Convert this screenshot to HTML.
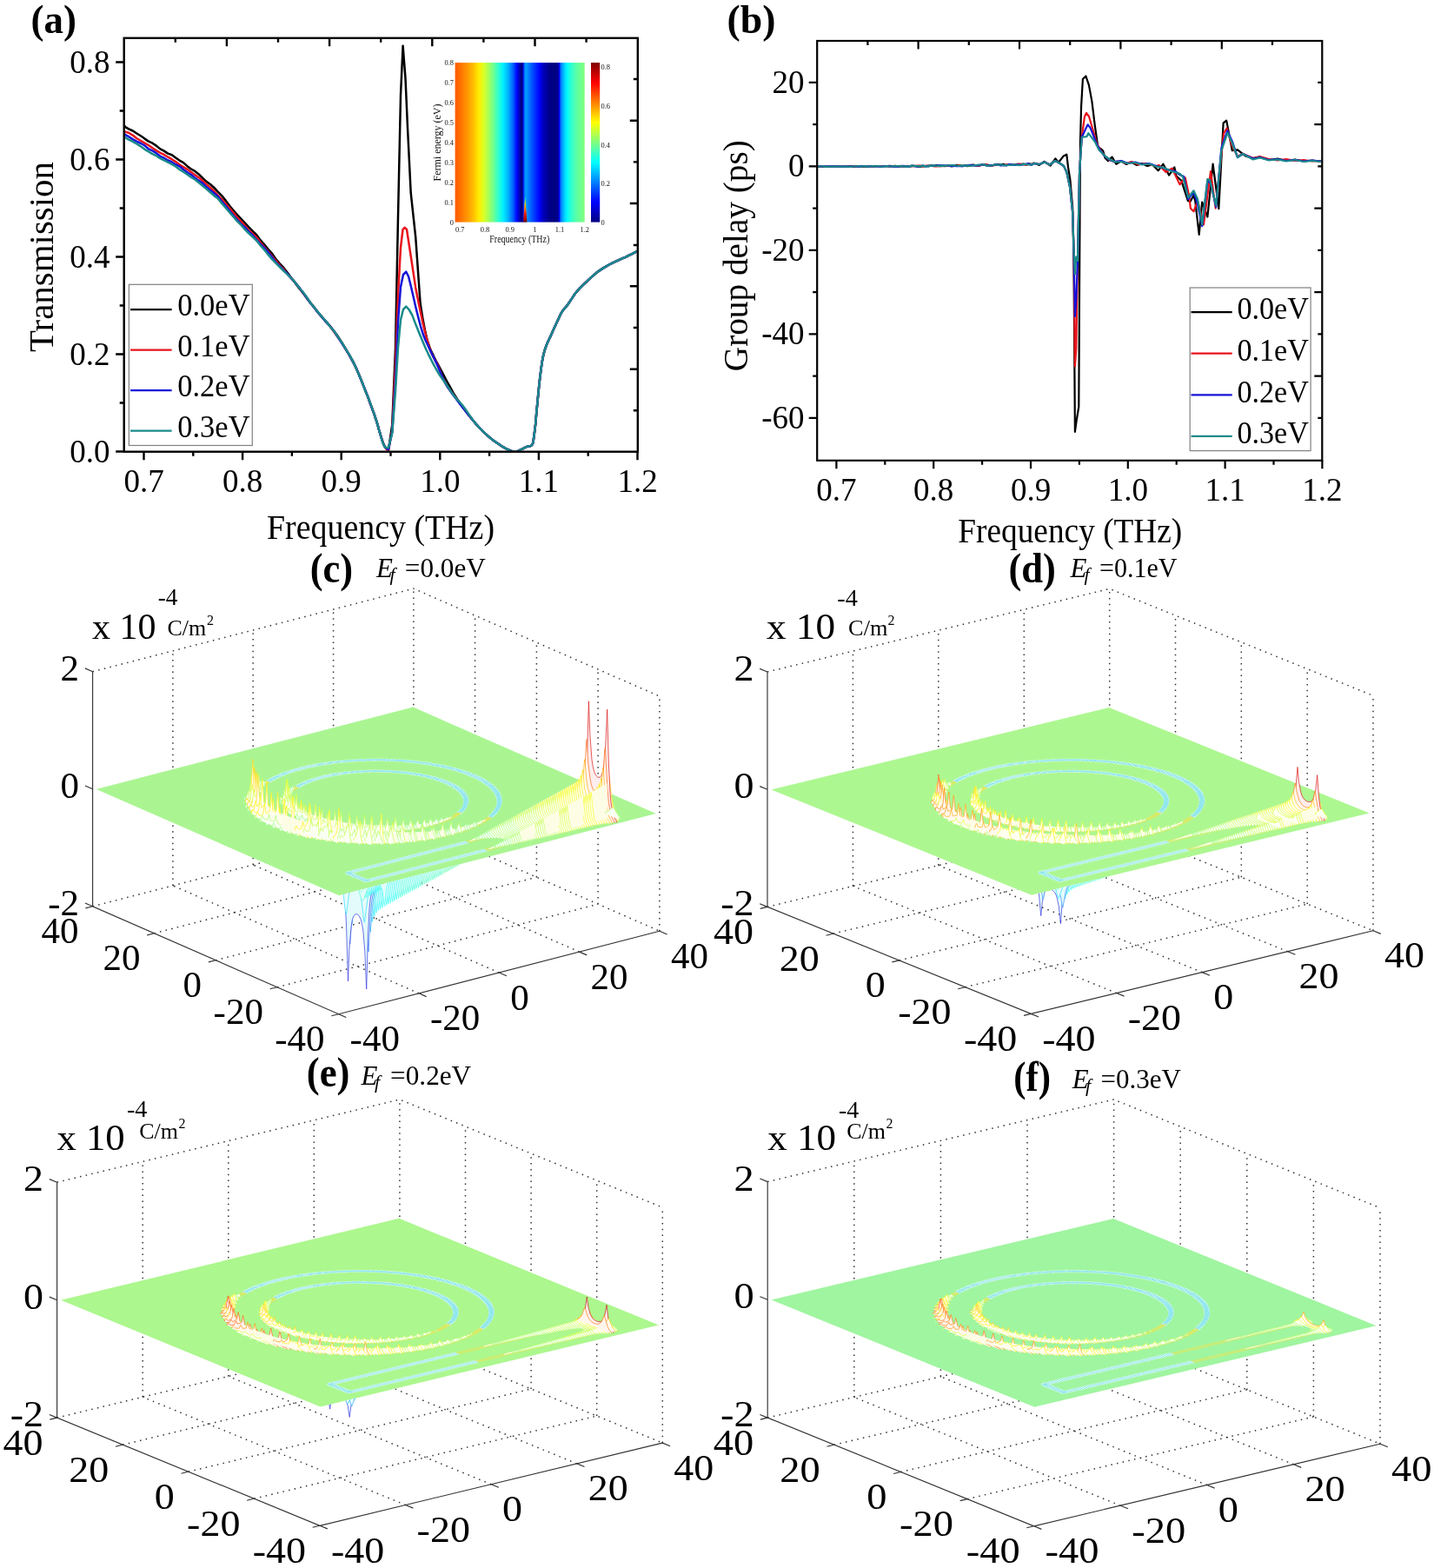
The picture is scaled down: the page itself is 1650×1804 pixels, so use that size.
<!DOCTYPE html>
<html><head><meta charset="utf-8"><title>Figure</title><style>.j0{stroke:#191998;fill:#ededf7}
.n0{stroke:#3333a3;fill:#e4fbfb}
.j1{stroke:#1919af;fill:#ededf9}
.n1{stroke:#3333b8;fill:#e4fbfb}
.j2{stroke:#1919c6;fill:#ededfb}
.n2{stroke:#3333cc;fill:#e4fbfb}
.j3{stroke:#1919dd;fill:#ededfc}
.n3{stroke:#3333e0;fill:#e4fbfb}
.j4{stroke:#1919f4;fill:#ededfe}
.n4{stroke:#3333f5;fill:#e4fbfb}
.j5{stroke:#1925ff;fill:#edeeff}
.n5{stroke:#333dff;fill:#e4fbfb}
.j6{stroke:#193cff;fill:#edf0ff}
.n6{stroke:#3352ff;fill:#e4fbfb}
.j7{stroke:#1953ff;fill:#edf2ff}
.n7{stroke:#3366ff;fill:#e4fbfb}
.j8{stroke:#196aff;fill:#edf3ff}
.n8{stroke:#337aff;fill:#e4fbfb}
.j9{stroke:#1981ff;fill:#edf5ff}
.n9{stroke:#338fff;fill:#e4fbfb}
.j10{stroke:#1998ff;fill:#edf7ff}
.n10{stroke:#33a3ff;fill:#e4fbfb}
.j11{stroke:#19afff;fill:#edf9ff}
.n11{stroke:#33b8ff;fill:#e4fbfb}
.j12{stroke:#19c6ff;fill:#edfbff}
.n12{stroke:#33ccff;fill:#e4fbfb}
.j13{stroke:#19ddff;fill:#edfcff}
.n13{stroke:#33e0ff;fill:#e4fbfb}
.j14{stroke:#19f4ff;fill:#edfeff}
.n14{stroke:#33f5ff;fill:#e4fbfb}
.j15{stroke:#25fff4;fill:#eefffe}
.n15{stroke:#3dfff5;fill:#e4fbfb}
.j16{stroke:#3cffdd;fill:#f0fffc}
.n16{stroke:#52ffe0;fill:#e4fbfb}
.j17{stroke:#53ffc6;fill:#f2fffb}
.n17{stroke:#66ffcc;fill:#e4fbfb}
.j18{stroke:#6affaf;fill:#f3fff9}
.n18{stroke:#7affb8;fill:#e4fbfb}
.j19{stroke:#81ff98;fill:#f5fff7}
.n19{stroke:#8fffa3;fill:#e4fbfb}
.j20{stroke:#98ff81;fill:#f7fff5}
.n20{stroke:#a3ff8f;fill:#e4fbfb}
.j21{stroke:#afff6a;fill:#f9fff3}
.n21{stroke:#b8ff7a;fill:#e4fbfb}
.j22{stroke:#c6ff53;fill:#fbfff2}
.n22{stroke:#ccff66;fill:#e4fbfb}
.j23{stroke:#ddff3c;fill:#fcfff0}
.n23{stroke:#e0ff52;fill:#e4fbfb}
.j24{stroke:#f4ff25;fill:#feffee}
.n24{stroke:#f5ff3d;fill:#e4fbfb}
.j25{stroke:#fff419;fill:#fffeed}
.n25{stroke:#fff533;fill:#e4fbfb}
.j26{stroke:#ffdd19;fill:#fffced}
.n26{stroke:#ffe033;fill:#e4fbfb}
.j27{stroke:#ffc619;fill:#fffbed}
.n27{stroke:#ffcc33;fill:#e4fbfb}
.j28{stroke:#ffaf19;fill:#fff9ed}
.n28{stroke:#ffb833;fill:#e4fbfb}
.j29{stroke:#ff9819;fill:#fff7ed}
.n29{stroke:#ffa333;fill:#e4fbfb}
.j30{stroke:#ff8119;fill:#fff5ed}
.n30{stroke:#ff8f33;fill:#e4fbfb}
.j31{stroke:#ff6a19;fill:#fff3ed}
.n31{stroke:#ff7a33;fill:#e4fbfb}
.j32{stroke:#ff5319;fill:#fff2ed}
.n32{stroke:#ff6633;fill:#e4fbfb}
.j33{stroke:#ff3c19;fill:#fff0ed}
.n33{stroke:#ff5233;fill:#e4fbfb}
.j34{stroke:#ff2519;fill:#ffeeed}
.n34{stroke:#ff3d33;fill:#e4fbfb}
.j35{stroke:#f41919;fill:#feeded}
.n35{stroke:#f53333;fill:#e4fbfb}
.j36{stroke:#dd1919;fill:#fceded}
.n36{stroke:#e03333;fill:#e4fbfb}
.j37{stroke:#c61919;fill:#fbeded}
.n37{stroke:#cc3333;fill:#e4fbfb}
.j38{stroke:#af1919;fill:#f9eded}
.n38{stroke:#b83333;fill:#e4fbfb}
.j39{stroke:#981919;fill:#f7eded}
.n39{stroke:#a33333;fill:#e4fbfb}
.ww{fill:#fdfde6;stroke:none}
    body{margin:0;background:#fff}
    svg{display:block}
    text{font-family:"Liberation Serif","Times New Roman",serif;fill:#000}
    .tl{font-size:37px}
    .al{font-size:40px}
    .pl{font-size:47px;font-weight:bold}
    .pl3{font-size:47.5px;font-weight:bold}
    .lg{font-size:36.5px}
    .it{font-size:8.4px;fill:#111}
    .ia{font-size:11.5px;fill:#111}
    .t3{font-size:43px}
    .ti{font-size:31px}
    .tis{font-size:22px}
    .x10{font-size:42px}
    .m4{font-size:28px}
    .cm{font-size:26px}
    .sq{font-size:16px}
    </style></head>
<body><svg width="1650" height="1804" viewBox="0 0 1650 1804">
<defs><linearGradient id="insg" x1="0" x2="1" y1="0" y2="0"><stop offset="0.0009" stop-color="#ff5900"/><stop offset="0.0329" stop-color="#ff6b00"/><stop offset="0.0703" stop-color="#ff8600"/><stop offset="0.1079" stop-color="#ffa100"/><stop offset="0.1454" stop-color="#ffc200"/><stop offset="0.1830" stop-color="#ffeb00"/><stop offset="0.2204" stop-color="#dbff24"/><stop offset="0.2580" stop-color="#a8ff57"/><stop offset="0.2956" stop-color="#6fff90"/><stop offset="0.3332" stop-color="#31ffce"/><stop offset="0.3706" stop-color="#00f0ff"/><stop offset="0.4082" stop-color="#00b5ff"/><stop offset="0.4458" stop-color="#0066ff"/><stop offset="0.4757" stop-color="#0009ff"/><stop offset="0.4923" stop-color="#0000cb"/><stop offset="0.4982" stop-color="#0000af"/><stop offset="0.5084" stop-color="#000088"/><stop offset="0.5153" stop-color="#000083"/><stop offset="0.5223" stop-color="#0000ab"/><stop offset="0.5302" stop-color="#0031ff"/><stop offset="0.5384" stop-color="#008aff"/><stop offset="0.5499" stop-color="#009cff"/><stop offset="0.5612" stop-color="#008aff"/><stop offset="0.5797" stop-color="#0069ff"/><stop offset="0.6027" stop-color="#0047ff"/><stop offset="0.6257" stop-color="#0026ff"/><stop offset="0.6487" stop-color="#0005ff"/><stop offset="0.6763" stop-color="#0000c5"/><stop offset="0.7085" stop-color="#00009a"/><stop offset="0.7361" stop-color="#000085"/><stop offset="0.7611" stop-color="#000080"/><stop offset="0.7743" stop-color="#000085"/><stop offset="0.7848" stop-color="#00008c"/><stop offset="0.7940" stop-color="#00008f"/><stop offset="0.7992" stop-color="#0000af"/><stop offset="0.8045" stop-color="#0000f3"/><stop offset="0.8097" stop-color="#003aff"/><stop offset="0.8163" stop-color="#0074ff"/><stop offset="0.8216" stop-color="#008cff"/><stop offset="0.8321" stop-color="#00abff"/><stop offset="0.8453" stop-color="#00d1ff"/><stop offset="0.8531" stop-color="#00e6ff"/><stop offset="0.8636" stop-color="#00f7ff"/><stop offset="0.8820" stop-color="#1bffe4"/><stop offset="0.9030" stop-color="#36ffc9"/><stop offset="0.9240" stop-color="#4effb1"/><stop offset="0.9502" stop-color="#63ff9c"/><stop offset="0.9766" stop-color="#72ff8d"/><stop offset="1.0000" stop-color="#82ff7d"/></linearGradient><linearGradient id="cbg" x1="0" x2="0" y1="1" y2="0"><stop offset="0.000" stop-color="#000080"/><stop offset="0.062" stop-color="#0000bf"/><stop offset="0.125" stop-color="#0000ff"/><stop offset="0.188" stop-color="#0040ff"/><stop offset="0.250" stop-color="#0080ff"/><stop offset="0.312" stop-color="#00bfff"/><stop offset="0.375" stop-color="#00ffff"/><stop offset="0.438" stop-color="#40ffbf"/><stop offset="0.500" stop-color="#80ff80"/><stop offset="0.562" stop-color="#bfff40"/><stop offset="0.625" stop-color="#ffff00"/><stop offset="0.688" stop-color="#ffbf00"/><stop offset="0.750" stop-color="#ff8000"/><stop offset="0.812" stop-color="#ff4000"/><stop offset="0.875" stop-color="#ff0000"/><stop offset="0.938" stop-color="#bf0000"/><stop offset="1.000" stop-color="#800000"/></linearGradient><linearGradient id="pkg" x1="0" x2="0" y1="1" y2="0"><stop offset="0" stop-color="#800000"/><stop offset="0.35" stop-color="#ff2000"/><stop offset="0.7" stop-color="#ffd000"/><stop offset="1" stop-color="#40ffc0"/></linearGradient><clipPath id="clipA"><rect x="143.5" y="44.8" width="589.5" height="474"/></clipPath><clipPath id="clipB"><rect x="941" y="48" width="579.5" height="481"/></clipPath><clipPath id="outc"><path clip-rule="evenodd" d="M0 0H1650V1804H0Z M390.1 1030.3 L754.8 936 L475.4 813.6 L110.7 907.9Z"/></clipPath><clipPath id="outd"><path clip-rule="evenodd" d="M0 0H1650V1804H0Z M1186.9 1029.8 L1575.6 935.4 L1276.1 814 L887.4 908.4Z"/></clipPath><clipPath id="oute"><path clip-rule="evenodd" d="M0 0H1650V1804H0Z M368.6 1618.5 L757.9 1524.5 L459.3 1401.8 L70 1495.8Z"/></clipPath><clipPath id="outf"><path clip-rule="evenodd" d="M0 0H1650V1804H0Z M1190.2 1618.7 L1583.6 1525.3 L1281 1402.1 L887.6 1495.5Z"/></clipPath></defs>
<rect width="1650" height="1804" fill="#fff"/>
<g fill="none" stroke-width="2.5" stroke-linejoin="round" clip-path="url(#clipA)">
<path d="M143.3 144.7 L144.6 146.3 L148.1 148.3 L152.7 150.5 L157.7 153.8 L162.2 156.5 L166.5 159.6 L170.9 162.6 L175.4 164.7 L179.8 167.6 L184.3 171.4 L188.7 173.6 L193.2 176.6 L197.7 178.2 L202.1 181.4 L206.5 184.6 L211 187.1 L215.5 191.2 L219.9 194.5 L224.3 196.9 L228.7 200.4 L233.2 204.8 L237.7 209.1 L242.2 212.3 L246.6 216.2 L250.9 220.8 L255.4 225.4 L259.8 230.9 L264.2 236.7 L268.6 242.2 L273 247.2 L277.4 251.9 L281.9 256.5 L286.3 261.4 L290.8 265.8 L295.2 270.2 L299.7 276.4 L304.2 281.3 L308.6 286.8 L313 291.6 L317.4 298 L321.9 303.3 L326.3 307.9 L330.8 313.7 L335.2 319.8 L339.6 325.4 L344 331.4 L348.4 336.6 L352.8 342.9 L357.2 348.5 L361.7 353.8 L366.1 359.4 L370.6 365 L375.1 370.1 L379.6 375 L383.9 380.7 L388.6 386.6 L393.2 393.8 L397.7 401.5 L402 408.4 L406.1 415.6 L410.1 424.3 L413.9 433.2 L417.4 441.9 L420.7 450.1 L423.8 458.1 L426.1 464.2 L428.3 470.4 L430.3 475.7 L432 481 L433.6 485.7 L434.4 488.4 L435.1 490.9 L435.7 493.2 L436.3 495.5 L437.1 498 L438.1 501.3 L439.3 505 L440.5 508.7 L441.8 511.9 L443.1 514.5 L444 515.7 L445.1 516.8 L446.1 517.7 L446.9 518.3 L451.3 488.4 L455 400 L458 250 L461 110 L463.6 52.7 L466.5 90 L469.1 149 L472.7 221.8 L478.2 272.7 L483.6 349 L484 351.3 L484.9 357.3 L486.2 365.1 L487.7 373.3 L489 380 L490 384.3 L490.9 388.3 L491.9 392.1 L493.1 396 L494.5 400 L496.6 404.9 L499 409.9 L501.6 415 L504.4 420.2 L507.3 425.5 L510.6 431.9 L514.1 438.5 L517.8 445.2 L521.5 451.8 L525.5 458.2 L529.7 464.4 L534.1 470.6 L538.6 476.6 L543.1 482.3 L547.3 487.3 L550.2 490.6 L553 493.6 L555.7 496.3 L558.4 498.9 L561.3 501.5 L564.3 504 L567.4 506.4 L570.6 508.7 L573.6 510.8 L576.4 512.7 L578.2 513.9 L580 514.9 L581.7 515.9 L583.3 516.7 L585 517.5 L586.5 518.2 L588 518.8 L589.4 519.3 L590.9 519.7 L592.4 519.8 L594 519.6 L595.6 519.1 L597.1 518.4 L598.7 517.6 L600.2 516.9 L601.5 516.3 L602.8 515.6 L604 515 L605.2 514.3 L606.4 513.8 L607.5 513.5 L608.7 513.4 L609.8 513.2 L610.9 512.9 L611.8 512.3 L612.9 510.5 L613.6 508 L614 505 L614.4 501.7 L614.9 498.3 L615.6 492.9 L616.3 486.8 L616.8 480.3 L617.4 473.7 L618 467.3 L618.6 461 L619.2 454.7 L619.8 448.5 L620.4 442.3 L621.1 436.2 L621.8 430.6 L622.5 424.9 L623.3 419.4 L624.1 414.3 L625 409.8 L625.6 407.3 L626.1 405.2 L626.7 403.2 L627.3 401.2 L628.1 399 L629.1 396.3 L630.3 393.6 L631.6 390.8 L633 387.9 L634.3 385 L635.8 381.6 L637.4 378 L639.1 374.4 L640.6 371 L642.1 367.9 L643.1 365.8 L643.9 363.9 L644.8 362.1 L645.7 360.3 L646.7 358.6 L647.8 357 L649 355.6 L650.2 354.1 L651.5 352.6 L652.9 350.9 L654.9 348.1 L657 344.9 L659.2 341.6 L661.4 338.3 L663.8 335.3 L666.2 332.6 L668.6 330.1 L671.1 327.6 L673.7 325.3 L676.2 322.9 L678.6 320.6 L681 318.4 L683.5 316.2 L686 314.1 L688.6 312.1 L691.5 310.1 L694.6 308.1 L697.7 306.3 L700.9 304.5 L704.1 302.8 L707.2 301.3 L710.4 299.9 L713.5 298.5 L716.6 297.2 L719.7 295.8 L723 294.2 L726.7 292.4 L730.1 290.6 L732.6 289.3 L733.6 288.8" stroke="#000000"/>
<path d="M143.3 151.1 L144.6 151.9 L148.1 152.8 L152.7 155.6 L157.7 159.5 L162.2 162 L166.5 164.6 L170.9 167 L175.4 170.2 L179.8 173.1 L184.3 175.8 L188.7 177.9 L193.2 180.7 L197.7 183.2 L202.1 186.1 L206.5 189.2 L211 192.2 L215.5 194.8 L219.9 198 L224.3 201.2 L228.7 204.3 L233.2 208 L237.7 212.2 L242.2 215.9 L246.6 220 L250.9 224.8 L255.4 229.3 L259.8 234.7 L264.2 239.7 L268.6 244.8 L273 250.3 L277.4 254.8 L281.9 259.8 L286.3 264.8 L290.8 269 L295.2 273.1 L299.7 279 L304.1 284.1 L308.5 289.3 L313 294.9 L317.4 299.9 L321.8 305.1 L326.3 309.6 L330.8 315.3 L335.2 320.4 L339.6 324.7 L344.1 331.1 L348.5 336.8 L352.9 342.4 L357.3 348.3 L361.7 354 L366.1 359.8 L370.6 364.5 L375.1 370 L379.6 374.8 L383.9 381.1 L388.6 387.7 L393.2 394 L397.7 401.3 L402 409 L406.1 416.3 L410.1 424.2 L413.9 432.6 L417.4 441.5 L420.7 450.5 L423.8 457.8 L426.1 464.7 L428.3 469.8 L430.3 475.7 L432 481 L433.6 485.7 L434.4 488.4 L435.1 490.9 L435.7 493.2 L436.3 495.5 L437.1 498 L438.1 501.3 L439.3 505 L440.5 508.7 L441.8 511.9 L443.1 514.5 L444 515.7 L445.1 516.8 L446.1 517.7 L446.9 518.3 L451.3 495 L455 420 L458 340 L461 285 L463.5 264 L465.5 261.8 L468 264 L472 290 L475.1 310.4 L478.2 330.9 L478.5 332.6 L479.4 337 L480.6 343 L481.8 349.3 L483 355 L484.1 360.3 L485.3 365.7 L486.4 371.2 L487.7 376.6 L489 381.8 L490.3 386.7 L491.6 391.5 L493 396.2 L494.4 400.8 L496 405 L497.4 408.2 L498.9 411.2 L500.5 414 L502.1 416.9 L503.6 420 L505.2 423.8 L506.8 427.9 L508.3 432 L510 436.1 L512 440 L514.3 443.9 L516.9 447.6 L519.6 451.2 L522.5 455 L525.5 459 L529.6 464.5 L534 470.5 L538.6 476.5 L543.1 482.2 L547.3 487.3 L550.2 490.6 L553 493.5 L555.7 496.3 L558.4 498.9 L561.3 501.5 L564.3 504 L567.4 506.4 L570.6 508.7 L573.6 510.8 L576.4 512.7 L578.2 513.9 L580 514.9 L581.7 515.9 L583.3 516.7 L585 517.5 L586.5 518.2 L588 518.8 L589.4 519.3 L590.9 519.7 L592.4 519.8 L594 519.6 L595.6 519.1 L597.1 518.4 L598.7 517.6 L600.2 516.9 L601.5 516.3 L602.8 515.6 L604 515 L605.2 514.3 L606.4 513.8 L607.5 513.5 L608.7 513.4 L609.8 513.2 L610.9 512.9 L611.8 512.3 L612.9 510.5 L613.6 508 L614 505 L614.4 501.7 L614.9 498.3 L615.6 492.9 L616.3 486.8 L616.8 480.3 L617.4 473.7 L618 467.3 L618.6 461 L619.2 454.7 L619.8 448.5 L620.4 442.3 L621.1 436.2 L621.8 430.6 L622.5 424.9 L623.3 419.4 L624.1 414.3 L625 409.8 L625.6 407.3 L626.1 405.2 L626.7 403.2 L627.3 401.2 L628.1 399 L629.1 396.3 L630.3 393.6 L631.6 390.8 L633 387.9 L634.3 385 L635.8 381.6 L637.4 378 L639.1 374.4 L640.6 371 L642.1 367.9 L643.1 365.8 L643.9 363.9 L644.8 362.1 L645.7 360.3 L646.7 358.6 L647.8 357 L649 355.6 L650.2 354.1 L651.5 352.6 L652.9 350.9 L654.9 348.1 L657 344.9 L659.2 341.6 L661.4 338.3 L663.8 335.3 L666.2 332.6 L668.6 330.1 L671.1 327.6 L673.7 325.3 L676.2 322.9 L678.6 320.6 L681 318.4 L683.5 316.2 L686 314.1 L688.6 312.1 L691.5 310.1 L694.6 308.1 L697.7 306.3 L700.9 304.5 L704.1 302.8 L707.2 301.3 L710.4 299.9 L713.5 298.5 L716.6 297.2 L719.7 295.8 L723 294.2 L726.7 292.4 L730.1 290.6 L732.6 289.3 L733.6 288.8" stroke="#e8141c"/>
<path d="M143.3 154.3 L144.6 155.4 L148.1 157.2 L152.7 160.1 L157.7 163 L162.2 165 L166.5 167.5 L170.9 171.3 L175.4 173.4 L179.8 176.1 L184.3 179.8 L188.7 181.7 L193.2 184.5 L197.7 186.5 L202.1 189.2 L206.5 191.3 L211 194.9 L215.5 198.2 L219.9 201 L224.3 204.6 L228.7 207.9 L233.2 210.8 L237.7 215.3 L242.2 218.9 L246.6 222.5 L250.9 226.3 L255.4 232.2 L259.8 237 L264.2 242.6 L268.6 248.1 L273 253 L277.4 257.9 L281.9 261.7 L286.3 266.6 L290.8 270.7 L295.2 275.9 L299.7 280.9 L304.1 285.1 L308.5 290.4 L312.9 295.8 L317.4 301.8 L321.8 306 L326.3 310.9 L330.8 315.1 L335.2 320.1 L339.6 325 L344.1 330.5 L348.5 336.6 L352.9 342.5 L357.3 348.8 L361.7 354.2 L366.1 359.9 L370.6 364.9 L375.1 370.2 L379.6 375.2 L383.9 380.2 L388.6 387.6 L393.2 394.6 L397.7 401.7 L402 408.6 L406.1 416.3 L410.1 423.9 L413.9 433.3 L417.4 441.8 L420.7 450 L423.8 457.7 L426.1 464.6 L428.3 470.7 L430.3 475.7 L432 481 L433.6 485.7 L434.4 488.4 L435.1 490.9 L435.7 493.2 L436.3 495.5 L437.1 498 L438.1 501.4 L439.2 505.2 L440.4 508.9 L441.7 512.1 L443.1 514.5 L444 515.3 L445.1 516 L446.1 516.6 L446.9 516.9 L451.3 497 L455 440 L458 370 L461 330 L464 316 L467.3 312.7 L470 318 L473 330 L473.5 332.2 L474.8 337.8 L476.5 345.3 L478.3 353.2 L480 360 L481.3 365.2 L482.7 370.4 L484 375.5 L485.5 380.4 L487 385 L488.4 388.6 L489.8 392 L491.4 395.3 L492.9 398.6 L494.5 402 L496.2 405.7 L498.1 409.5 L499.9 413.3 L501.8 417.1 L503.6 421 L505.4 425.2 L507.2 429.4 L509 433.7 L510.9 437.9 L513 442 L515.3 445.8 L517.8 449.4 L520.3 453 L523.1 456.6 L526 460.5 L529.9 465.7 L534.3 471.3 L538.7 477 L543.2 482.5 L547.3 487.3 L550.2 490.5 L553 493.5 L555.7 496.3 L558.4 498.9 L561.3 501.5 L564.3 504 L567.4 506.4 L570.6 508.7 L573.6 510.8 L576.4 512.7 L578.2 513.9 L580 514.9 L581.7 515.9 L583.3 516.7 L585 517.5 L586.5 518.2 L588 518.8 L589.4 519.3 L590.9 519.7 L592.4 519.8 L594 519.6 L595.6 519.1 L597.1 518.4 L598.7 517.6 L600.2 516.9 L601.5 516.3 L602.8 515.6 L604 515 L605.2 514.3 L606.4 513.8 L607.5 513.5 L608.7 513.4 L609.8 513.2 L610.9 512.9 L611.8 512.3 L612.9 510.5 L613.6 508 L614 505 L614.4 501.7 L614.9 498.3 L615.6 492.9 L616.3 486.8 L616.8 480.3 L617.4 473.7 L618 467.3 L618.6 461 L619.2 454.7 L619.8 448.5 L620.4 442.3 L621.1 436.2 L621.8 430.6 L622.5 424.9 L623.3 419.4 L624.1 414.3 L625 409.8 L625.6 407.3 L626.1 405.2 L626.7 403.2 L627.3 401.2 L628.1 399 L629.1 396.3 L630.3 393.6 L631.6 390.8 L633 387.9 L634.3 385 L635.8 381.6 L637.4 378 L639.1 374.4 L640.6 371 L642.1 367.9 L643.1 365.8 L643.9 363.9 L644.8 362.1 L645.7 360.3 L646.7 358.6 L647.8 357 L649 355.6 L650.2 354.1 L651.5 352.6 L652.9 350.9 L654.9 348.1 L657 344.9 L659.2 341.6 L661.4 338.3 L663.8 335.3 L666.2 332.6 L668.6 330.1 L671.1 327.6 L673.7 325.3 L676.2 322.9 L678.6 320.6 L681 318.4 L683.5 316.2 L686 314.1 L688.6 312.1 L691.5 310.1 L694.6 308.1 L697.7 306.3 L700.9 304.5 L704.1 302.8 L707.2 301.3 L710.4 299.9 L713.5 298.5 L716.6 297.2 L719.7 295.8 L723 294.2 L726.7 292.4 L730.1 290.6 L732.6 289.3 L733.6 288.8" stroke="#1414d8"/>
<path d="M143.3 157.8 L144.6 158.4 L148.1 160.6 L152.7 162.9 L157.7 165.7 L162.2 168.6 L166.5 171.8 L170.9 174.4 L175.4 177.1 L179.8 179.2 L184.3 182.2 L188.7 184.4 L193.2 186.6 L197.7 188.9 L202.1 191.5 L206.5 195 L211 197.8 L215.5 200.8 L219.9 204 L224.3 206.5 L228.7 210 L233.2 213.9 L237.7 217.6 L242.2 221.5 L246.6 225.4 L250.9 228.6 L255.4 234.1 L259.8 239.3 L264.2 244.4 L268.6 249.3 L273 254.7 L277.4 258.8 L281.9 264.2 L286.3 268.5 L290.8 272.5 L295.2 276.8 L299.7 282.5 L304.1 287.3 L308.5 292.9 L312.9 298.1 L317.4 302.7 L321.8 307.1 L326.3 311.7 L330.8 315.8 L335.2 320 L339.6 324.9 L344.1 331 L348.5 335.8 L352.9 341.8 L357.3 348.4 L361.7 353.7 L366.1 359.4 L370.6 364.5 L375.1 369.5 L379.6 375.6 L383.9 380.2 L388.6 387.1 L393.2 393.7 L397.7 401.3 L402 408.2 L406.1 415.8 L410.1 424.5 L413.9 432.7 L417.4 441.8 L420.7 450.7 L423.8 457.7 L426.1 463.7 L428.3 469.8 L430.3 475.7 L432 481 L433.6 485.7 L434.4 488.4 L435.1 490.9 L435.7 493.2 L436.3 495.5 L437.1 498 L438.1 501.5 L439.2 505.4 L440.4 509.3 L441.7 512.5 L443.1 514.5 L444 514.9 L445.1 515.1 L446.1 515.1 L446.9 515 L451.3 498 L455 450 L458 400 L461 368 L464 356 L467.3 352.7 L470.5 356 L474 362 L474.6 363.4 L476 367.1 L477.9 372.1 L480 377.3 L481.8 381.8 L483.2 385.3 L484.7 388.8 L486.1 392.3 L487.5 395.6 L489 399 L490.4 402.2 L491.9 405.3 L493.3 408.4 L494.8 411.4 L496.4 414.5 L498 417.6 L499.7 420.8 L501.4 423.9 L503.2 427 L505 430 L506.8 432.8 L508.7 435.6 L510.7 438.3 L512.6 440.9 L514.5 443.6 L516.2 446.1 L517.9 448.7 L519.5 451.2 L521.2 453.6 L523 456 L524.8 458.2 L526.7 460.3 L528.7 462.4 L530.7 464.6 L532.7 467 L535.5 470.7 L538.3 474.9 L541.3 479.2 L544.3 483.4 L547.3 487.3 L550 490.4 L552.8 493.4 L555.5 496.2 L558.4 498.9 L561.3 501.5 L564.3 504 L567.4 506.4 L570.6 508.7 L573.6 510.8 L576.4 512.7 L578.2 513.9 L580 514.9 L581.7 515.9 L583.3 516.7 L585 517.5 L586.5 518.2 L588 518.8 L589.4 519.3 L590.9 519.7 L592.4 519.8 L594 519.6 L595.6 519.1 L597.1 518.4 L598.7 517.6 L600.2 516.9 L601.5 516.3 L602.8 515.6 L604 515 L605.2 514.3 L606.4 513.8 L607.5 513.5 L608.7 513.4 L609.8 513.2 L610.9 512.9 L611.8 512.3 L612.9 510.5 L613.6 508 L614 505 L614.4 501.7 L614.9 498.3 L615.6 492.9 L616.3 486.8 L616.8 480.3 L617.4 473.7 L618 467.3 L618.6 461 L619.2 454.7 L619.8 448.5 L620.4 442.3 L621.1 436.2 L621.8 430.6 L622.5 424.9 L623.3 419.4 L624.1 414.3 L625 409.8 L625.6 407.3 L626.1 405.2 L626.7 403.2 L627.3 401.2 L628.1 399 L629.1 396.3 L630.3 393.6 L631.6 390.8 L633 387.9 L634.3 385 L635.8 381.6 L637.4 378 L639.1 374.4 L640.6 371 L642.1 367.9 L643.1 365.8 L643.9 363.9 L644.8 362.1 L645.7 360.3 L646.7 358.6 L647.8 357 L649 355.6 L650.2 354.1 L651.5 352.6 L652.9 350.9 L654.9 348.1 L657 344.9 L659.2 341.6 L661.4 338.3 L663.8 335.3 L666.2 332.6 L668.6 330.1 L671.1 327.6 L673.7 325.3 L676.2 322.9 L678.6 320.6 L681 318.4 L683.5 316.2 L686 314.1 L688.6 312.1 L691.5 310.1 L694.6 308.1 L697.7 306.3 L700.9 304.5 L704.1 302.8 L707.2 301.3 L710.4 299.9 L713.5 298.5 L716.6 297.2 L719.7 295.8 L723 294.2 L726.7 292.4 L730.1 290.6 L732.6 289.3 L733.6 288.8" stroke="#1a8a8a"/>
</g>
<rect x="142.7" y="43.8" width="591.1" height="475.9" fill="none" stroke="#000" stroke-width="2.4"/>
<path d="M142.7 519.5H133.2M142.7 463.5H137.7M142.7 407.5H133.2M142.7 351.5H137.7M142.7 295.5H133.2M142.7 239.5H137.7M142.7 183.5H133.2M142.7 127.5H137.7M142.7 71.5H133.2M165.5 519.7V529.2M222.3 519.7V524.7M279.1 519.7V529.2M335.9 519.7V524.7M392.7 519.7V529.2M449.5 519.7V524.7M506.3 519.7V529.2M563.1 519.7V524.7M619.9 519.7V529.2M676.7 519.7V524.7M733.5 519.7V529.2M201.8 43.8V48.8M260.9 43.8V53.3M320.0 43.8V48.8M379.1 43.8V53.3M438.2 43.8V48.8M497.3 43.8V53.3M556.4 43.8V48.8M615.5 43.8V53.3M674.6 43.8V48.8M733.8 91.0H728.8M733.8 138.7H724.8M733.8 186.4H728.8M733.8 234.0H724.8M733.8 282.0H728.8M733.8 329.3H724.8M733.8 377.0H728.8M733.8 424.7H724.8M733.8 472.3H728.8" stroke="#000" stroke-width="2.4" fill="none"/>
<text x="126.5" y="532.0" class="tl" text-anchor="end">0.0</text>
<text x="126.5" y="420.0" class="tl" text-anchor="end">0.2</text>
<text x="126.5" y="308.0" class="tl" text-anchor="end">0.4</text>
<text x="126.5" y="196.0" class="tl" text-anchor="end">0.6</text>
<text x="126.5" y="84.0" class="tl" text-anchor="end">0.8</text>
<text x="165.5" y="566" class="tl" text-anchor="middle">0.7</text>
<text x="279.1" y="566" class="tl" text-anchor="middle">0.8</text>
<text x="392.7" y="566" class="tl" text-anchor="middle">0.9</text>
<text x="506.3" y="566" class="tl" text-anchor="middle">1.0</text>
<text x="619.9" y="566" class="tl" text-anchor="middle">1.1</text>
<text x="733.5" y="566" class="tl" text-anchor="middle">1.2</text>
<text x="438" y="619.5" class="al" text-anchor="middle" textLength="262" lengthAdjust="spacingAndGlyphs">Frequency (THz)</text>
<text transform="translate(61,295.5) rotate(-90)" class="al" text-anchor="middle" textLength="219" lengthAdjust="spacingAndGlyphs">Transmission</text>
<text x="35.5" y="37.5" class="pl" textLength="52.4" lengthAdjust="spacingAndGlyphs">(a)</text>
<rect x="148.4" y="327.3" width="141.9" height="185.2" fill="#fff" stroke="#808080" stroke-width="1.2"/>
<path d="M150 356.2H197.6" stroke="#000000" stroke-width="2.3"/>
<text x="204.3" y="363.0" class="lg" textLength="83.2" lengthAdjust="spacingAndGlyphs">0.0eV</text>
<path d="M150 402.7H197.6" stroke="#e8141c" stroke-width="2.3"/>
<text x="204.3" y="409.5" class="lg" textLength="83.2" lengthAdjust="spacingAndGlyphs">0.1eV</text>
<path d="M150 449.2H197.6" stroke="#1414d8" stroke-width="2.3"/>
<text x="204.3" y="456.0" class="lg" textLength="83.2" lengthAdjust="spacingAndGlyphs">0.2eV</text>
<path d="M150 495.7H197.6" stroke="#1a8a8a" stroke-width="2.3"/>
<text x="204.3" y="502.5" class="lg" textLength="83.2" lengthAdjust="spacingAndGlyphs">0.3eV</text>
<rect x="523.6" y="72.1" width="149.1" height="183.5" fill="url(#insg)"/>
<polygon points="602.0,255.6 604.3,225.8 606.5,255.6" fill="url(#pkg)"/>
<rect x="680" y="72.1" width="10.2" height="183.5" fill="url(#cbg)"/>
<text x="522" y="258.8" class="it" text-anchor="end">0</text>
<text x="522" y="235.9" class="it" text-anchor="end">0.1</text>
<text x="522" y="212.9" class="it" text-anchor="end">0.2</text>
<text x="522" y="190.0" class="it" text-anchor="end">0.3</text>
<text x="522" y="167.0" class="it" text-anchor="end">0.4</text>
<text x="522" y="144.1" class="it" text-anchor="end">0.5</text>
<text x="522" y="121.2" class="it" text-anchor="end">0.6</text>
<text x="522" y="98.2" class="it" text-anchor="end">0.7</text>
<text x="522" y="75.3" class="it" text-anchor="end">0.8</text>
<text x="529.3" y="266.5" class="it" text-anchor="middle">0.7</text>
<text x="558.0" y="266.5" class="it" text-anchor="middle">0.8</text>
<text x="586.7" y="266.5" class="it" text-anchor="middle">0.9</text>
<text x="615.4" y="266.5" class="it" text-anchor="middle">1</text>
<text x="644.0" y="266.5" class="it" text-anchor="middle">1.1</text>
<text x="672.7" y="266.5" class="it" text-anchor="middle">1.2</text>
<text x="691.5" y="259.1" class="it">0</text>
<text x="691.5" y="214.3" class="it">0.2</text>
<text x="691.5" y="169.6" class="it">0.4</text>
<text x="691.5" y="124.8" class="it">0.6</text>
<text x="691.5" y="80.1" class="it">0.8</text>
<text x="597.8" y="278.5" class="ia" text-anchor="middle" textLength="69" lengthAdjust="spacingAndGlyphs">Frequency (THz)</text>
<text transform="translate(507,164) rotate(-90)" class="ia" text-anchor="middle" textLength="89" lengthAdjust="spacingAndGlyphs">Fermi energy (eV)</text>
<g fill="none" stroke-width="2.2" stroke-linejoin="round" clip-path="url(#clipB)">
<path d="M940.5 191.6 L943.7 191.6 L946.9 191.8 L950.1 191.6 L953.3 191.6 L956.5 191.6 L959.7 191.4 L962.9 191.6 L966.1 191.7 L969.3 191.8 L972.5 191.3 L975.7 191.4 L978.9 191.2 L982.1 191.8 L985.3 191.7 L988.5 191.1 L991.7 191.9 L994.9 191.9 L998.1 191.6 L1001.3 191.5 L1004.5 191.1 L1007.7 191 L1010.9 191.4 L1014.1 191 L1017.3 191.1 L1020.5 191.1 L1023.7 190.8 L1026.9 191.3 L1030.1 191.2 L1033.3 191.6 L1036.5 191.2 L1039.7 191.3 L1042.9 191.2 L1046.1 191.3 L1049.3 191.1 L1052.5 190.8 L1055.7 191.7 L1058.9 191.6 L1062.1 191.4 L1065.3 191.2 L1068.5 190.7 L1071.7 190.5 L1074.9 190.6 L1078.1 190.2 L1081.3 191.1 L1084.5 190.6 L1087.7 191.2 L1090.9 190.5 L1094.1 191.3 L1097.3 191.1 L1100.5 189.8 L1103.7 190 L1106.9 191.1 L1110.1 190.4 L1113.3 191.1 L1116.5 190.1 L1119.7 189.6 L1122.9 190.4 L1126.1 190.6 L1129.3 189.7 L1132.5 189.4 L1135.7 189.7 L1138.9 190.8 L1142.1 190.4 L1145.3 189.2 L1148.5 189.3 L1151.7 189 L1154.9 188.9 L1158.1 190.2 L1161.3 189 L1164.5 189.6 L1167.7 189.3 L1170.9 188.8 L1174.1 189.8 L1177.3 188.5 L1180.5 189.5 L1183.7 188.3 L1186.9 188.9 L1190 187.6 L1195.8 189.9 L1201.6 185.8 L1208.6 190.5 L1214.4 182.3 L1217.9 187 L1223.8 179.4 L1227.3 177.7 L1229 192.2 L1231.3 206.2 L1234.2 238.8 L1235.5 300 L1236.9 496.8 L1238.5 485 L1241.3 467.8 L1242.2 300 L1243 163.1 L1244.1 122.4 L1245.9 91 L1249.4 87.5 L1252.9 97.9 L1256.4 116.6 L1259.8 144.5 L1263.3 169 L1266.8 171.3 L1269.2 173.6 L1271.5 181.8 L1275 185.2 L1279.6 180.6 L1284.3 188.7 L1290 185.2 L1296 189 L1302 186.5 L1308 190 L1314 188 L1320 191 L1326 189.5 L1330 193.6 L1332.7 196.3 L1338.4 188.7 L1345.1 201.6 L1351.3 192.3 L1353.5 202.5 L1359.3 207.8 L1366.8 230.9 L1369.5 232 L1373.5 224.7 L1375.2 230.9 L1379.7 269.9 L1383.2 232.6 L1389.4 249.5 L1395.6 188.7 L1402.3 240.2 L1407.6 141.7 L1411.2 138.6 L1417.8 173.2 L1424 172.3 L1432.9 179.4 L1441.8 182.1 L1449.7 180.3 L1460 184 L1470 182.5 L1480 185 L1490 183.5 L1500 185.5 L1510 184.5 L1520.5 186" stroke="#000000"/>
<path d="M940.5 191.5 L943.7 191.7 L946.9 191.7 L950.1 191.6 L953.3 191.5 L956.5 191.7 L959.7 191.7 L962.9 191.6 L966.1 191.6 L969.3 191.4 L972.5 191.3 L975.7 191.5 L978.9 191.6 L982.1 191.2 L985.3 191.7 L988.5 191.3 L991.7 191.3 L994.9 191.1 L998.1 191.8 L1001.3 191.6 L1004.5 191.7 L1007.7 191.5 L1010.9 191 L1014.1 191.2 L1017.3 191.4 L1020.5 191 L1023.7 191.7 L1026.9 191.2 L1030.1 190.9 L1033.3 191.5 L1036.5 190.9 L1039.7 191.6 L1042.9 191.1 L1046.1 191.2 L1049.3 190.9 L1052.5 191.1 L1055.7 190.7 L1058.9 190.5 L1062.1 191.4 L1065.3 190.7 L1068.5 191.2 L1071.7 190.5 L1074.9 191.4 L1078.1 191.3 L1081.3 191.1 L1084.5 191.1 L1087.7 190.8 L1090.9 190.9 L1094.1 190.1 L1097.3 190.5 L1100.5 191 L1103.7 190.1 L1106.9 191 L1110.1 190.9 L1113.3 190.2 L1116.5 190.1 L1119.7 190.2 L1122.9 190 L1126.1 190.9 L1129.3 189.9 L1132.5 189.4 L1135.7 189.4 L1138.9 190.3 L1142.1 190.7 L1145.3 189.8 L1148.5 189.8 L1151.7 189.8 L1154.9 190.1 L1158.1 189.2 L1161.3 189.7 L1164.5 189.6 L1167.7 189.7 L1170.9 188.8 L1174.1 188.7 L1177.3 189 L1180.5 189.9 L1183.7 188.9 L1186.9 189.2 L1190 188 L1196 189 L1202 186.5 L1208 189.5 L1214 185 L1219 187.5 L1224 191 L1227.3 198 L1231 215 L1234.2 244.6 L1235.6 290 L1236.9 421.4 L1238.3 401.4 L1240 300 L1242 200 L1244.7 158 L1248 134 L1250 130 L1253 134 L1257.5 149.2 L1262.2 165.5 L1266 172 L1270 178 L1276 184 L1282 186 L1290 185.5 L1296 188 L1302 186 L1310 189.5 L1318 188 L1326 190 L1330 191 L1333.5 190 L1341.5 198 L1348.6 193.6 L1357.5 212.2 L1363.7 204.3 L1368.1 224.7 L1369.9 239.7 L1373.5 243.3 L1377.9 231 L1385 258.4 L1393 197.2 L1398.7 239.7 L1408 153.7 L1411.6 147.5 L1417 166 L1424 180.3 L1430 176.8 L1441.8 182.1 L1449.7 180.3 L1460 183 L1470 184.5 L1480 183 L1490 185 L1500 184 L1510 185.5 L1520.5 185" stroke="#e8141c"/>
<path d="M940.5 191.4 L943.7 191.4 L946.9 191.5 L950.1 191.7 L953.3 191.4 L956.5 191.4 L959.7 191.4 L962.9 191.7 L966.1 191.4 L969.3 191.7 L972.5 191.7 L975.7 191.3 L978.9 191.6 L982.1 191.5 L985.3 191.5 L988.5 191.8 L991.7 191.2 L994.9 191.1 L998.1 191.8 L1001.3 191.4 L1004.5 191.2 L1007.7 191.3 L1010.9 191.3 L1014.1 191.8 L1017.3 191.1 L1020.5 191.1 L1023.7 191.4 L1026.9 191.3 L1030.1 191.7 L1033.3 191.6 L1036.5 191.1 L1039.7 190.9 L1042.9 191.5 L1046.1 191.6 L1049.3 190.6 L1052.5 191.3 L1055.7 191.4 L1058.9 191.2 L1062.1 190.7 L1065.3 191.3 L1068.5 191.2 L1071.7 190.5 L1074.9 191 L1078.1 190.5 L1081.3 190.2 L1084.5 190.5 L1087.7 190.5 L1090.9 190.5 L1094.1 190.8 L1097.3 191 L1100.5 191.1 L1103.7 191.1 L1106.9 191.1 L1110.1 190.8 L1113.3 190.1 L1116.5 189.9 L1119.7 190.4 L1122.9 190.3 L1126.1 190.4 L1129.3 189.5 L1132.5 189.6 L1135.7 190.6 L1138.9 190.1 L1142.1 190.2 L1145.3 189.2 L1148.5 189.6 L1151.7 190.4 L1154.9 189.9 L1158.1 190.4 L1161.3 189.1 L1164.5 189.4 L1167.7 190 L1170.9 189.3 L1174.1 189.8 L1177.3 189.4 L1180.5 188.5 L1183.7 188.4 L1186.9 189.9 L1190 188 L1196 189 L1202 186.5 L1208 189.5 L1214 185 L1219 187.5 L1224 191 L1227.3 198 L1231 215 L1234.2 244.6 L1235.6 290 L1236.9 363.9 L1238.3 343.9 L1240 300 L1242 200 L1244.7 158 L1249.7 147.3 L1251.7 143.3 L1254.7 147.3 L1258.7 157.3 L1262 166 L1266 173 L1270 178.5 L1276 183.5 L1282 186 L1290 185 L1298 188 L1306 186.5 L1314 189 L1322 188 L1330 191 L1338 193 L1346 196 L1352 197 L1357.5 201 L1362 203 L1367.2 229 L1371 224 L1374 222 L1378 235 L1383.2 260.1 L1389.4 208 L1393 211 L1399.2 238 L1405.4 170 L1412.2 150.5 L1418 163 L1424 181.2 L1430 177 L1441.8 182.6 L1449.7 181 L1460 184 L1470 183 L1480 185 L1490 183.8 L1500 185.5 L1510 184.5 L1520.5 185.5" stroke="#1414d8"/>
<path d="M940.5 191.6 L943.7 191.5 L946.9 191.4 L950.1 191.8 L953.3 191.6 L956.5 191.7 L959.7 191.6 L962.9 191.5 L966.1 191.7 L969.3 191.6 L972.5 191.7 L975.7 191.6 L978.9 191.8 L982.1 191.5 L985.3 191.3 L988.5 191.3 L991.7 191.6 L994.9 191.2 L998.1 191.6 L1001.3 191.5 L1004.5 191.1 L1007.7 191.6 L1010.9 191 L1014.1 191.7 L1017.3 191.6 L1020.5 191.1 L1023.7 191.5 L1026.9 191.5 L1030.1 190.9 L1033.3 191.4 L1036.5 190.9 L1039.7 191.6 L1042.9 191.3 L1046.1 191.6 L1049.3 190.6 L1052.5 190.9 L1055.7 191.2 L1058.9 191.1 L1062.1 190.6 L1065.3 191.4 L1068.5 191.3 L1071.7 190.7 L1074.9 190.4 L1078.1 191 L1081.3 190.7 L1084.5 190.9 L1087.7 190.7 L1090.9 190.5 L1094.1 190 L1097.3 190.1 L1100.5 190.5 L1103.7 190.8 L1106.9 190.3 L1110.1 190.7 L1113.3 190.4 L1116.5 190.8 L1119.7 190.5 L1122.9 190 L1126.1 189.6 L1129.3 189.5 L1132.5 189.4 L1135.7 190.6 L1138.9 190.5 L1142.1 190.3 L1145.3 189.2 L1148.5 190 L1151.7 189.1 L1154.9 190.3 L1158.1 189.9 L1161.3 190 L1164.5 189.7 L1167.7 189.3 L1170.9 190 L1174.1 190.1 L1177.3 188.8 L1180.5 189.1 L1183.7 189.5 L1186.9 189.4 L1190 188 L1196 189 L1202 186.5 L1208 189.5 L1214 185 L1219 187.5 L1224 191 L1227.3 198 L1231 215 L1234.2 244.6 L1235.6 290 L1236.9 315.4 L1238.3 295.4 L1240 300 L1242 200 L1244.7 158 L1250.3 157.2 L1252.3 153.2 L1255.3 157.2 L1259.8 163.1 L1264.5 172.4 L1268 176 L1272 180 L1278 184 L1284 186.5 L1290 186 L1298 188 L1306 187 L1314 189.5 L1322 188.5 L1330 191.5 L1339 193 L1348 197 L1357.5 199.8 L1361 203.5 L1367.2 227.3 L1373.5 219.3 L1378 229 L1383.2 258.4 L1389.4 206 L1392 207 L1399.2 236.2 L1405.4 173.2 L1412.5 152.8 L1418 165 L1424 181.2 L1430 177 L1441.8 183.5 L1449.7 181.5 L1460 184.5 L1470 183.5 L1480 185.5 L1490 184 L1500 186 L1510 185 L1520.5 186" stroke="#1a8a8a"/>
</g>
<rect x="940.2" y="47" width="581.1" height="482.8" fill="none" stroke="#000" stroke-width="2.2"/>
<path d="M940.2 94.9H930.7M1521.3 94.9H1516.3M940.2 143.2H935.2M1521.3 143.2H1512.3M940.2 191.4H930.7M1521.3 191.4H1516.3M940.2 239.7H935.2M1521.3 239.7H1512.3M940.2 287.9H930.7M1521.3 287.9H1516.3M940.2 336.1H935.2M1521.3 336.1H1512.3M940.2 384.4H930.7M1521.3 384.4H1516.3M940.2 432.6H935.2M1521.3 432.6H1512.3M940.2 480.9H930.7M1521.3 480.9H1516.3M962.4 529.8V539.3M1018.3 529.8V534.8M1074.2 529.8V539.3M1130.1 529.8V534.8M1186.0 529.8V539.3M1241.9 529.8V534.8M1297.8 529.8V539.3M1353.7 529.8V534.8M1409.6 529.8V539.3M1465.5 529.8V534.8M1521.4 529.8V539.3M998.4 47.0V52.0M1056.6 47.0V56.5M1114.8 47.0V52.0M1173.0 47.0V56.5M1231.2 47.0V52.0M1289.4 47.0V56.5M1347.6 47.0V52.0M1405.8 47.0V56.5M1464.0 47.0V52.0" stroke="#000" stroke-width="2.2" fill="none"/>
<text x="925.5" y="106.7" class="tl" text-anchor="end">20</text>
<text x="925.5" y="203.2" class="tl" text-anchor="end">0</text>
<text x="925.5" y="299.7" class="tl" text-anchor="end">-20</text>
<text x="925.5" y="396.2" class="tl" text-anchor="end">-40</text>
<text x="925.5" y="492.7" class="tl" text-anchor="end">-60</text>
<text x="962.4" y="575.5" class="tl" text-anchor="middle">0.7</text>
<text x="1074.2" y="575.5" class="tl" text-anchor="middle">0.8</text>
<text x="1186.0" y="575.5" class="tl" text-anchor="middle">0.9</text>
<text x="1297.8" y="575.5" class="tl" text-anchor="middle">1.0</text>
<text x="1409.6" y="575.5" class="tl" text-anchor="middle">1.1</text>
<text x="1521.4" y="575.5" class="tl" text-anchor="middle">1.2</text>
<text x="1231.3" y="623.6" class="al" text-anchor="middle" textLength="258" lengthAdjust="spacingAndGlyphs">Frequency (THz)</text>
<text transform="translate(860,294.2) rotate(-90)" class="al" text-anchor="middle" textLength="266" lengthAdjust="spacingAndGlyphs">Group delay (ps)</text>
<text x="836.5" y="38" class="pl" textLength="56" lengthAdjust="spacingAndGlyphs">(b)</text>
<rect x="1369.2" y="331" width="138.9" height="187.6" fill="#fff" stroke="#808080" stroke-width="1.2"/>
<path d="M1370.5 359.1H1417.7" stroke="#000000" stroke-width="2.3"/>
<text x="1423.4" y="367.4" class="lg" textLength="82.5" lengthAdjust="spacingAndGlyphs">0.0eV</text>
<path d="M1370.5 406.7H1417.7" stroke="#e8141c" stroke-width="2.3"/>
<text x="1423.4" y="415.0" class="lg" textLength="82.5" lengthAdjust="spacingAndGlyphs">0.1eV</text>
<path d="M1370.5 454.3H1417.7" stroke="#1414d8" stroke-width="2.3"/>
<text x="1423.4" y="462.6" class="lg" textLength="82.5" lengthAdjust="spacingAndGlyphs">0.2eV</text>
<path d="M1370.5 501.9H1417.7" stroke="#1a8a8a" stroke-width="2.3"/>
<text x="1423.4" y="510.2" class="lg" textLength="82.5" lengthAdjust="spacingAndGlyphs">0.3eV</text>
<path d="M198.9 1018.9L198.9 748.8M291.2 995L291.2 725M383.6 971.2L383.6 701.1M475.9 947.3L475.9 677.2M546.6 978.3L546.6 708.2M617.4 1009.2L617.4 739.2M688.1 1040.2L688.1 770.1M758.9 1071.2L758.9 801.1M106.6 772.7L475.9 677.2L758.9 801.1M106.6 1042.8L475.9 947.3L758.9 1071.2M481.9 1142.8L198.9 1018.9M318.9 1135.7L688.1 1040.2M574.2 1119L291.2 995M248.1 1104.8L617.4 1009.2M666.6 1095.1L383.6 971.2M177.4 1073.8L546.6 978.3" stroke="#333" stroke-width="1.5" stroke-dasharray="1.5 5.3" fill="none"/>
<polygon points="390.1,1030.3 754.8,936 475.4,813.6 110.7,907.9" fill="#aaf592"/>
<path stroke="#f4fff2" stroke-width="1.8" d="M527.1 934.5l6 -1.6M528.7 932.9l6 -1.6M530 931.3l6 -1.6M531.1 929.8l6 -1.6M531.9 928.3l6 -1.6M532.5 927l6 -1.6M532.9 925.6l6 -1.6M533.1 924.3l6 -1.6M533.3 923.1l6 -1.6M533.2 921.8l6 -1.6M533.1 920.6l6 -1.6M532.8 919.5l6 -1.6M532.5 918.3l6 -1.6M532 917.2l6 -1.6M531.5 916.1l6 -1.6M530.8 915.1l6 -1.6M344.8 906l-4.6 -2M530.1 914l6 -1.6M346.4 905.1l-4.6 -2M529.2 913l6 -1.6M348.1 904.2l-4.6 -2M528.3 912l6 -1.6M349.8 903.3l-4.6 -2M527.4 911l6 -1.6M351.5 902.5l-4.6 -2M526.3 910.1l6 -1.6M353.4 901.7l-4.6 -2M525.2 909.1l6 -1.6M355.2 900.9l-4.6 -2M524 908.2l6 -1.6M357.2 900.1l-4.6 -2M522.7 907.3l6 -1.6M359.1 899.4l-4.6 -2M521.4 906.4l6 -1.6M361.2 898.6l-4.6 -2M519.9 905.6l6 -1.6M363.2 898l-4.6 -2M518.5 904.7l6 -1.6M365.4 897.3l-4.6 -2M516.9 903.9l6 -1.6M367.6 896.6l-4.6 -2M515.3 903.1l6 -1.6M369.8 896l-4.6 -2M513.7 902.3l6 -1.6M372.1 895.4l-4.6 -2M511.9 901.5l6 -1.6M374.4 894.8l-4.6 -2M510.1 900.7l6 -1.6M376.8 894.2l-4.6 -2M508.3 900l6 -1.6M379.2 893.7l-4.6 -2M506.3 899.2l6 -1.6M381.7 893.2l-4.6 -2M504.3 898.5l6 -1.6M384.2 892.7l-4.6 -2M502.3 897.8l6 -1.6M386.8 892.2l-4.6 -2M500.1 897.1l6 -1.6M389.5 891.7l-4.6 -2M497.9 896.5l6 -1.6M392.2 891.3l-4.6 -2M495.7 895.8l6 -1.6M394.9 890.9l-4.6 -2M493.3 895.2l6 -1.6M397.7 890.5l-4.6 -2M490.9 894.6l6 -1.6M400.6 890.2l-4.6 -2M488.4 894l6 -1.6M403.5 889.8l-4.6 -2M485.9 893.4l6 -1.6M406.4 889.5l-4.6 -2M483.3 892.9l6 -1.6M409.5 889.3l-4.6 -2M480.5 892.3l6 -1.6M412.6 889l-4.6 -2M477.7 891.8l6 -1.6M415.7 888.8l-4.6 -2M474.9 891.4l6 -1.6M419 888.6l-4.6 -2M471.9 890.9l6 -1.6M422.3 888.4l-4.6 -2M468.8 890.5l6 -1.6M530.9 936l-4.6 -2M425.7 888.3l-4.6 -2M465.6 890l6 -1.6M532.2 934.9l-4.6 -2M429.1 888.2l-4.6 -2M462.4 889.7l6 -1.6M533.3 933.8l-4.6 -2M432.7 888.2l-4.6 -2M459 889.3l6 -1.6M534.4 932.7l-4.6 -2M436.3 888.2l-4.6 -2M455.4 889l6 -1.6M535.3 931.5l-4.6 -2M440.1 888.2l-4.6 -2M451.8 888.7l6 -1.6M536.2 930.3l-4.6 -2M443.9 888.3l-4.6 -2M448 888.4l6 -1.6M537 929l-4.6 -2M447.9 888.4l-4.6 -2M444 888.2l6 -1.6M537.6 927.7l-4.6 -2M452 888.6l-4.6 -2M439.9 888.1l6 -1.6M538.1 926.3l-4.6 -2M456.3 888.9l-4.6 -2M435.5 888l6 -1.6M538.4 924.8l-4.6 -2M460.8 889.2l-4.6 -2M431 887.9l6 -1.6M538.6 923.3l-4.6 -2M465.5 889.7l-4.6 -2M426.1 887.9l6 -1.6M538.5 921.6l-4.6 -2M470.4 890.2l-4.6 -2M420.9 888.1l6 -1.6M538.2 919.9l-4.6 -2M475.6 890.9l-4.6 -2M415.3 888.3l6 -1.6M537.6 918l-4.6 -2M481.3 891.8l-4.6 -2M409.2 888.6l6 -1.6M536.5 915.9l-4.6 -2M487.6 892.9l-4.6 -2M402.2 889.2l6 -1.6M534.8 913.6l-4.6 -2M340.6 905.1l6 -1.6M494.9 894.5l-4.6 -2M394 890.1l6 -1.6M532.2 910.8l-4.6 -2M345.3 902.7l6 -1.6M504.3 897l-4.6 -2M382.9 891.7l6 -1.6M527.3 907.1l-4.6 -2M352.8 899.5l6 -1.6M561.4 940.4l6 -1.6M563.4 938.7l6 -1.6M565 937l6 -1.6M566.4 935.4l6 -1.6M567.6 933.9l6 -1.6M568.6 932.4l6 -1.6M569.5 930.9l6 -1.6M570.1 929.5l6 -1.6M570.7 928.2l6 -1.6M571.1 926.8l6 -1.6M571.4 925.5l6 -1.6M571.6 924.2l6 -1.6M571.7 923l6 -1.6M571.6 921.8l6 -1.6M571.5 920.6l6 -1.6M571.3 919.4l6 -1.6M571.1 918.2l6 -1.6M570.7 917.1l6 -1.6M570.3 915.9l6 -1.6M569.8 914.8l6 -1.6M569.2 913.8l6 -1.6M568.6 912.7l6 -1.6M567.9 911.6l6 -1.6M311.7 899.5l-4.6 -2M567.1 910.6l6 -1.6M313.3 898.6l-4.6 -2M566.3 909.6l6 -1.6M314.9 897.7l-4.6 -2M565.4 908.6l6 -1.6M316.6 896.8l-4.6 -2M564.5 907.6l6 -1.6M318.3 895.9l-4.6 -2M563.5 906.6l6 -1.6M320 895.1l-4.6 -2M562.4 905.7l6 -1.6M321.8 894.3l-4.6 -2M561.3 904.7l6 -1.6M323.7 893.5l-4.6 -2M560.2 903.8l6 -1.6M325.6 892.7l-4.6 -2M558.9 902.9l6 -1.6M327.5 891.9l-4.6 -2M557.7 902l6 -1.6M329.4 891.2l-4.6 -2M556.4 901.1l6 -1.6M331.4 890.5l-4.6 -2M555 900.2l6 -1.6M333.5 889.7l-4.6 -2M553.6 899.3l6 -1.6M335.5 889l-4.6 -2M552.1 898.5l6 -1.6M337.6 888.4l-4.6 -2M550.6 897.6l6 -1.6M339.8 887.7l-4.6 -2M549.1 896.8l6 -1.6M342 887l-4.6 -2M547.5 896l6 -1.6M344.2 886.4l-4.6 -2M545.8 895.2l6 -1.6M346.4 885.8l-4.6 -2M544.1 894.4l6 -1.6M348.7 885.2l-4.6 -2M542.4 893.6l6 -1.6M351.1 884.6l-4.6 -2M540.6 892.8l6 -1.6M353.4 884l-4.6 -2M538.8 892.1l6 -1.6M355.8 883.4l-4.6 -2M536.9 891.3l6 -1.6M358.3 882.9l-4.6 -2M534.9 890.6l6 -1.6M360.7 882.4l-4.6 -2M532.9 889.9l6 -1.6M363.2 881.9l-4.6 -2M530.9 889.2l6 -1.6M365.8 881.4l-4.6 -2M528.8 888.5l6 -1.6M368.4 880.9l-4.6 -2M526.7 887.8l6 -1.6M371 880.4l-4.6 -2M524.5 887.1l6 -1.6M373.6 880l-4.6 -2M522.3 886.5l6 -1.6M376.3 879.6l-4.6 -2M520 885.8l6 -1.6M379.1 879.2l-4.6 -2M517.7 885.2l6 -1.6M381.9 878.8l-4.6 -2M515.3 884.6l6 -1.6M384.7 878.4l-4.6 -2M512.9 884l6 -1.6M387.5 878l-4.6 -2M510.4 883.4l6 -1.6M390.4 877.7l-4.6 -2M507.9 882.8l6 -1.6M393.4 877.4l-4.6 -2M505.3 882.3l6 -1.6M396.4 877.1l-4.6 -2M502.6 881.7l6 -1.6M399.4 876.8l-4.6 -2M499.9 881.2l6 -1.6M402.5 876.5l-4.6 -2M497.1 880.7l6 -1.6M405.6 876.3l-4.6 -2M494.3 880.2l6 -1.6M408.8 876.1l-4.6 -2M491.4 879.7l6 -1.6M412 875.9l-4.6 -2M488.4 879.2l6 -1.6M415.3 875.7l-4.6 -2M485.4 878.8l6 -1.6M418.6 875.6l-4.6 -2M482.3 878.4l6 -1.6M566.9 940.5l-4.6 -2M422 875.5l-4.6 -2M479.1 877.9l6 -1.6M568.1 939.4l-4.6 -2M425.5 875.4l-4.6 -2M475.8 877.6l6 -1.6M569.3 938.3l-4.6 -2M429 875.3l-4.6 -2M472.5 877.2l6 -1.6M570.4 937.2l-4.6 -2M432.6 875.3l-4.6 -2M469 876.8l6 -1.6M571.4 936l-4.6 -2M436.2 875.2l-4.6 -2M465.5 876.5l6 -1.6M572.4 934.9l-4.6 -2M439.9 875.3l-4.6 -2M461.9 876.2l6 -1.6M573.3 933.6l-4.6 -2M443.7 875.3l-4.6 -2M458.2 876l6 -1.6M574.1 932.4l-4.6 -2M447.6 875.4l-4.6 -2M454.4 875.7l6 -1.6M574.8 931.1l-4.6 -2M451.6 875.6l-4.6 -2M450.4 875.5l6 -1.6M575.4 929.8l-4.6 -2M455.7 875.7l-4.6 -2M446.3 875.3l6 -1.6M576 928.4l-4.6 -2M459.9 876l-4.6 -2M442.1 875.2l6 -1.6M576.4 927l-4.6 -2M464.2 876.2l-4.6 -2M437.7 875.1l6 -1.6M576.7 925.5l-4.6 -2M468.6 876.6l-4.6 -2M433.2 875l6 -1.6M576.9 924l-4.6 -2M473.2 877l-4.6 -2M428.5 875l6 -1.6M576.9 922.4l-4.6 -2M477.9 877.4l-4.6 -2M423.5 875.1l6 -1.6M576.8 920.7l-4.6 -2M482.9 878l-4.6 -2M418.3 875.2l6 -1.6M576.5 919l-4.6 -2M488 878.6l-4.6 -2M412.8 875.4l6 -1.6M575.9 917.1l-4.6 -2M493.5 879.4l-4.6 -2M407 875.7l6 -1.6M575.1 915.2l-4.6 -2M499.3 880.4l-4.6 -2M400.6 876.1l6 -1.6M573.9 913l-4.6 -2M505.5 881.5l-4.6 -2M393.7 876.6l6 -1.6M572.3 910.7l-4.6 -2M306.6 899.1l6 -1.6M512.4 882.9l-4.6 -2M386 877.4l6 -1.6M570 908.1l-4.6 -2M310.8 896.8l6 -1.6M520.3 884.7l-4.6 -2M376.9 878.5l6 -1.6M566.8 905.1l-4.6 -2M316.3 894.2l6 -1.6M530.3 887.5l-4.6 -2M365.2 880.3l6 -1.6M561.4 901.1l-4.6 -2M324.5 890.8l6 -1.6M418.6 1014.3l6 -1.6M416.8 1013.5l6 -1.6M415.1 1012.7l6 -1.6M413.3 1012l6 -1.6M411.5 1011.2l6 -1.6M409.8 1010.4l6 -1.6M408 1009.6l6 -1.6M406.2 1008.9l6 -1.6M404.5 1008.1l6 -1.6M402.7 1007.3l6 -1.6M400.9 1006.5l6 -1.6M399.2 1005.8l6 -1.6M402.7 1005.2l-4.6 -2M423.9 1014.5l-4.6 -2M397.4 1005l6 -1.6M405 1004.6l-4.6 -2M426.2 1013.9l-4.6 -2M407.3 1004l-4.6 -2M428.5 1013.3l-4.6 -2M409.6 1003.4l-4.6 -2M430.8 1012.7l-4.6 -2M411.9 1002.8l-4.6 -2M433.1 1012.1l-4.6 -2M414.2 1002.2l-4.6 -2M435.5 1011.5l-4.6 -2M416.5 1001.7l-4.6 -2M437.8 1010.9l-4.6 -2M418.8 1001.1l-4.6 -2M440.1 1010.3l-4.6 -2M421.2 1000.5l-4.6 -2M442.4 1009.7l-4.6 -2M423.5 999.9l-4.6 -2M444.7 1009.2l-4.6 -2M425.8 999.3l-4.6 -2M447 1008.6l-4.6 -2M428.1 998.7l-4.6 -2M449.3 1008l-4.6 -2M430.4 998.1l-4.6 -2M451.6 1007.4l-4.6 -2M432.7 997.5l-4.6 -2M453.9 1006.8l-4.6 -2M435 996.9l-4.6 -2M456.2 1006.2l-4.6 -2M437.3 996.3l-4.6 -2M458.5 1005.6l-4.6 -2M439.6 995.7l-4.6 -2M460.8 1005l-4.6 -2M441.9 995.1l-4.6 -2M463.1 1004.4l-4.6 -2M444.2 994.5l-4.6 -2M465.5 1003.8l-4.6 -2M446.5 993.9l-4.6 -2M467.8 1003.2l-4.6 -2M448.8 993.3l-4.6 -2M470.1 1002.6l-4.6 -2M451.2 992.7l-4.6 -2M472.4 1002l-4.6 -2M453.5 992.1l-4.6 -2M474.7 1001.4l-4.6 -2M455.8 991.5l-4.6 -2M477 1000.8l-4.6 -2M458.1 990.9l-4.6 -2M479.3 1000.2l-4.6 -2M460.4 990.3l-4.6 -2M481.6 999.6l-4.6 -2M462.7 989.7l-4.6 -2M483.9 999l-4.6 -2M465 989.1l-4.6 -2M486.2 998.4l-4.6 -2M467.3 988.5l-4.6 -2M488.5 997.8l-4.6 -2M469.6 987.9l-4.6 -2M490.8 997.2l-4.6 -2M471.9 987.3l-4.6 -2M493.2 996.6l-4.6 -2M474.2 986.7l-4.6 -2M495.5 996l-4.6 -2M476.5 986.1l-4.6 -2M497.8 995.4l-4.6 -2M478.9 985.5l-4.6 -2M500.1 994.8l-4.6 -2M481.2 984.9l-4.6 -2M502.4 994.2l-4.6 -2M483.5 984.3l-4.6 -2M504.7 993.6l-4.6 -2M485.8 983.7l-4.6 -2M507 993l-4.6 -2M488.1 983.1l-4.6 -2M509.3 992.4l-4.6 -2M490.4 982.6l-4.6 -2M511.6 991.8l-4.6 -2M492.7 982l-4.6 -2M513.9 991.2l-4.6 -2M495 981.4l-4.6 -2M516.2 990.6l-4.6 -2M497.3 980.8l-4.6 -2M518.5 990.1l-4.6 -2M499.6 980.2l-4.6 -2M520.9 989.5l-4.6 -2M501.9 979.6l-4.6 -2M523.2 988.9l-4.6 -2M504.2 979l-4.6 -2M525.5 988.3l-4.6 -2M506.6 978.4l-4.6 -2M527.8 987.7l-4.6 -2M508.9 977.8l-4.6 -2M530.1 987.1l-4.6 -2M511.2 977.2l-4.6 -2M532.4 986.5l-4.6 -2M513.5 976.6l-4.6 -2M534.7 985.9l-4.6 -2M515.8 976l-4.6 -2M537 985.3l-4.6 -2M518.1 975.4l-4.6 -2M539.3 984.7l-4.6 -2M520.4 974.8l-4.6 -2M541.6 984.1l-4.6 -2M522.7 974.2l-4.6 -2M543.9 983.5l-4.6 -2M525 973.6l-4.6 -2M546.2 982.9l-4.6 -2M527.3 973l-4.6 -2M548.6 982.3l-4.6 -2M529.6 972.4l-4.6 -2M550.9 981.7l-4.6 -2M531.9 971.8l-4.6 -2M553.2 981.1l-4.6 -2M534.2 971.2l-4.6 -2M555.5 980.5l-4.6 -2M536.6 970.6l-4.6 -2M557.8 979.9l-4.6 -2M538.9 970l-4.6 -2M560.1 979.3l-4.6 -2"/>
<path stroke="#7ee3ec" stroke-width=".85" d="M527.1 934.5l6 -1.6M528.7 932.9l6 -1.6M530 931.3l6 -1.6M531.1 929.8l6 -1.6M531.9 928.3l6 -1.6M532.5 927l6 -1.6M532.9 925.6l6 -1.6M533.1 924.3l6 -1.6M533.3 923.1l6 -1.6M533.2 921.8l6 -1.6M533.1 920.6l6 -1.6M532.8 919.5l6 -1.6M532.5 918.3l6 -1.6M532 917.2l6 -1.6M531.5 916.1l6 -1.6M530.8 915.1l6 -1.6M344.8 906l-4.6 -2M530.1 914l6 -1.6M346.4 905.1l-4.6 -2M529.2 913l6 -1.6M348.1 904.2l-4.6 -2M528.3 912l6 -1.6M349.8 903.3l-4.6 -2M527.4 911l6 -1.6M351.5 902.5l-4.6 -2M526.3 910.1l6 -1.6M353.4 901.7l-4.6 -2M525.2 909.1l6 -1.6M355.2 900.9l-4.6 -2M524 908.2l6 -1.6M357.2 900.1l-4.6 -2M522.7 907.3l6 -1.6M359.1 899.4l-4.6 -2M521.4 906.4l6 -1.6M361.2 898.6l-4.6 -2M519.9 905.6l6 -1.6M363.2 898l-4.6 -2M518.5 904.7l6 -1.6M365.4 897.3l-4.6 -2M516.9 903.9l6 -1.6M367.6 896.6l-4.6 -2M515.3 903.1l6 -1.6M369.8 896l-4.6 -2M513.7 902.3l6 -1.6M372.1 895.4l-4.6 -2M511.9 901.5l6 -1.6M374.4 894.8l-4.6 -2M510.1 900.7l6 -1.6M376.8 894.2l-4.6 -2M508.3 900l6 -1.6M379.2 893.7l-4.6 -2M506.3 899.2l6 -1.6M381.7 893.2l-4.6 -2M504.3 898.5l6 -1.6M384.2 892.7l-4.6 -2M502.3 897.8l6 -1.6M386.8 892.2l-4.6 -2M500.1 897.1l6 -1.6M389.5 891.7l-4.6 -2M497.9 896.5l6 -1.6M392.2 891.3l-4.6 -2M495.7 895.8l6 -1.6M394.9 890.9l-4.6 -2M493.3 895.2l6 -1.6M397.7 890.5l-4.6 -2M490.9 894.6l6 -1.6M400.6 890.2l-4.6 -2M488.4 894l6 -1.6M403.5 889.8l-4.6 -2M485.9 893.4l6 -1.6M406.4 889.5l-4.6 -2M483.3 892.9l6 -1.6M409.5 889.3l-4.6 -2M480.5 892.3l6 -1.6M412.6 889l-4.6 -2M477.7 891.8l6 -1.6M415.7 888.8l-4.6 -2M474.9 891.4l6 -1.6M419 888.6l-4.6 -2M471.9 890.9l6 -1.6M422.3 888.4l-4.6 -2M468.8 890.5l6 -1.6M530.9 936l-4.6 -2M425.7 888.3l-4.6 -2M465.6 890l6 -1.6M532.2 934.9l-4.6 -2M429.1 888.2l-4.6 -2M462.4 889.7l6 -1.6M533.3 933.8l-4.6 -2M432.7 888.2l-4.6 -2M459 889.3l6 -1.6M534.4 932.7l-4.6 -2M436.3 888.2l-4.6 -2M455.4 889l6 -1.6M535.3 931.5l-4.6 -2M440.1 888.2l-4.6 -2M451.8 888.7l6 -1.6M536.2 930.3l-4.6 -2M443.9 888.3l-4.6 -2M448 888.4l6 -1.6M537 929l-4.6 -2M447.9 888.4l-4.6 -2M444 888.2l6 -1.6M537.6 927.7l-4.6 -2M452 888.6l-4.6 -2M439.9 888.1l6 -1.6M538.1 926.3l-4.6 -2M456.3 888.9l-4.6 -2M435.5 888l6 -1.6M538.4 924.8l-4.6 -2M460.8 889.2l-4.6 -2M431 887.9l6 -1.6M538.6 923.3l-4.6 -2M465.5 889.7l-4.6 -2M426.1 887.9l6 -1.6M538.5 921.6l-4.6 -2M470.4 890.2l-4.6 -2M420.9 888.1l6 -1.6M538.2 919.9l-4.6 -2M475.6 890.9l-4.6 -2M415.3 888.3l6 -1.6M537.6 918l-4.6 -2M481.3 891.8l-4.6 -2M409.2 888.6l6 -1.6M536.5 915.9l-4.6 -2M487.6 892.9l-4.6 -2M402.2 889.2l6 -1.6M534.8 913.6l-4.6 -2M340.6 905.1l6 -1.6M494.9 894.5l-4.6 -2M394 890.1l6 -1.6M532.2 910.8l-4.6 -2M345.3 902.7l6 -1.6M504.3 897l-4.6 -2M382.9 891.7l6 -1.6M527.3 907.1l-4.6 -2M352.8 899.5l6 -1.6M561.4 940.4l6 -1.6M563.4 938.7l6 -1.6M565 937l6 -1.6M566.4 935.4l6 -1.6M567.6 933.9l6 -1.6M568.6 932.4l6 -1.6M569.5 930.9l6 -1.6M570.1 929.5l6 -1.6M570.7 928.2l6 -1.6M571.1 926.8l6 -1.6M571.4 925.5l6 -1.6M571.6 924.2l6 -1.6M571.7 923l6 -1.6M571.6 921.8l6 -1.6M571.5 920.6l6 -1.6M571.3 919.4l6 -1.6M571.1 918.2l6 -1.6M570.7 917.1l6 -1.6M570.3 915.9l6 -1.6M569.8 914.8l6 -1.6M569.2 913.8l6 -1.6M568.6 912.7l6 -1.6M567.9 911.6l6 -1.6M311.7 899.5l-4.6 -2M567.1 910.6l6 -1.6M313.3 898.6l-4.6 -2M566.3 909.6l6 -1.6M314.9 897.7l-4.6 -2M565.4 908.6l6 -1.6M316.6 896.8l-4.6 -2M564.5 907.6l6 -1.6M318.3 895.9l-4.6 -2M563.5 906.6l6 -1.6M320 895.1l-4.6 -2M562.4 905.7l6 -1.6M321.8 894.3l-4.6 -2M561.3 904.7l6 -1.6M323.7 893.5l-4.6 -2M560.2 903.8l6 -1.6M325.6 892.7l-4.6 -2M558.9 902.9l6 -1.6M327.5 891.9l-4.6 -2M557.7 902l6 -1.6M329.4 891.2l-4.6 -2M556.4 901.1l6 -1.6M331.4 890.5l-4.6 -2M555 900.2l6 -1.6M333.5 889.7l-4.6 -2M553.6 899.3l6 -1.6M335.5 889l-4.6 -2M552.1 898.5l6 -1.6M337.6 888.4l-4.6 -2M550.6 897.6l6 -1.6M339.8 887.7l-4.6 -2M549.1 896.8l6 -1.6M342 887l-4.6 -2M547.5 896l6 -1.6M344.2 886.4l-4.6 -2M545.8 895.2l6 -1.6M346.4 885.8l-4.6 -2M544.1 894.4l6 -1.6M348.7 885.2l-4.6 -2M542.4 893.6l6 -1.6M351.1 884.6l-4.6 -2M540.6 892.8l6 -1.6M353.4 884l-4.6 -2M538.8 892.1l6 -1.6M355.8 883.4l-4.6 -2M536.9 891.3l6 -1.6M358.3 882.9l-4.6 -2M534.9 890.6l6 -1.6M360.7 882.4l-4.6 -2M532.9 889.9l6 -1.6M363.2 881.9l-4.6 -2M530.9 889.2l6 -1.6M365.8 881.4l-4.6 -2M528.8 888.5l6 -1.6M368.4 880.9l-4.6 -2M526.7 887.8l6 -1.6M371 880.4l-4.6 -2M524.5 887.1l6 -1.6M373.6 880l-4.6 -2M522.3 886.5l6 -1.6M376.3 879.6l-4.6 -2M520 885.8l6 -1.6M379.1 879.2l-4.6 -2M517.7 885.2l6 -1.6M381.9 878.8l-4.6 -2M515.3 884.6l6 -1.6M384.7 878.4l-4.6 -2M512.9 884l6 -1.6M387.5 878l-4.6 -2M510.4 883.4l6 -1.6M390.4 877.7l-4.6 -2M507.9 882.8l6 -1.6M393.4 877.4l-4.6 -2M505.3 882.3l6 -1.6M396.4 877.1l-4.6 -2M502.6 881.7l6 -1.6M399.4 876.8l-4.6 -2M499.9 881.2l6 -1.6M402.5 876.5l-4.6 -2M497.1 880.7l6 -1.6M405.6 876.3l-4.6 -2M494.3 880.2l6 -1.6M408.8 876.1l-4.6 -2M491.4 879.7l6 -1.6M412 875.9l-4.6 -2M488.4 879.2l6 -1.6M415.3 875.7l-4.6 -2M485.4 878.8l6 -1.6M418.6 875.6l-4.6 -2M482.3 878.4l6 -1.6M566.9 940.5l-4.6 -2M422 875.5l-4.6 -2M479.1 877.9l6 -1.6M568.1 939.4l-4.6 -2M425.5 875.4l-4.6 -2M475.8 877.6l6 -1.6M569.3 938.3l-4.6 -2M429 875.3l-4.6 -2M472.5 877.2l6 -1.6M570.4 937.2l-4.6 -2M432.6 875.3l-4.6 -2M469 876.8l6 -1.6M571.4 936l-4.6 -2M436.2 875.2l-4.6 -2M465.5 876.5l6 -1.6M572.4 934.9l-4.6 -2M439.9 875.3l-4.6 -2M461.9 876.2l6 -1.6M573.3 933.6l-4.6 -2M443.7 875.3l-4.6 -2M458.2 876l6 -1.6M574.1 932.4l-4.6 -2M447.6 875.4l-4.6 -2M454.4 875.7l6 -1.6M574.8 931.1l-4.6 -2M451.6 875.6l-4.6 -2M450.4 875.5l6 -1.6M575.4 929.8l-4.6 -2M455.7 875.7l-4.6 -2M446.3 875.3l6 -1.6M576 928.4l-4.6 -2M459.9 876l-4.6 -2M442.1 875.2l6 -1.6M576.4 927l-4.6 -2M464.2 876.2l-4.6 -2M437.7 875.1l6 -1.6M576.7 925.5l-4.6 -2M468.6 876.6l-4.6 -2M433.2 875l6 -1.6M576.9 924l-4.6 -2M473.2 877l-4.6 -2M428.5 875l6 -1.6M576.9 922.4l-4.6 -2M477.9 877.4l-4.6 -2M423.5 875.1l6 -1.6M576.8 920.7l-4.6 -2M482.9 878l-4.6 -2M418.3 875.2l6 -1.6M576.5 919l-4.6 -2M488 878.6l-4.6 -2M412.8 875.4l6 -1.6M575.9 917.1l-4.6 -2M493.5 879.4l-4.6 -2M407 875.7l6 -1.6M575.1 915.2l-4.6 -2M499.3 880.4l-4.6 -2M400.6 876.1l6 -1.6M573.9 913l-4.6 -2M505.5 881.5l-4.6 -2M393.7 876.6l6 -1.6M572.3 910.7l-4.6 -2M306.6 899.1l6 -1.6M512.4 882.9l-4.6 -2M386 877.4l6 -1.6M570 908.1l-4.6 -2M310.8 896.8l6 -1.6M520.3 884.7l-4.6 -2M376.9 878.5l6 -1.6M566.8 905.1l-4.6 -2M316.3 894.2l6 -1.6M530.3 887.5l-4.6 -2M365.2 880.3l6 -1.6M561.4 901.1l-4.6 -2M324.5 890.8l6 -1.6M418.6 1014.3l6 -1.6M416.8 1013.5l6 -1.6M415.1 1012.7l6 -1.6M413.3 1012l6 -1.6M411.5 1011.2l6 -1.6M409.8 1010.4l6 -1.6M408 1009.6l6 -1.6M406.2 1008.9l6 -1.6M404.5 1008.1l6 -1.6M402.7 1007.3l6 -1.6M400.9 1006.5l6 -1.6M399.2 1005.8l6 -1.6M402.7 1005.2l-4.6 -2M423.9 1014.5l-4.6 -2M397.4 1005l6 -1.6M405 1004.6l-4.6 -2M426.2 1013.9l-4.6 -2M407.3 1004l-4.6 -2M428.5 1013.3l-4.6 -2M409.6 1003.4l-4.6 -2M430.8 1012.7l-4.6 -2M411.9 1002.8l-4.6 -2M433.1 1012.1l-4.6 -2M414.2 1002.2l-4.6 -2M435.5 1011.5l-4.6 -2M416.5 1001.7l-4.6 -2M437.8 1010.9l-4.6 -2M418.8 1001.1l-4.6 -2M440.1 1010.3l-4.6 -2M421.2 1000.5l-4.6 -2M442.4 1009.7l-4.6 -2M423.5 999.9l-4.6 -2M444.7 1009.2l-4.6 -2M425.8 999.3l-4.6 -2M447 1008.6l-4.6 -2M428.1 998.7l-4.6 -2M449.3 1008l-4.6 -2M430.4 998.1l-4.6 -2M451.6 1007.4l-4.6 -2M432.7 997.5l-4.6 -2M453.9 1006.8l-4.6 -2M435 996.9l-4.6 -2M456.2 1006.2l-4.6 -2M437.3 996.3l-4.6 -2M458.5 1005.6l-4.6 -2M439.6 995.7l-4.6 -2M460.8 1005l-4.6 -2M441.9 995.1l-4.6 -2M463.1 1004.4l-4.6 -2M444.2 994.5l-4.6 -2M465.5 1003.8l-4.6 -2M446.5 993.9l-4.6 -2M467.8 1003.2l-4.6 -2M448.8 993.3l-4.6 -2M470.1 1002.6l-4.6 -2M451.2 992.7l-4.6 -2M472.4 1002l-4.6 -2M453.5 992.1l-4.6 -2M474.7 1001.4l-4.6 -2M455.8 991.5l-4.6 -2M477 1000.8l-4.6 -2M458.1 990.9l-4.6 -2M479.3 1000.2l-4.6 -2M460.4 990.3l-4.6 -2M481.6 999.6l-4.6 -2M462.7 989.7l-4.6 -2M483.9 999l-4.6 -2M465 989.1l-4.6 -2M486.2 998.4l-4.6 -2M467.3 988.5l-4.6 -2M488.5 997.8l-4.6 -2M469.6 987.9l-4.6 -2M490.8 997.2l-4.6 -2M471.9 987.3l-4.6 -2M493.2 996.6l-4.6 -2M474.2 986.7l-4.6 -2M495.5 996l-4.6 -2M476.5 986.1l-4.6 -2M497.8 995.4l-4.6 -2M478.9 985.5l-4.6 -2M500.1 994.8l-4.6 -2M481.2 984.9l-4.6 -2M502.4 994.2l-4.6 -2M483.5 984.3l-4.6 -2M504.7 993.6l-4.6 -2M485.8 983.7l-4.6 -2M507 993l-4.6 -2M488.1 983.1l-4.6 -2M509.3 992.4l-4.6 -2M490.4 982.6l-4.6 -2M511.6 991.8l-4.6 -2M492.7 982l-4.6 -2M513.9 991.2l-4.6 -2M495 981.4l-4.6 -2M516.2 990.6l-4.6 -2M497.3 980.8l-4.6 -2M518.5 990.1l-4.6 -2M499.6 980.2l-4.6 -2M520.9 989.5l-4.6 -2M501.9 979.6l-4.6 -2M523.2 988.9l-4.6 -2M504.2 979l-4.6 -2M525.5 988.3l-4.6 -2M506.6 978.4l-4.6 -2M527.8 987.7l-4.6 -2M508.9 977.8l-4.6 -2M530.1 987.1l-4.6 -2M511.2 977.2l-4.6 -2M532.4 986.5l-4.6 -2M513.5 976.6l-4.6 -2M534.7 985.9l-4.6 -2M515.8 976l-4.6 -2M537 985.3l-4.6 -2M518.1 975.4l-4.6 -2M539.3 984.7l-4.6 -2M520.4 974.8l-4.6 -2M541.6 984.1l-4.6 -2M522.7 974.2l-4.6 -2M543.9 983.5l-4.6 -2M525 973.6l-4.6 -2M546.2 982.9l-4.6 -2M527.3 973l-4.6 -2M548.6 982.3l-4.6 -2M529.6 972.4l-4.6 -2M550.9 981.7l-4.6 -2M531.9 971.8l-4.6 -2M553.2 981.1l-4.6 -2M534.2 971.2l-4.6 -2M555.5 980.5l-4.6 -2M536.6 970.6l-4.6 -2M557.8 979.9l-4.6 -2M538.9 970l-4.6 -2M560.1 979.3l-4.6 -2"/>
<path stroke="#e6e65a" stroke-width=".9" d="M342.8 938.8l-4.6 -2M506.7 945.9l6 -1.6M365.8 948.9l-4.6 -2M476.6 953.7l6 -1.6M337.9 935.1l-4.6 -2M514.2 942.8l6 -1.6M375.2 951.4l-4.6 -2M465.5 955.4l6 -1.6M335.3 932.3l-4.6 -2M518.9 940.3l6 -1.6M382.5 953l-4.6 -2M457.3 956.3l6 -1.6M333.6 930l-4.6 -2M522.4 938.2l6 -1.6M388.8 954.1l-4.6 -2M450.3 956.8l6 -1.6M332.5 927.9l-4.6 -2M525 936.3l6 -1.6M394.5 955l-4.6 -2M444.2 957.2l6 -1.6M331.9 926l-4.6 -2M399.7 955.7l-4.6 -2M438.6 957.4l6 -1.6M331.6 924.3l-4.6 -2M404.6 956.3l-4.6 -2M433.4 957.5l6 -1.6M331.5 922.6l-4.6 -2M409.3 956.7l-4.6 -2M428.5 957.5l6 -1.6M331.7 921.1l-4.6 -2M413.8 957l-4.6 -2M424 957.5l6 -1.6M332 919.6l-4.6 -2M418.1 957.3l-4.6 -2M419.6 957.4l6 -1.6M332.5 918.3l-4.6 -2M422.2 957.5l-4.6 -2M415.5 957.2l6 -1.6M333.1 916.9l-4.6 -2M426.2 957.6l-4.6 -2M411.5 957l6 -1.6M333.9 915.6l-4.6 -2M430 957.7l-4.6 -2M407.7 956.8l6 -1.6M334.8 914.4l-4.6 -2M433.8 957.8l-4.6 -2M404.1 956.5l6 -1.6M335.7 913.2l-4.6 -2M437.4 957.8l-4.6 -2M400.5 956.1l6 -1.6M336.8 912.1l-4.6 -2M441 957.7l-4.6 -2M397.1 955.8l6 -1.6M337.9 911l-4.6 -2M444.4 957.6l-4.6 -2M393.9 955.4l6 -1.6M339.2 909.9l-4.6 -2M447.8 957.5l-4.6 -2M390.7 955l6 -1.6M340.5 908.9l-4.6 -2M451.1 957.3l-4.6 -2M387.6 954.6l6 -1.6M341.9 907.9l-4.6 -2M454.4 957.1l-4.6 -2M384.6 954.1l6 -1.6M343.3 906.9l-4.6 -2M457.5 956.9l-4.6 -2M381.8 953.6l6 -1.6M460.6 956.7l-4.6 -2M379 953.1l6 -1.6M463.7 956.4l-4.6 -2M376.2 952.6l6 -1.6M466.6 956.1l-4.6 -2M373.6 952l6 -1.6M469.5 955.7l-4.6 -2M371.1 951.5l6 -1.6M472.4 955.4l-4.6 -2M368.6 950.9l6 -1.6M475.2 955l-4.6 -2M366.2 950.3l6 -1.6M477.9 954.6l-4.6 -2M363.8 949.6l6 -1.6M480.6 954.2l-4.6 -2M361.6 949l6 -1.6M483.3 953.7l-4.6 -2M359.4 948.3l6 -1.6M485.9 953.2l-4.6 -2M357.2 947.6l6 -1.6M488.4 952.7l-4.6 -2M355.2 946.9l6 -1.6M490.9 952.2l-4.6 -2M353.2 946.2l6 -1.6M493.3 951.7l-4.6 -2M351.2 945.5l6 -1.6M495.7 951.1l-4.6 -2M349.4 944.7l6 -1.6M498 950.5l-4.6 -2M347.6 944l6 -1.6M500.3 949.9l-4.6 -2M345.8 943.2l6 -1.6M502.5 949.3l-4.6 -2M344.2 942.4l6 -1.6M504.7 948.6l-4.6 -2M342.6 941.6l6 -1.6M506.9 948l-4.6 -2M341 940.7l6 -1.6M508.9 947.3l-4.6 -2M339.6 939.9l6 -1.6M511 946.5l-4.6 -2M338.1 939l6 -1.6M512.9 945.8l-4.6 -2M336.8 938.1l6 -1.6M514.9 945l-4.6 -2M335.5 937.2l6 -1.6M516.7 944.3l-4.6 -2M334.3 936.3l6 -1.6M518.6 943.4l-4.6 -2M333.2 935.4l6 -1.6M520.3 942.6l-4.6 -2M332.1 934.4l6 -1.6M522 941.7l-4.6 -2M331.2 933.4l6 -1.6M523.7 940.9l-4.6 -2M330.3 932.4l6 -1.6M525.3 939.9l-4.6 -2M329.4 931.4l6 -1.6M526.8 939l-4.6 -2M328.7 930.4l6 -1.6M528.2 938l-4.6 -2M328 929.3l6 -1.6M529.6 937l-4.6 -2M327.5 928.2l6 -1.6M327 927.1l6 -1.6M326.7 926l6 -1.6M326.4 924.8l6 -1.6M326.3 923.6l6 -1.6M326.2 922.4l6 -1.6M326.4 921.1l6 -1.6M326.6 919.8l6 -1.6M327 918.5l6 -1.6M327.6 917.1l6 -1.6M328.4 915.7l6 -1.6M329.5 914.2l6 -1.6M330.8 912.6l6 -1.6M332.4 910.9l6 -1.6M334.5 909.2l6 -1.6M337.1 907.3l6 -1.6M308.7 944.8l-4.6 -2M535 954.6l6 -1.6M339.8 958.4l-4.6 -2M494.3 965.1l6 -1.6M303.3 940.8l-4.6 -2M543.2 951.3l6 -1.6M349.8 961.2l-4.6 -2M482.6 967l6 -1.6M300.1 937.8l-4.6 -2M548.7 948.6l6 -1.6M357.7 963l-4.6 -2M473.5 968.1l6 -1.6M297.8 935.2l-4.6 -2M552.9 946.3l6 -1.6M364.6 964.4l-4.6 -2M465.8 968.8l6 -1.6M296.2 932.9l-4.6 -2M556.3 944.2l6 -1.6M370.8 965.6l-4.6 -2M458.9 969.4l6 -1.6M295 930.8l-4.6 -2M559.1 942.3l6 -1.6M376.6 966.5l-4.6 -2M452.5 969.8l6 -1.6M294.2 928.8l-4.6 -2M382.1 967.3l-4.6 -2M446.7 970.1l6 -1.6M293.6 926.9l-4.6 -2M387.2 967.9l-4.6 -2M441.2 970.3l6 -1.6M293.3 925.2l-4.6 -2M392.2 968.5l-4.6 -2M436 970.4l6 -1.6M293.1 923.5l-4.6 -2M396.9 968.9l-4.6 -2M431 970.4l6 -1.6M293.2 921.9l-4.6 -2M401.5 969.3l-4.6 -2M426.3 970.4l6 -1.6M293.4 920.4l-4.6 -2M405.9 969.7l-4.6 -2M421.8 970.4l6 -1.6M293.7 918.9l-4.6 -2M410.2 970l-4.6 -2M417.4 970.3l6 -1.6M294.1 917.5l-4.6 -2M414.4 970.2l-4.6 -2M413.2 970.1l6 -1.6M294.7 916.1l-4.6 -2M418.5 970.4l-4.6 -2M409.1 969.9l6 -1.6M295.3 914.8l-4.6 -2M422.5 970.5l-4.6 -2M405.1 969.7l6 -1.6M296 913.5l-4.6 -2M426.4 970.6l-4.6 -2M401.3 969.5l6 -1.6M296.8 912.3l-4.6 -2M430.2 970.6l-4.6 -2M397.6 969.2l6 -1.6M297.7 911.1l-4.6 -2M433.9 970.7l-4.6 -2M394 968.9l6 -1.6M298.7 909.9l-4.6 -2M437.5 970.7l-4.6 -2M390.5 968.6l6 -1.6M299.7 908.7l-4.6 -2M441.1 970.6l-4.6 -2M387 968.3l6 -1.6M300.8 907.6l-4.6 -2M444.6 970.6l-4.6 -2M383.7 967.9l6 -1.6M302 906.5l-4.6 -2M448.1 970.5l-4.6 -2M380.4 967.5l6 -1.6M303.2 905.4l-4.6 -2M451.5 970.3l-4.6 -2M377.2 967.1l6 -1.6M304.5 904.4l-4.6 -2M454.8 970.2l-4.6 -2M374.1 966.7l6 -1.6M305.8 903.4l-4.6 -2M458.1 970l-4.6 -2M371.1 966.2l6 -1.6M307.2 902.4l-4.6 -2M461.3 969.8l-4.6 -2M368.1 965.8l6 -1.6M308.7 901.4l-4.6 -2M464.5 969.6l-4.6 -2M365.2 965.3l6 -1.6M310.2 900.4l-4.6 -2M467.6 969.4l-4.6 -2M362.4 964.8l6 -1.6M470.7 969.1l-4.6 -2M359.6 964.3l6 -1.6M473.7 968.8l-4.6 -2M356.9 963.7l6 -1.6M476.7 968.5l-4.6 -2M354.2 963.2l6 -1.6M479.7 968.2l-4.6 -2M351.6 962.6l6 -1.6M482.6 967.9l-4.6 -2M349.1 962.1l6 -1.6M485.4 967.5l-4.6 -2M346.6 961.5l6 -1.6M488.2 967.1l-4.6 -2M344.2 960.9l6 -1.6M491 966.7l-4.6 -2M341.8 960.3l6 -1.6M493.8 966.3l-4.6 -2M339.5 959.6l6 -1.6M496.5 965.9l-4.6 -2M337.2 959l6 -1.6M499.1 965.5l-4.6 -2M335 958.3l6 -1.6M501.7 965l-4.6 -2M332.8 957.7l6 -1.6M504.3 964.5l-4.6 -2M330.7 957l6 -1.6M506.9 964l-4.6 -2M328.6 956.3l6 -1.6M509.4 963.5l-4.6 -2M326.5 955.6l6 -1.6M511.8 963l-4.6 -2M324.6 954.9l6 -1.6M514.3 962.5l-4.6 -2M322.6 954.1l6 -1.6M516.7 961.9l-4.6 -2M320.7 953.4l6 -1.6M519 961.3l-4.6 -2M318.9 952.6l6 -1.6M521.4 960.7l-4.6 -2M317.1 951.9l6 -1.6M523.7 960.1l-4.6 -2M315.4 951.1l6 -1.6M525.9 959.5l-4.6 -2M313.7 950.3l6 -1.6M528.1 958.9l-4.6 -2M312 949.5l6 -1.6M530.3 958.2l-4.6 -2M310.4 948.7l6 -1.6M532.5 957.6l-4.6 -2M308.9 947.8l6 -1.6M534.6 956.9l-4.6 -2M307.4 947l6 -1.6M536.6 956.2l-4.6 -2M305.9 946.1l6 -1.6M538.7 955.5l-4.6 -2M304.5 945.3l6 -1.6M540.7 954.7l-4.6 -2M303.1 944.4l6 -1.6M542.6 954l-4.6 -2M301.8 943.5l6 -1.6M544.5 953.2l-4.6 -2M300.6 942.6l6 -1.6M546.4 952.4l-4.6 -2M299.3 941.7l6 -1.6M548.3 951.6l-4.6 -2M298.2 940.7l6 -1.6M550 950.8l-4.6 -2M297.1 939.8l6 -1.6M551.8 950l-4.6 -2M296 938.8l6 -1.6M553.5 949.1l-4.6 -2M295 937.9l6 -1.6M555.2 948.2l-4.6 -2M294.1 936.9l6 -1.6M556.8 947.3l-4.6 -2M293.2 935.9l6 -1.6M558.4 946.4l-4.6 -2M292.4 934.8l6 -1.6M559.9 945.5l-4.6 -2M291.6 933.8l6 -1.6M561.4 944.5l-4.6 -2M290.9 932.8l6 -1.6M562.9 943.6l-4.6 -2M290.3 931.7l6 -1.6M564.3 942.6l-4.6 -2M289.7 930.6l6 -1.6M565.6 941.5l-4.6 -2M289.2 929.5l6 -1.6M288.8 928.4l6 -1.6M288.4 927.2l6 -1.6M288.2 926.1l6 -1.6M288 924.9l6 -1.6M287.9 923.7l6 -1.6M287.8 922.5l6 -1.6M287.9 921.2l6 -1.6M288.1 919.9l6 -1.6M288.4 918.6l6 -1.6M288.8 917.3l6 -1.6M289.4 915.9l6 -1.6M290 914.5l6 -1.6M290.9 913.1l6 -1.6M291.9 911.6l6 -1.6M293.1 910l6 -1.6M294.5 908.4l6 -1.6M296.1 906.8l6 -1.6M298.1 905l6 -1.6M300.4 903.2l6 -1.6M303.2 901.3l6 -1.6M695.6 942.7l6 -1.6M693.8 941.9l6 -1.6M692 941.1l6 -1.6M690.3 940.3l6 -1.6M688.5 939.6l6 -1.6M686.7 938.8l6 -1.6M685 938l6 -1.6M683.2 937.2l6 -1.6M681.4 936.5l6 -1.6M679.7 935.7l6 -1.6M677.9 934.9l6 -1.6M676.1 934.2l6 -1.6M674.4 933.4l6 -1.6M541.2 969.4l-4.6 -2M562.4 978.7l-4.6 -2M543.5 968.8l-4.6 -2M564.7 978.1l-4.6 -2M545.8 968.2l-4.6 -2M567 977.5l-4.6 -2M548.1 967.6l-4.6 -2M569.3 976.9l-4.6 -2M550.4 967l-4.6 -2M571.6 976.3l-4.6 -2M552.7 966.4l-4.6 -2M573.9 975.7l-4.6 -2M555 965.8l-4.6 -2M576.2 975.1l-4.6 -2M557.3 965.2l-4.6 -2M578.6 974.5l-4.6 -2M559.6 964.6l-4.6 -2M580.9 973.9l-4.6 -2M561.9 964l-4.6 -2M583.2 973.3l-4.6 -2M564.3 963.5l-4.6 -2M585.5 972.7l-4.6 -2M566.6 962.9l-4.6 -2M587.8 972.1l-4.6 -2M568.9 962.3l-4.6 -2M590.1 971.5l-4.6 -2M571.2 961.7l-4.6 -2M592.4 971l-4.6 -2M573.5 961.1l-4.6 -2M594.7 970.4l-4.6 -2M575.8 960.5l-4.6 -2M597 969.8l-4.6 -2M578.1 959.9l-4.6 -2M599.3 969.2l-4.6 -2M580.4 959.3l-4.6 -2M601.6 968.6l-4.6 -2M582.7 958.7l-4.6 -2M603.9 968l-4.6 -2M585 958.1l-4.6 -2M606.3 967.4l-4.6 -2M587.3 957.5l-4.6 -2M608.6 966.8l-4.6 -2M589.6 956.9l-4.6 -2M610.9 966.2l-4.6 -2M592 956.3l-4.6 -2M613.2 965.6l-4.6 -2M594.3 955.7l-4.6 -2M615.5 965l-4.6 -2M596.6 955.1l-4.6 -2M617.8 964.4l-4.6 -2M598.9 954.5l-4.6 -2M620.1 963.8l-4.6 -2M601.2 953.9l-4.6 -2M622.4 963.2l-4.6 -2M603.5 953.3l-4.6 -2M624.7 962.6l-4.6 -2M605.8 952.7l-4.6 -2M627 962l-4.6 -2M608.1 952.1l-4.6 -2M629.3 961.4l-4.6 -2M610.4 951.5l-4.6 -2M631.6 960.8l-4.6 -2M612.7 950.9l-4.6 -2M634 960.2l-4.6 -2M615 950.3l-4.6 -2M636.3 959.6l-4.6 -2M617.3 949.7l-4.6 -2M638.6 959l-4.6 -2M619.7 949.1l-4.6 -2M640.9 958.4l-4.6 -2M622 948.5l-4.6 -2M643.2 957.8l-4.6 -2M624.3 947.9l-4.6 -2M645.5 957.2l-4.6 -2M626.6 947.3l-4.6 -2M647.8 956.6l-4.6 -2M628.9 946.7l-4.6 -2M650.1 956l-4.6 -2M631.2 946.1l-4.6 -2M652.4 955.4l-4.6 -2M633.5 945.5l-4.6 -2M654.7 954.8l-4.6 -2M635.8 944.9l-4.6 -2M657 954.2l-4.6 -2M638.1 944.4l-4.6 -2M659.3 953.6l-4.6 -2M640.4 943.8l-4.6 -2M661.6 953l-4.6 -2M642.7 943.2l-4.6 -2M664 952.4l-4.6 -2M645 942.6l-4.6 -2M666.3 951.9l-4.6 -2M647.3 942l-4.6 -2M668.6 951.3l-4.6 -2M649.7 941.4l-4.6 -2M670.9 950.7l-4.6 -2M652 940.8l-4.6 -2M673.2 950.1l-4.6 -2M654.3 940.2l-4.6 -2M675.5 949.5l-4.6 -2M656.6 939.6l-4.6 -2M677.8 948.9l-4.6 -2M658.9 939l-4.6 -2M680.1 948.3l-4.6 -2M661.2 938.4l-4.6 -2M682.4 947.7l-4.6 -2M663.5 937.8l-4.6 -2M684.7 947.1l-4.6 -2M665.8 937.2l-4.6 -2M687 946.5l-4.6 -2M668.1 936.6l-4.6 -2M689.3 945.9l-4.6 -2M670.4 936l-4.6 -2M691.7 945.3l-4.6 -2M672.7 935.4l-4.6 -2M694 944.7l-4.6 -2M675 934.8l-4.6 -2M696.3 944.1l-4.6 -2M677.4 934.2l-4.6 -2M698.6 943.5l-4.6 -2M679.7 933.6l-4.6 -2M700.9 942.9l-4.6 -2"/>
<g clip-path="url(#outc)" stroke-width=".7">
<path class="n18" d="M532.9 986.7l0 2.4-2.7 5.1-2.8-5.8-3.2-2.6-4.6-2.5-4.7-1.6-3.2-.2-.8 .4-1.5 2.7-.7 .2-2.5-7.2 0-2.6"/><path class="n18" d="M530.8 987.4l0 2.4-1 1.3-1.9 4.4-2.8-6.1-3.2-2.8-4.7-2.6-4.6-1.5-3.2-.1-.9 .5-1.4 2.9-.7 .3-2.7-8.1 0-2.5"/><path class="n18" d="M528.5 988l0 2.5-1 1.5-2 4.8-2.7-6.5-3.2-2.9-4.7-2.6-4.6-1.5-3.2 0-.9 .5-1.5 3.2-.6 .3-3-8.9 0-2.4"/><path class="n18" d="M526.4 988.7l0 2.4-1.2 1.8-2 5.2-2.7-6.9-3.2-2.9-4.7-2.7-4.6-1.5-3.2 .1-.9 .6-1.5 3.4-.6 .3-3-9.4 0-2.5"/><path class="n18" d="M524.1 989.3l0 2.6-1.3 1.9-1.9 5.5-2.7-7.2-3.2-3-4.7-2.7-4.6-1.5-3.2 .2-.9 .7-1.5 3.7-.6 .4-1.9-7.4-1.3-2.9 0-2.5"/><path class="n18" d="M522 990l0 2.5-1.3 1.7-2.1 6.4-2.7-7.6-3.2-3.1-4.7-2.7-4.7-1.4-3.1 .2-.9 .7-1.5 4-.6 .4-1.9-7.7-1.5-3.4 0-2.4"/><path class="n18" d="M519.9 990.7l0 2.3-1.5 2-2.1 6.9-2.7-8-3.2-3.2-4.7-2.7-4.7-1.4-3.1 .3-.9 .8-1.5 4.3-.6 .4-1.9-8.1-1.5-3.6 0-2.5"/><path class="n18" d="M517.6 991.3l0 2.5-1.5 2.1-2.1 7.2-2.8-8.2-3.1-3.3-4.7-2.8-4.7-1.4-3.2 .5-.8 .8-1.5 4.5-.6 .5-1.9-8.5-1.7-4.1 0-2.4"/><path class="n18" d="M515.5 991.9l0 2.5-1.7 2.4-2.1 7.6-2.8-8.6-3.1-3.4-4.7-2.9-4.7-1.3-3.2 .6-.8 .9-1.5 4.7-.6 .5-1.9-8.9-1.7-4.2 0-2.5"/><path class="n18" d="M513.2 992.5l0 2.6-1.7 2.5-2.1 8.1-2.8-9-3.2-3.5-4.6-2.9-4.7-1.3-3.2 .6-.8 1-1.5 5-.6 .6-2.2-10.1-1.7-3.9 0-2.4"/><path class="n17" d="M511.1 993.2l0 2.5-1 1-.9 1.8-2.1 8.5-2.8-9.4-3.2-3.6-4.6-2.9-4.7-1.3-3.2 .8-.8 1-1.5 5.3-.7 .6-2.1-10.5-1.7-4.1 0-2.5"/><path class="n17" d="M508.8 993.8l0 2.6-1.1 1-.8 2-2.1 8.8-2.8-9.6-3.2-3.8-4.6-2.9-4.7-1.2-3.2 .8-.8 1.1-1.5 5.5-.7 .6-2.1-10.9-1.9-4.5 0-2.4"/><path class="n17" d="M506.7 994.5l0 2.4-1 1-.9 1.7-2.3 9.9-2.8-10-3.2-3.9-4.6-2.9-4.7-1.2-3.2 .9-.8 1.2-1.5 5.7-.7 .7-2.1-11.3-1.9-4.7 0-2.5"/><path class="n17" d="M504.4 995.1l0 2.5-1.1 1-.8 1.8-2.3 10.4-2.8-10.4-3.2-3.9-4.7-3-4.6-1.2-3.2 1-.9 1.2-1.4 6.1-.7 .7-2.1-11.7-2.1-5.2 0-2.4"/><path class="n17" d="M502.3 995.8l0 2.4-1.3 1.2-.8 1.8-2.3 10.8-2.8-10.7-3.2-4-4.7-3.1-4.6-1.1-3.2 1.1-.9 1.3-1.4 6.3-.7 .7-2.1-12.1-2.1-5.3 0-2.5"/><path class="n17" d="M500 996.4l0 2.5-1.3 1.2-.8 2-2.4 11.2-2.7-11.1-3.2-4.1-4.7-3.1-4.6-1-3.2 1.1-.9 1.4-1.5 6.5-.6 .8-2.1-12.6-1.1-3.4-1.3-2.3 0-2.4"/><path class="n17" d="M497.9 997.1l0 2.4-1.5 1.4-1 2.8-2.2 10.9-2.7-11.5-3.2-4.1-4.7-3.2-4.6-1-3.2 1.2-.9 1.4-1.5 6.8-.6 .9-2.1-13-1.1-3.6-1.3-2.3 0-2.5"/><path class="n17" d="M495.6 997.7l0 2.5-1.5 1.4-1.1 2.9-2.1 11.4-2.7-11.8-3.2-4.3-4.7-3.2-4.7-1-3.1 1.4-.9 1.4-1.5 7.1-.6 .9-2.1-13.4-1.1-3.7-1.5-2.7 0-2.4"/><path class="n17" d="M493.3 998.3l0 2.5-1.5 1.6-1.1 3-2.1 11.7-2.7-12.1-3.2-4.4-4.7-3.2-4.7-1-3.1 1.5-.9 1.5-1.5 7.3-.6 .9-2.1-13.8-1.1-3.8-1.5-2.7 0-2.5"/><path class="n17" d="M491.2 999l0 2.4-1.7 1.7-1.1 3.2-2.1 12.1-2.7-12.5-3.2-4.5-4.7-3.2-4.7-1-3.2 1.6-.8 1.6-1.5 7.5-.6 1-2.1-14.2-1.1-3.9-1.5-2.9 0-2.5"/><path class="n17" d="M488.9 999.6l0 2.5-1.7 1.8-1.1 3.2-2.1 12.6-2.8-12.9-3.1-4.6-4.7-3.2-4.7-.9-3.2 1.6-.8 1.6-1.5 7.9-.6 1-2.2-14.7-1-4-1.7-3.2 0-2.4"/><path class="n16" d="M486.8 1000.3l0 2.4-1.7 1.5-1.1 2.9-2.3 13.8-2.8-13.2-3.1-4.6-4.7-3.4-4.7-.8-3.2 1.7-.8 1.7-1.5 8.1-.6 1-2.2-15.1-1-4.1-1.7-3.2 0-2.5"/><path class="n16" d="M484.5 1000.9l0 2.4-1.7 1.7-1.1 2.9-2.3 14.3-2.8-13.5-3.2-4.8-4.6-3.4-4.7-.8-3.2 1.8-.8 1.8-1.5 8.3-.7 1.1-2.1-15.5-1.2-4.7-1.7-3.1 0-2.4"/><path class="n16" d="M482.2 1001.5l0 2.5-1.7 1.7-1.1 3.1-2.3 14.7-2.8-13.9-3.2-4.9-4.6-3.4-4.7-.8-3.2 1.9-.8 1.8-1.5 8.7-.7 1.1-2.1-15.9-1.3-4.9-1.7-3.1 0-2.5"/><path class="n15" d="M446.7 1011.7l0 2.4-1.2 .6-1.1 1.2-1.5 4.2-2.8 24-2.7-19.6-3.2-6.4-1.9-2.1-2.8-2-2.7-.5-1.9 .3-3.2 3.5-1.1 4-1.7 13.5-2.7-25.7-1.5-5.9-2.6-4.3 0-2.4"/><path class="n16" d="M480.1 1002.1l0 2.5-1.7 1.5-1.3 3.5-2.3 15.2-2.8-14.3-3.2-5-4.6-3.4-4.7-.8-3.2 2.1-.8 1.8-1.5 8.9-.7 1.1-2.1-16.3-1.3-5-1.7-3.2 0-2.5"/><path class="n15" d="M444.6 1012.3l0 2.5-1.5 .7-1 1.3-1.5 4.3-2.8 24.6-2.7-20-3.2-6.6-1.9-2.2-2.8-2-2.7-.5-1.9 .4-3.2 3.7-1.1 4.1-1.7 13.8-3-27.4-1.4-5.5-2.6-4 0-2.5"/><path class="n16" d="M477.8 1002.7l0 2.5-1.7 1.6-1.3 3.6-2.3 15.6-2.8-14.6-3.2-5-4.7-3.5-4.6-.7-3.2 2.1-.9 1.9-1.4 9.1-.7 1.2-2.3-17.8-1.3-4.6-1.7-3 0-2.4"/><path class="n14" d="M442.7 1013.1l0 2.5-1.4 .6-1.3 1.4-1.7 4.8-2.8 25.2-2.7-20.4-3.4-7.3-1.9-2.2-2.6-1.9-2.5-.4-1.9 .4-1.3 1-2.1 3.1-1.1 4.3-1.7 14.1-3-28-1.7-6.2-2.7-4.2 0-2.5"/><path class="n16" d="M475.7 1003.4l0 2.4-1.9 1.7-1.3 3.8-2.3 16-2.8-15-3.2-5.1-4.7-3.6-4.6-.6-3.2 2.2-.9 2-1.4 9.4-.7 1.2-2.3-18.3-1.3-4.7-1.7-3 0-2.5"/><path class="n14" d="M441.1 1014l0 2.5-1.7 .6-1.3 1.2-1.9 4.9-3 26.9-1.9-16.6-1-5.1-3.4-7.5-2.6-2.8-1.9-.9-1.9-.7-2.3 .7-1.3 1.2-2.1 3.4-1.1 4.5-1.7 14.5-3.2-29.9-1.9-6.4-3-4.4 0-2.4"/><path class="n16" d="M473.4 1004l0 2.5-1.9 1.8-1.3 3.8-2.4 16.5-2.7-15.4-3.2-5.2-4.7-3.6-4.6-.6-3.2 2.3-.9 2.1-1.5 9.6-.6 1.2-2.3-18.7-1.3-4.8-1.7-3.1 0-2.5"/><path class="n14" d="M439.6 1015l0 2.4-1.9 .7-1.5 1.5-2.1 5.3-1.3 8.3-1.9 20.7-1.9-17.1-1.1-5.5-2.1-6.1-1.7-3.3-3.8-2.7-2.8-.8-1.2 .1-1.7 1.9-2.2 4.3-1 4.9-1.7 15-3.2-31.1-2.1-7.6-3.4-5.4 0-2.4"/><path class="n16" d="M471.1 1004.6l0 2.5-2 1.9-1.2 3.9-2.4 16.9-2.7-15.6-3.2-5.4-4.7-3.6-4.6-.6-3.2 2.4-.9 2.1-1.5 9.9-.6 1.3-2.3-19.2-1.3-4.9-1.9-3.4 0-2.4"/><path class="n13" d="M437.9 1015.8l0 2.5-1.9 .8-1.7 2-2.3 6.8-1.3 8.5-2.1 23.9-2.3-21.3-2.4-9.6-.8-2.5-1.3-1.8-3.8-3.1-2.1-.5-1.9 .3-1.3 .6-.9 2-2.3 7.7-2.1 18.9-2.4-26.6-1.2-9.3-2.4-8.5-3.4-5.7 0-2.5"/><path class="n16" d="M469 1005.3l0 2.4-2 1.6-1.2 3.5-2.6 18.3-2.7-16-3.2-5.5-4.7-3.6-2.7-.6-2 0-3.1 2.5-.9 2.2-1.5 10.1-.6 1.4-2.3-19.7-1.3-4.9-1.9-3.5 0-2.5"/><path class="n11" d="M436.1 1016.6l0 2.5-2.4 1.6-1.7 3-1.9 7.4-1.5 11.4-2.3 29.7-2.1-22.8-1.5-10.2-3.2-8.7-1.7-2.4-2.1-1.6-2.1-.4-1.9 1.1-1.7 2.4-1.5 3.7-1.5 9.2-1.9 20.4-.7-4.3-1.9-28.3-1.5-12.4-1.9-8.8-1.7-4.4-2.3-3.6 0-2.4"/><path class="n16" d="M466.7 1005.9l0 2.5-2 1.6-1.2 3.6-2.6 18.8-2.7-16.4-3.2-5.5-4.7-3.7-2.8-.6-1.9 .1-3.1 2.5-.9 2.3-1.5 10.4-.6 1.3-2.4-20-1.2-5.1-2.1-3.8 0-2.4"/><path class="n8" d="M434.2 1017.4l0 2.4-2.4 1.7-1.7 3.4-2.1 10.3-1.5 15.5-2.5 44.3-.6-4.9-1.3-23.5-2.4-17.9-1.2-5.8-1.5-4.3-1.7-2.8-1.9-1.6-2.1-.1-1.7 1.4-1.5 3.1-1.3 4.8-2.3 16.2-1.7 26.1-.7-5.4-2.1-42.3-1.5-16.3-2.1-11.8-1.7-4.8-2.3-3.6 0-2.4"/><path class="n16" d="M464.3 1006.5l0 2.5-1.9 1.7-1.2 3.7-2.6 19.3-2.7-16.8-3.2-5.6-4.7-3.7-2.8-.6-1.9 .1-3.2 2.6-.8 2.3-1.5 10.7-.6 1.4-2.4-20.5-1.2-5.2-2.2-3.8 0-2.5"/><path class="n3" d="M432.1 1018.1l0 2.4-2.6 1.9-1.9 4.6-1.5 7.7-1 10-1.7 32.2-1.7 61.1-1.9-43.6-1.9-22.9-1.3-8.2-1.5-5.7-1.9-3.9-2.1-1.9-2.4 0-1.9 2.4-1.5 4.5-1.2 7.3-2.2 25.5-1.4 37.3-2-64.8-1.7-32.5-2.3-18.4-1.9-6.6-2.5-4.3 0-2.5"/><path class="n15" d="M462.2 1007.2l0 2.4-2.1 1.9-1.2 3.7-2.6 19.7-2.8-17.1-3.1-5.7-4.7-3.7-2.8-.7-1.9 .2-3.2 2.8-.8 2.3-1.5 10.9-.6 1.5-2.4-21-1.2-5.3-2.2-3.9 0-2.5"/><path class="n13" d="M428.1 1018l0 2.5-1.3 1-1.3 2.1-1.9 6.3-4.2 31.2-.9-3.1-2.3-20.2-1.9-11.1-2.4-6.8-1.4-2.2-1.7-1.3-1.7-.3-1.5 .8-1.3 1.8-1.3 3.4-1.5 6.9-2.5 19.5-.8 3.3-.9-3.7-3.6-31.7-1.9-7.8-2.6-5.2 0-2.5"/><path class="n15" d="M459.9 1007.8l0 2.5-2.1 1.9-1.3 3.8-2.5 20.2-2.8-17.4-3.1-5.9-4.7-3.8-2.8-.5-1.9 .1-3.2 2.9-.8 2.4-1.5 11.2-.6 1.5-2.6-22.6-1.3-4.8-2.1-3.7 0-2.4"/><path class="n15" d="M457.8 1008.5l0 2.4-2.1 1.6-1.5 4.4-2.5 20.6-2.8-17.8-3.2-5.9-4.6-3.9-2.8-.5-1.9 .2-3.2 2.9-.8 2.5-1.5 11.4-.6 1.5-2.6-23-1.3-4.9-2.1-3.8 0-2.4"/><path class="n15" d="M455.5 1009.1l0 2.4-2.1 1.7-1.5 4.5-2.5 21.1-2.8-18.2-3.2-6-4.6-3.9-2.8-.5-1.9 .2-3.2 3-.8 2.6-1.5 11.6-.7 1.6-2.5-23.5-1.3-5-2.1-3.8 0-2.5"/><path class="n15" d="M453.2 1009.7l0 2.5-2.1 1.8-1.5 4.5-2.5 21.5-2.8-18.5-3.2-6.1-4.6-3.9-2.8-.5-1.9 .2-3.2 3.1-.8 2.6-1.5 12-.7 1.6-2.5-24-1.5-5.6-2.1-3.6 0-2.4"/><path class="n15" d="M451.1 1010.4l0 2.4-1.2 .6-1.1 1.3-1.5 4.6-2.5 22-2.8-18.8-3.2-6.2-4.6-4-2.8-.5-1.9 .3-3.2 3.2-.9 2.6-1.4 12.2-.7 1.7-2.5-24.5-1.5-5.7-2.1-3.6 0-2.5"/><path class="n15" d="M448.8 1011l0 2.5-1.2 .6-1.1 1.3-1.5 4.8-2.5 22.5-2.8-19.2-3.2-6.4-4.7-4-2.7-.5-1.9 .3-3.2 3.3-.9 2.8-1.4 12.4-.7 1.7-2.5-24.9-1.5-5.8-2.3-4 0-2.4"/><path class="n17" d="M425.3 1018.4l0 2.4-1.7 1.2-1.4 2.3-3.9 10.9-1.2 1.5-1.3-2.1-4.7-15.6-2.1-3.7-2.5-2.1-2.6-.2-2.1 1.6-1.7 3.1-3.2 8.8-.8 .9-.7-.3-4.7-16.2-3.1-6.5 0-2.6"/><path class="n18" d="M422 1018.5l0 2.5-2.1 1.2-3.7 3.6-1.4 .3-1.5-1.4-4.3-7.4-2.7-3.2 0-2.5"/>
</g>
<g stroke-width=".7" stroke-linejoin="round">
<path class="j20" d="M304.2 902.6l0-2.5-.7-.5-.4 0 0 2.6"/><path class="ww" d="M305.8 899.4l-1.1 .1-1 .1-1.1 .1-.9 .1-.9 .1-.9 .2 0 5.2 .9-.7 .9-.8 .9-.8 1.1-.7 1-.8 1.1-.7z"/><path class="j20" d="M304.8 904.5l0-2.7-2.1-5.3-1.7 3.7 0 2.7"/><path class="j20" d="M302.5 905.1l0-2.6-2.1-4.6-.8 .5-1.5 2.2 0 2.6"/><path class="j20" d="M301.7 906.4l0-2.6-1.9-3.7-1.9 2.2 0 2.4"/><path class="j20" d="M302.8 908.5l-.2-3.1-4.1-5.1-2.1 2.9 0 2.5"/><path class="ww" d="M299.9 900.1l-.9 .1-.8 .2-.8 .1-.7 0-.7 0-.6 .1 0 9.5 .6-.8 .7-.8 .7-.8 .8-.8 .8-.8 .9-.8z"/><path class="j22" d="M300.3 909l0-2.6-1.1-3.6-1.7-13-2.5 14.1 0 2.7"/><path class="j20" d="M337.8 909.3l0-2.6-1.3-3.1-1 1.8 0 2.9"/><path class="j21" d="M299.5 910.2l0-2.5-3-7.2-1.7 2-1.5 .7-1.3 1.2 0 2.6"/><path class="ww" d="M338.6 906.1l-.8 .2-.7 .2-.6 .2-.7 .2-.6 .2-.6 .3 0 3.6 .6-.6 .6-.6 .7-.5 .6-.6 .7-.6 .8-.5z"/><path class="j20" d="M336.5 910.4l0-2.6-.8-.8-.9 .2 0 2.4"/><path class="j21" d="M301.2 912.6l0-2.4-.4-.9-.9-1.4-1.5-.5-.6-.7-2.4-6.2-2.9 5.8 0 2.5"/><path class="j20" d="M337 912.2l0-2.7-1.5-4.6-2.1 3.1 0 2.6"/><path class="j22" d="M298.4 913l0-2.6-1.2-4.8-1.9-15.9-2 13-.8 2.9-1.3 1.8 0 2.4"/><path class="j20" d="M335.3 913l0-2.4-1.5-2.6-1.7-1.7-.6 .4-.8 1.7 0 2.6"/><path class="j22" d="M298 914.4l0-2.4-1.9-3.6-2.7-10.6-.9-1.7-2.9 12.1 0 2.5"/><path class="ww" d="M295.4 900.6l-.6 0-.6 0-.5 0-.5 .1-.4 0-.4 .1 0 14.2 .4-.8 .4-.8 .5-.9 .5-.8 .6-.8 .6-.8z"/><path class="ww" d="M334.6 907.4l-.6 .2-.5 .1-.5 .2-.5 .1-.4 .2-.4 .2 0 6.1 .4-.6 .4-.6 .5-.6 .5-.6 .5-.5 .6-.6z"/><path class="j20" d="M336.2 915l0-2.8-.6-1.8-.5-.5-1.2 0-1.3-1.8-.6 .2-1.3 1.7 0 2.6"/><path class="j21" d="M299.3 916.6l0-2.6-.8-2.4-.6-1.2-1.5 .2-.7-.8-2.7-9.1-2.6 7.3-1 1.1-1.7-.8-.9 .2 0 2.6"/><path class="j22" d="M334.3 915.8l0-2.4-1.5-3.6-1.5-10.4-1.2 8.9-.9 2.9 0 2.4"/><path class="j23" d="M297.5 917.4l0-2.5-1.3-2.2-.6-3.2-1.5-16.1-.7-2.9-2.5 14.8-1.3 3.8-1.5 1.7 0 2.5"/><path class="j20" d="M335.6 918l0-2.6-.6-1.9-.4-.5-1.3 .4-2.4-4.7-2.3 3-1.5-.8-.6 .5 0 2.6"/><path class="j23" d="M297.5 919l0-2.4-2.1-3.2-1.5-4.6-3.2-19.3-1.9 17.8-.7 3.2-.8 1.5 0 2.5"/><path class="ww" d="M331.7 908.4l-.4 .1-.3 .2-.3 .1-.3 .2-.3 .2-.2 .1 0 8.8 .2-.6 .3-.6 .3-.6 .3-.6 .3-.6 .4-.6z"/><path class="ww" d="M292.4 900.8l-.3 0-.3 0-.3 .1-.2 0-.2 .1-.1 0 0 19 .1-.9 .2-.8 .2-.8 .3-.8 .3-.9 .3-.8z"/><path class="j22" d="M333.7 918.8l0-2.5-1-1.9-.7-3-1.2-13.4-1.5 11.4-.7 2.2-1.2 1.8 0 2.6"/><path class="j22" d="M297.9 920.8l0-2.6-1.7-6.7-.4-.8-1 1.1-.7-.4-2.7-10.5-2.8 9.5-.6 .6-1.3-1-.6 .3-1.3 2.3 0 2.4"/><path class="j21" d="M335 921l0-2.7-.8-3.2-.4-.3-.9 1.2-.4-.3-2.8-6.3-1.5 1.7-.8-1.5-.4 0-1.3 4.5 0 2.8"/><path class="ww" d="M329.9 909.3l-.2 .2-.1 .2-.2 .2-.1 .1 0 .2-.1 .2 0 11.3 .1-.6 0-.6 .1-.6 .2-.6 .1-.6 .2-.6z"/><path class="j25" d="M297.5 922.2l0-2.4-2.3-3.5-1.1-4.2-2.1-30-2.3 23.5-1.7 6.4-1.1 1.8-1.2 .8 0 2.4"/><path class="j20" d="M300.7 920.4l0-2.6-.9-1.3-1.3 .5 0 2.5"/><path class="j20" d="M282.3 920.4l0-2.4-.8-.8-.9 .1 0 2.4"/><path class="j23" d="M299.3 924.6l0-2.4-1.3-3.8-.4-.3-1.5 1.1-1.9-4.1-4.9-23.4-2.1 20.3-.9 3-1.3 1 0 2.4"/><path class="j23" d="M334 922.1l0-2.4-1.7-2.8-.6-2.4-1.5-17-1.5 12.7-1.5 4-1.5 1.8 0 2.5"/><path class="j21" d="M334.4 923.9l0-2.9-1-5.1-.4 .1-.7 1.5-.4-.1-2.3-6.8-.5-.3-1 1.1-1.1-3.3-2.1 9.2 0 2.4"/><path class="ww" d="M291 901l-.1 .1 0 0-.1 .9 .1 1 .1 .9 .1 .9 0 20.2-.1-.9-.1-.8-.1-.8 .1-.9 0-.8 .1-.8z"/><path class="j22" d="M298 925.7l0-2.4-1.5-1.9-.6-2-1.7-13.5-.4-.3-1.1 2.6-1.9-6.2-.6 1.2-2.6 10.6-.8 1-1.3-1.7-.6 .2-1.5 3.5 0 2.4"/><path class="ww" d="M329.2 910.4l0 .6 .1 .7 0 .7 .1 .6 .1 .7 .2 .6 0 11.1-.2-.6-.1-.6-.1-.7 0-.6-.1-.6 0-.6z"/><path class="j20" d="M337.2 923.5l-.2-2.8-.5 0 0 2.5"/><path class="j23" d="M334.5 925.5l0-2.4-1.9-2.8-1.3-3.9-1.5-19.8-1.7 16.7-1.5 3.4-1.5 1.7-.8 .2-1.1-1.5-.6 0-.4 .7 0 2.3"/><path class="j20" d="M324.1 924.2l0-2.4-1-1.8-.9 .8 0 2.6"/><path class="j20" d="M301.8 924.1l0-2.6-.4-.4-.7 .1 0 2.4"/><path class="j26" d="M300.6 928.4l0-2.6-.9-2.4-.6-.4-1.3 1.2-1.5-1.7-1.9-4.3-1.2-5.3-2.4-39.3-1.9 36.2-1.7 6.3-1.3 1.8-1.7 .9 0 2.4"/><path class="j20" d="M280.9 924.6l0-2.4-.4-.4-.4 0 0 2.4"/><path class="j22" d="M299.1 929.4l0-2.5-1.5-2.5-1.4-9.1-.5-.2-1 2.7-.4-.5-2.2-9.4-.8-2.1-2.1 5.2-1.5-3.7-1.7 10.6-.7 1.8-1.2 .7 0 2.4"/><path class="j20" d="M336.8 926.6l0-2.5-.6-1.7-1.1 1 0 2.4"/><path class="j21" d="M335.1 927.4l0-2.4-1-1.7-1.5-9.3-1.1 3.7-1.9-3.8-1.9 1.8-1.3-3.9-1 6.7-.9 1.8 0 2.5"/><path class="j23" d="M336.6 929.7l0-2.8-1-5-1.1 2.4-.4-.2-3-7.1-1.5-16.6-1.4 17.6-1.5 2.9-2.2 1.1 0 2.4"/><path class="j20" d="M323.5 927.2l0-2.6-.6-.8-.4 .4 0 2.5"/><path class="ww" d="M329.7 914.3l.2 .7 .2 .7 .3 .6 .2 .7 .4 .6 .3 .7 0 10.7-.3-.6-.4-.6-.2-.6-.3-.6-.2-.6-.2-.6z"/><path class="ww" d="M291.1 904.8l.2 1 .2 .9 .2 .9 .3 .9 .4 1 .4 .9 0 19.5-.4-.8-.4-.8-.3-.8-.2-.9-.2-.8-.2-.8z"/><path class="j20" d="M303.1 927.9l0-2.4-.4-.4-.2 2.5"/><path class="ww" d="M649.7 907.4l6.9-3.9 6.9-3.8 6.9-3.8 7-3.8 0 40.5-7 1.8-6.9 1.8-6.9 1.8-6.9 1.8z"/><path class="j26" d="M302.3 932.4l0-2.4-1-3.2-.4-.3-1.3 1.5-1.1-.8-2.1-3.5-1.5-4.7-2.1-35.5-1.7 23.6-1.3 6.5-1.5 4.7-1.7 2.7-1 .1-1.3-2.1-.6 .1-1.1 2 0 2.6"/><path class="j23" d="M301.9 933.8l0-2.4-1.9-1.9-.6-1.7-1.5-9.6-.4 .3-.9 3.2-.6-.3-2.8-10.4-.6-.9-.8 .7-.5-.2-1.2-7.9-.5 .9-1.7 17.4-.8 1.8-2.3 1 0 2.5"/><path class="j20" d="M284.2 929.2l0-2.4-1.1-1.4-.8 .5 0 2.5"/><path class="j20" d="M339 929.1l-.3-2.9-.4 .1 0 2.5"/><path class="j23" d="M339.2 932.4l0-2.5-.8-3.7-.2-.3-.9 2.1-.4 .1-3-5.1-1.5-17.6-1.2 12.1-3.4 4.7-1.5-3.4-1.3 4.7 0 2.7"/><path class="j20" d="M691.3 930.7l0-2.4-2.3-1.3-2.4-.8 0 2.4"/><path class="j20" d="M692.8 932.9l0-2.3-4.2-4.4-1.9-1.3-1.9-.4-3.9 .8 0 2.4"/><path class="ww" d="M331.3 918.3l.4 .6 .4 .7 .4 .6 .5 .6 .5 .7 .5 .6 0 10.4-.5-.6-.5-.6-.5-.6-.4-.6-.4-.5-.4-.6z"/><path class="j21" d="M692.8 934.6l0-2.5-2.5-2.8-4.2-7.5-1.7-1.8-1.7 .2-3.6 3.7-2.2 1.2 0 2.5"/><path class="j20" d="M304.7 931.8l0-2.5-.5-.5-.4 .1 0 2.5"/><path class="j23" d="M711.6 944.4l0-2.5-3.2-6.4-3.9-14.4-1-2.5-.7-.2-.8 1.1-3 8.4-1.9 3.6-2.1 1.6-2.3-.2-2.6-2-2.1-3.5-1.9-5.4-2.8-10.3-1.3-2.6-.6 .2-.6 1-4.1 11.6-1.4 2.2-1.7 1.2 0 2.4"/><path class="j20" d="M341.3 931.7l-.2-2.6 0 2.6"/><path class="ww" d="M292.8 910.4l.4 .9 .5 .9 .5 .9 .5 .9 .6 .9 .7 .9 0 19-.7-.8-.6-.8-.5-.8-.5-.8-.5-.9-.4-.8z"/><path class="j26" d="M709.9 945.2l0-2.3-2.6-5.1-2.1-8.7-4.2-35.4-.9 2.4-2.3 18.5-1.9 9.5-2.4 4.9-1.4 .9-1.7-.1-1.7-1.3-1.5-2.1-2.6-7.5-1.5-8.3-2.5-22.1-.9-4.1-.8 3.1-2.1 19.6-1.5 9.3-1.9 6.2-1.3 2-1.3 1 0 2.5"/><path class="j26" d="M304.5 936.5l0-2.4-1.7-5.7-1.3 2.2-.8-.1-2.3-4.2-1.5-4.6-2.1-34.2-1.3 20.4-.9 6.1-2.1 6.7-1.7 3.1-.8 .2-1.3-2.9-.4 0-1.7 4.3 0 2.4"/><path class="j22" d="M342 935.3l0-2.6-1.1-4.5-1.2 2.6-3-4-1.5-14.4-1.3 9.1-1.4-.8-1.7 1.2-1.3-6.4-1.3 8.9-.6 1.1-1.3 .4 0 2.5"/><path class="j23" d="M308.8 940l0-2.6-1.3-3.9-1.7 2.1-2.3-2.1-1.7-2.5-2.1-17.1-1.5 7.6-2.6-6.3-.6 0-1.1 1.7-.4 0-1.5-9-1.9 17.1-1 1.8-2.8 .9 0 2.5"/><path class="j36" d="M709.1 946.5l0-2.4-2.6-4.2-1.9-6.3-1.5-9.2-1-11-1.7-34-1.7-63.2-2 42.6-1.9 21.6-1.2 7.1-1.5 4.5-1.9 2.3-2.2 0-2.3-2.1-1.9-4-1.5-5.9-1.3-8.5-2.1-27.9-1.5-39.1-1.9 63.8-1.7 31.3-1 9.8-1.3 6.8-1.9 4.9-2.6 2.2 0 2.5"/><path class="j20" d="M286.6 933.5l0-2.6-.9-1.3-.8 .5 0 2.7"/><path class="j20" d="M326.8 933.4l-.2-2.6-.2 2.4"/><path class="j31" d="M706.5 947l0-2.5-2.3-3.7-1.7-5-2.1-12.2-1.5-17-2.5-46.8-.7 4.3-1.3 22.6-2.3 16.1-1.3 4.8-1.5 3-1.7 1.4-1.9-.1-2.1-1.7-1.7-2.9-1.5-4.5-1.2-6-2.4-18.5-1.7-27.8-.6 4.8-2.1 40.8-1.5 15.1-2.1 10.1-1.7 3.3-2.4 1.7 0 2.4"/><path class="ww" d="M334 922.1l.6 .6 .5 .7 .7 .6 .6 .6 .7 .6 .7 .6 0 10.1-.7-.6-.7-.5-.6-.6-.7-.6-.5-.5-.6-.6z"/><path class="j28" d="M704 947.5l0-2.4-2.3-3.4-1.7-4.3-2.1-9.8-1.5-12.8-2.4-31.8-.6 3.2-1.5 17.8-1.5 8.9-1.5 3.6-1.7 2.5-1.6 .9-2.2-.2-2.1-1.6-1.9-2.7-3.2-9-1.5-10.6-1.9-22.1-.6 3.7-1.9 26.7-1.5 11.2-1.9 7.2-1.7 2.9-2.4 1.6 0 2.5"/><path class="j20" d="M343.9 934.5l-.2-2.9-.2 2.7"/><path class="j26" d="M701.1 947.8l0-2.4-1.9-2.6-1.7-3.5-2.4-8.8-1.2-9.7-2.2-25.8-2.3 19.2-2.3 7.7-.9 1.8-1.3 .6-1.9 .3-1.9-.5-2.1-1.3-1.9-2-1.3-1.8-.8-2.7-2.4-9.8-2.1-20.8-.6 3.3-1.7 21.3-1.3 8.2-2.3 6.5-1.7 2-1.9 .9 0 2.3"/><path class="ww" d="M622 922.6l6.9-3.8 6.9-3.8 6.9-3.8 7-3.8 0 32.4-7 1.8-6.9 1.7-6.9 1.8-6.9 1.8z"/><path class="j22" d="M350.1 940.4l0-2.5-1.1-4-.8 2.3-.6 .4-2.8-2.2-1.1-6.1-1.2 4.1-2.8-3.2-1.7-14.7-1.1 9.8-.2 .3-1.5-.9-1.4 .1-1.3-9-1.5 11.8-1.3 1-1.9 .5-1.7-2.6-.6 1.5 0 2.6"/><path class="j25" d="M698.1 948.1l0-2.4-3.4-5.2-2.1-7.2-1.3-9.4-1.9-22.4-1.9 15.4-1 4.6-2.2 4.2-1.7 1.9-1.2 .1-2.6-.7-2.5-1.5-1.5-1.4-1.7-3.4-2.1-6.2-1.1-5.8-1.7-16.5-3.2 28.3-2.1 5.8-1.5 1.6-1.9 .8 0 2.5"/><path class="j20" d="M306.4 935.8l0-2.7-.6-1.1-.9 .6 0 2.5"/><path class="j25" d="M695 948.3l0-2.4-3-4.5-1.9-6.6-3-29.4-1.9 14.8-1.1 4.2-2.1 3.4-1.2 1.1-2.6 .6-1.7-.6-1.9-1-2.6-2.8-3.3-7.7-1.1-5.4-1.7-15.9-3.2 27.1-1.9 4.6-1.3 1.2-1.7 .6 0 2.5"/><path class="j20" d="M330 936.4l-.2-2.6 0 2.6"/><path class="j25" d="M692.2 948.8l0-2.4-2.9-4.6-1.7-6.4-2.8-27.5-1.9 14.5-.8 3.5-2.2 3.2-1.2 1.1-2 .5-2.5-.4-2.6-1.8-2.1-2.4-3.2-6.7-1-5.3-1.7-15.5-3 25.4-1.7 4.6-1.3 1.3-1.4 .6 0 2.5"/><path class="j26" d="M313.7 943.8l0-2.5-1.5-4.5-1.7 2.5-4-3.7-1.7-11.3-.2-.2-.2 .5-.9 4.8-.6 .7-3.6-9.6-.9-5.2-1.5-24.3-1.9 30.7-1.9 4.6-2.1 2.4-.9-.3-1.4-3.2-1.7 4.3 0 2.6"/><path class="ww" d="M296 915.8l.7 .9 .7 .9 .7 .9 .9 .9 .8 .9 .9 .8 0 18.4-.9-.7-.8-.8-.9-.8-.7-.8-.7-.8-.7-.8z"/><path class="j24" d="M689.5 949.2l0-2.4-2.5-3.9-1.7-6.2-2.8-26.9-1.9 14.1-.9 3.4-3.1 3.9-2 .5-2.7-.4-2.8-2-1.9-2.1-3.2-6.4-1-5.1-1.7-15.2-3 24.8-1.5 4.1-1 1.2-1.5 .7 0 2.4"/><path class="j20" d="M346.7 937.3l0-2.9-.4-.8-.5 .5 0 2.8"/><path class="ww" d="M670.9 916.6l6.9-3.8 6.9-3.8 7-3.8 6.9-3.8 0 40.5-6.9 1.8-7 1.8-6.9 1.8-6.9 1.8z"/><path class="ww" d="M337.8 925.8l.7 .7 .8 .6 .8 .6 .8 .5 .8 .6 .9 .6 0 9.8-.9-.6-.8-.5-.8-.6-.8-.5-.8-.5-.7-.6z"/><path class="j20" d="M288.7 937.7l0-2.6-.4-.5-.6 .1 0 2.5"/><path class="j24" d="M686.8 949.6l0-2.5-2.4-3.8-1.4-5.5-2.8-26.4-1.9 13.8-.9 3.3-3.1 3.7-2 .4-2.7-.4-4.7-4-3.2-6.2-1-5-1.7-14.9-2.8 23.2-1.5 4.7-1 1.3-1.5 .7 0 2.4"/><path class="j23" d="M375.2 953l0-2.9-.7-2-1.5 1.4-3.1-3.6-1.3-9.9-1.3 6.1-3-2.9-1.4-14.1-1.1 12.1-.6 1.1-2.2 0-.4-.4-1.3-10.3-1.2 10.1-2.4-.4-.6-.8-1.1-9.1-1.2 8.2-.7 0-2.1-1.4-1.5-12.2-1.3 9.7-2.5-2.2-.6-2.3-1.1-13.8-1.3 13.8-2.9 .8-1.3-8.7-1.5 10.3-1.5 .8-1.7 .2-1.3-3.2-1 2.6 0 2.6"/><path class="j24" d="M684.3 950.1l0-2.5-2.4-4-1.5-6.1-2.5-24.7-1.9 13.5-.9 3.3-3.2 3.5-1.9 .4-2.7-.5-4.7-3.8-3.2-6.2-1-4.8-1.7-14.7-2.8 22.8-1.5 4.5-1 1.3-1.3 .6 0 2.4"/><path class="j24" d="M681.9 950.7l0-2.4-2.3-4-1.5-5.9-2.5-24.3-1.9 13.3-.9 3.2-3.2 3.4-1.9 .3-2.7-.5-4.7-3.8-3.2-6-1.1-4.8-1.6-14.4-2.8 22.3-1.5 4.4-2.1 1.8 0 2.5"/><path class="j20" d="M336.6 939.3l0-2.5-.9-1.8-.6 1.2 0 2.5"/><path class="j20" d="M310.9 939.3l0-2.4-.6-.9-.5 .2 0 2.7"/><path class="j20" d="M712.5 940l0-2.4-2.3-1.3-2.5-.9 0 2.4"/><path class="j24" d="M679.4 951.2l0-2.5-2.1-3.7-1.5-5.8-2.5-23.8-1.9 13-.9 3.1-3.2 3.3-1.9 .3-2.7-.5-4.7-3.7-3.2-5.9-1.1-4.7-1.7-14.2-2.7 21.9-1.5 4.3-2.1 1.7 0 2.4"/><path class="j20" d="M351.6 939.4l0-2.5-.3 2.5"/><path class="j20" d="M713.6 942l0-2.3-3.8-4.2-1.9-1.3-1.9-.4-4.3 .6 0 2.4"/><path class="j24" d="M677.1 951.8l0-2.5-2.1-3.5-1.5-5.8-2.5-23.3-1.9 12.7-.9 3-3.2 3.3-1.9 .2-2.8-.5-4.6-3.7-3.2-5.8-1.1-4.6-1.7-13.9-2.7 21.4-1.5 4.2-2.1 1.6 0 2.4"/><path class="j25" d="M358.3 964.9l0-2.4-1.7-1.7-.6-1.5-1.5-8.9-.4 0-1.1 3.9-.4 0-4.1-9.4-.6-4.1-1.3-20-1.7 23.5-.8 2.3-2.8 2.6-.6 0-.4-1-1.3-7.3-1.5 8.7-.4 .7-1.3 .1-2.1-.3-.7-.5-1.4-5.3-1.3 4.2-.9 .5-3.6-1.6-1.5-5-1.7 3.6-3.8-1.9-1.9-6.6-1.5 4.3-3.8-2.9-.8-2.9-1.3-9.5-1.1 6.2-.6 1.3-1.9-3.2-1.9-4.6-2.2-30.3-1.7 24.9-4.2 7.2-1.7-6.7-1.7 9.5-.8 1.1-2.6 .3 0 2.4"/><path class="j21" d="M712.8 943.3l0-2.5-5.7-10-1.5-1.5-1.7 .2-4.5 3.9-2.5 .5 0 2.4"/><path class="ww" d="M342.6 929.4l.9 .6 .9 .6 1 .5 1 .6 1 .6 1 .5 0 9.4-1-.5-1-.5-1-.5-1-.5-.9-.5-.9-.5z"/><path class="j24" d="M674.8 952.4l0-2.4-2.1-3.5-1.5-5.7-2.5-22.8-2 12.4-.8 3-3.2 3.1-1.9 .2-2.8-.5-4.6-3.7-3.2-5.7-1.1-4.5-1.7-13.6-2.7 20.9-1.3 3.7-2.1 1.9 0 2.5"/><path class="j20" d="M519.9 940.8l0-2.5-.4-.4-.4 0 0 2.6"/><path class="j24" d="M672.3 952.9l0-2.5-2.1-3.8-1.3-4.9-2.6-22.4-1.9 12.1-.8 2.9-3.2 3-1.9 .2-2.8-.5-4.6-3.7-3.2-5.6-1.1-4.4-1.7-13.3-2.7 20.4-1.3 3.7-2.1 1.8 0 2.4"/><path class="j20" d="M294.5 941.8l0-2.7-.9-1.1-.6 .5 0 2.6"/><path class="ww" d="M300.7 921.1l.9 .9 1 .9 1 .8 1 .9 1.1 .8 1.1 .9 0 17.8-1.1-.8-1.1-.7-1-.8-1-.7-1-.8-.9-.8z"/><path class="ww" d="M515.9 941l1.1-.4 1-.4 1-.4 0 1.3-1 .5-1 .5-1.1 .5z"/><path class="j24" d="M670 953.5l0-2.4-2.1-3.8-1.3-4.8-2.6-22-1.9 11.9-.8 2.8-3.2 2.9-1.9 .2-2.8-.5-4.6-3.6-3.2-5.6-1.1-4.3-1.7-13.1-2.7 20-1.3 3.6-2.1 1.7 0 2.4"/><path class="j20" d="M339.4 942.2l-.2-2.8-.2 2.6"/><path class="ww" d="M594.3 937.9l6.9-3.8 6.9-3.9 6.9-3.8 7-3.8 0 24.3-7 1.8-6.9 1.8-6.9 1.8-6.9 1.8z"/><path class="j20" d="M355.2 942.6l0-2.5-.9-2.9-1 2.2 0 2.4"/><path class="j23" d="M667.7 954.1l0-2.4-2.2-3.6-1.2-4.8-2.6-21.5-1.9 11.6-.8 2.7-3.2 2.9-1.9 .1-2.8-.5-4.7-3.6-3.1-5.5-1.1-4.2-1.7-12.8-2.8 19.5-1.2 3.5-1.9 1.6 0 2.5"/><path class="j20" d="M315.4 942.9l0-2.6-.7-.9-.6 .6 0 2.3"/><path class="j23" d="M665.2 954.6l0-2.5-2-3.3-1.2-4.7-2.6-21-1.9 11.3-.8 2.6-3.2 2.8-1.9 .1-2.8-.5-4.7-3.6-3.1-5.3-1.1-4.2-1.7-12.5-2.8 19-1.2 3.4-1.9 1.6 0 2.4"/><path class="j20" d="M515.1 943.6l0-2.7-.8-1.5-1.1 .7 0 2.6"/><path class="ww" d="M348.4 932.8l1.1 .6 1.1 .5 1.1 .5 1.1 .5 1.2 .5 1.2 .5 0 9.2-1.2-.5-1.2-.5-1.1-.4-1.1-.5-1.1-.5-1.1-.5z"/><path class="j22" d="M364.8 950.1l0-2.5-2.8-2.6-1.2-6.7-1.3 4.7-3-2.9-1.3-10.6-1.2 8.5-3-1.8-1.3-11.7-1.5 10.5-2.5-.6-.4-.7-1.3-9.7-1.3 9.8-2.9 .1-1.3-6.3-1.3 6.3-3.2 0-1.5-3.2-.8 2.3 0 2.6"/><path class="j23" d="M662.8 955.2l0-2.4-1.9-3.3-1.2-4.6-2.6-20.5-1.9 11-.8 2.6-3.2 2.6-1.9 .1-2.8-.5-4.7-3.6-3.2-5.2-1-4.1-1.7-12.2-2.6 17.6-1.2 3.8-1.9 1.8 0 2.6"/><path class="ww" d="M509 943.2l1.2-.4 1.2-.3 1.2-.4 1.1-.3 1.1-.4 1.1-.4 0 1.6-1.1 .5-1.1 .5-1.1 .4-1.2 .5-1.2 .5-1.2 .4z"/><path class="j20" d="M361.7 943.9l0-2.5-.2 2.4"/><path class="j25" d="M353.9 964.6l0-2.7-1.1-2.6-1.9 1.3-4.2-4.7-2.2-14.5-1 6.2-.7 1.4-4-7.3-1.9-25.1-1.3 20.7-.4 3-.6 1-3 1.2-.7-.9-1.4-14.7-1.3 13.2-.7 2.8-3.1-.3-.9-1-1.5-13.1-1.7 11.8-.6 .2-3-2.3-.8-2.8-1.5-16.2-1.3 13.2-.4 1.1-.9-.8-2.5-3.7-.6-2-1.7-27.4-1.3 21.7-.6 4.1-4.1 3.9-1.7-10.4-1.9 14.3-1.5 1.1-2.7 .5-2.2-3.4-1.2 2.5 0 2.6"/><path class="j20" d="M351 945.6l0-2.3-2.5-1.6-1.1-4-1 2.8-.7 .3-2.7-1.2-1.5-3.7-.9 2.5 0 2.7"/><path class="j23" d="M660.3 955.7l0-2.5-1.9-3.6-1.3-5-2.3-19-1.9 10.8-.9 2.5-3.1 2.5-1.9 .1-2.8-.6-4.7-3.5-3.2-5.1-1-4-1.7-12-2.6 17.2-1.2 3.8-2 1.7 0 2.5"/><path class="ww" d="M643.2 931.9l6.9-3.8 6.9-3.8 7-3.8 6.9-3.9 0 32.5-6.9 1.7-7 1.8-6.9 1.8-6.9 1.8z"/><path class="j20" d="M345.3 944.8l-.2-2.9-.4 .1 0 2.5"/><path class="j23" d="M658 956.3l0-2.5-1.9-3.4-1.3-5-2.3-18.5-1.9 10.4-.9 2.5-3.1 2.5-2 0-2.7-.6-4.7-3.4-3.2-5.1-1-3.9-1.7-11.7-2.6 16.7-1.2 3.7-2 1.7 0 2.4"/><path class="j23" d="M655.7 956.9l0-2.4-1.9-3.4-1.3-4.9-2.3-18-1.9 10.1-.9 2.4-3.2 2.4-4.6-.6-4.7-3.4-3.2-5-1-3.8-1.7-11.4-2.6 16.3-1.3 3.5-1.7 1.5 0 2.5"/><path class="j20" d="M300 945.8l0-2.4-.8-1.3-.6 .4 0 2.7"/><path class="ww" d="M552.4 945.3l1.3-.5 1.3-.5 1.2-.5 1.2-.6 1.2-.5 0 1.2-1.2 .7-1.2 .8-1.2 .7-1.3 .7-1.3 .7z"/><path class="j20" d="M509.9 946.1l0-2.5-1.3-3.1-.4 0-1.3 1.8 0 2.5"/><path class="j20" d="M322 945.8l0-2.4 0 2.4"/><path class="j23" d="M653.2 957.4l0-2.5-1.7-3.1-1.3-4.7-2.3-17.7-1.9 9.9-.9 2.3-3.2 2.3-4.6-.6-4.7-3.4-3.2-4.9-1-3.7-1.7-11.2-.7 2.1-1.9 13.8-1.3 3.4-1.7 1.5 0 2.4"/><path class="ww" d="M306.8 926.3l1.2 .8 1.2 .8 1.2 .8 1.3 .9 1.3 .8 1.4 .7 0 17.3-1.4-.7-1.3-.7-1.3-.7-1.2-.8-1.2-.7-1.2-.7z"/><path class="j20" d="M367.3 946.3l0-2.7-.5-.7-.4 .6 0 2.5"/><path class="ww" d="M355.2 935.9l1.2 .5 1.2 .4 1.3 .5 1.2 .5 1.3 .4 1.4 .5 0 9-1.4-.5-1.3-.4-1.2-.4-1.3-.4-1.2-.5-1.2-.4z"/><path class="j20" d="M320.3 946.6l0-2.7-.9-1.8-1 1.3 0 2.4"/><path class="j20" d="M506.8 946.3l-.2-2.5 0 2.4"/><path class="j23" d="M650.9 958l0-2.5-1.7-3-1.3-4.6-2.3-17.2-1.9 9.6-.9 2.3-3.2 2.1-4.6-.6-4.7-3.4-3.2-4.8-1.1-3.6-1.7-10.9-.6 2-1.9 13.4-1.3 3.3-1.7 1.5 0 2.3"/><path class="j20" d="M354 946.9l0-2.7-.8-3-1.5 2.3 0 2.4"/><path class="ww" d="M501.3 945.1l1.3-.3 1.4-.3 1.3-.3 1.2-.3 1.3-.4 1.2-.3 0 2.2-1.2 .5-1.3 .4-1.2 .4-1.3 .4-1.4 .5-1.3 .4z"/><path class="j20" d="M504.9 947.1l-.2-2.7-.5-.1 0 2.5"/><path class="j23" d="M648.6 958.6l0-2.4-1.7-2.9-1.3-4.6-2.3-16.7-1.9 9.3-.9 2.2-3.2 2-4.6-.6-4.7-3.4-3.2-4.7-1.1-3.5-1.7-10.6-.6 1.9-1.9 13-1.1 2.9-1.7 1.6 0 2.5"/><path class="j20" d="M351.1 947.3l-.3-2.6 0 2.5"/><path class="j20" d="M554.6 948l0-2.6-1.5-2.5-1 1.2 0 2.8"/><path class="j20" d="M504.3 948.4l0-2.4-1.9-5-2 3.2 0 2.6"/><path class="j20" d="M374 947.7l0-2.4 0 2.4"/><path class="j23" d="M646 959.1l0-2.5-1.6-3.2-1.1-3.8-2.3-16.4-2 9.1-.8 2.1-3.2 2-4.7-.8-4.6-3.2-3.2-4.7-1.1-3.4-1.7-10.3-.6 1.8-1.9 12.7-1.1 2.7-1.7 1.6 0 2.4"/><path class="j20" d="M551.7 948.3l0-2.5-.7-.8-.8 .1 0 2.5"/><path class="j23" d="M643.7 959.7l0-2.4-1.7-3.1-1-3.8-2.4-15.9-1.9 8.8-.8 2-3.2 1.9-4.7-.8-4.6-3.2-3.2-4.5-1.1-3.4-1.7-10.1-.6 1.8-1.7 11.4-1.1 3.2-1.7 1.8 0 2.5"/><path class="j20" d="M500.9 948.6l0-2.5-.6-.7-.7 .1 0 2.5"/><path class="ww" d="M362.8 938.7l1.3 .4 1.4 .4 1.4 .5 1.4 .4 1.4 .4 1.4 .4 0 8.8-1.4-.4-1.4-.4-1.4-.3-1.4-.4-1.4-.4-1.3-.4z"/><path class="j22" d="M641.2 960.2l0-2.5-1.7-3.3-1-4.2-2.2-14.4-1.9 8.5-.8 1.9-3.2 1.8-4.7-.8-4.6-3.2-3.2-4.4-1.1-3.3-1.7-9.8-.6 1.8-1.7 11-1.1 3-1.7 1.8 0 2.4"/><path class="j20" d="M308.5 949.5l0-2.4-1.2-2.9-1.3 1.6 0 2.6"/><path class="j20" d="M498.8 949.3l0-2.4-.8-1.1-.7 .3 0 2.5"/><path class="ww" d="M492.8 946.8l1.5-.3 1.4-.2 1.4-.3 1.4-.3 1.4-.3 1.4-.3 0 2.9-1.4 .4-1.4 .4-1.4 .3-1.4 .4-1.4 .4-1.5 .3z"/><path class="j20" d="M359.5 949.4l0-2.5-.6-1.5-.7 .7 0 2.7"/><path class="j20" d="M550 949.2l0-2.4-.4-.4-.4-.1 0 2.5"/><path class="j22" d="M380 953.5l0-2.4-2.1-2.5-.6-1.7-1.1-9.7-.2-.4-.2 .9-.9 5.4-3.2-1.9-1.2-10.1-1.5 11.5-2.8 .7-1.2-5-1.3 4.8-2.6-.4-.6-.6-1.1-3.3-.8 2.7 0 2.6"/><path class="ww" d="M566.6 953.1l6.9-3.8 6.9-3.8 6.9-3.8 7-3.8 0 16.2-7 1.8-6.9 1.8-6.9 1.8-6.9 1.7z"/><path class="j20" d="M327.3 949.7l0-2.6-.7-1.3-.8 .8 0 2.5"/><path class="ww" d="M543.8 948.3l1.5-.5 1.5-.4 1.4-.5 1.4-.5 1.4-.5 1.4-.6 0 2.2-1.4 .7-1.4 .7-1.4 .7-1.4 .6-1.5 .7-1.5 .7z"/><path class="j20" d="M304.9 949.6l-.2-2.7-.2 2.5"/><path class="j22" d="M638.9 960.8l0-2.5-1.7-3.2-1-4.1-2.2-13.9-1.9 8.2-.8 1.8-3.2 1.7-4.7-.8-4.7-3.2-3.1-4.3-1.1-3.3-1.7-9.4-.6 1.7-1.7 10.6-1.1 3-1.7 1.6 0 2.4"/><path class="j21" d="M498 950.5l0-2.5-2.4-6.6-2.1 4.6 0 2.6"/><path class="j20" d="M548.3 950.1l0-2.6-.6-.6-.4 .1 0 2.6"/><path class="j22" d="M636.6 961.4l0-2.4-1.7-3.1-1.1-4-2.1-13.6-1.9 7.9-.8 1.9-3.2 1.6-4.7-.9-4.7-3.2-3.1-4.2-1.1-3.2-1.7-9.2-.6 1.7-1.7 10.3-1.1 2.8-1.5 1.5 0 2.5"/><path class="j20" d="M494.2 950.5l0-2.7-.9-1.1-.8 .5 0 2.5"/><path class="ww" d="M314.4 931.1l1.4 .8 1.4 .8 1.4 .8 1.5 .7 1.5 .8 1.6 .7 0 16.7-1.6-.7-1.5-.6-1.5-.7-1.4-.7-1.4-.6-1.4-.7z"/><path class="j22" d="M634.1 961.9l0-2.5-1.5-2.8-1.1-3.8-2.1-13.2-1.9 7.6-.8 1.8-3.2 1.5-4.7-.9-4.7-3.1-3.2-4.2-1-3.1-1.7-8.9-.6 1.6-1.7 9.9-1.1 2.8-1.5 1.4 0 2.4"/><path class="j20" d="M491.9 951.1l0-2.7-.9-1.3-1 .7 0 2.4"/><path class="ww" d="M371.1 941.2l1.5 .3 1.5 .4 1.5 .4 1.5 .4 1.5 .3 1.6 .3 0 8.7-1.6-.3-1.5-.4-1.5-.3-1.5-.3-1.5-.4-1.5-.3z"/><path class="j20" d="M548.2 951.6l0-2.6-2-4.2-1.7 2.8 0 2.4"/><path class="j20" d="M367.6 951.3l0-2.4-.9-2.7-1.3 1.8 0 2.3"/><path class="j22" d="M385.9 954.5l0-2.5-1-2-1.1-7.6-.2-.4-.2 .5-.9 3.6-1.9-2.5-1.4-.6-1.3-8.6-1.3 10.5-.8 .8-2.2 .5-1.5-3.4-.8 2.8 0 2.5"/><path class="ww" d="M483.7 948.1l1.5-.2 1.6-.2 1.5-.2 1.5-.2 1.5-.2 1.5-.3 0 3.4-1.5 .4-1.5 .3-1.5 .4-1.5 .3-1.6 .3-1.5 .3z"/><path class="j25" d="M344.3 962l0-2.5-1.4-4.6-2 2.2-4.2-4.5-1.9-12.7-1.7 8.1-3.8-4.9-.9-5.2-1.2-17.6-1.7 18.2-.7 0-3.2-2.4-.6-3.5-1.3-21.1-1.9 22.4-.4 .3-3-.7-.6-.9-1.7-20.5-1.3 18-.6 3.6-3.4 1.9-.7-.2-1.7-10.4-1.9 12.2-1.9 .7-2.3 .1-1.9-4.3-1.3 3.5-.6 .6 0 2.4"/><path class="j21" d="M490.8 952.2l0-2.5-2.3-7.5-2.3 5.3 0 2.7"/><path class="j22" d="M631.8 962.5l0-2.4-1.5-2.7-1.1-3.8-2.1-12.7-.4 .4-1.5 6.9-.9 1.7-3.1 1.4-4.7-1-4.7-3-3.2-4.1-1-3-1.7-8.6-.7 1.5-1.9 10.3-.8 1.9-1.3 1.3 0 2.5"/><path class="j20" d="M545.2 951.9l0-2.6-1.3-2.5-1.7 1.3 0 2.5"/><path class="ww" d="M615.5 947.2l6.9-3.8 6.9-3.9 7-3.8 6.9-3.8 0 24.3-6.9 1.8-7 1.8-6.9 1.8-6.9 1.8z"/><path class="j20" d="M487.3 952.2l0-2.4-1.3-2.1-1.1 1 0 2.5"/><path class="j21" d="M334.6 959.4l0-2.4-1.7-4.7-1.3 2.1-.6 .3-4.2-3.1-1.7-7.6-1.7 5.3-4.1-2.2-.6-1.5-1.3-7.6-1.9 7.3-3.6-1-.6-.6-1.7-6.9-1.7 6.4-4.3-.7-1.9-4.4-1.3 3.1-.6 .5 0 2.4"/><path class="j22" d="M629.3 963l0-2.5-2.2-5.1-2.3-13.3-.4 .5-1.5 6.6-.9 1.6-3.1 1.3-4.7-1-4.7-3-3.2-4-1-2.9-1.7-8.4-.7 1.5-1.9 9.9-.8 1.9-1.3 1.1 0 2.5"/><path class="j20" d="M484.7 952.7l0-2.5-1.2-2.1-1.1 1 0 2.6"/><path class="j20" d="M543.1 952.6l0-2.7-.8-1.2-1.1 .7 0 2.3"/><path class="j20" d="M396 952.5l0-2.5-.4-.7-.4 .2 0 2.6"/><path class="j20" d="M316.6 953.1l0-2.4-1.5-3.7-1.7 2.3 0 2.4"/><path class="j22" d="M626.9 963.6l0-2.4-2.1-5-2.3-12.8-.4 .4-1.5 6.4-.9 1.5-3.2 1.2-4.6-1-4.7-3-3.2-3.9-1-2.8-1.7-8.1-.7 1.4-1.9 9.5-.8 1.8-1.1 1 0 2.6"/><path class="j20" d="M334.5 952.9l0-2.8-.8-1.6-.9 1.2 0 2.4"/><path class="j22" d="M392.5 955.8l0-2.7-.9-3.6-.4-.4-.8 1.6-.5-.1-3.1-6.1-1.5-11.1-1.5 12.9-1.5 1.3-1.5 .3-1.3-2.9-.8 2.2 0 2.5"/><path class="ww" d="M380.2 943.3l1.5 .4 1.6 .3 1.6 .3 1.6 .3 1.6 .3 1.7 .3 0 8.5-1.7-.3-1.6-.3-1.6-.2-1.6-.3-1.6-.3-1.5-.3z"/><path class="j21" d="M483.1 953.6l0-2.4-2.4-8.2-2.5 6 0 2.5"/><path class="ww" d="M474 949l1.6-.1 1.7-.2 1.6-.1 1.6-.2 1.6-.1 1.6-.2 0 4.1-1.6 .3-1.6 .3-1.6 .3-1.6 .2-1.7 .3-1.6 .2z"/><path class="j20" d="M313.2 953.2l0-2.4-.4-.5-.4-.1 0 2.6"/><path class="j22" d="M624.4 964.1l0-2.6-1.9-4.4-2.3-12.4-.4 .4-1.5 6.1-.9 1.4-3.2 1.2-4.6-1.1-4.7-3-3.2-3.8-1-2.7-1.7-7.8-.7 1.3-1.9 9.2-.8 1.7-1.1 .9 0 2.5"/><path class="j20" d="M541.4 953.5l0-2.5-1-1.7-1.1 .6 0 2.6"/><path class="j20" d="M479.7 953.8l0-2.7-1.3-2.5-1.5 1.5 0 2.4"/><path class="ww" d="M533.9 950.9l1.7-.4 1.7-.4 1.7-.4 1.6-.5 1.6-.4 1.6-.5 0 3.3-1.6 .6-1.6 .7-1.6 .6-1.7 .6-1.7 .6-1.7 .6z"/><path class="j21" d="M402 956.7l0-2.4-1.5-7-1.3 1.9-1.9-2.9-1.9 1.3-1-3.7-1.7 6.3 0 2.4"/><path class="j22" d="M622.1 964.7l0-2.5-1.9-4.3-2.3-11.9-.5 .3-1.4 5.9-.9 1.4-3.2 1-4.6-1.1-4.7-2.9-3.2-3.7-1.1-2.7-1.7-7.5-.6 1.2-1.9 8.8-1.9 2.5 0 2.4"/><path class="j20" d="M477 954.2l0-2.7-1.3-2.6-1.5 1.5 0 2.6"/><path class="j20" d="M540.8 954.8l0-2.4-2.3-4.9-1.7 3.1 0 2.4"/><path class="j21" d="M474.9 954.9l0-2.5-2.1-9.1-2.8 7 0 2.4"/><path class="ww" d="M323.2 935.7l1.6 .6 1.6 .7 1.7 .7 1.7 .7 1.7 .6 1.7 .7 0 16.4-1.7-.6-1.7-.6-1.7-.6-1.7-.7-1.6-.6-1.6-.6z"/><path class="ww" d="M389.8 945.2l1.6 .3 1.7 .2 1.6 .3 1.7 .3 1.7 .2 1.7 .2 0 8.3-1.7-.2-1.7-.2-1.7-.2-1.6-.3-1.7-.2-1.6-.2z"/><path class="j22" d="M619.6 965.2l0-2.6-1.9-4.6-2.1-10.8-.5 .4-1.4 5.6-.9 1.3-3.2 .9-4.6-1.1-4.7-2.9-3.2-3.6-1.1-2.6-1.7-7.3-.6 1.2-1.7 7.8-.8 1.9-1.1 1 0 2.5"/><path class="j22" d="M396.7 956l0-2.4-1.7-2.7-.8-2.4-1.5-14.2-1.3 11-1.7 2.4-1.5 1.1-1.5-2.9-.8 2.8 0 2.6"/><path class="ww" d="M463.8 949.6l1.7-.1 1.7-.1 1.7-.1 1.7-.1 1.7-.1 1.7-.1 0 4.8-1.7 .3-1.7 .2-1.7 .2-1.7 .2-1.7 .2-1.7 .2z"/><path class="j20" d="M382.8 954.7l0-2.8-.7-1.1-.6 .7 0 2.7"/><path class="j20" d="M538.1 955.2l0-2.5-1.9-5.4-2.3 3.6 0 2.5"/><path class="j20" d="M472.1 955.3l0-2.5-1.9-3.6-.6 .3-1.1 1.6 0 2.6"/><path class="j20" d="M469 955.5l0-2.4-1.7-3.7-1.7 2.1 0 2.5"/><path class="j22" d="M617.3 965.8l0-2.5-1.9-4.5-2.1-10.3-.5 .3-1.5 5.4-.8 1.2-3.2 .8-4.7-1.2-4.6-2.8-3.2-3.5-1.1-2.5-1.7-7-.6 1.1-1.7 7.5-.9 1.7-1 1 0 2.4"/><path class="j20" d="M343.4 955.2l0-2.6-.4-.5-.5 .1 0 2.6"/><path class="j22" d="M406.2 956.9l0-2.4-1.5-2.5-1.5-4.1-1.4-12.6-1.3 12.7-.7 1.7-1.7 1.3 0 2.4"/><path class="j21" d="M466.3 955.9l0-2.7-2.2-10.8-2.5 9.1 0 2.4"/><path class="j20" d="M535.6 955.7l0-2.6-1.3-2.3-1.3 1.3 0 2.5"/><path class="ww" d="M399.8 946.7l1.8 .2 1.7 .2 1.7 .2 1.8 .2 1.7 .2 1.8 .2 0 8-1.8-.1-1.7-.1-1.8-.2-1.7-.2-1.7-.1-1.8-.2z"/><path class="j21" d="M614.8 966.3l0-2.6-1.7-4-2.2-9.9-.4 .3-1.5 5-.8 1.2-3.2 .7-4.7-1.2-4.6-2.8-3.2-3.4-1.1-2.4-1.7-6.7-.6 1-1.7 7.1-1.7 2.5 0 2.4"/><path class="j20" d="M464.4 956.7l0-2.4-1.3-1.4-1.7-3.3-1.9 2.5 0 2.5"/><path class="ww" d="M453.3 949.8l1.8 0 1.8-.1 1.7 0 1.8 0 1.7-.1 1.7 0 0 5.5-1.7 .2-1.7 .2-1.8 .1-1.7 .2-1.8 .1-1.8 .1z"/><path class="j20" d="M460.1 956.4l0-2.6-1.9-4.1-1.9 2.5 0 2.6"/><path class="j22" d="M414.9 957.5l0-2.4-2.8-6.8-1.5-10.3-1.3 11.4-.4 1.6-1 1 0 2.5"/><path class="j20" d="M324 956.3l0-2.6-1-2.4-1.3 1.5 0 2.5"/><path class="j22" d="M457.4 956.9l0-2.7-2.3-13.7-2.1 11.6 0 2.8"/><path class="j20" d="M533.7 956.5l0-2.4-1.5-2.8-1.3 1.4 0 2.6"/><path class="j21" d="M612.5 966.9l0-2.5-1.7-3.9-2.2-9.5-.4 .3-1.5 4.8-.8 1.1-3.2 .7-4.7-1.3-4.6-2.8-3.2-3.3-1.1-2.3-1.7-6.5-.6 1.1-1.7 6.7-1.7 2.3 0 2.3"/><path class="ww" d="M410.3 947.9l1.7 .1 1.8 .2 1.8 .1 1.8 .1 1.8 .1 1.8 .1 0 7.9-1.8 0-1.8-.1-1.8-.1-1.8-.1-1.8-.1-1.7-.2z"/><path class="ww" d="M442.6 949.6l1.8 .1 1.8 0 1.8 0 1.8 .1 1.8 0 1.7 0 0 6.2-1.7 .2-1.8 .1-1.8 .1-1.8 0-1.8 .1-1.8 .1z"/><path class="j20" d="M455.7 957.7l0-2.4-1.7-1.4-1.9-4.1-.6 .3-1.5 2.5 0 2.6"/><path class="j21" d="M419.7 958l0-2.9-1-4.6-.5-.7-1 .8-1.5-2.4-2.8 3.6-1.2-1.7-.5 .2-.4 .9 0 2.9"/><path class="j20" d="M450.9 957.2l0-2.6-2.1-4.9-1.3 1-1.3 0-.6 .5-.7 .9 0 2.5"/><path class="j21" d="M441.2 957.8l0-2.4-1.5-3.7-1.9-7.8-.6 1.2-1.5 7.5 0 2.8"/><path class="j22" d="M422.9 957.8l0-2.6-1.3-2.7-.8-3.4-1.3-11.5-1.5 12.4-.4 1.6-.9 1 0 2.5"/><path class="j20" d="M320.9 956.5l-.2-2.5 0 2.5"/><path class="ww" d="M421 948.6l1.8 .1 1.8 .1 1.8 .1 1.8 .1 1.8 0 1.8 0 0 7.8-1.8-.1-1.8 0-1.8 0-1.8 0-1.8-.1-1.8-.1z"/><path class="ww" d="M538.9 968.4l6.9-3.8 6.9-3.8 6.9-3.8 7-3.9 0 8.1-7 1.8-6.9 1.8-6.9 1.8-6.9 1.8z"/><path class="ww" d="M431.8 949l1.8 .2 1.8 .1 1.8 .1 1.8 .1 1.8 0 1.8 .1 0 7-1.8 0-1.8 .1-1.8 0-1.8 0-1.8 .1-1.8 0z"/><path class="j20" d="M444.6 957.7l0-2.6-2.6-5.6-2.3 3.5 0 2.5"/><path class="j21" d="M609.9 967.4l0-2.6-1.4-3.4-2.2-9.1-.4 .3-1.5 4.5-.8 1.1-3.2 .5-4.7-1.3-4.6-2.8-3.2-3.2-1.1-2.2-1.7-6.2-.6 1-1.7 6.4-1.5 2 0 2.4"/><path class="j22" d="M448.2 957.6l0-2.6-2.4-13.7-1.5 9.2-1 2.4 0 2.6"/><path class="j21" d="M428.6 958.7l0-2.6-.7-1.5-.4-.6-1.5-.3-2.1-4.9-.6 .3-1.7 2.9-1.7-1.4-.7 1.2 0 2.8"/><path class="j20" d="M532 957.4l0-2.6-1.7-4-.4 .1-1.3 2.3 0 2.7"/><path class="j21" d="M411.1 957.5l0-2.4-1.7-8-1.1 1.9-1.7-1.5-2.3 3.1-1.5-2.2-.9 2.6 0 2.5"/><path class="j21" d="M434.3 958l0-2.4-2.8-6.6-1.5 1.6-1.5-.9-1 2.7 0 2.6"/><path class="j22" d="M430.7 958l0-2.4-1.1-3.1-1.7-14.6-1.3 11.1-.6 2.4-1.3 1.6 0 2.4"/><path class="ww" d="M522.9 953.2l1.9-.3 1.9-.4 1.9-.4 1.8-.4 1.7-.3 1.8-.5 0 4.4-1.8 .6-1.7 .6-1.8 .6-1.9 .5-1.9 .6-1.9 .5z"/><path class="j21" d="M607.6 968l0-2.4-1.5-3.3-2.1-8.7-.4 .2-1.5 4.3-.8 1-3.2 .4-4.7-1.3-4.7-2.7-3.1-3.2-1.1-2.1-1.7-5.9-.6 .9-1.7 6-1.3 1.7 0 2.6"/><path class="j20" d="M399.9 957.4l0-2.4-.4-.6-.5 .1 0 2.5"/><path class="j21" d="M530.6 958.3l0-2.5-2.6-9.6-1.9 5.7-1.1 1.5 0 2.5"/><path class="j20" d="M352.5 957.5l0-2.4-.4-.4-.2 2.6"/><path class="j21" d="M438.5 958.2l0-2.9-1.9-7.4-1.7 1.2-2.6 4 0 2.4"/><path class="ww" d="M333.2 939.7l1.8 .6 1.8 .6 1.9 .6 1.8 .6 1.9 .6 1.9 .6 0 16.1-1.9-.6-1.9-.5-1.8-.5-1.9-.6-1.8-.6-1.8-.5z"/><path class="j21" d="M605.1 968.5l0-2.5-1.3-2.9-2.1-8.2-.4 .2-1.5 4-.8 .9-3.2 .3-4.7-1.3-4.7-2.7-3.1-3.1-1.1-2-1.7-5.6-.6 .8-1.7 5.7-1.3 1.6 0 2.4"/><path class="j20" d="M409 958.2l0-2.6-.5-.4-.4 .2 0 2.4"/><path class="j20" d="M527.4 958.6l0-2.5-1.5-3.4-1.7 2 0 2.5"/><path class="j21" d="M602.8 969.1l0-2.4-1.3-2.7-2.1-7.9-.4 .2-1.5 3.8-.9 .8-3.1 .3-4.7-1.5-4.7-2.6-3.2-3-1-1.9-1.7-5.4-.7 .8-1.4 4.9-1.3 1.8 0 2.5"/><path class="j20" d="M525.3 959.3l0-2.4-1.7-3.8-1.7 2.3 0 2.4"/><path class="ww" d="M587.8 962.4l6.9-3.8 6.9-3.8 7-3.8 6.9-3.8 0 16.2-6.9 1.8-7 1.8-6.9 1.8-6.9 1.7z"/><path class="j21" d="M600.3 969.6l0-2.5-1.3-2.9-1.9-6.8-.4 .2-1.5 3.5-.9 .7-3.1 .2-4.7-1.5-4.7-2.6-3.2-2.9-1-1.8-1.7-5.1-.7 .7-1.4 4.5-1.3 1.7 0 2.4"/><path class="j20" d="M523 959.9l0-2.7-1.7-4-1.7 2.7 0 2.5"/><path class="j20" d="M331.4 959.6l0-2.6-.6-.7-.6 .3 0 2.4"/><path class="j21" d="M597.8 970.1l0-2.6-3-8.8-.4 .1-1.5 3.3-.9 .6-3.2 .1-4.6-1.5-4.7-2.6-3.2-2.7-1-1.8-1.7-4.8-.7 .6-1.5 4.2-1 1.4 0 2.5"/><path class="j21" d="M522.4 961.2l0-2.5-1.5-4-1.9-9.6-1.7 7.8-1.5 2.8 0 2.6"/><path class="j20" d="M361.8 960l0-2.5-.4-.6-.7 .2 0 2.4"/><path class="ww" d="M511 955.1l2.1-.3 2-.3 2-.3 2-.3 1.9-.3 1.9-.4 0 5.5-1.9 .5-1.9 .5-2 .5-2 .5-2 .5-2.1 .5z"/><path class="j21" d="M595.5 970.7l0-2.4-3-8.4-.4 .2-1.5 2.9-.9 .7-3.2-.1-4.6-1.5-4.7-2.5-3.2-2.7-2.7-6.3-3 5.6 0 2.6"/><path class="j20" d="M518.6 961.1l0-2.4-1.9-4.7-1.7 2.9 0 2.7"/><path class="ww" d="M344.3 943.3l2 .6 2 .5 2 .6 2 .5 2.1 .5 2 .5 0 15.7-2-.4-2.1-.5-2-.4-2-.5-2-.5-2-.5z"/><path class="j21" d="M592.9 971.2l0-2.5-2.7-7.5-1.9 2.8-.9 .6-3.2-.2-4.6-1.5-4.7-2.5-3.2-2.6-2.7-5.9-3 5.1 0 2.4"/><path class="j20" d="M516.3 961.7l0-2.3-1.9-4.8-1.9 3.1 0 2.4"/><path class="j21" d="M575.1 965l0-2.4-3.2-1.8-2.7-2.3-2.6-5.3-.4 .1-2.3 4.3 0 2.5"/><path class="j20" d="M513.8 962.2l0-2.6-1.7-4.6-.5 .1-1.4 2.9 0 2.7"/><path class="j21" d="M570.9 964.8l0-2.4-4.2-3.3-2.4-4.7-.6 .4-1.9 3.4 0 2.6"/><path class="j22" d="M512.5 963.3l0-2.6-1.3-3.9-1.7-9.7-2.1 8.6-1.5 2.2 0 2.5"/><path class="j20" d="M341.6 962.4l0-2.4-.6-.9-.7 .2 0 2.6"/><path class="j25" d="M365.9 966.6l0-2.4-1.3-4-.6-.4-1.1 1.5-.8-.5-2.1-3.8-1.7-4.7-.9-6.8-1.3-21.4-1.2 17.7-.9 5-2.5 4-1.3 1.2-1.7-6.7-1.9 8.5-1.7 .3-2.3-.5-1.7-3.7-1.3 2.7 0 2.5"/><path class="j20" d="M567.3 964.8l0-2.4-3.2-2.6-2.1-4.1-.6 .3-1.7 2.8 0 2.7"/><path class="j21" d="M509.6 963.6l0-2.6-2.6-6.9-2.1 5 0 2.5"/><path class="ww" d="M498.2 956.4l2.2-.2 2.1-.2 2.2-.2 2.1-.2 2.1-.2 2.1-.3 0 6.6-2.1 .4-2.1 .5-2.1 .4-2.2 .4-2.1 .4-2.2 .4z"/><path class="j20" d="M506.6 963.9l0-2.4-2.1-5.7-1.9 3.7 0 2.7"/><path class="j20" d="M564 964.9l0-2.4-2.2-1.7-2.1-3.8-.6 .3-1.5 2.2 0 2.6"/><path class="ww" d="M356.4 946.5l2.1 .5 2.1 .5 2.2 .5 2.2 .4 2.1 .5 2.3 .4 0 15.4-2.3-.4-2.1-.4-2.2-.4-2.2-.4-2.1-.4-2.1-.5z"/><path class="j21" d="M504.1 964.4l0-2.4-2.1-5.9-2.1 4 0 2.5"/><path class="j20" d="M560.8 965.2l0-2.4-1.5-1.3-1.9-3.3-.6 .3-1.3 1.7 0 2.6"/><path class="j20" d="M382.7 964.3l0-2.3-1.2-1.9-.9 .7 0 2.6"/><path class="j21" d="M502 965.1l0-2.4-2.7-12-2.2 7.1-1.7 2 0 2.5"/><path class="j24" d="M377.3 968.4l0-2.6-1-3.3-.7-.6-1.3 1.2-.8-1-1.7-3.9-2.1-7.1-2.1-22.8-1.3 19.7-.9 6.1-1.7 2.6-2.1 1.2-.6-.3-1.5-3.1-1.3 3 0 2.5"/><path class="j20" d="M557.4 965.3l0-2.4-2.3-3.4-1.7 1.4 0 2.6"/><path class="j21" d="M500.8 966.2l0-2.4-1.7-3.5-2.2-8.5-2.5 9 0 2.6"/><path class="j22" d="M370.3 967l0-2.5-1.9-2.3-.8-2.1-1.9-15.1-1.3 5.8-.4 .1-1.1-2.3-.8-.8-2.4 3-1.7-7.8-1.9 12.4-1.5 .9-2.5 0-1.9-3.3-1.1 2.1 0 2.6"/><path class="j20" d="M554.5 965.6l0-2.4-1.7-2.4-1.5 .9 0 2.5"/><path class="j20" d="M351.1 965l0-2.4 0 2.4"/><path class="j21" d="M496.3 965.9l0-2.7-2.1-6.5-2.3 4.7 0 2.5"/><path class="ww" d="M484.7 957.1l2.3-.1 2.3-.1 2.2-.1 2.3-.1 2.2-.2 2.2-.1 0 7.8-2.2 .4-2.2 .4-2.3 .3-2.2 .4-2.3 .3-2.3 .3z"/><path class="j21" d="M493.8 966.4l0-2.5-2.3-7-2.4 4.8 0 2.6"/><path class="ww" d="M369.4 949.3l2.2 .4 2.2 .4 2.3 .4 2.3 .4 2.3 .4 2.3 .3 0 15.1-2.3-.3-2.3-.3-2.3-.4-2.3-.3-2.2-.3-2.2-.4z"/><path class="j20" d="M551.8 966l0-2.4-1.3-1.6-1.3 .5 0 2.4"/><path class="j21" d="M491.1 966.8l0-2.7-2.6-10.5-2.3 5.9-1.9 1.9 0 2.4"/><path class="j20" d="M404.7 965.9l0-2.4-.5-.4-.4-.1 0 2.5"/><path class="ww" d="M560.1 977.7l6.9-3.8 6.9-3.8 7-3.8 6.9-3.9 0 8.1-6.9 1.8-7 1.8-6.9 1.8-6.9 1.8z"/><path class="j24" d="M388.7 970.2l0-2.4-.8-1.8-.7-.4-1.4 .4-1.7-2.4-2.6-7.6-1.3-7.4-1.2-16.9-1.7 22.1-.7 3.5-1.5 2.3-2.1 1-1-.3-1.1-1.9-.6-.2-.7 1 0 2.6"/><path class="j20" d="M548.8 966.3l0-2.4-.6-.6-.7 0 0 2.5"/><path class="j22" d="M490 967.9l0-2.4-1.6-4.8-2.2-12.1-.4 .6-1.5 10.2-1 2.9 0 2.7"/><path class="j21" d="M485.6 967.6l0-2.6-2.5-7.8-2.6 5.7 0 2.5"/><path class="j22" d="M381.1 968.5l0-2.4-1.5-2-.8-3.1-1.7-14.3-1.3 4.8-.4 .2-.9-1.3-.6-.1-3 6.1-.6-.6-.9-3.3-.4-.3-1.5 6.6-1.2 .8 0 2.4"/><path class="j22" d="M391 969.6l0-2.4-.8-2.4-1.5-8.5-.4-.5-.9 1.6-.4 0-2.1-5.5-.7 .5-2.3 5.8-.6-.6-.9-2.5-.4 .1-1.3 5.3-.6 1 0 2.4"/><path class="j20" d="M363.4 967.1l0-2.4-.4-.5-.7 0 0 2.5"/><path class="j21" d="M482.9 968l0-2.4-2.6-8.2-2.7 5.8 0 2.5"/><path class="ww" d="M470.6 957.4l2.4 0 2.3 0 2.4-.1 2.3 0 2.4-.1 2.3-.1 0 9.2-2.3 .3-2.4 .3-2.3 .3-2.4 .2-2.3 .3-2.4 .2z"/><path class="j21" d="M479.9 968.3l0-2.6-2.7-11-.4 .1-2.2 5.5-1.9 2.4 0 2.5"/><path class="ww" d="M383 951.6l2.3 .4 2.3 .3 2.4 .3 2.4 .3 2.3 .3 2.4 .2 0 14.8-2.4-.2-2.3-.3-2.4-.2-2.4-.3-2.3-.2-2.3-.3z"/><path class="j25" d="M395.5 969.9l0-2.4-2.4-4.2-1.2-5.2-2-27.9-1.9 25.5-1.7 4.8-1.2 1.3-1.5 .5 0 2.4"/><path class="j22" d="M478.3 969.2l0-2.7-1.5-5.4-2.1-14.8-1.9 14-1.3 3.5 0 2.4"/><path class="j21" d="M474.7 969.2l0-2.3-1.3-2.4-1.9-7-.4 .3-1.5 4.7-1.1 1.6 0 2.4"/><path class="j21" d="M401.8 971.1l0-2.4-1.3-3.3-.6-.5-1.3 .4-.8-1.5-3.2-10.7-1.7 3-1.3-2.9-.4 .2-1.5 8-1.1 1.5 0 2.4"/><path class="j21" d="M471.3 969.4l0-2.4-3-9.6-1.9 5.5-1 1.4 0 2.5"/><path class="j22" d="M468.2 969.6l0-2.6-1.3-3.7-1.5-8.8-.6-1.4-3.9 10.6 0 2.7"/><path class="j23" d="M408.5 970.8l0-2.4-1.9-3.6-1.7-6.6-2.3-19.2-1.9 21.1-.9 2.8-1.4 1 0 2.5"/><path class="ww" d="M456.1 957.2l2.4 .1 2.5 0 2.4 .1 2.4 0 2.4 0 2.4 0 0 10.5-2.4 .2-2.4 .2-2.4 .2-2.4 .2-2.5 .1-2.4 .2z"/><path class="ww" d="M397.1 953.4l2.4 .3 2.4 .2 2.5 .3 2.4 .2 2.4 .2 2.5 .2 0 14.4-2.5-.2-2.4-.1-2.4-.2-2.5-.1-2.4-.2-2.4-.2z"/><path class="j20" d="M375 969l0-2.4-.4-.4-.4 .1 0 2.3"/><path class="j22" d="M466.1 970.3l0-2.8-1.3-5.1-2.1-15.4-.7 2-1.2 11.3-.7 2.7-1 1.7 0 2.5"/><path class="j23" d="M420.6 971.3l0-2.5-1.5-2.9-1.3-4.7-2.8-16.7-1.9 16.1-.6 3-1.1 1.3 0 2.4"/><path class="j21" d="M463.3 970.7l0-2.4-1.2-1.2-.9-1.6-2.1-8.1-.6 .8-1.5 5.1-1.1 1.5 0 2.7"/><path class="j21" d="M414.5 971.8l0-2.5-1.3-3.2-.6-.6-1.3 0-.7-1.1-2.7-10-2.6 7-.6 .2-1.1-1.6-.6 .4-1.3 3.3 0 2.5"/><path class="j23" d="M455.7 970.6l0-2.5-1.7-5.5-2.1-16.7-2.1 14.7-1.3 4.3 0 2.5"/><path class="j21" d="M458.9 970.4l0-2.6-3.2-10.6-2.1 6.2-1.1 .9-2.5-.3 0 2.5"/><path class="j22" d="M404.3 970.6l0-2.5-1.5-4.3-1.9-16.3-4.6 13.6-1.1 1.5-1.1 .6-1.7-2.1-.4 .1-.6 .9 0 2.8"/><path class="ww" d="M441.3 956.5l2.5 .1 2.5 .2 2.4 .1 2.5 .1 2.4 .1 2.5 .1 0 11.8-2.5 .1-2.4 .1-2.5 .1-2.4 .1-2.5 .1-2.5 .1z"/><path class="ww" d="M411.7 954.8l2.4 .1 2.5 .2 2.5 .1 2.4 .1 2.5 .2 2.5 .1 0 14-2.5 0-2.5-.1-2.4 0-2.5-.1-2.5-.1-2.4-.1z"/><path class="j23" d="M431.9 971.4l0-2.4-1.6-3.8-1.1-5-1.9-19-.7 2.8-1.4 16.7-.7 3.2-.8 1.3 0 2.6"/><path class="ww" d="M426.5 955.6l2.4 0 2.5 .1 2.5 .2 2.5 .2 2.4 .2 2.5 .2 0 13.1-2.5 0-2.4 0-2.5 .1-2.5 0-2.5-.1-2.4 0z"/><path class="j21" d="M426.9 972.4l0-2.4-.6-1.2-.9-.9-1.5-.4-1-1.9-2.8-10.3-2.5 7.5-.9 .5-1-1.1-.7 0-1 1.9 0 2.7"/><path class="j21" d="M450.9 971.7l0-2.4-1.7-1.1-1-2.1-2.4-9.3-2.1 6.4-1.5 2.1 0 2.6"/><path class="j21" d="M445.9 971.1l0-2.5-1.3-3-2.4-9.2-1.4 3-1.3 .8-.9 1.3-1.5 3.4 0 2.4"/><path class="j22" d="M453.7 971.3l0-2.4-3.9-16.9-.6 1.3-1.7 8.8-.9 2.1-1 1.1 0 2.5"/><path class="j21" d="M435.5 971.4l0-2.5-1.7-3.9-2.3-9.3-2.3 7.1-.7 .3-1.5-.6-1.2 1.9 0 2.7"/><path class="j23" d="M416.8 971.2l0-2.4-1.5-5-2.1-19.1-2.6 14.1-1.5 4.1-1.9 1.7 0 2.4"/><path class="j24" d="M442.5 971.2l0-2.5-1.1-2.8-.6-3.9-1.9-25.6-1.9 23.1-.9 4.4-1.3 1.6 0 2.4"/><path class="j21" d="M440.4 971.9l0-2.7-5.1-13.2-.6 1-1.7 6.1-1.7 2.3 0 2.5"/><path class="j22" d="M428.6 971.6l0-2.6-1.1-4.1-1.7-12.7-.6-1.7-3.4 11.9-.9 1.7-1.2 1.1 0 2.5"/><path class="j21" d="M590.4 971.7l0-2.6-2.5-6.6-1.9 2.5-.9 .5-2.8-.2-3.1-.9 0 2.4"/><path class="j20" d="M587.9 972.2l0-2.6-2.3-5.9-2.6 2.7-4-.5 0 2.4"/><path class="j20" d="M585.6 972.8l0-2.4-2.3-5.4-2.4 2.3-3-.2 0 2.3"/><path class="j20" d="M583.1 973.3l0-2.4-2.2-4.6-2.1 1.8-2.3-.1 0 2.4"/><path class="j20" d="M580.5 973.8l0-2.4-1.9-3.8-2.1 1.5-1.3 0 0 2.4"/><path class="j20" d="M578 974.3l0-2.4-1.7-3.1-2.3 1.3 0 2.4"/><path class="j20" d="M575.3 974.7l0-2.6-1.3-2-1.9 .8 0 2.4"/><path class="j20" d="M572.8 975.2l0-2.4-1.1-1.4-1.3 .3 0 2.5"/><path class="j20" d="M569.8 975.5l0-2.5-.4-.4-.6 0 0 2.5"/>
</g>
<path d="M106.6 772.7L106.6 1042.8L389.6 1166.7L758.9 1071.2M106.6 1042.8l-8.7 -3.8M106.6 907.8l-8.7 -3.8M106.6 772.7l-8.7 -3.8M106.6 1042.8l-8.2 2.1M177.4 1073.8l-8.2 2.1M248.1 1104.8l-8.2 2.1M318.9 1135.7l-8.2 2.1M389.6 1166.7l-8.2 2.1M389.6 1166.7l8.7 3.8M481.9 1142.8l8.7 3.8M574.2 1119l8.7 3.8M666.6 1095.1l8.7 3.8M758.9 1071.2l8.7 3.8" stroke="#333" stroke-width="1.15" fill="none"/>
<text x="91.1" y="782.7" class="t3" text-anchor="end">2</text>
<text x="91.1" y="917.8" class="t3" text-anchor="end">0</text>
<text x="91.1" y="1052.8" class="t3" text-anchor="end">-2</text>
<text x="90.6" y="1085.3" class="t3" text-anchor="end">40</text>
<text x="161.4" y="1116.3" class="t3" text-anchor="end">20</text>
<text x="232.1" y="1147.2" class="t3" text-anchor="end">0</text>
<text x="302.9" y="1178.2" class="t3" text-anchor="end">-20</text>
<text x="373.6" y="1209.2" class="t3" text-anchor="end">-40</text>
<text x="402.6" y="1209.2" class="t3">-40</text>
<text x="494.9" y="1185.3" class="t3">-20</text>
<text x="587.2" y="1161.5" class="t3">0</text>
<text x="679.6" y="1137.6" class="t3">20</text>
<text x="771.9" y="1113.7" class="t3">40</text>
<text x="356.7" y="669.8" class="pl3" textLength="49.5" lengthAdjust="spacingAndGlyphs">(c)</text>
<text x="433.1" y="663.7" class="ti"><tspan font-style="italic">E</tspan></text>
<text x="448.4" y="668.2" class="tis" font-style="italic">f</text>
<text x="465.8" y="663.7" class="ti" textLength="93.1" lengthAdjust="spacingAndGlyphs">=0.0eV</text>
<text x="106" y="734.7" class="x10" textLength="73.6" lengthAdjust="spacingAndGlyphs">x 10</text>
<text x="181.7" y="696" class="m4" textLength="22.6" lengthAdjust="spacingAndGlyphs">-4</text>
<text x="192.5" y="730.6" class="cm" textLength="44.8" lengthAdjust="spacingAndGlyphs">C/m</text>
<text x="237.9" y="718.7" class="sq">2</text>
<path d="M981.4 1019.5L981.4 749.1M1079.8 995.6L1079.8 725.2M1178.3 971.7L1178.3 701.3M1276.7 947.8L1276.7 677.4M1352.5 978.6L1352.5 708.2M1428.3 1009.3L1428.3 738.9M1504.2 1040.1L1504.2 769.7M1580 1070.8L1580 800.4M883 773L1276.7 677.4L1580 800.4M883 1043.4L1276.7 947.8L1580 1070.8M1284.7 1142.5L981.4 1019.5M1110.5 1135.7L1504.2 1040.1M1383.2 1118.6L1079.8 995.6M1034.7 1104.9L1428.3 1009.3M1481.6 1094.7L1178.3 971.7M958.8 1074.2L1352.5 978.6" stroke="#333" stroke-width="1.5" stroke-dasharray="1.5 5.3" fill="none"/>
<polygon points="1186.9,1029.8 1575.6,935.4 1276.1,814 887.4,908.4" fill="#adf791"/>
<path stroke="#f4fff2" stroke-width="1.8" d="M1332.3 934.3l6.4 -1.6M1334.1 932.6l6.4 -1.6M1335.5 931.1l6.4 -1.6M1336.6 929.6l6.4 -1.6M1337.4 928.1l6.4 -1.6M1338.1 926.8l6.4 -1.6M1338.5 925.4l6.4 -1.6M1338.8 924.1l6.4 -1.6M1338.9 922.9l6.4 -1.6M1338.8 921.6l6.4 -1.6M1338.7 920.5l6.4 -1.6M1338.4 919.3l6.4 -1.6M1338 918.2l6.4 -1.6M1337.5 917.1l6.4 -1.6M1336.9 916l6.4 -1.6M1336.2 914.9l6.4 -1.6M1137.5 906.1l-4.9 -2M1335.4 913.9l6.4 -1.6M1139.2 905.2l-4.9 -2M1334.5 912.9l6.4 -1.6M1140.9 904.3l-4.9 -2M1333.5 911.9l6.4 -1.6M1142.7 903.4l-4.9 -2M1332.5 910.9l6.4 -1.6M1144.6 902.6l-4.9 -2M1331.3 909.9l6.4 -1.6M1146.5 901.8l-4.9 -2M1330.1 909l6.4 -1.6M1148.5 901l-4.9 -2M1328.8 908.1l6.4 -1.6M1150.6 900.2l-4.9 -2M1327.5 907.2l6.4 -1.6M1152.7 899.5l-4.9 -2M1326 906.3l6.4 -1.6M1154.8 898.8l-4.9 -2M1324.5 905.5l6.4 -1.6M1157.1 898.1l-4.9 -2M1322.9 904.6l6.4 -1.6M1159.3 897.4l-4.9 -2M1321.3 903.8l6.4 -1.6M1161.7 896.8l-4.9 -2M1319.6 903l6.4 -1.6M1164 896.1l-4.9 -2M1317.8 902.2l6.4 -1.6M1166.5 895.5l-4.9 -2M1315.9 901.4l6.4 -1.6M1169 894.9l-4.9 -2M1314 900.6l6.4 -1.6M1171.5 894.4l-4.9 -2M1312 899.9l6.4 -1.6M1174.1 893.8l-4.9 -2M1309.9 899.2l6.4 -1.6M1176.7 893.3l-4.9 -2M1307.8 898.5l6.4 -1.6M1179.5 892.8l-4.9 -2M1305.6 897.8l6.4 -1.6M1182.2 892.3l-4.9 -2M1303.3 897.1l6.4 -1.6M1185 891.9l-4.9 -2M1300.9 896.4l6.4 -1.6M1187.9 891.5l-4.9 -2M1298.5 895.8l6.4 -1.6M1190.8 891l-4.9 -2M1296 895.2l6.4 -1.6M1193.8 890.7l-4.9 -2M1293.4 894.6l6.4 -1.6M1196.8 890.3l-4.9 -2M1290.8 894l6.4 -1.6M1200 890l-4.9 -2M1288 893.4l6.4 -1.6M1203.1 889.7l-4.9 -2M1285.2 892.9l6.4 -1.6M1206.4 889.4l-4.9 -2M1282.3 892.4l6.4 -1.6M1209.7 889.1l-4.9 -2M1279.3 891.9l6.4 -1.6M1213 888.9l-4.9 -2M1276.2 891.4l6.4 -1.6M1216.5 888.7l-4.9 -2M1273 890.9l6.4 -1.6M1220 888.5l-4.9 -2M1269.8 890.5l6.4 -1.6M1336.5 935.8l-4.9 -2M1223.6 888.4l-4.9 -2M1266.4 890.1l6.4 -1.6M1337.8 934.7l-4.9 -2M1227.3 888.3l-4.9 -2M1262.9 889.7l6.4 -1.6M1339 933.6l-4.9 -2M1231.1 888.3l-4.9 -2M1259.2 889.4l6.4 -1.6M1340.1 932.5l-4.9 -2M1235 888.2l-4.9 -2M1255.5 889l6.4 -1.6M1341.2 931.3l-4.9 -2M1239 888.3l-4.9 -2M1251.6 888.8l6.4 -1.6M1342.1 930l-4.9 -2M1243.2 888.3l-4.9 -2M1247.5 888.5l6.4 -1.6M1342.9 928.8l-4.9 -2M1247.4 888.5l-4.9 -2M1243.3 888.3l6.4 -1.6M1343.5 927.4l-4.9 -2M1251.8 888.7l-4.9 -2M1238.9 888.2l6.4 -1.6M1344 926.1l-4.9 -2M1256.4 888.9l-4.9 -2M1234.2 888.1l6.4 -1.6M1344.4 924.6l-4.9 -2M1261.2 889.3l-4.9 -2M1229.3 888l6.4 -1.6M1344.5 923.1l-4.9 -2M1266.2 889.7l-4.9 -2M1224.1 888l6.4 -1.6M1344.5 921.4l-4.9 -2M1271.5 890.2l-4.9 -2M1218.6 888.2l6.4 -1.6M1344.1 919.7l-4.9 -2M1277.1 890.9l-4.9 -2M1212.6 888.4l6.4 -1.6M1343.4 917.8l-4.9 -2M1283.1 891.8l-4.9 -2M1206 888.8l6.4 -1.6M1342.3 915.8l-4.9 -2M1289.8 892.9l-4.9 -2M1198.6 889.3l6.4 -1.6M1340.5 913.4l-4.9 -2M1132.9 905.3l6.4 -1.6M1297.6 894.5l-4.9 -2M1189.8 890.2l6.4 -1.6M1337.6 910.7l-4.9 -2M1137.9 902.8l6.4 -1.6M1307.7 897l-4.9 -2M1178 891.9l6.4 -1.6M1332.4 907l-4.9 -2M1145.9 899.7l6.4 -1.6M1369.1 940.1l6.4 -1.6M1371.1 938.4l6.4 -1.6M1372.9 936.7l6.4 -1.6M1374.4 935.1l6.4 -1.6M1375.7 933.6l6.4 -1.6M1376.7 932.1l6.4 -1.6M1377.6 930.7l6.4 -1.6M1378.3 929.3l6.4 -1.6M1378.9 927.9l6.4 -1.6M1379.3 926.6l6.4 -1.6M1379.6 925.3l6.4 -1.6M1379.8 924l6.4 -1.6M1379.9 922.7l6.4 -1.6M1379.9 921.5l6.4 -1.6M1379.7 920.3l6.4 -1.6M1379.5 919.1l6.4 -1.6M1379.2 918l6.4 -1.6M1378.8 916.9l6.4 -1.6M1378.3 915.7l6.4 -1.6M1377.8 914.6l6.4 -1.6M1377.2 913.6l6.4 -1.6M1376.5 912.5l6.4 -1.6M1375.7 911.5l6.4 -1.6M1102 899.7l-4.9 -2M1374.9 910.4l6.4 -1.6M1103.7 898.8l-4.9 -2M1374 909.4l6.4 -1.6M1105.4 897.9l-4.9 -2M1373.1 908.4l6.4 -1.6M1107.2 897l-4.9 -2M1372.1 907.4l6.4 -1.6M1109 896.2l-4.9 -2M1371 906.5l6.4 -1.6M1110.9 895.3l-4.9 -2M1369.9 905.5l6.4 -1.6M1112.8 894.5l-4.9 -2M1368.7 904.6l6.4 -1.6M1114.8 893.7l-4.9 -2M1367.4 903.6l6.4 -1.6M1116.8 892.9l-4.9 -2M1366.1 902.7l6.4 -1.6M1118.8 892.2l-4.9 -2M1364.8 901.8l6.4 -1.6M1120.9 891.4l-4.9 -2M1363.4 900.9l6.4 -1.6M1123 890.7l-4.9 -2M1361.9 900.1l6.4 -1.6M1125.2 890l-4.9 -2M1360.4 899.2l6.4 -1.6M1127.4 889.3l-4.9 -2M1358.8 898.4l6.4 -1.6M1129.6 888.6l-4.9 -2M1357.2 897.5l6.4 -1.6M1131.9 887.9l-4.9 -2M1355.6 896.7l6.4 -1.6M1134.3 887.2l-4.9 -2M1353.8 895.9l6.4 -1.6M1136.6 886.6l-4.9 -2M1352.1 895.1l6.4 -1.6M1139 886l-4.9 -2M1350.3 894.3l6.4 -1.6M1141.5 885.4l-4.9 -2M1348.4 893.5l6.4 -1.6M1143.9 884.8l-4.9 -2M1346.5 892.8l6.4 -1.6M1146.5 884.2l-4.9 -2M1344.5 892l6.4 -1.6M1149 883.7l-4.9 -2M1342.5 891.3l6.4 -1.6M1151.6 883.1l-4.9 -2M1340.4 890.5l6.4 -1.6M1154.2 882.6l-4.9 -2M1338.3 889.8l6.4 -1.6M1156.9 882.1l-4.9 -2M1336.1 889.1l6.4 -1.6M1159.6 881.6l-4.9 -2M1333.9 888.4l6.4 -1.6M1162.4 881.1l-4.9 -2M1331.6 887.8l6.4 -1.6M1165.2 880.7l-4.9 -2M1329.3 887.1l6.4 -1.6M1168 880.2l-4.9 -2M1326.9 886.5l6.4 -1.6M1170.9 879.8l-4.9 -2M1324.4 885.8l6.4 -1.6M1173.8 879.4l-4.9 -2M1321.9 885.2l6.4 -1.6M1176.8 879l-4.9 -2M1319.4 884.6l6.4 -1.6M1179.8 878.6l-4.9 -2M1316.8 884l6.4 -1.6M1182.8 878.2l-4.9 -2M1314.1 883.4l6.4 -1.6M1185.9 877.9l-4.9 -2M1311.4 882.8l6.4 -1.6M1189.1 877.6l-4.9 -2M1308.6 882.3l6.4 -1.6M1192.3 877.3l-4.9 -2M1305.8 881.7l6.4 -1.6M1195.5 877l-4.9 -2M1302.9 881.2l6.4 -1.6M1198.8 876.7l-4.9 -2M1299.9 880.7l6.4 -1.6M1202.1 876.5l-4.9 -2M1296.9 880.2l6.4 -1.6M1205.5 876.3l-4.9 -2M1293.8 879.7l6.4 -1.6M1209 876.1l-4.9 -2M1290.6 879.3l6.4 -1.6M1212.5 875.9l-4.9 -2M1287.4 878.8l6.4 -1.6M1216 875.7l-4.9 -2M1284 878.4l6.4 -1.6M1374.9 940.2l-4.9 -2M1219.7 875.6l-4.9 -2M1280.6 878l6.4 -1.6M1376.2 939.1l-4.9 -2M1223.3 875.5l-4.9 -2M1277.1 877.6l6.4 -1.6M1377.5 938l-4.9 -2M1227.1 875.4l-4.9 -2M1273.6 877.3l6.4 -1.6M1378.6 936.9l-4.9 -2M1230.9 875.4l-4.9 -2M1269.9 876.9l6.4 -1.6M1379.7 935.7l-4.9 -2M1234.8 875.4l-4.9 -2M1266.1 876.6l6.4 -1.6M1380.7 934.6l-4.9 -2M1238.8 875.4l-4.9 -2M1262.3 876.3l6.4 -1.6M1381.7 933.4l-4.9 -2M1242.9 875.5l-4.9 -2M1258.3 876.1l6.4 -1.6M1382.5 932.1l-4.9 -2M1247 875.5l-4.9 -2M1254.2 875.8l6.4 -1.6M1383.3 930.8l-4.9 -2M1251.3 875.7l-4.9 -2M1250 875.6l6.4 -1.6M1384 929.5l-4.9 -2M1255.6 875.8l-4.9 -2M1245.6 875.5l6.4 -1.6M1384.5 928.1l-4.9 -2M1260.1 876.1l-4.9 -2M1241.1 875.3l6.4 -1.6M1385 926.7l-4.9 -2M1264.7 876.3l-4.9 -2M1236.5 875.2l6.4 -1.6M1385.3 925.3l-4.9 -2M1269.4 876.7l-4.9 -2M1231.6 875.2l6.4 -1.6M1385.5 923.7l-4.9 -2M1274.3 877l-4.9 -2M1226.5 875.2l6.4 -1.6M1385.5 922.1l-4.9 -2M1279.4 877.5l-4.9 -2M1221.3 875.2l6.4 -1.6M1385.4 920.5l-4.9 -2M1284.7 878.1l-4.9 -2M1215.7 875.3l6.4 -1.6M1385 918.7l-4.9 -2M1290.2 878.7l-4.9 -2M1209.8 875.5l6.4 -1.6M1384.4 916.9l-4.9 -2M1296 879.5l-4.9 -2M1203.6 875.8l6.4 -1.6M1383.5 914.9l-4.9 -2M1302.2 880.4l-4.9 -2M1196.8 876.2l6.4 -1.6M1382.2 912.8l-4.9 -2M1308.9 881.5l-4.9 -2M1189.5 876.8l6.4 -1.6M1380.5 910.5l-4.9 -2M1096.5 899.4l6.4 -1.6M1316.3 882.9l-4.9 -2M1181.2 877.6l6.4 -1.6M1378 907.9l-4.9 -2M1101 897l6.4 -1.6M1324.7 884.7l-4.9 -2M1171.5 878.7l6.4 -1.6M1374.5 904.9l-4.9 -2M1106.9 894.4l6.4 -1.6M1335.4 887.5l-4.9 -2M1159 880.5l6.4 -1.6M1368.8 901l-4.9 -2M1115.7 891l6.4 -1.6M1217.1 1013.9l6.4 -1.6M1215.3 1013.1l6.4 -1.6M1213.4 1012.3l6.4 -1.6M1211.5 1011.6l6.4 -1.6M1209.6 1010.8l6.4 -1.6M1207.7 1010l6.4 -1.6M1205.8 1009.3l6.4 -1.6M1203.9 1008.5l6.4 -1.6M1202 1007.7l6.4 -1.6M1200.1 1007l6.4 -1.6M1198.2 1006.2l6.4 -1.6M1196.3 1005.4l6.4 -1.6M1200.1 1004.9l-4.9 -2M1222.8 1014.1l-4.9 -2M1194.4 1004.7l6.4 -1.6M1202.5 1004.3l-4.9 -2M1225.3 1013.5l-4.9 -2M1205 1003.7l-4.9 -2M1227.7 1012.9l-4.9 -2M1207.4 1003.1l-4.9 -2M1230.2 1012.3l-4.9 -2M1209.9 1002.5l-4.9 -2M1232.7 1011.7l-4.9 -2M1212.4 1001.9l-4.9 -2M1235.1 1011.1l-4.9 -2M1214.8 1001.3l-4.9 -2M1237.6 1010.5l-4.9 -2M1217.3 1000.7l-4.9 -2M1240 1009.9l-4.9 -2M1219.7 1000.1l-4.9 -2M1242.5 1009.3l-4.9 -2M1222.2 999.5l-4.9 -2M1245 1008.7l-4.9 -2M1224.7 998.9l-4.9 -2M1247.4 1008.1l-4.9 -2M1227.1 998.3l-4.9 -2M1249.9 1007.5l-4.9 -2M1229.6 997.7l-4.9 -2M1252.3 1006.9l-4.9 -2M1232.1 997.1l-4.9 -2M1254.8 1006.3l-4.9 -2M1234.5 996.5l-4.9 -2M1257.3 1005.7l-4.9 -2M1237 995.9l-4.9 -2M1259.7 1005.1l-4.9 -2M1239.4 995.3l-4.9 -2M1262.2 1004.5l-4.9 -2M1241.9 994.7l-4.9 -2M1264.6 1003.9l-4.9 -2M1244.4 994.1l-4.9 -2M1267.1 1003.3l-4.9 -2M1246.8 993.5l-4.9 -2M1269.6 1002.7l-4.9 -2M1249.3 992.9l-4.9 -2M1272 1002.1l-4.9 -2M1251.7 992.3l-4.9 -2M1274.5 1001.6l-4.9 -2M1254.2 991.7l-4.9 -2M1276.9 1001l-4.9 -2M1256.7 991.1l-4.9 -2M1279.4 1000.4l-4.9 -2M1259.1 990.5l-4.9 -2M1281.9 999.8l-4.9 -2M1261.6 989.9l-4.9 -2M1284.3 999.2l-4.9 -2M1264 989.3l-4.9 -2M1286.8 998.6l-4.9 -2M1266.5 988.7l-4.9 -2M1289.2 998l-4.9 -2M1269 988.1l-4.9 -2M1291.7 997.4l-4.9 -2M1271.4 987.5l-4.9 -2M1294.2 996.8l-4.9 -2M1273.9 986.9l-4.9 -2M1296.6 996.2l-4.9 -2M1276.3 986.4l-4.9 -2M1299.1 995.6l-4.9 -2M1278.8 985.8l-4.9 -2M1301.6 995l-4.9 -2M1281.3 985.2l-4.9 -2M1304 994.4l-4.9 -2M1283.7 984.6l-4.9 -2M1306.5 993.8l-4.9 -2M1286.2 984l-4.9 -2M1308.9 993.2l-4.9 -2M1288.6 983.4l-4.9 -2M1311.4 992.6l-4.9 -2M1291.1 982.8l-4.9 -2M1313.9 992l-4.9 -2M1293.6 982.2l-4.9 -2M1316.3 991.4l-4.9 -2M1296 981.6l-4.9 -2M1318.8 990.8l-4.9 -2M1298.5 981l-4.9 -2M1321.2 990.2l-4.9 -2M1300.9 980.4l-4.9 -2M1323.7 989.6l-4.9 -2M1303.4 979.8l-4.9 -2M1326.2 989l-4.9 -2M1305.9 979.2l-4.9 -2M1328.6 988.4l-4.9 -2M1308.3 978.6l-4.9 -2M1331.1 987.8l-4.9 -2M1310.8 978l-4.9 -2M1333.5 987.2l-4.9 -2M1313.3 977.4l-4.9 -2M1336 986.6l-4.9 -2M1315.7 976.8l-4.9 -2M1338.5 986l-4.9 -2M1318.2 976.2l-4.9 -2M1340.9 985.4l-4.9 -2M1320.6 975.6l-4.9 -2M1343.4 984.8l-4.9 -2M1323.1 975l-4.9 -2M1345.8 984.2l-4.9 -2M1325.6 974.4l-4.9 -2M1348.3 983.6l-4.9 -2M1328 973.8l-4.9 -2M1350.8 983l-4.9 -2M1330.5 973.2l-4.9 -2M1353.2 982.4l-4.9 -2M1332.9 972.6l-4.9 -2M1355.7 981.8l-4.9 -2M1335.4 972l-4.9 -2M1358.1 981.2l-4.9 -2M1337.9 971.4l-4.9 -2M1360.6 980.6l-4.9 -2M1340.3 970.8l-4.9 -2M1363.1 980l-4.9 -2M1342.8 970.2l-4.9 -2M1365.5 979.4l-4.9 -2M1345.2 969.6l-4.9 -2M1368 978.8l-4.9 -2"/>
<path stroke="#7ee3ec" stroke-width=".85" d="M1332.3 934.3l6.4 -1.6M1334.1 932.6l6.4 -1.6M1335.5 931.1l6.4 -1.6M1336.6 929.6l6.4 -1.6M1337.4 928.1l6.4 -1.6M1338.1 926.8l6.4 -1.6M1338.5 925.4l6.4 -1.6M1338.8 924.1l6.4 -1.6M1338.9 922.9l6.4 -1.6M1338.8 921.6l6.4 -1.6M1338.7 920.5l6.4 -1.6M1338.4 919.3l6.4 -1.6M1338 918.2l6.4 -1.6M1337.5 917.1l6.4 -1.6M1336.9 916l6.4 -1.6M1336.2 914.9l6.4 -1.6M1137.5 906.1l-4.9 -2M1335.4 913.9l6.4 -1.6M1139.2 905.2l-4.9 -2M1334.5 912.9l6.4 -1.6M1140.9 904.3l-4.9 -2M1333.5 911.9l6.4 -1.6M1142.7 903.4l-4.9 -2M1332.5 910.9l6.4 -1.6M1144.6 902.6l-4.9 -2M1331.3 909.9l6.4 -1.6M1146.5 901.8l-4.9 -2M1330.1 909l6.4 -1.6M1148.5 901l-4.9 -2M1328.8 908.1l6.4 -1.6M1150.6 900.2l-4.9 -2M1327.5 907.2l6.4 -1.6M1152.7 899.5l-4.9 -2M1326 906.3l6.4 -1.6M1154.8 898.8l-4.9 -2M1324.5 905.5l6.4 -1.6M1157.1 898.1l-4.9 -2M1322.9 904.6l6.4 -1.6M1159.3 897.4l-4.9 -2M1321.3 903.8l6.4 -1.6M1161.7 896.8l-4.9 -2M1319.6 903l6.4 -1.6M1164 896.1l-4.9 -2M1317.8 902.2l6.4 -1.6M1166.5 895.5l-4.9 -2M1315.9 901.4l6.4 -1.6M1169 894.9l-4.9 -2M1314 900.6l6.4 -1.6M1171.5 894.4l-4.9 -2M1312 899.9l6.4 -1.6M1174.1 893.8l-4.9 -2M1309.9 899.2l6.4 -1.6M1176.7 893.3l-4.9 -2M1307.8 898.5l6.4 -1.6M1179.5 892.8l-4.9 -2M1305.6 897.8l6.4 -1.6M1182.2 892.3l-4.9 -2M1303.3 897.1l6.4 -1.6M1185 891.9l-4.9 -2M1300.9 896.4l6.4 -1.6M1187.9 891.5l-4.9 -2M1298.5 895.8l6.4 -1.6M1190.8 891l-4.9 -2M1296 895.2l6.4 -1.6M1193.8 890.7l-4.9 -2M1293.4 894.6l6.4 -1.6M1196.8 890.3l-4.9 -2M1290.8 894l6.4 -1.6M1200 890l-4.9 -2M1288 893.4l6.4 -1.6M1203.1 889.7l-4.9 -2M1285.2 892.9l6.4 -1.6M1206.4 889.4l-4.9 -2M1282.3 892.4l6.4 -1.6M1209.7 889.1l-4.9 -2M1279.3 891.9l6.4 -1.6M1213 888.9l-4.9 -2M1276.2 891.4l6.4 -1.6M1216.5 888.7l-4.9 -2M1273 890.9l6.4 -1.6M1220 888.5l-4.9 -2M1269.8 890.5l6.4 -1.6M1336.5 935.8l-4.9 -2M1223.6 888.4l-4.9 -2M1266.4 890.1l6.4 -1.6M1337.8 934.7l-4.9 -2M1227.3 888.3l-4.9 -2M1262.9 889.7l6.4 -1.6M1339 933.6l-4.9 -2M1231.1 888.3l-4.9 -2M1259.2 889.4l6.4 -1.6M1340.1 932.5l-4.9 -2M1235 888.2l-4.9 -2M1255.5 889l6.4 -1.6M1341.2 931.3l-4.9 -2M1239 888.3l-4.9 -2M1251.6 888.8l6.4 -1.6M1342.1 930l-4.9 -2M1243.2 888.3l-4.9 -2M1247.5 888.5l6.4 -1.6M1342.9 928.8l-4.9 -2M1247.4 888.5l-4.9 -2M1243.3 888.3l6.4 -1.6M1343.5 927.4l-4.9 -2M1251.8 888.7l-4.9 -2M1238.9 888.2l6.4 -1.6M1344 926.1l-4.9 -2M1256.4 888.9l-4.9 -2M1234.2 888.1l6.4 -1.6M1344.4 924.6l-4.9 -2M1261.2 889.3l-4.9 -2M1229.3 888l6.4 -1.6M1344.5 923.1l-4.9 -2M1266.2 889.7l-4.9 -2M1224.1 888l6.4 -1.6M1344.5 921.4l-4.9 -2M1271.5 890.2l-4.9 -2M1218.6 888.2l6.4 -1.6M1344.1 919.7l-4.9 -2M1277.1 890.9l-4.9 -2M1212.6 888.4l6.4 -1.6M1343.4 917.8l-4.9 -2M1283.1 891.8l-4.9 -2M1206 888.8l6.4 -1.6M1342.3 915.8l-4.9 -2M1289.8 892.9l-4.9 -2M1198.6 889.3l6.4 -1.6M1340.5 913.4l-4.9 -2M1132.9 905.3l6.4 -1.6M1297.6 894.5l-4.9 -2M1189.8 890.2l6.4 -1.6M1337.6 910.7l-4.9 -2M1137.9 902.8l6.4 -1.6M1307.7 897l-4.9 -2M1178 891.9l6.4 -1.6M1332.4 907l-4.9 -2M1145.9 899.7l6.4 -1.6M1369.1 940.1l6.4 -1.6M1371.1 938.4l6.4 -1.6M1372.9 936.7l6.4 -1.6M1374.4 935.1l6.4 -1.6M1375.7 933.6l6.4 -1.6M1376.7 932.1l6.4 -1.6M1377.6 930.7l6.4 -1.6M1378.3 929.3l6.4 -1.6M1378.9 927.9l6.4 -1.6M1379.3 926.6l6.4 -1.6M1379.6 925.3l6.4 -1.6M1379.8 924l6.4 -1.6M1379.9 922.7l6.4 -1.6M1379.9 921.5l6.4 -1.6M1379.7 920.3l6.4 -1.6M1379.5 919.1l6.4 -1.6M1379.2 918l6.4 -1.6M1378.8 916.9l6.4 -1.6M1378.3 915.7l6.4 -1.6M1377.8 914.6l6.4 -1.6M1377.2 913.6l6.4 -1.6M1376.5 912.5l6.4 -1.6M1375.7 911.5l6.4 -1.6M1102 899.7l-4.9 -2M1374.9 910.4l6.4 -1.6M1103.7 898.8l-4.9 -2M1374 909.4l6.4 -1.6M1105.4 897.9l-4.9 -2M1373.1 908.4l6.4 -1.6M1107.2 897l-4.9 -2M1372.1 907.4l6.4 -1.6M1109 896.2l-4.9 -2M1371 906.5l6.4 -1.6M1110.9 895.3l-4.9 -2M1369.9 905.5l6.4 -1.6M1112.8 894.5l-4.9 -2M1368.7 904.6l6.4 -1.6M1114.8 893.7l-4.9 -2M1367.4 903.6l6.4 -1.6M1116.8 892.9l-4.9 -2M1366.1 902.7l6.4 -1.6M1118.8 892.2l-4.9 -2M1364.8 901.8l6.4 -1.6M1120.9 891.4l-4.9 -2M1363.4 900.9l6.4 -1.6M1123 890.7l-4.9 -2M1361.9 900.1l6.4 -1.6M1125.2 890l-4.9 -2M1360.4 899.2l6.4 -1.6M1127.4 889.3l-4.9 -2M1358.8 898.4l6.4 -1.6M1129.6 888.6l-4.9 -2M1357.2 897.5l6.4 -1.6M1131.9 887.9l-4.9 -2M1355.6 896.7l6.4 -1.6M1134.3 887.2l-4.9 -2M1353.8 895.9l6.4 -1.6M1136.6 886.6l-4.9 -2M1352.1 895.1l6.4 -1.6M1139 886l-4.9 -2M1350.3 894.3l6.4 -1.6M1141.5 885.4l-4.9 -2M1348.4 893.5l6.4 -1.6M1143.9 884.8l-4.9 -2M1346.5 892.8l6.4 -1.6M1146.5 884.2l-4.9 -2M1344.5 892l6.4 -1.6M1149 883.7l-4.9 -2M1342.5 891.3l6.4 -1.6M1151.6 883.1l-4.9 -2M1340.4 890.5l6.4 -1.6M1154.2 882.6l-4.9 -2M1338.3 889.8l6.4 -1.6M1156.9 882.1l-4.9 -2M1336.1 889.1l6.4 -1.6M1159.6 881.6l-4.9 -2M1333.9 888.4l6.4 -1.6M1162.4 881.1l-4.9 -2M1331.6 887.8l6.4 -1.6M1165.2 880.7l-4.9 -2M1329.3 887.1l6.4 -1.6M1168 880.2l-4.9 -2M1326.9 886.5l6.4 -1.6M1170.9 879.8l-4.9 -2M1324.4 885.8l6.4 -1.6M1173.8 879.4l-4.9 -2M1321.9 885.2l6.4 -1.6M1176.8 879l-4.9 -2M1319.4 884.6l6.4 -1.6M1179.8 878.6l-4.9 -2M1316.8 884l6.4 -1.6M1182.8 878.2l-4.9 -2M1314.1 883.4l6.4 -1.6M1185.9 877.9l-4.9 -2M1311.4 882.8l6.4 -1.6M1189.1 877.6l-4.9 -2M1308.6 882.3l6.4 -1.6M1192.3 877.3l-4.9 -2M1305.8 881.7l6.4 -1.6M1195.5 877l-4.9 -2M1302.9 881.2l6.4 -1.6M1198.8 876.7l-4.9 -2M1299.9 880.7l6.4 -1.6M1202.1 876.5l-4.9 -2M1296.9 880.2l6.4 -1.6M1205.5 876.3l-4.9 -2M1293.8 879.7l6.4 -1.6M1209 876.1l-4.9 -2M1290.6 879.3l6.4 -1.6M1212.5 875.9l-4.9 -2M1287.4 878.8l6.4 -1.6M1216 875.7l-4.9 -2M1284 878.4l6.4 -1.6M1374.9 940.2l-4.9 -2M1219.7 875.6l-4.9 -2M1280.6 878l6.4 -1.6M1376.2 939.1l-4.9 -2M1223.3 875.5l-4.9 -2M1277.1 877.6l6.4 -1.6M1377.5 938l-4.9 -2M1227.1 875.4l-4.9 -2M1273.6 877.3l6.4 -1.6M1378.6 936.9l-4.9 -2M1230.9 875.4l-4.9 -2M1269.9 876.9l6.4 -1.6M1379.7 935.7l-4.9 -2M1234.8 875.4l-4.9 -2M1266.1 876.6l6.4 -1.6M1380.7 934.6l-4.9 -2M1238.8 875.4l-4.9 -2M1262.3 876.3l6.4 -1.6M1381.7 933.4l-4.9 -2M1242.9 875.5l-4.9 -2M1258.3 876.1l6.4 -1.6M1382.5 932.1l-4.9 -2M1247 875.5l-4.9 -2M1254.2 875.8l6.4 -1.6M1383.3 930.8l-4.9 -2M1251.3 875.7l-4.9 -2M1250 875.6l6.4 -1.6M1384 929.5l-4.9 -2M1255.6 875.8l-4.9 -2M1245.6 875.5l6.4 -1.6M1384.5 928.1l-4.9 -2M1260.1 876.1l-4.9 -2M1241.1 875.3l6.4 -1.6M1385 926.7l-4.9 -2M1264.7 876.3l-4.9 -2M1236.5 875.2l6.4 -1.6M1385.3 925.3l-4.9 -2M1269.4 876.7l-4.9 -2M1231.6 875.2l6.4 -1.6M1385.5 923.7l-4.9 -2M1274.3 877l-4.9 -2M1226.5 875.2l6.4 -1.6M1385.5 922.1l-4.9 -2M1279.4 877.5l-4.9 -2M1221.3 875.2l6.4 -1.6M1385.4 920.5l-4.9 -2M1284.7 878.1l-4.9 -2M1215.7 875.3l6.4 -1.6M1385 918.7l-4.9 -2M1290.2 878.7l-4.9 -2M1209.8 875.5l6.4 -1.6M1384.4 916.9l-4.9 -2M1296 879.5l-4.9 -2M1203.6 875.8l6.4 -1.6M1383.5 914.9l-4.9 -2M1302.2 880.4l-4.9 -2M1196.8 876.2l6.4 -1.6M1382.2 912.8l-4.9 -2M1308.9 881.5l-4.9 -2M1189.5 876.8l6.4 -1.6M1380.5 910.5l-4.9 -2M1096.5 899.4l6.4 -1.6M1316.3 882.9l-4.9 -2M1181.2 877.6l6.4 -1.6M1378 907.9l-4.9 -2M1101 897l6.4 -1.6M1324.7 884.7l-4.9 -2M1171.5 878.7l6.4 -1.6M1374.5 904.9l-4.9 -2M1106.9 894.4l6.4 -1.6M1335.4 887.5l-4.9 -2M1159 880.5l6.4 -1.6M1368.8 901l-4.9 -2M1115.7 891l6.4 -1.6M1217.1 1013.9l6.4 -1.6M1215.3 1013.1l6.4 -1.6M1213.4 1012.3l6.4 -1.6M1211.5 1011.6l6.4 -1.6M1209.6 1010.8l6.4 -1.6M1207.7 1010l6.4 -1.6M1205.8 1009.3l6.4 -1.6M1203.9 1008.5l6.4 -1.6M1202 1007.7l6.4 -1.6M1200.1 1007l6.4 -1.6M1198.2 1006.2l6.4 -1.6M1196.3 1005.4l6.4 -1.6M1200.1 1004.9l-4.9 -2M1222.8 1014.1l-4.9 -2M1194.4 1004.7l6.4 -1.6M1202.5 1004.3l-4.9 -2M1225.3 1013.5l-4.9 -2M1205 1003.7l-4.9 -2M1227.7 1012.9l-4.9 -2M1207.4 1003.1l-4.9 -2M1230.2 1012.3l-4.9 -2M1209.9 1002.5l-4.9 -2M1232.7 1011.7l-4.9 -2M1212.4 1001.9l-4.9 -2M1235.1 1011.1l-4.9 -2M1214.8 1001.3l-4.9 -2M1237.6 1010.5l-4.9 -2M1217.3 1000.7l-4.9 -2M1240 1009.9l-4.9 -2M1219.7 1000.1l-4.9 -2M1242.5 1009.3l-4.9 -2M1222.2 999.5l-4.9 -2M1245 1008.7l-4.9 -2M1224.7 998.9l-4.9 -2M1247.4 1008.1l-4.9 -2M1227.1 998.3l-4.9 -2M1249.9 1007.5l-4.9 -2M1229.6 997.7l-4.9 -2M1252.3 1006.9l-4.9 -2M1232.1 997.1l-4.9 -2M1254.8 1006.3l-4.9 -2M1234.5 996.5l-4.9 -2M1257.3 1005.7l-4.9 -2M1237 995.9l-4.9 -2M1259.7 1005.1l-4.9 -2M1239.4 995.3l-4.9 -2M1262.2 1004.5l-4.9 -2M1241.9 994.7l-4.9 -2M1264.6 1003.9l-4.9 -2M1244.4 994.1l-4.9 -2M1267.1 1003.3l-4.9 -2M1246.8 993.5l-4.9 -2M1269.6 1002.7l-4.9 -2M1249.3 992.9l-4.9 -2M1272 1002.1l-4.9 -2M1251.7 992.3l-4.9 -2M1274.5 1001.6l-4.9 -2M1254.2 991.7l-4.9 -2M1276.9 1001l-4.9 -2M1256.7 991.1l-4.9 -2M1279.4 1000.4l-4.9 -2M1259.1 990.5l-4.9 -2M1281.9 999.8l-4.9 -2M1261.6 989.9l-4.9 -2M1284.3 999.2l-4.9 -2M1264 989.3l-4.9 -2M1286.8 998.6l-4.9 -2M1266.5 988.7l-4.9 -2M1289.2 998l-4.9 -2M1269 988.1l-4.9 -2M1291.7 997.4l-4.9 -2M1271.4 987.5l-4.9 -2M1294.2 996.8l-4.9 -2M1273.9 986.9l-4.9 -2M1296.6 996.2l-4.9 -2M1276.3 986.4l-4.9 -2M1299.1 995.6l-4.9 -2M1278.8 985.8l-4.9 -2M1301.6 995l-4.9 -2M1281.3 985.2l-4.9 -2M1304 994.4l-4.9 -2M1283.7 984.6l-4.9 -2M1306.5 993.8l-4.9 -2M1286.2 984l-4.9 -2M1308.9 993.2l-4.9 -2M1288.6 983.4l-4.9 -2M1311.4 992.6l-4.9 -2M1291.1 982.8l-4.9 -2M1313.9 992l-4.9 -2M1293.6 982.2l-4.9 -2M1316.3 991.4l-4.9 -2M1296 981.6l-4.9 -2M1318.8 990.8l-4.9 -2M1298.5 981l-4.9 -2M1321.2 990.2l-4.9 -2M1300.9 980.4l-4.9 -2M1323.7 989.6l-4.9 -2M1303.4 979.8l-4.9 -2M1326.2 989l-4.9 -2M1305.9 979.2l-4.9 -2M1328.6 988.4l-4.9 -2M1308.3 978.6l-4.9 -2M1331.1 987.8l-4.9 -2M1310.8 978l-4.9 -2M1333.5 987.2l-4.9 -2M1313.3 977.4l-4.9 -2M1336 986.6l-4.9 -2M1315.7 976.8l-4.9 -2M1338.5 986l-4.9 -2M1318.2 976.2l-4.9 -2M1340.9 985.4l-4.9 -2M1320.6 975.6l-4.9 -2M1343.4 984.8l-4.9 -2M1323.1 975l-4.9 -2M1345.8 984.2l-4.9 -2M1325.6 974.4l-4.9 -2M1348.3 983.6l-4.9 -2M1328 973.8l-4.9 -2M1350.8 983l-4.9 -2M1330.5 973.2l-4.9 -2M1353.2 982.4l-4.9 -2M1332.9 972.6l-4.9 -2M1355.7 981.8l-4.9 -2M1335.4 972l-4.9 -2M1358.1 981.2l-4.9 -2M1337.9 971.4l-4.9 -2M1360.6 980.6l-4.9 -2M1340.3 970.8l-4.9 -2M1363.1 980l-4.9 -2M1342.8 970.2l-4.9 -2M1365.5 979.4l-4.9 -2M1345.2 969.6l-4.9 -2M1368 978.8l-4.9 -2"/>
<path stroke="#e6e65a" stroke-width=".9" d="M1135.5 938.8l-4.9 -2M1310.7 945.7l6.4 -1.6M1160.2 948.8l-4.9 -2M1278.6 953.5l6.4 -1.6M1130.3 935.1l-4.9 -2M1318.7 942.5l6.4 -1.6M1170.3 951.3l-4.9 -2M1266.8 955.1l6.4 -1.6M1127.4 932.4l-4.9 -2M1323.7 940.1l6.4 -1.6M1178.1 952.9l-4.9 -2M1258 956l6.4 -1.6M1125.7 930l-4.9 -2M1327.3 938l6.4 -1.6M1184.8 954l-4.9 -2M1250.6 956.6l6.4 -1.6M1124.5 928l-4.9 -2M1330.1 936l6.4 -1.6M1190.9 954.9l-4.9 -2M1244 957l6.4 -1.6M1123.8 926.1l-4.9 -2M1196.5 955.6l-4.9 -2M1238 957.2l6.4 -1.6M1123.5 924.4l-4.9 -2M1201.7 956.1l-4.9 -2M1232.5 957.3l6.4 -1.6M1123.4 922.7l-4.9 -2M1206.7 956.5l-4.9 -2M1227.3 957.3l6.4 -1.6M1123.5 921.2l-4.9 -2M1211.5 956.9l-4.9 -2M1222.4 957.3l6.4 -1.6M1123.9 919.7l-4.9 -2M1216.1 957.1l-4.9 -2M1217.8 957.2l6.4 -1.6M1124.4 918.4l-4.9 -2M1220.5 957.3l-4.9 -2M1213.3 957l6.4 -1.6M1125.1 917l-4.9 -2M1224.8 957.5l-4.9 -2M1209.1 956.8l6.4 -1.6M1125.9 915.8l-4.9 -2M1228.9 957.5l-4.9 -2M1205 956.6l6.4 -1.6M1126.8 914.5l-4.9 -2M1232.9 957.6l-4.9 -2M1201.1 956.3l6.4 -1.6M1127.8 913.3l-4.9 -2M1236.8 957.5l-4.9 -2M1197.4 956l6.4 -1.6M1128.9 912.2l-4.9 -2M1240.6 957.5l-4.9 -2M1193.7 955.6l6.4 -1.6M1130.1 911.1l-4.9 -2M1244.3 957.4l-4.9 -2M1190.2 955.3l6.4 -1.6M1131.5 910l-4.9 -2M1247.9 957.3l-4.9 -2M1186.8 954.9l6.4 -1.6M1132.8 909l-4.9 -2M1251.4 957.1l-4.9 -2M1183.6 954.4l6.4 -1.6M1134.3 908l-4.9 -2M1254.9 956.9l-4.9 -2M1180.4 954l6.4 -1.6M1135.9 907l-4.9 -2M1258.3 956.7l-4.9 -2M1177.3 953.5l6.4 -1.6M1261.6 956.4l-4.9 -2M1174.3 953l6.4 -1.6M1264.8 956.1l-4.9 -2M1171.4 952.5l6.4 -1.6M1268 955.8l-4.9 -2M1168.6 951.9l6.4 -1.6M1271.1 955.5l-4.9 -2M1165.8 951.4l6.4 -1.6M1274.1 955.1l-4.9 -2M1163.2 950.8l6.4 -1.6M1277.1 954.8l-4.9 -2M1160.6 950.2l6.4 -1.6M1280 954.3l-4.9 -2M1158.1 949.6l6.4 -1.6M1282.9 953.9l-4.9 -2M1155.7 948.9l6.4 -1.6M1285.7 953.5l-4.9 -2M1153.3 948.3l6.4 -1.6M1288.5 953l-4.9 -2M1151 947.6l6.4 -1.6M1291.2 952.5l-4.9 -2M1148.8 946.9l6.4 -1.6M1293.8 952l-4.9 -2M1146.7 946.2l6.4 -1.6M1296.4 951.4l-4.9 -2M1144.6 945.5l6.4 -1.6M1299 950.9l-4.9 -2M1142.6 944.7l6.4 -1.6M1301.4 950.3l-4.9 -2M1140.7 943.9l6.4 -1.6M1303.9 949.7l-4.9 -2M1138.8 943.2l6.4 -1.6M1306.3 949l-4.9 -2M1137.1 942.4l6.4 -1.6M1308.6 948.4l-4.9 -2M1135.3 941.6l6.4 -1.6M1310.9 947.7l-4.9 -2M1133.7 940.7l6.4 -1.6M1313.1 947l-4.9 -2M1132.1 939.9l6.4 -1.6M1315.2 946.3l-4.9 -2M1130.6 939l6.4 -1.6M1317.4 945.6l-4.9 -2M1129.1 938.2l6.4 -1.6M1319.4 944.8l-4.9 -2M1127.8 937.3l6.4 -1.6M1321.4 944l-4.9 -2M1126.5 936.3l6.4 -1.6M1323.3 943.2l-4.9 -2M1125.3 935.4l6.4 -1.6M1325.2 942.4l-4.9 -2M1124.1 934.5l6.4 -1.6M1327 941.5l-4.9 -2M1123.1 933.5l6.4 -1.6M1328.8 940.6l-4.9 -2M1122.1 932.5l6.4 -1.6M1330.5 939.7l-4.9 -2M1121.2 931.5l6.4 -1.6M1332.1 938.8l-4.9 -2M1120.4 930.4l6.4 -1.6M1333.6 937.8l-4.9 -2M1119.7 929.4l6.4 -1.6M1335.1 936.8l-4.9 -2M1119.1 928.3l6.4 -1.6M1118.6 927.2l6.4 -1.6M1118.2 926.1l6.4 -1.6M1117.9 924.9l6.4 -1.6M1117.8 923.7l6.4 -1.6M1117.7 922.5l6.4 -1.6M1117.8 921.2l6.4 -1.6M1118.1 919.9l6.4 -1.6M1118.5 918.6l6.4 -1.6M1119.2 917.2l6.4 -1.6M1120 915.8l6.4 -1.6M1121.1 914.3l6.4 -1.6M1122.5 912.7l6.4 -1.6M1124.3 911.1l6.4 -1.6M1126.5 909.3l6.4 -1.6M1129.3 907.4l6.4 -1.6M1099.2 944.8l-4.9 -2M1340.9 954.3l6.4 -1.6M1132.5 958.3l-4.9 -2M1297.6 964.8l6.4 -1.6M1093.4 940.9l-4.9 -2M1349.7 951l6.4 -1.6M1143.2 961.1l-4.9 -2M1285.1 966.7l6.4 -1.6M1089.9 937.9l-4.9 -2M1355.6 948.3l6.4 -1.6M1151.7 962.9l-4.9 -2M1275.4 967.8l6.4 -1.6M1087.4 935.3l-4.9 -2M1360.1 946l6.4 -1.6M1159 964.3l-4.9 -2M1267.1 968.6l6.4 -1.6M1085.7 933l-4.9 -2M1363.6 943.9l6.4 -1.6M1165.7 965.4l-4.9 -2M1259.8 969.1l6.4 -1.6M1084.4 930.9l-4.9 -2M1366.6 941.9l6.4 -1.6M1171.9 966.3l-4.9 -2M1253 969.5l6.4 -1.6M1083.5 928.9l-4.9 -2M1177.7 967.1l-4.9 -2M1246.8 969.8l6.4 -1.6M1082.9 927.1l-4.9 -2M1183.2 967.7l-4.9 -2M1240.9 970l6.4 -1.6M1082.5 925.3l-4.9 -2M1188.5 968.3l-4.9 -2M1235.3 970.1l6.4 -1.6M1082.4 923.7l-4.9 -2M1193.6 968.8l-4.9 -2M1230.1 970.2l6.4 -1.6M1082.4 922.1l-4.9 -2M1198.5 969.1l-4.9 -2M1225 970.2l6.4 -1.6M1082.6 920.5l-4.9 -2M1203.2 969.5l-4.9 -2M1220.1 970.1l6.4 -1.6M1082.9 919.1l-4.9 -2M1207.8 969.7l-4.9 -2M1215.5 970l6.4 -1.6M1083.4 917.7l-4.9 -2M1212.3 970l-4.9 -2M1211 969.9l6.4 -1.6M1083.9 916.3l-4.9 -2M1216.7 970.1l-4.9 -2M1206.6 969.7l6.4 -1.6M1084.6 915l-4.9 -2M1220.9 970.3l-4.9 -2M1202.4 969.5l6.4 -1.6M1085.4 913.7l-4.9 -2M1225.1 970.3l-4.9 -2M1198.3 969.3l6.4 -1.6M1086.2 912.4l-4.9 -2M1229.1 970.4l-4.9 -2M1194.3 969l6.4 -1.6M1087.2 911.2l-4.9 -2M1233.1 970.4l-4.9 -2M1190.5 968.7l6.4 -1.6M1088.2 910.1l-4.9 -2M1237 970.4l-4.9 -2M1186.7 968.4l6.4 -1.6M1089.3 908.9l-4.9 -2M1240.8 970.4l-4.9 -2M1183 968.1l6.4 -1.6M1090.5 907.8l-4.9 -2M1244.6 970.3l-4.9 -2M1179.5 967.7l6.4 -1.6M1091.7 906.7l-4.9 -2M1248.3 970.2l-4.9 -2M1176 967.3l6.4 -1.6M1093 905.6l-4.9 -2M1251.9 970.1l-4.9 -2M1172.6 966.9l6.4 -1.6M1094.4 904.6l-4.9 -2M1255.5 969.9l-4.9 -2M1169.2 966.5l6.4 -1.6M1095.8 903.6l-4.9 -2M1259 969.7l-4.9 -2M1166 966.1l6.4 -1.6M1097.3 902.6l-4.9 -2M1262.4 969.5l-4.9 -2M1162.8 965.6l6.4 -1.6M1098.8 901.6l-4.9 -2M1265.8 969.3l-4.9 -2M1159.7 965.1l6.4 -1.6M1100.4 900.6l-4.9 -2M1269.1 969.1l-4.9 -2M1156.7 964.6l6.4 -1.6M1272.4 968.8l-4.9 -2M1153.7 964.1l6.4 -1.6M1275.7 968.5l-4.9 -2M1150.8 963.6l6.4 -1.6M1278.8 968.2l-4.9 -2M1148 963.1l6.4 -1.6M1282 967.9l-4.9 -2M1145.2 962.5l6.4 -1.6M1285.1 967.6l-4.9 -2M1142.5 962l6.4 -1.6M1288.1 967.2l-4.9 -2M1139.8 961.4l6.4 -1.6M1291.1 966.8l-4.9 -2M1137.2 960.8l6.4 -1.6M1294.1 966.4l-4.9 -2M1134.7 960.2l6.4 -1.6M1297 966l-4.9 -2M1132.2 959.5l6.4 -1.6M1299.9 965.6l-4.9 -2M1129.7 958.9l6.4 -1.6M1302.7 965.1l-4.9 -2M1127.3 958.3l6.4 -1.6M1305.5 964.7l-4.9 -2M1125 957.6l6.4 -1.6M1308.3 964.2l-4.9 -2M1122.7 956.9l6.4 -1.6M1311 963.7l-4.9 -2M1120.5 956.2l6.4 -1.6M1313.7 963.2l-4.9 -2M1118.3 955.5l6.4 -1.6M1316.3 962.7l-4.9 -2M1116.2 954.8l6.4 -1.6M1318.9 962.1l-4.9 -2M1114.1 954.1l6.4 -1.6M1321.5 961.6l-4.9 -2M1112.1 953.3l6.4 -1.6M1324 961l-4.9 -2M1110.1 952.6l6.4 -1.6M1326.5 960.4l-4.9 -2M1108.2 951.8l6.4 -1.6M1328.9 959.8l-4.9 -2M1106.4 951.1l6.4 -1.6M1331.3 959.2l-4.9 -2M1104.5 950.3l6.4 -1.6M1333.7 958.6l-4.9 -2M1102.8 949.5l6.4 -1.6M1336 957.9l-4.9 -2M1101 948.7l6.4 -1.6M1338.3 957.2l-4.9 -2M1099.4 947.8l6.4 -1.6M1340.5 956.5l-4.9 -2M1097.8 947l6.4 -1.6M1342.7 955.8l-4.9 -2M1096.2 946.2l6.4 -1.6M1344.9 955.1l-4.9 -2M1094.7 945.3l6.4 -1.6M1347 954.4l-4.9 -2M1093.2 944.4l6.4 -1.6M1349.1 953.6l-4.9 -2M1091.8 943.5l6.4 -1.6M1351.2 952.9l-4.9 -2M1090.5 942.6l6.4 -1.6M1353.2 952.1l-4.9 -2M1089.2 941.7l6.4 -1.6M1355.1 951.3l-4.9 -2M1087.9 940.8l6.4 -1.6M1357 950.5l-4.9 -2M1086.7 939.8l6.4 -1.6M1358.9 949.6l-4.9 -2M1085.6 938.9l6.4 -1.6M1360.7 948.8l-4.9 -2M1084.5 937.9l6.4 -1.6M1362.5 947.9l-4.9 -2M1083.5 936.9l6.4 -1.6M1364.2 947l-4.9 -2M1082.6 935.9l6.4 -1.6M1365.9 946.1l-4.9 -2M1081.7 934.9l6.4 -1.6M1367.6 945.2l-4.9 -2M1080.9 933.9l6.4 -1.6M1369.1 944.2l-4.9 -2M1080.1 932.9l6.4 -1.6M1370.7 943.2l-4.9 -2M1079.4 931.8l6.4 -1.6M1372.1 942.2l-4.9 -2M1078.8 930.7l6.4 -1.6M1373.6 941.2l-4.9 -2M1078.3 929.6l6.4 -1.6M1077.8 928.5l6.4 -1.6M1077.4 927.4l6.4 -1.6M1077.1 926.2l6.4 -1.6M1076.9 925l6.4 -1.6M1076.8 923.8l6.4 -1.6M1076.7 922.6l6.4 -1.6M1076.8 921.4l6.4 -1.6M1077 920.1l6.4 -1.6M1077.3 918.8l6.4 -1.6M1077.7 917.5l6.4 -1.6M1078.3 916.1l6.4 -1.6M1079 914.7l6.4 -1.6M1079.9 913.2l6.4 -1.6M1080.9 911.8l6.4 -1.6M1082.2 910.2l6.4 -1.6M1083.7 908.6l6.4 -1.6M1085.5 907l6.4 -1.6M1087.5 905.2l6.4 -1.6M1090 903.4l6.4 -1.6M1093 901.5l6.4 -1.6M1512.4 942.2l6.4 -1.6M1510.5 941.4l6.4 -1.6M1508.6 940.6l6.4 -1.6M1506.7 939.9l6.4 -1.6M1504.8 939.1l6.4 -1.6M1502.9 938.3l6.4 -1.6M1501 937.6l6.4 -1.6M1499.2 936.8l6.4 -1.6M1497.3 936l6.4 -1.6M1495.4 935.3l6.4 -1.6M1493.5 934.5l6.4 -1.6M1491.6 933.7l6.4 -1.6M1489.7 933l6.4 -1.6M1347.7 969l-4.9 -2M1370.4 978.2l-4.9 -2M1350.2 968.4l-4.9 -2M1372.9 977.7l-4.9 -2M1352.6 967.8l-4.9 -2M1375.4 977.1l-4.9 -2M1355.1 967.2l-4.9 -2M1377.8 976.5l-4.9 -2M1357.5 966.6l-4.9 -2M1380.3 975.9l-4.9 -2M1360 966l-4.9 -2M1382.8 975.3l-4.9 -2M1362.5 965.4l-4.9 -2M1385.2 974.7l-4.9 -2M1364.9 964.8l-4.9 -2M1387.7 974.1l-4.9 -2M1367.4 964.2l-4.9 -2M1390.1 973.5l-4.9 -2M1369.8 963.6l-4.9 -2M1392.6 972.9l-4.9 -2M1372.3 963l-4.9 -2M1395.1 972.3l-4.9 -2M1374.8 962.5l-4.9 -2M1397.5 971.7l-4.9 -2M1377.2 961.9l-4.9 -2M1400 971.1l-4.9 -2M1379.7 961.3l-4.9 -2M1402.4 970.5l-4.9 -2M1382.2 960.7l-4.9 -2M1404.9 969.9l-4.9 -2M1384.6 960.1l-4.9 -2M1407.4 969.3l-4.9 -2M1387.1 959.5l-4.9 -2M1409.8 968.7l-4.9 -2M1389.5 958.9l-4.9 -2M1412.3 968.1l-4.9 -2M1392 958.3l-4.9 -2M1414.7 967.5l-4.9 -2M1394.5 957.7l-4.9 -2M1417.2 966.9l-4.9 -2M1396.9 957.1l-4.9 -2M1419.7 966.3l-4.9 -2M1399.4 956.5l-4.9 -2M1422.1 965.7l-4.9 -2M1401.8 955.9l-4.9 -2M1424.6 965.1l-4.9 -2M1404.3 955.3l-4.9 -2M1427 964.5l-4.9 -2M1406.8 954.7l-4.9 -2M1429.5 963.9l-4.9 -2M1409.2 954.1l-4.9 -2M1432 963.3l-4.9 -2M1411.7 953.5l-4.9 -2M1434.4 962.7l-4.9 -2M1414.1 952.9l-4.9 -2M1436.9 962.1l-4.9 -2M1416.6 952.3l-4.9 -2M1439.3 961.5l-4.9 -2M1419.1 951.7l-4.9 -2M1441.8 960.9l-4.9 -2M1421.5 951.1l-4.9 -2M1444.3 960.3l-4.9 -2M1424 950.5l-4.9 -2M1446.7 959.7l-4.9 -2M1426.4 949.9l-4.9 -2M1449.2 959.1l-4.9 -2M1428.9 949.3l-4.9 -2M1451.6 958.5l-4.9 -2M1431.4 948.7l-4.9 -2M1454.1 957.9l-4.9 -2M1433.8 948.1l-4.9 -2M1456.6 957.3l-4.9 -2M1436.3 947.5l-4.9 -2M1459 956.7l-4.9 -2M1438.7 946.9l-4.9 -2M1461.5 956.1l-4.9 -2M1441.2 946.3l-4.9 -2M1464 955.5l-4.9 -2M1443.7 945.7l-4.9 -2M1466.4 954.9l-4.9 -2M1446.1 945.1l-4.9 -2M1468.9 954.3l-4.9 -2M1448.6 944.5l-4.9 -2M1471.3 953.8l-4.9 -2M1451 943.9l-4.9 -2M1473.8 953.2l-4.9 -2M1453.5 943.3l-4.9 -2M1476.3 952.6l-4.9 -2M1456 942.7l-4.9 -2M1478.7 952l-4.9 -2M1458.4 942.1l-4.9 -2M1481.2 951.4l-4.9 -2M1460.9 941.5l-4.9 -2M1483.6 950.8l-4.9 -2M1463.4 940.9l-4.9 -2M1486.1 950.2l-4.9 -2M1465.8 940.3l-4.9 -2M1488.6 949.6l-4.9 -2M1468.3 939.7l-4.9 -2M1491 949l-4.9 -2M1470.7 939.1l-4.9 -2M1493.5 948.4l-4.9 -2M1473.2 938.6l-4.9 -2M1495.9 947.8l-4.9 -2M1475.7 938l-4.9 -2M1498.4 947.2l-4.9 -2M1478.1 937.4l-4.9 -2M1500.9 946.6l-4.9 -2M1480.6 936.8l-4.9 -2M1503.3 946l-4.9 -2M1483 936.2l-4.9 -2M1505.8 945.4l-4.9 -2M1485.5 935.6l-4.9 -2M1508.2 944.8l-4.9 -2M1488 935l-4.9 -2M1510.7 944.2l-4.9 -2M1490.4 934.4l-4.9 -2M1513.2 943.6l-4.9 -2M1492.9 933.8l-4.9 -2M1515.6 943l-4.9 -2M1495.3 933.2l-4.9 -2M1518.1 942.4l-4.9 -2"/>
<g clip-path="url(#outd)" stroke-width=".7">
<path class="n17" d="M1277.5 1001.2l0 2.4-2.9 5-3-5.7-3.4-2.6-4.8-2.5 0-2.3"/><path class="n17" d="M1275.1 1001.8l0 2.5-3 5.1-3-5.8-3.4-2.7-5-2.5-5-1.6-3.4-.1-.9 .4-1.6 2.7-.7 .2-2.9-7.6 0-2.3"/><path class="n16" d="M1272.6 1002.4l0 2.5-3 5.3-2.9-5.9-3.4-2.7-5-2.5-5-1.6-3.5-.1-.9 .4-1.6 2.8-.6 .3-3-7.8 0-2.4"/><path class="n16" d="M1270.1 1003l0 2.6-2.9 5.4-3-6-3.4-2.7-5-2.6-5-1.5-3.4-.1-.9 .4-1.6 2.9-.7 .3-3-8 0-2.4"/><path class="n14" d="M1234.2 1013.9l0 2.5-1.8 1-1.6 2-3 9.2-2.5-8-2.7-4.5-2.5-2.3-3.7-1.9-3.8-1.1-2.5 .3-2.8 2.4-2.2 5.9-3.2-11.9-1.6-3.2-1.8-2.4 0-2.5"/><path class="n16" d="M1267.9 1003.7l0 2.4-1.1 1.3-2.1 4.5-2.9-6.2-3.5-2.7-5-2.6-5-1.5-3.4-.1-.9 .4-1.6 3-.7 .3-2.9-8.1 0-2.5"/><path class="n16" d="M1265.4 1004.3l0 2.4-1.1 1.4-2 4.6-3-6.3-3.4-2.8-5-2.5-5-1.6-3.4 0-.9 .5-1.6 3-.7 .3-3-8.2 0-2.6"/><path class="n16" d="M1263 1004.9l0 2.5-1.2 1.4-2 4.7-3-6.4-3.4-2.8-5-2.6-5-1.5-3.4 0-.9 .5-1.6 3.2-.7 .2-3.2-8.7 0-2.4"/><path class="n3" d="M1228.4 1016.4l0 2.5-1.6 1.2-1.4 2.2-2 7.7-1.4 11.3-1.6 21.5-2-19.2-2.1-10.3-1.3-3.9-1.6-2.8-2.1-2.1-2.3-1.4-2.5-.5-2 .5-1.6 1.6-1.4 2.8-2.2 10.5-1.6 15.6-3.2-35.8-2.1-9.1-2.9-5.7 0-2.4"/><path class="n16" d="M1260.5 1005.5l0 2.5-1.1 1.5-2.1 4.8-2.9-6.5-3.4-2.8-5-2.6-5-1.5-3.5 0-.9 .5-1.6 3.3-.6 .3-3.2-9 0-2.4"/><path class="n16" d="M1258.3 1006.1l0 2.4-1.4 1.7-2 5-3-6.7-3.4-2.9-5-2.6-5-1.5-3.4 .1-.9 .6-1.6 3.3-.7 .3-3.2-9.1 0-2.5"/><path class="n16" d="M1255.8 1006.7l0 2.5-1.3 1.7-2.1 5.1-2.9-6.8-3.5-2.9-5-2.6-5-1.5-3.4 .1-.9 .6-1.6 3.4-.7 .3-3.1-9.3 0-2.5"/><path class="n16" d="M1253.4 1007.3l0 2.5-1.4 1.8-2 5.2-3-6.9-3.4-2.9-5-2.6-5-1.5-3.4 .1-.9 .6-1.6 3.5-.7 .3-2.1-7-1.3-2.8 0-2.3"/><path class="n16" d="M1250.9 1007.9l0 2.6-1.4 1.8-2 5.3-3-7-3.4-2.9-5-2.7-5-1.4-3.4 .1-.9 .6-1.6 3.6-.7 .4-2-7.2-1.4-2.8 0-2.4"/><path class="n16" d="M1248.4 1008.5l0 2.6-1.3 1.9-2.1 5.5-2.9-7.1-3.4-3-5-2.7-5-1.4-3.5 .1-.9 .7-1.6 3.6-.6 .4-2.1-7.3-1.4-2.8 0-2.5"/><path class="n16" d="M1246.2 1009.2l0 2.5-1.4 1.6-2.2 6-3-7.2-3.4-3-5-2.7-5-1.4-3.4 .1-.9 .7-1.6 3.8-.7 .4-2.1-7.4-1.3-3 0-2.5"/><path class="n16" d="M1243.7 1009.8l0 2.6-1.3 1.6-2.3 6.2-2.9-7.3-3.5-3.1-5-2.7-5-1.4-3.4 .2-.9 .7-1.6 3.9-.7 .3-2-7.5-1.6-3.3 0-2.4"/><path class="n15" d="M1241.5 1010.5l0 2.5-1.6 1.8-2.3 6.4-2.9-7.5-3.4-3.2-5-2.7-5-1.4-3.4 .3-1.2 1.1-1.6 4-.4 0-2.1-7.7-1.8-3.7 0-2.3"/><path class="n15" d="M1239.3 1011.2l0 2.5-1.8 2.1-2.3 6.5-3-7.7-3.6-3.4-4.8-2.7-4.8-1.3-3.6 .5-1.1 1.1-1.6 4.1-.5 0-2.3-8.5-1.8-3.4 0-2.4"/><path class="n15" d="M1237.3 1012l0 2.5-2.1 1.9-2.5 7.2-2-6.1-1.2-2-3.6-3.6-4.5-2.5-4.6-1.3-3.9 .7-1.1 1.2-1.6 4.2-.4 0-2.3-8.7-2.3-4.1 0-2.4"/><path class="n15" d="M1235.7 1013l0 2.4-1.6 .8-1.1 1.4-2.7 7.9-3.2-8.5-4.1-4.5-4.1-2-4.1-1.3-4.1 1-1.1 1.1-1.6 4.4-.7 .5-2.5-9.7-2.7-4.7 0-2.5"/><path class="n12" d="M1232.6 1014.9l0 2.4-2.3 1.7-1.8 3.2-3.2 11.8-3.8-13-3.4-4.5-4.1-2.7-4.1-.7-1.8 .5-1.6 1.1-1.6 2.8-1.8 6.5-.7 .6-3-13.8-1.8-4.9-2.5-3.8 0-2.4"/><path class="n9" d="M1230.6 1015.7l0 2.5-2.5 2.4-1.8 4.7-3.4 18.8-.7-2-1.4-9.2-2.5-8.3-2.9-5-3.9-2.8-2-.5-1.9 .1-1.5 .8-1.4 1.6-2.7 6.7-1.4 8.2-.7 .9-3.4-21.7-1.8-6-2.5-4.3 0-2.5"/><path class="n13" d="M1225 1016.6l0 2.4-1.6 1.2-1.3 2.1-3.5 10.3-.6 .9-.9-1.5-2.5-9.3-2.1-5.3-2.5-3.5-3.4-2.3-3.4-.5-2.5 1.3-2.1 3.4-2.7 7.8-.9 .5-3.9-14-2.9-5.9 0-2.6"/><path class="n16" d="M1221.6 1016.8l0 2.5-1.8 1.1-2.9 2.9-1.4 .4-1.4-1.3-3.4-5.7-2.2-2.9 0-2.3"/>
</g>
<g stroke-width=".7" stroke-linejoin="round">
<path class="ww" d="M1094.6 900.4l-1.2 .3-1 .3-1.1 .4-.9 .3-1 .4-.9 .3 0 3.9 .9-.8 1-.7 .9-.8 1.1-.8 1-.7 1.2-.8z"/><path class="j21" d="M1094.3 904.5l0-2.4-1.9-3-1.3 1.6 0 2.5"/><path class="j21" d="M1091.6 905l0-2.4-1.6-2.3-1.8 .9 0 2.5"/><path class="j21" d="M1090.5 906.2l0-2.6-1.2-1.4-1.1 .4 0 2.7"/><path class="j21" d="M1091.7 908.3l0-2.6-3.7-3.1-1.3 1 0 2.6"/><path class="j23" d="M1089.2 908.9l0-2.6-2.3-10.2-2.2 8.2 0 2.7"/><path class="ww" d="M1088.5 902.4l-.8 .4-.9 .4-.7 .2-.7 .3-.7 .3-.7 .3 0 6.8 .7-.8 .7-.8 .7-.8 .7-.8 .9-.8 .8-.8z"/><path class="j21" d="M1129.5 909.3l0-2.5-.9-1.4-.7 .5 0 2.7"/><path class="j21" d="M1088.1 910l0-2.5-2.3-3.9-1.8 1-2 .4 0 2.5"/><path class="ww" d="M1130 907l-.7 .4-.8 .3-.6 .3-.7 .4-.6 .3-.6 .3 0 2.7 .6-.6 .6-.6 .7-.5 .6-.6 .8-.6 .7-.5z"/><path class="j22" d="M1090 912.4l0-2.5-2.8-1.5-2.5-4.4-2.2 2.7 0 2.6"/><path class="j21" d="M1128.7 912.1l0-2.7-1.2-2.1-1.6 1.3 0 2.4"/><path class="j24" d="M1087.3 912.9l0-2.6-2.7-13-2.1 8.3-1.4 2.3 0 2.5"/><path class="j21" d="M1126.4 912.8l0-2.4-2.5-2.2-1.1 .6 0 2.5"/><path class="j23" d="M1086.2 914l0-2.5-4.6-9.8-.6 .8-2.1 6.1 0 2.5"/><path class="ww" d="M1126 909l-.6 .3-.5 .3-.5 .3-.5 .3-.4 .3-.4 .3 0 4.4 .4-.6 .4-.6 .5-.6 .5-.6 .5-.5 .6-.6z"/><path class="ww" d="M1084 904.3l-.5 .3-.6 .3-.5 .3-.4 .3-.5 .3-.3 .3 0 9.9 .3-.8 .5-.9 .4-.8 .5-.8 .6-.8 .5-.8z"/><path class="j21" d="M1127.9 915l-.3-3-1.8-.6-1.4-1.4-1.3 .5 0 2.5"/><path class="j22" d="M1088.5 916.6l0-2.4-.5-.9-.6-.8-1.6-.1-.7-.7-3-6.4-3.2 4.9 0 2.5"/><path class="j23" d="M1125.4 915.6l0-2.5-2.3-8.5-1.6 6.4 0 3"/><path class="j25" d="M1085.8 917.1l0-2.5-.9-2.5-1.6-10.9-.7-2-2.5 8.8-2 3.3 0 2.6"/><path class="j21" d="M1125 917l0-2.5-2.3-3.3-2 1.5 0 2.5"/><path class="j25" d="M1085.4 918.5l0-2.5-1.4-2-1.3-3.4-3-11.9-2 11.4-.9 2.4 0 2.5"/><path class="ww" d="M1123.1 910.8l-.4 .3-.3 .3-.3 .3-.3 .3-.2 .4-.2 .3 0 6.1 .2-.6 .2-.6 .3-.6 .3-.6 .3-.6 .4-.6z"/><path class="j24" d="M1124.6 918.4l0-2.6-2.1-11.2-1.6 7.4-1.3 2 0 2.4"/><path class="j21" d="M1127.3 917.9l0-2.5-.7-.8-.9 .3 0 2.4"/><path class="j23" d="M1086.8 920.7l0-2.9-1.1-3.2-.5-.6-1.1 .5-.7-.3-3-7.4-2.9 5.9-.7 .3-1.6-.9-1.1 .8 0 2.6"/><path class="ww" d="M1081.2 906.1l-.3 .3-.3 .3-.2 .3-.2 .3-.1 .3-.1 .3 0 13.1 .1-.9 .1-.8 .2-.8 .2-.9 .3-.8 .3-.8z"/><path class="j22" d="M1126.7 920.9l0-2.8-.5-1.1-.5-.2-.9 .6-.4-.2-3-4.6-1.6 .9-1.3-1.2-.9 1.9 0 3"/><path class="j28" d="M1085.5 921.7l0-2.5-1.6-2.4-.7-2.9-2-18.8-2.1 13.5-1.6 4.6-1.8 2 0 2.5"/><path class="j26" d="M1088.3 924.4l0-2.6-.7-1.4-2.3 .1-2-3.3-5.1-15.6-.6 2.1-1.4 10-1.1 2.8 0 2.6"/><path class="ww" d="M1121.4 912.7l-.2 .3-.1 .3-.1 .3 0 .3-.1 .3 0 .7 0 7.5 0-.6 .1-.6 0-.6 .1-.6 .1-.6 .2-.6z"/><path class="j25" d="M1124.6 921.6l0-2.5-1.1-2.3-1.6-11.6-1.3 7.6-1.2 2.3-1.3 1.4 0 2.5"/><path class="j20" d="M1114.3 920.6l0-2.4 0 2.4"/><path class="j22" d="M1126.3 923.9l0-2.5-.9-2.9-1.2 .9-.4-.1-2.5-4.9-.5-.3-1.1 .6-1.2-2.3-.4 .3-1.1 4.5 0 2.9"/><path class="j24" d="M1085.8 925l0-2.6-2.3-10.2-.4-.2-1.2 1.5-2-4.3-.7 .6-3 6.9-.9 .2-1.3-1.3-.9 .7-.5 .7 0 2.7"/><path class="ww" d="M1080 907.9l-.1 .4 0 .9 .1 .8 .1 .9 .1 .9 .2 .9 0 13.2-.2-.8-.1-.8-.1-.9-.1-.8 0-.8 .1-.8z"/><path class="j26" d="M1125.2 925.1l0-2.4-1.6-2.4-.7-2.3-1.4-12.4-1.3 9.7-1.4 2.6-1.8 1.5 0 2.3"/><path class="j20" d="M1114.6 923.9l-.2-2.6-.3 2.5"/><path class="ww" d="M1120.9 914.9l.1 .6 0 .7 .1 .6 .2 .6 .2 .7 .2 .6 0 7.3-.2-.6-.2-.6-.2-.6-.1-.6 0-.6-.1-.6z"/><path class="j31" d="M1086.3 926.8l0-2.4-2.5-3.5-1.6-4.7-2.3-25.2-2 23.6-1.4 3.3-2.3 1.7 0 2.3"/><path class="j24" d="M1087.5 928.9l0-2.4-1.8-6.7-.5-.3-1.1 1.7-.5-.4-3.2-8-2.3 3.1-1.3-2.6-.5 .3-1.3 5.7-1 1.8 0 2.4"/><path class="j20" d="M1128.6 926.4l-.2-2.7-.5 .1 0 2.4"/><path class="j22" d="M1126.1 927l0-2.4-1.6-6.4-1.1 2.3-2-2.8-2.1 .9-1.4-2.8-1.3 4.8 0 2.6"/><path class="j25" d="M1128.5 929.6l0-3-.7-2.2-1.2 1.4-.4-.1-3.2-5.2-1.6-11.3-1.4 10.7-.6 1.6-1.9 1.2 0 2.4"/><path class="ww" d="M1121.7 918.7l.2 .7 .3 .6 .3 .6 .3 .7 .4 .6 .4 .6 0 7.1-.4-.6-.4-.6-.3-.6-.3-.6-.3-.6-.2-.6z"/><path class="j21" d="M1089.9 928.3l0-2.4-.9-1.2-.9 .5 0 2.4"/><path class="ww" d="M1463.3 928.5l7.4-2.5 7.4-2.5 7.4-2.4 7.4-2.5 0 13.6-7.4 1.8-7.4 1.8-7.4 1.8-7.4 1.7z"/><path class="ww" d="M1080.4 912.7l.2 .9 .3 .9 .4 .9 .3 .9 .4 .9 .5 .8 0 12.8-.5-.8-.4-.8-.3-.8-.4-.8-.3-.9-.2-.8z"/><path class="j29" d="M1088 930.7l0-2.4-2.5-3.2-1.4-3.4-2-22.8-1.6 13.9-1.4 4.9-1.6 3.1-1.8 1.7-1.2 .2-1.5-1.7-1 .1-.4 .5 0 2.5"/><path class="j25" d="M1089.6 933l0-2.5-2-7.5-.5 .1-.9 2-.7-.2-3-7.3-.6-.7-1.4 .1-1.4-5.3-.6 1.7-1.4 9.3-.7 1.4-1.1 .6 0 2.4"/><path class="j25" d="M1128.7 931.3l0-2.4-2-2.3-.9-1.9-1.4-11.3-1.4 7.9-3.6 2.7-1.6-2.5-.9 2.2 0 2.8"/><path class="j21" d="M1118.3 930.3l0-2.7-.4-.6-.5 .3 0 2.6"/><path class="j21" d="M1505.1 932.4l0-2.5-4.8-4-1.8-.4-2.9 .6 0 2.4"/><path class="ww" d="M1123.6 922.5l.4 .6 .5 .7 .5 .6 .5 .6 .6 .6 .6 .6 0 6.9-.6-.6-.6-.5-.5-.6-.5-.6-.5-.6-.4-.6z"/><path class="j23" d="M1504.7 933.8l0-2.4-2.3-2.9-3.4-5.8-1.1-1-1.4 .1-3.2 3.1-1.8 1.1 0 2.4"/><path class="j21" d="M1091.6 932.2l0-2.7-.7-1.1-1.1 .7 0 2.3"/><path class="j21" d="M1131.2 932.3l0-2.8-.7-1.6-.9 1.3 0 2.4"/><path class="j26" d="M1525.2 943.7l0-2.4-2.9-5.7-4.1-14.5-1 .8-2.5 7.2-2 3.6-2.5 1.5-3.4-.5-3.4-2.2-2.8-3.8-5.2-15.8-.9 1-3.2 9.8-1.3 2.2-1.6 1.3 0 2.5"/><path class="j29" d="M1094 936.3l0-2.5-1.2-2.8-1.3 1.3-.9-.3-2.6-3-1.5-3.3-2.3-22.8-2.1 16.6-2.2 4.3-1.9 2-1.1 .1-1.4-2.1-.6 .2-1 1.6 0 2.6"/><path class="j24" d="M1131.5 934l0-2.4-2.7-3.3-1.4-9.2-1.4 5.8-1.6-.7-1.8 .6-1.3-4.5-1.2 5.1-.7 1.2 0 2.5"/><path class="j25" d="M1094.5 938.1l0-2.4-2.3-2-.9-1.7-1.6-10.2-.2-.3-.3 .4-1.3 4.4-2.8-4.5-.6-.1-1.6 .9-1.6-6.2-1.9 10.4-.6 1.3-1.6 .6 0 2.4"/><path class="j36" d="M1523.7 944.7l0-2.6-3-5.8-2-9.3-1.4-12.4-1.6-22.9-2 17.6-2.1 8.7-1.4 2.7-1.6 1.5-2 .5-2.3-.5-2.5-1.5-2-2.2-1.6-2.8-1.4-4-2.3-12.3-1.5-16.9-1.9 22.3-1.3 10.9-2.1 7.4-1.3 2.2-1.6 1.1 0 2.5"/><path class="ww" d="M1082.5 918l.5 .9 .6 .9 .6 .9 .6 .8 .7 .9 .7 .8 0 12.5-.7-.8-.7-.8-.6-.8-.6-.8-.6-.8-.5-.9z"/><path class="j21" d="M1122 933.3l0-2.7-.7-1.3-.6 .8 0 2.7"/><path class="j30" d="M1521 945.2l0-2.6-2.5-4.4-1.9-6.2-3.4-21.5-.6 1.4-1.4 8.1-2.5 6.3-1.4 1.7-1.6 .9-1.8 .1-2-.5-3.9-2.7-3-4.8-2.7-8.9-1.8-10.8-.7 1.5-2.9 17.5-1.9 4.5-2.5 2.3 0 2.5"/><path class="j27" d="M1518.1 945.6l0-2.5-2.3-3.5-1.8-4.7-3.2-14.3-.7 .9-1.8 6.5-1.4 2.4-3.4 1.8-4.1-.7-4.1-2.6-3.4-4.4-1.6-4-2.3-9.1-.7 1.1-2.7 10.8-1.8 3.1-2.3 1.6 0 2.4"/><path class="ww" d="M1126.7 926.2l.6 .6 .7 .6 .7 .6 .7 .6 .8 .6 .8 .6 0 6.7-.8-.6-.8-.5-.7-.6-.7-.6-.7-.5-.6-.6z"/><path class="j25" d="M1514.7 945.8l0-2.5-1.8-2.4-1.6-3.4-3-11.5-.4 .2-2.1 5.7-2.7 2.3-2.5 .3-3.7-1-3.8-2.1-2.5-2.3-2.8-4.6-2.2-7.8-.7 1-2.5 8.3-1.6 2-1.8 .9 0 2.4"/><path class="j21" d="M1134.2 935.1l0-2.6-.7-2.1-1.1 1.6 0 2.4"/><path class="ww" d="M1433.8 938.4l7.4-2.5 7.4-2.5 7.4-2.5 7.3-2.4 0 10.8-7.3 1.8-7.4 1.8-7.4 1.8-7.4 1.8z"/><path class="j24" d="M1137.7 938.1l0-2.4-1.2-4.3-1.3 2.6-3.2-2.9-1.6-9.7-.9 5.8-.5 .7-1.6-.8-1.6-.1-1.3-6.2-1.4 7.3-.4 .6-1.4 .3 0 2.5"/><path class="j24" d="M1511.3 946l0-2.4-2.7-4.4-2.7-10.2-.5 .2-1.6 4.5-1.1 1.3-4.1 1.1-4.1-1.2-4.1-2.1-4.1-4.3-1.4-2.7-1.8-6-.7 .9-2 6.7-1.2 1.6-1.6 .9 0 2.5"/><path class="j24" d="M1507.9 946.3l0-2.5-2-3.7-2.5-9.2-.5 .3-1.6 4.2-1.1 1.1-3.6 .6-4.6-1.2-4.5-2.4-3.9-3.8-1.1-2.1-1.9-5.9-.6 .9-2.1 6.4-2 1.8 0 2.5"/><path class="j21" d="M1125.5 936.3l0-2.3-.7-1.5-.7 .6 0 2.7"/><path class="j24" d="M1505 946.7l0-2.5-1.8-3.5-2.3-8.4-.4 .2-1.6 4.1-.9 .9-3.7 .5-4.7-1.2-4.8-2.6-3.7-3.4-1.1-2-1.8-5.7-.7 .8-1.8 5.8-1.8 1.9 0 2.4"/><path class="j30" d="M1099.1 941.6l0-2.4-2.1-1.6-.7-1.3-1.3-6.6-.5 .1-.9 3-.7 .4-4.1-7.3-.7-3.1-1.6-16.2-1.3 16.3-.7 3.6-2.1 2.8-2.2 1.3-.9-.4-1.6-2.3-1.2 1.9 0 2.6"/><path class="j24" d="M1502.3 947.2l0-2.5-1.6-3.1-2.2-8.2-.5 .2-1.6 4-.9 .9-3.4 .4-5-1.3-5-2.7-3.4-3.1-1.2-2-1.8-5.6-.7 .8-1.8 5.6-1.6 1.7 0 2.4"/><path class="j20" d="M1139.2 937.1l0-2.3 0 2.3"/><path class="j21" d="M1081.6 937.7l0-2.5-1.1-1.7-1.2 .9 0 2.4"/><path class="ww" d="M1486.1 937.7l7.4-2.5 7.4-2.4 7.3-2.5 7.4-2.5 0 13.6-7.4 1.8-7.3 1.8-7.4 1.8-7.4 1.8z"/><path class="j23" d="M1499.7 947.7l0-2.5-1.4-2.8-2.3-8.1-.4 .2-1.6 3.9-.9 .9-3.5 .3-5-1.3-5-2.7-3.4-3-1.1-2-1.8-5.5-.7 .8-1.8 5.5-1.4 1.6 0 2.4"/><path class="ww" d="M1086.2 923.2l.8 .9 .8 .9 .9 .8 .9 .8 1 .9 1 .8 0 12.1-1-.8-1-.8-.9-.8-.9-.7-.8-.8-.8-.8z"/><path class="ww" d="M1131 929.8l.8 .6 .8 .6 .9 .5 .9 .6 1 .6 .9 .5 0 6.5-.9-.5-1-.6-.9-.5-.9-.5-.8-.6-.8-.5z"/><path class="j25" d="M1165.7 951.1l0-2.5-1.4-1.7-1.1-6.3-1.4 3.9-3.4-2.7-1.3-9.3-1 6.8-.6 1.8-3-.7-1.4-7-1.3 6.6-2.5-.6-.7-.6-1.1-6.3-1.2 4.9-.4 .5-.5-.2-2.5-1.6-1.4-8-1.3 6.3-3-2.1-1.6-10.7-1.3 9-3.2 .1-1.4-6-1.4 6.4-.4 .5-1.8 .2 0 2.4"/><path class="j20" d="M1128.5 939.1l0-2.4-.5-.4-.2 2.6"/><path class="j23" d="M1492 949.4l0-2.6-1.3-2.9-2.1-7-.4 .2-1.6 3.6-.9 .8-3.4 .2-5-1.4-5-2.6-3.5-2.9-1.1-1.9-1.8-5.2-.7 .7-1.6 4.7-1.4 1.7 0 2.5"/><path class="j21" d="M1098.8 939.9l0-2.5-.9-1.8-1.2 1 0 2.4"/><path class="j21" d="M1142.9 940.2l0-2.4-.7-1.9-.7 1 0 2.8"/><path class="j23" d="M1489.6 950l0-2.5-1.4-2.9-2-6.9-.5 .2-1.6 3.6-.9 .7-3.4 .2-5-1.4-5-2.6-3.4-2.9-1.2-1.8-1.8-5.2-.7 .7-1.6 4.6-1.3 1.7 0 2.4"/><path class="j29" d="M1109.8 947.5l0-2.4-1.6-4.2-.5-.1-.9 2.1-.7 .4-4-2.7-2.1-8.3-1.1 4-.7 .7-3.9-5.2-.9-3.8-1.6-17-1.8 16.2-4.6 4.2-1.5-4.5-.5-.1-1.4 5.4-.4 .8-.9 .3 0 2.4"/><path class="j21" d="M1527.6 941.5l0-2.5-4.5-3.9-1.8-.4-3.2 .5 0 2.4"/><path class="j23" d="M1487.1 950.6l0-2.4-1.3-2.9-2.1-6.7-.4 .1-1.6 3.5-.9 .7-3.5 .2-5-1.5-5-2.6-3.4-2.8-1.1-1.8-1.8-5.1-.7 .7-1.6 4.5-1.1 1.5 0 2.6"/><path class="j23" d="M1526.8 942.7l0-2.5-4.8-7.9-1.4-1.4-1.3 .1-3.5 3-2.2 1 0 2.4"/><path class="ww" d="M1136.3 933.2l1 .6 1.1 .5 1 .6 1.1 .5 1.1 .5 1.1 .5 0 6.3-1.1-.5-1.1-.5-1.1-.5-1-.5-1.1-.5-1-.5z"/><path class="j23" d="M1484.7 951.2l0-2.4-1.4-2.8-2.1-6.6-.4 .1-1.6 3.4-.9 .7-3.4 .1-5-1.4-5-2.6-3.4-2.8-1.2-1.8-1.8-4.9-.7 .6-1.6 4.4-1.1 1.4 0 2.6"/><path class="j21" d="M1135.1 941.8l0-2.5-.7-1.5-.7 .8 0 2.7"/><path class="j23" d="M1482 951.7l0-2.6-3.2-8.9-.5 .2-1.6 3.2-.9 .7-3.4 .1-5-1.4-5-2.6-3.4-2.8-1.1-1.7-1.9-4.9-.6 .6-1.6 4.3-1.2 1.4 0 2.5"/><path class="ww" d="M1404.3 948.2l7.4-2.4 7.4-2.5 7.3-2.5 7.4-2.4 0 8.1-7.4 1.8-7.3 1.8-7.4 1.8-7.4 1.8z"/><path class="j21" d="M1148.4 942.4l0-2.6-.5-1-.7 .8 0 2.4"/><path class="j23" d="M1479.5 952.3l0-2.5-3.2-8.8-.4 .2-1.6 3.2-.9 .6-3.4 .1-5-1.5-5-2.5-3.5-2.8-1.1-1.7-1.8-4.8-.7 .7-1.6 4.1-1.1 1.4 0 2.4"/><path class="ww" d="M1091.6 928.3l1 .8 1.1 .9 1.1 .8 1.2 .8 1.2 .8 1.2 .8 0 11.6-1.2-.7-1.2-.7-1.2-.8-1.1-.7-1.1-.8-1-.7z"/><path class="j21" d="M1103.8 943.5l0-2.6-.9-1.9-1.1 1.1 0 2.6"/><path class="j20" d="M1319 943l-.2-2.6-.5 0 0 2.4"/><path class="j24" d="M1156.2 948.8l0-2.6-1.2-4.4-.2-.2-1.3 2.9-3-2-1.6-7.6-1.4 5.5-3.1-1.6-1.4-8.1-1.6 6.9-3.2-1.3-1.3-6.7-1.4 6.4-3.2-.4-1.4-4.4-1.1 3.7-.7 .5 0 2.4"/><path class="ww" d="M1142.7 936.4l1.2 .6 1.2 .5 1.2 .4 1.3 .5 1.2 .5 1.3 .5 0 6.1-1.3-.5-1.2-.4-1.3-.5-1.2-.5-1.2-.4-1.2-.5z"/><path class="j29" d="M1142.1 962.2l0-2.4-2-1.8-.7-1.2-1.8-9-1.2 4-.6 .8-4.4-5.4-2-16.8-1.4 13.4-.7 2.3-3.1 .5-1-.2-1.8-10.3-1.3 8.5-.7 1.7-3.4-.6-.9-.8-1.6-8.8-1.6 7.1-.9 .4-3.2-2-.7-1-1.6-11.7-.5 .7-1.3 8.2-.9-.3-3.4-3.7-2.1-19-1.3 14.1-.7 2.6-4.4 2-1.8-7.1-1.8 8.8-.9 .7-2.7 .2 0 2.4"/><path class="j21" d="M1141.2 944.3l0-2.7-.7-1.8-.9 1.3 0 2.6"/><path class="j23" d="M1471.9 954l0-2.6-3-7.9-.4 .1-1.6 3-.9 .6-3.4-.1-5-1.5-5-2.5-3.4-2.7-1.2-1.6-1.8-4.5-.5 .1-1.5 3.9-1.2 1.5 0 2.5"/><path class="ww" d="M1314.5 943.3l1.2-.4 1.3-.4 1.2-.4 0 1.2-1.2 .5-1.3 .4-1.2 .5z"/><path class="ww" d="M1456.6 947.6l7.3-2.5 7.4-2.5 7.4-2.4 7.4-2.5 0 10.9-7.4 1.8-7.4 1.8-7.4 1.7-7.3 1.8z"/><path class="j21" d="M1154.1 944.7l0-2.8-.5-1.1-.7 .7 0 2.8"/><path class="j23" d="M1469.4 954.6l0-2.6-2.9-7.7-.5 .1-1.6 2.9-.9 .6-3.4-.1-5-1.5-5-2.5-3.4-2.7-1.1-1.6-1.9-4.4-.4 .2-1.6 3.7-1.1 1.4 0 2.5"/><path class="j21" d="M1093.3 945.6l0-2.4-1.4-2.7-.4 .1-.9 1.5 0 2.4"/><path class="j22" d="M1467 955.2l0-2.5-3-7.5-.4 .1-1.6 2.7-.9 .6-3.4-.1-5-1.6-5.1-2.5-3.4-2.6-1.1-1.6-1.8-4.3-.5 .2-1.6 3.6-1.1 1.4 0 2.4"/><path class="j21" d="M1313.4 945.6l0-2.7-.6-1-1.2 .5 0 2.4"/><path class="j22" d="M1464.5 955.8l0-2.4-2.9-7.4-.5 .1-1.6 2.6-.9 .6-3.4-.2-5-1.5-5-2.5-3.4-2.6-1.2-1.5-1.8-4.2-.4 .1-2.5 4.7 0 2.6"/><path class="ww" d="M1306.4 945.5l1.4-.4 1.4-.3 1.3-.4 1.4-.3 1.3-.4 1.3-.4 0 1.4-1.3 .5-1.3 .4-1.4 .4-1.3 .5-1.4 .4-1.4 .4z"/><path class="j20" d="M1111.1 946.5l0-2.5-.4-.5-.5 .2 0 2.4"/><path class="j22" d="M1446.6 950.1l0-2.4-4.3-2.2-3.2-2.5-2.7-5.4-.5 .1-2.5 4.5 0 2.5"/><path class="j21" d="M1147.1 946.7l0-2.8-.4-1-.7 .6 0 2.8"/><path class="ww" d="M1150.1 939.4l1.3 .4 1.4 .5 1.3 .4 1.4 .5 1.5 .4 1.4 .4 0 6-1.4-.4-1.5-.4-1.4-.4-1.3-.5-1.4-.4-1.3-.4z"/><path class="ww" d="M1098.4 933.2l1.3 .8 1.3 .7 1.4 .8 1.4 .8 1.5 .7 1.4 .8 0 11.3-1.4-.7-1.5-.7-1.4-.7-1.4-.7-1.3-.7-1.3-.8z"/><path class="j22" d="M1443 950.2l0-2.3-3.4-1.9-3-2.3-2.7-5.3-.5 .1-2.5 4.4 0 2.4"/><path class="j20" d="M1361 947.3l0-2.6-.7-.6-.7 .2 0 2.4"/><path class="j23" d="M1497.2 948.3l0-2.5-1.4-2.7-2.2-7.9-.5 .2-1.6 3.8-.9 .9-3.4 .2-5-1.3-5-2.7-3.4-3-3.2-7.3-2.1 5.7-1.3 1.8 0 2.6"/><path class="j21" d="M1307.4 947.9l0-2.5-1.3-2.5-1.4 1.4 0 2.5"/><path class="j22" d="M1439.6 950.5l0-2.4-5.7-3.9-2.5-5-.4 .1-2.5 4.3 0 2.3"/><path class="j23" d="M1494.5 948.8l0-2.6-1.4-3-2-7.1-.5 .1-1.6 3.8-.9 .8-3.4 .2-5-1.4-5-2.6-3.4-2.9-3.2-7.3-2 5.6-1.4 1.8 0 2.5"/><path class="j22" d="M1436.5 950.8l0-2.4-5-3.5-2.5-4.8-.7 .4-2.1 3.5 0 2.6"/><path class="j21" d="M1167.9 948.8l0-2.5-.7-1.7-.7 .9 0 2.7"/><path class="ww" d="M1297.4 947.4l1.6-.3 1.5-.3 1.5-.3 1.5-.3 1.4-.4 1.5-.3 0 1.8-1.5 .4-1.4 .4-1.5 .4-1.5 .4-1.5 .4-1.6 .3z"/><path class="ww" d="M1351.9 948.6l1.6-.6 1.6-.5 1.5-.6 1.5-.6 1.4-.5 1.4-.6 0 1.3-1.4 .7-1.4 .7-1.5 .7-1.5 .7-1.6 .6-1.6 .7z"/><path class="j22" d="M1433.3 951.1l0-2.4-4.3-3.1-2.5-4.7-.7 .4-2 3.4 0 2.5"/><path class="j21" d="M1098.3 949.3l0-2.5-.6-1-.7 .2 0 2.7"/><path class="ww" d="M1158.4 942l1.4 .4 1.5 .4 1.5 .4 1.6 .4 1.5 .4 1.6 .4 0 5.8-1.6-.3-1.5-.4-1.6-.3-1.5-.4-1.5-.4-1.4-.4z"/><path class="j20" d="M1152.8 949l0-2.4-.2 2.3"/><path class="j24" d="M1173.6 952.7l0-2.4-1.1-1.7-1.2-6.6-.2-.3-.2 .5-.9 3.5-3.4-1.7-1.4-6.9-1.4 7.2-.6 .4-2.5-.1-1.4-3.5-1.1 2.8 0 2.5"/><path class="ww" d="M1374.8 958.1l7.3-2.4 7.4-2.5 7.4-2.5 7.4-2.5 0 5.5-7.4 1.8-7.4 1.8-7.4 1.8-7.3 1.8z"/><path class="j20" d="M1118.4 949.4l0-2.4 0 2.4"/><path class="j22" d="M1430.4 951.5l0-2.4-3.8-2.8-2.5-4.6-.7 .4-2.1 3.3 0 2.4"/><path class="j21" d="M1300.7 950l0-2.5-1.8-3.7-1.6 2.2 0 2.6"/><path class="j21" d="M1117.3 950.6l0-2.4-1.4-3.2-1.3 1.9 0 2.6"/><path class="j22" d="M1427.5 951.9l0-2.4-3.6-2.7-2.3-4.3-.7 .4-2 3.2 0 2.3"/><path class="j21" d="M1175.6 950.3l0-2.5-.7-1.2-.5 .5 0 2.7"/><path class="j22" d="M1424.6 952.3l0-2.4-3.2-2.4-2.3-4.2-.7 .4-1.8 2.8 0 2.6"/><path class="j20" d="M1294 950.4l0-2.4 0 2.4"/><path class="ww" d="M1287.8 949l1.7-.2 1.6-.3 1.6-.2 1.6-.3 1.6-.3 1.5-.3 0 2.2-1.5 .4-1.6 .3-1.6 .4-1.6 .3-1.6 .3-1.7 .4z"/><path class="ww" d="M1106.7 937.8l1.6 .7 1.5 .7 1.6 .8 1.7 .7 1.6 .6 1.7 .7 0 11-1.7-.7-1.6-.6-1.7-.6-1.6-.7-1.5-.7-1.6-.6z"/><path class="j21" d="M1354.3 951l0-2.4-1.3-2.1-1.2 .9 0 2.6"/><path class="j21" d="M1161.6 951l0-2.5-.4-.8-.5 .2 0 2.7"/><path class="j23" d="M1180.6 953.9l0-2.7-1.1-5.2-.5 0-.9 2.3-2-1.9-1.6-.7-1.4-5.9-1.1 6.3-.5 .8-1.6 .3 0 2.4"/><path class="ww" d="M1167.5 944.4l1.5 .3 1.6 .4 1.7 .3 1.6 .4 1.7 .3 1.6 .3 0 5.8-1.6-.3-1.7-.3-1.6-.4-1.7-.3-1.6-.3-1.5-.4z"/><path class="j28" d="M1133.1 960.2l0-2.4-3.2-2.4-.9-1.3-1.8-8.1-1.2 4.1-.7 .9-4.3-4.2-2-14.9-1.9 11.7-4-2.1-.7-2.4-1.4-14.1-2 14.5-3.7-.7-.7-.7-1.8-13.8-1.3 11.7-.7 2.3-4.4 .5-1.8-7.1-2 7.7-4.6-.1-2-3.1-1.2 1.9 0 2.5"/><path class="j22" d="M1293.1 951.7l0-2.6-1.8-4.2-1.8 2.7 0 2.6"/><path class="j22" d="M1421.9 952.8l0-2.3-3-2.3-2.2-4-.7 .3-1.8 2.7 0 2.5"/><path class="j20" d="M1351.2 951.3l0-2.5-.7-.7-.9 .2 0 2.3"/><path class="ww" d="M1427 957.5l7.4-2.5 7.4-2.5 7.4-2.4 7.4-2.5 0 8.1-7.4 1.8-7.4 1.8-7.4 1.8-7.4 1.8z"/><path class="j21" d="M1183.7 952l0-2.5-.9-1.8-.7 .8 0 2.8"/><path class="j20" d="M1289.1 951.6l0-2.5-.5-.3-.2 2.5"/><path class="j23" d="M1120.4 956.6l0-2.4-2.1-1.6-1.6-4.8-1.8 3.2-4.1-1.9-.9-1.2-1.4-5.2-1.5 4.1-1 .3-4.1-1.5-1.8-4.9-1.6 3.8-2.9-.3 0 2.3"/><path class="j22" d="M1419 953.3l0-2.5-2.5-1.9-2.3-3.9-.7 .3-1.8 2.6 0 2.4"/><path class="j23" d="M1477.1 952.9l0-2.5-3.2-8.5-.5 .1-1.6 3.1-.9 .7-3.4 0-5-1.5-5-2.6-3.4-2.7-3.2-6.4-2.1 4.7-1.1 1.3 0 2.4"/><path class="j20" d="M1286.6 952.2l0-2.4-.7-.6-.4 .1 0 2.5"/><path class="j21" d="M1106.8 952.7l0-2.8-.7-1.1-.9 .6 0 2.6"/><path class="j22" d="M1416.3 953.8l0-2.4-2.3-1.8-2.2-3.8-.7 .3-1.6 2.3 0 2.6"/><path class="j20" d="M1126.3 952.6l0-2.4-.4-.4-.2 2.6"/><path class="j24" d="M1188.3 955.4l0-2.8-.4-1.3-.5-.3-.9 1-.5-.2-3.6-5-1.4-7.1-1.1 7.4-.7 1.2-1.6 .4 0 2.4"/><path class="ww" d="M1277.5 950.2l1.8-.2 1.7-.2 1.7-.2 1.8-.2 1.6-.2 1.7-.2 0 2.7-1.7 .3-1.6 .3-1.8 .2-1.7 .3-1.7 .3-1.8 .3z"/><path class="j21" d="M1170 952.8l0-2.4-.7-1-.4 .4 0 2.5"/><path class="j22" d="M1284.8 953.1l0-2.7-1.8-4.5-2 3.2 0 2.4"/><path class="ww" d="M1341.7 951.6l1.8-.5 1.7-.5 1.8-.5 1.6-.5 1.7-.5 1.6-.5 0 2-1.6 .6-1.7 .7-1.6 .6-1.8 .7-1.7 .6-1.8 .6z"/><path class="j23" d="M1474.6 953.5l0-2.4-3.2-8.4-.4 .1-1.6 3-1 .7-3.4-.1-5-1.5-5-2.5-3.4-2.7-3.2-6.3-1.8 4.2-1.1 1.5 0 2.6"/><path class="ww" d="M1177.2 946.4l1.7 .3 1.7 .3 1.8 .3 1.7 .3 1.7 .3 1.8 .3 0 5.6-1.8-.3-1.7-.2-1.7-.3-1.8-.3-1.7-.2-1.7-.3z"/><path class="j21" d="M1413.6 954.3l0-2.4-2.3-1.8-2-3.5-.7 .3-1.6 2.2 0 2.5"/><path class="j20" d="M1346.7 952.7l0-2.5-.2 2.4"/><path class="j21" d="M1281.2 953.2l0-2.5-.7-.8-.9 .2 0 2.5"/><path class="j22" d="M1198.5 956.4l0-2.5-1.2-3.9-1.3 1.2-2.1-2.3-2 .6-1.2-2.6-1.1 3.1 0 2.8"/><path class="j21" d="M1410.7 954.7l0-2.4-1.8-1.5-2.1-3.3-.7 .2-1.5 2.1 0 2.4"/><path class="j21" d="M1278.3 953.6l0-2.6-.7-.8-.9 .3 0 2.5"/><path class="j21" d="M1346.3 954.1l0-2.4-1.6-2.4-1.1 1.1 0 2.6"/><path class="j22" d="M1276.1 954.3l0-2.8-1.6-4.9-.5 .1-1.8 3.5 0 2.6"/><path class="ww" d="M1266.8 951.1l1.8-.1 1.8-.2 1.8-.1 1.8-.2 1.8-.1 1.7-.2 0 3.2-1.7 .2-1.8 .2-1.8 .3-1.8 .2-1.8 .2-1.8 .2z"/><path class="j21" d="M1407.8 955.1l0-2.4-1.4-1.2-2-3.2-.7 .2-1.4 1.8 0 2.6"/><path class="j24" d="M1191.9 955.3l0-2.5-1.3-2.3-1.6-9.7-1.2 6.6-.7 1-2.7 1.4 0 2.5"/><path class="ww" d="M1187.6 948.2l1.8 .2 1.8 .3 1.8 .2 1.8 .2 1.8 .2 1.9 .2 0 5.5-1.9-.2-1.8-.2-1.8-.2-1.8-.2-1.8-.2-1.8-.2z"/><path class="j20" d="M1177.9 954.4l-.2-2.5 0 2.4"/><path class="j21" d="M1343.6 954.6l0-2.6-1.3-2.6-1.6 1.5 0 2.5"/><path class="j21" d="M1272.9 954.7l0-2.4-1.1-1.6-1.1 .5 0 2.5"/><path class="j20" d="M1209.7 954.5l0-2.5-.5-.6-.7 .3 0 2.4"/><path class="ww" d="M1116.4 942l1.8 .7 1.7 .6 1.8 .7 1.9 .6 1.9 .6 1.9 .6 0 10.8-1.9-.6-1.9-.6-1.9-.6-1.8-.6-1.7-.6-1.8-.6z"/><path class="j21" d="M1269.8 955l0-2.4-1.1-1.6-1.2 .5 0 2.6"/><path class="j21" d="M1405.1 955.6l0-2.4-3.2-4.1-.7 .2-1.3 1.7 0 2.5"/><path class="j20" d="M1219.2 955.2l0-2.4-1-.9-.4 .1 0 2.6"/><path class="j24" d="M1202.3 956.3l0-2.4-2-3.6-1.6-8.6-1.4 8.3-1.1 1.3 0 2.5"/><path class="j22" d="M1267.1 955.5l0-2.7-1.8-6.5-2.1 4.8 0 2.8"/><path class="j20" d="M1340.9 955.1l0-2.5-.7-.6-.6 .2 0 2.4"/><path class="ww" d="M1255.6 951.6l1.9-.1 1.9 0 1.9-.1 1.8-.1 1.9-.1 1.8-.1 0 3.6-1.8 .2-1.9 .2-1.8 .1-1.9 .2-1.9 .2-1.9 .1z"/><path class="j21" d="M1402.2 956l0-2.4-2.8-3.7-.6 .2-1.4 1.6 0 2.4"/><path class="j21" d="M1263.7 955.7l0-2.6-1.3-1.8-1.4 .9 0 2.4"/><path class="ww" d="M1198.5 949.5l1.8 .2 1.9 .2 1.8 .2 1.9 .1 1.9 .2 1.9 .1 0 5.4-1.9-.1-1.9-.1-1.9-.2-1.8-.1-1.9-.2-1.8-.2z"/><path class="j21" d="M1260.4 955.9l0-2.5-1.4-2-1.4 1.1 0 2.3"/><path class="j23" d="M1211.8 957l0-2.4-2.1-3.8-1.6-7.1-1.8 8.4 0 2.7"/><path class="j21" d="M1134.8 956.1l0-2.5-.9-1.7-1 .7 0 2.7"/><path class="j22" d="M1461.8 956.3l0-2.6-2.7-6.9-.5 .1-1.5 2.6-1 .5-3.1-.2-4.1-1.2 0 2.4"/><path class="j21" d="M1115 956l0-2.7-.5-.5-.7 .2 0 2.5"/><path class="j23" d="M1257.7 956.4l0-2.6-2.1-8.4-1.8 6.6 0 2.9"/><path class="j21" d="M1338.7 955.8l0-2.6-.7-.7-.7 .3 0 2.4"/><path class="j21" d="M1399.5 956.5l0-2.4-2.5-3.3-1.8 1.4 0 2.6"/><path class="ww" d="M1244.2 951.7l1.9 0 2 0 1.9 0 1.9 0 1.9-.1 1.8 0 0 4.1-1.8 .1-1.9 .1-1.9 .2-1.9 0-2 .1-1.9 .1z"/><path class="ww" d="M1209.7 950.5l1.9 .2 1.9 .1 1.9 .1 1.9 .1 1.9 .1 1.9 .1 0 5.2-1.9 0-1.9-.1-1.9-.1-1.9-.1-1.9-.1-1.9-.1z"/><path class="j21" d="M1254.1 956.6l0-2.4-1.6-2.5-1.6 1.1 0 2.5"/><path class="j21" d="M1217.6 957.8l0-2.5-.9-2.7-.4-.5-1.2 .4-1.6-1.8-2.5 1.9 0 2.5"/><path class="j21" d="M1250.5 956.7l0-2.6-1.6-2.5-1.4 .6-2 0 0 2.5"/><path class="j22" d="M1239.9 957.2l0-2.6-2.7-6.8-.7 .7-1.1 4 0 2.9"/><path class="j24" d="M1220.3 957.3l0-2.6-1.3-3.2-1.4-7.9-2 9.1 0 2.6"/><path class="ww" d="M1330.2 954.3l2-.4 1.9-.4 2-.5 1.9-.4 1.8-.5 1.9-.5 0 2.8-1.9 .6-1.8 .6-1.9 .6-2 .5-1.9 .6-2 .5z"/><path class="j22" d="M1459.4 956.9l0-2.6-2.8-6.7-.4 .1-1.6 2.5-.9 .5-3-.1-3.4-1 0 2.4"/><path class="ww" d="M1232.7 951.5l1.9 .1 1.9 0 2 .1 1.9 0 1.9 0 1.9 0 0 4.6-1.9 .1-1.9 0-1.9 .1-2 0-1.9 0-1.9 .1z"/><path class="ww" d="M1345.2 968l7.4-2.4 7.4-2.5 7.4-2.5 7.4-2.5 0 2.8-7.4 1.7-7.4 1.8-7.4 1.8-7.4 1.8z"/><path class="ww" d="M1221.1 951.2l1.9 0 2 .1 1.9 0 1.9 .1 1.9 0 2 .1 0 5.1-2 0-1.9 0-1.9-.1-1.9 0-2 0-1.9-.1z"/><path class="j21" d="M1243.5 957.1l0-2.6-1.8-2.9-1.6 1.5 0 2.6"/><path class="j21" d="M1396.8 957l0-2.4-2.3-3-1.8 1.3 0 2.5"/><path class="j23" d="M1247.8 957.2l0-2.7-2.1-8.3-2 6.8 0 2.6"/><path class="j21" d="M1226.7 958.2l0-2.6-2.1-.8-2.3-3.6-2.5 1.8 0 2.5"/><path class="j21" d="M1337.1 956.8l0-2.5-1.1-1.8-1.1 .6 0 2.7"/><path class="j22" d="M1208.2 957.1l0-2.5-1.4-4.5-1.1 1.1-1.8-1.2-2.6 1.7-1.5-1.6-.5 .7 0 2.7"/><path class="j21" d="M1232.5 957.4l0-2.5-2.1-3.5-1.5 .8-1.4-.8-.5 .2-.4 .7 0 2.7"/><path class="j24" d="M1228.7 957.4l0-2.7-2.1-10.7-1.3 7.2-1.2 2 0 2.4"/><path class="j22" d="M1456.9 957.5l0-2.5-2.7-6.5-2.7 2.8-3 0-2.7-.7 0 2.4"/><path class="j21" d="M1394.1 957.5l0-2.4-2-2.7-1.6 1 0 2.7"/><path class="j22" d="M1335.6 957.7l0-2.5-2.1-5.6-2.2 3.8 0 2.6"/><path class="j22" d="M1237.7 957.9l0-2.4-1.8-4.6-1.9 .5-1.8 1.9 0 2.4"/><path class="j22" d="M1454.5 958.1l0-2.4-2.8-6.4-2.7 2.8-5-.6 0 2.3"/><path class="j21" d="M1391.4 958l0-2.4-1.8-2.4-1.6 1 0 2.5"/><path class="j21" d="M1332.2 958l0-2.5-.9-1.3-1.1 .5 0 2.4"/><path class="ww" d="M1127.4 945.8l1.9 .6 2 .6 2 .6 2 .5 2.1 .6 2.1 .5 0 10.6-2.1-.5-2.1-.6-2-.5-2-.5-2-.6-1.9-.5z"/><path class="j22" d="M1451.8 958.6l0-2.6-2.5-5.9-2.8 2.7-4.3-.5 0 2.4"/><path class="j21" d="M1144.5 958.4l0-2.6-.7-1.1-.9 .6 0 2.5"/><path class="j21" d="M1388.7 958.5l0-2.4-1.6-2.1-1.3 .7 0 2.6"/><path class="j21" d="M1126.1 958.9l0-2.8-.9-1.7-1.4 1.2 0 2.4"/><path class="j21" d="M1330 958.7l0-2.4-1.1-1.7-1.2 .8 0 2.3"/><path class="ww" d="M1397.5 967.4l7.4-2.5 7.4-2.5 7.4-2.5 7.3-2.4 0 5.4-7.3 1.8-7.4 1.8-7.4 1.8-7.4 1.8z"/><path class="j22" d="M1449.3 959.2l0-2.6-2.5-5.7-2.5 2.5-4.1-.3 0 2.4"/><path class="j21" d="M1386 959l0-2.5-1.3-1.6-1.4 .5 0 2.5"/><path class="j21" d="M1327.5 959.2l0-2.6-1.1-1.7-1.1 1 0 2.4"/><path class="j22" d="M1446.8 959.8l0-2.5-2.5-5.6-2.5 2.4-3.6-.2 0 2.4"/><path class="ww" d="M1317.6 956.7l2.2-.4 2.1-.4 2.1-.3 2.1-.4 2-.4 2.1-.5 0 3.5-2.1 .6-2 .5-2.1 .5-2.1 .5-2.1 .5-2.2 .5z"/><path class="j21" d="M1383.4 959.6l0-2.6-1.2-1.3-1.1 .3 0 2.6"/><path class="j28" d="M1150.3 963.9l0-2.4-2.1-6.9-.4 0-1.2 2.4-.4-.1-4.6-7.3-1.8-15.6-1.6 14.2-.7 2-2.2 1.3-1.9 .4-1.8-5.8-1.8 5.9-4.3-.8-1.8-3.9-1.6 2.7 0 2.5"/><path class="j23" d="M1326.7 960.5l0-2.6-2.8-8.1-1.8 4.8-.9 1.3 0 2.4"/><path class="j22" d="M1444.4 960.4l0-2.4-2.5-5.4-2.5 2.2-3.2-.1 0 2.3"/><path class="j21" d="M1380.9 960.2l0-2.4-1.1-1.3-1.2 .3 0 2.4"/><path class="j21" d="M1322.8 960.5l0-2.5-1.3-2.2-1.2 1.1 0 2.6"/><path class="j22" d="M1441.7 960.9l0-2.6-2.3-4.9-2.5 2.1-2.9-.1 0 2.3"/><path class="j21" d="M1155.2 961.1l0-2.4-1.4-2.2-1.1 1.2 0 2.4"/><path class="j20" d="M1378.2 960.7l0-2.5-.9-.9-.9 .1 0 2.5"/><path class="j21" d="M1320.4 961.1l0-2.4-1.4-2.3-1.4 1.2 0 2.4"/><path class="ww" d="M1139.5 949.2l2.1 .6 2.1 .5 2.2 .5 2.2 .5 2.2 .5 2.2 .4 0 10.4-2.2-.5-2.2-.4-2.2-.5-2.2-.4-2.1-.5-2.1-.5z"/><path class="j22" d="M1439.2 961.5l0-2.5-2.2-4.8-2.5 2.1-2.5-.2 0 2.4"/><path class="j21" d="M1136.7 961.6l0-2.7-.9-1.9-1.6 1.2 0 2.4"/><path class="j20" d="M1375.5 961.2l0-2.4-.7-.6-.6-.1 0 2.5"/><path class="j21" d="M1317.7 961.6l0-2.6-1.2-2.1-1.3 1.1 0 2.6"/><path class="j22" d="M1436.8 962.1l0-2.4-2.3-4.7-2.3 1.9-2.5-.1 0 2.4"/><path class="j20" d="M1372.6 961.6l-.2-2.6-.5-.1 0 2.4"/><path class="j23" d="M1316.4 962.7l0-2.5-2.5-8.3-2.1 4.9-.9 1.2 0 2.5"/><path class="j20" d="M1166 962.3l0-2.4-.5-.5-.4 0 0 2.6"/><path class="j28" d="M1159.8 966.2l0-2.7-.7-1.4-.7-.4-1.1 .8-.9-.4-2.5-3.2-1.8-3.6-2.1-18.2-2 14.2-2.8 2.5-1.6 .8-1.8-4.7-1.6 4.9-.4 .4-1.2 0 0 2.4"/><path class="j21" d="M1434.1 962.6l0-2.6-2.1-4.1-2.2 1.7-2.3-.1 0 2.4"/><path class="ww" d="M1304.1 958.5l2.3-.3 2.3-.3 2.2-.2 2.3-.3 2.2-.4 2.2-.3 0 4.2-2.2 .5-2.2 .4-2.3 .5-2.2 .4-2.3 .4-2.3 .4z"/><path class="j21" d="M1313.2 963l0-2.4-2-4-1.6 2.4 0 2.5"/><path class="j21" d="M1431.6 963.2l0-2.5-2-4-2.3 1.6-1.8 0 0 2.4"/><path class="j21" d="M1310.1 963.3l0-2.4-1.6-3-1.4 1.6 0 2.6"/><path class="j21" d="M1429.2 963.8l0-2.4-2.1-3.9-2.3 1.6-1.3 0 0 2.4"/><path class="j21" d="M1307.4 963.8l0-2.5-1.6-3-1.6 1.8 0 2.5"/><path class="ww" d="M1152.5 952.2l2.3 .5 2.3 .4 2.3 .5 2.4 .4 2.3 .4 2.4 .4 0 10.1-2.4-.3-2.3-.4-2.4-.4-2.3-.4-2.3-.4-2.3-.4z"/><path class="j20" d="M1177.3 963.7l-.2-2.5-.3 2.3"/><path class="j22" d="M1305.2 964.5l0-2.5-2.3-7.1-1.8 3.7-1.2 1.3 0 2.5"/><path class="j21" d="M1147.1 964.3l0-2.5-.7-1-.9 .3 0 2.5"/><path class="j27" d="M1172.2 968.1l0-2.5-.7-1.4-.6-.5-1.4 .6-.9-.8-1.8-2.8-2.3-5-2.3-15.3-1.8 15.5-.5 1.2-1.1 1.1-3 .8 0 2.4"/><path class="j21" d="M1426.5 964.3l0-2.6-1.8-3.4-2.1 1.4-1.1 .1 0 2.4"/><path class="j22" d="M1303.4 965.4l0-2.5-3-7.1-2.3 5.1 0 2.4"/><path class="j21" d="M1424 964.9l0-2.5-1.8-3.2-3 1.4 0 2.3"/><path class="ww" d="M1289.8 959.8l2.4-.2 2.4-.2 2.4-.2 2.4-.2 2.3-.3 2.4-.2 0 5-2.4 .4-2.3 .4-2.4 .4-2.4 .3-2.4 .4-2.4 .3z"/><path class="j24" d="M1163.4 966.1l0-2.5-1.4-2.5-1.8-9.4-1.4 3.6-2.5-2.3-2.5 1.6-1.8-5.4-1.6 7.1-.7 1-1.6 .2 0 2.4"/><path class="j21" d="M1299.1 965.3l0-2.7-1.6-3.4-1.8 2.1 0 2.6"/><path class="j21" d="M1421.6 965.5l0-2.4-1.9-3.1-2.5 1.3 0 2.4"/><path class="j20" d="M1189.5 965.5l0-2.4-.7-.7-.7 .1 0 2.4"/><path class="j21" d="M1296.4 965.8l0-2.5-1.8-3.9-1.8 2.3 0 2.6"/><path class="j22" d="M1293.5 966.2l0-2.8-2.1-6-2 3-1.4 1.1 0 2.5"/><path class="ww" d="M1368 977.3l7.4-2.5 7.3-2.5 7.4-2.5 7.4-2.4 0 2.7-7.4 1.8-7.4 1.8-7.3 1.8-7.4 1.8z"/><path class="ww" d="M1166.5 954.8l2.4 .4 2.4 .4 2.5 .3 2.4 .4 2.5 .3 2.5 .3 0 9.9-2.5-.3-2.5-.3-2.4-.3-2.5-.3-2.4-.3-2.4-.4z"/><path class="j27" d="M1180.5 968.2l0-2.4-2.2-3.5-2.1-5.4-1.8-13.7-2 15.4-1 1.7-2 1 0 2.4"/><path class="j21" d="M1418.9 966l0-2.6-1.6-2.6-2.3 1.1 0 2.5"/><path class="j23" d="M1292.2 967.2l0-2.6-1.4-3.4-1.8-6.9-.5 .4-1.3 5.8-.9 2 0 2.3"/><path class="j21" d="M1416.4 966.6l0-2.5-1.6-2.5-2 1 0 2.5"/><path class="j22" d="M1287.7 967l0-2.5-2.1-4.4-2 2.9 0 2.4"/><path class="j24" d="M1175.1 967.6l0-2.4-.9-2.2-1.8-9.6-1.4 2.9-2-1.1-3.2 3.6-2-3-1.6 4.1 0 2.5"/><path class="ww" d="M1274.8 960.6l2.6-.1 2.5-.1 2.5-.1 2.5-.2 2.4-.1 2.5-.2 0 5.9-2.5 .3-2.4 .3-2.5 .3-2.5 .3-2.5 .2-2.6 .3z"/><path class="j23" d="M1186.6 969.1l0-2.4-1.8-6.4-.4-.4-1.4 .9-2.3-4-.6 .3-2.5 3.4-1.6-2.2-.5 0-1.4 3.3 0 2.4"/><path class="j22" d="M1284.7 967.4l0-2.4-2-4.7-.5 .1-1.5 2.7 0 2.7"/><path class="j21" d="M1413.7 967.1l0-2.6-1.3-2-2.1 .8 0 2.4"/><path class="j22" d="M1281.6 967.7l0-2.5-2.3-6.6-.4 .1-1.8 2.7-1.6 1.4 0 2.5"/><path class="ww" d="M1181.2 956.9l2.5 .3 2.5 .3 2.5 .3 2.6 .2 2.5 .3 2.6 .2 0 9.7-2.6-.2-2.5-.2-2.6-.3-2.5-.2-2.5-.2-2.5-.3z"/><path class="j28" d="M1190.7 969.2l0-2.5-1.8-3.1-.9-3.4-1.8-17.4-2.1 16.5-1.1 2.2-2.1 1.3 0 2.4"/><path class="j24" d="M1280.1 968.7l0-2.4-1.4-3.9-2.1-9.1-1.8 8.2-.9 2.2 0 2.5"/><path class="j21" d="M1411.3 967.7l0-2.5-1.4-1.9-1.8 .7 0 2.4"/><path class="j22" d="M1275.5 968.5l0-2.5-2.2-5.3-.5 .1-1.8 3.2 0 2.6"/><path class="j23" d="M1198.2 970.6l-.3-3-.9-1-1.3 .1-.9-.8-3.7-7.9-1.8 1.7-1.4-2.1-.4 .1-1.8 5.4 0 2.4"/><path class="j22" d="M1272.2 968.7l0-2.6-2.3-5.3-2.3 3.5 0 2.6"/><path class="ww" d="M1259.4 960.9l2.6 0 2.6 0 2.6-.1 2.5 0 2.6-.1 2.5-.1 0 6.8-2.5 .2-2.6 .2-2.5 .2-2.6 .2-2.6 .2-2.6 .2z"/><path class="j23" d="M1269 969l0-2.5-2.2-7.6-.7-1-3.7 6.1 0 2.4"/><path class="j26" d="M1204.9 970.1l0-2.4-1.6-2.7-1.6-4.9-2-11.3-1.8 12.6-.7 2.2-.7 .6 0 2.5"/><path class="j21" d="M1408.6 968.2l0-2.6-1.2-1.5-1.6 .5 0 2.5"/><path class="ww" d="M1196.4 958.5l2.6 .2 2.6 .2 2.6 .2 2.6 .2 2.6 .1 2.6 .2 0 9.4-2.6-.1-2.6-.1-2.6-.1-2.6-.2-2.6-.1-2.6-.2z"/><path class="j24" d="M1267 969.8l0-2.5-3.2-13.2-.4 .4-1.4 7.2-1.1 2.9 0 2.7"/><path class="j25" d="M1217.7 970.6l0-2.6-2-4.7-2.7-10.7-2.1 10.3-.9 2.2 0 2.3"/><path class="j22" d="M1262.5 969.6l0-2.6-2.5-6-.4 .1-2.3 3.9 0 2.5"/><path class="j21" d="M1406.1 968.8l0-2.4-1.1-1.5-1.4 .4 0 2.5"/><path class="j23" d="M1211.7 971.3l0-2.6-.9-1.3-2.3-.9-3.2-7.3-2.7 4.1-.7 .1-1.1-1.2-.7 .2-.9 1.4 0 2.4"/><path class="j25" d="M1255.5 969.9l0-2.6-1.1-3.4-1.4-8.6-.6-1.9-3 11.2 0 2.9"/><path class="j22" d="M1259.1 969.8l0-2.4-2.7-6.5-1.8 3.3-1.1 .9 0 2.4"/><path class="ww" d="M1243.7 960.8l2.6 0 2.6 .1 2.7 0 2.6 0 2.6 .1 2.6-.1 0 7.7-2.6 .1-2.6 .1-2.6 .2-2.7 .1-2.6 .1-2.6 0z"/><path class="j24" d="M1200.6 970l0-2.4-2.7-13-4.3 7.5-2.1 1.8 0 2.4"/><path class="ww" d="M1212 959.6l2.6 .1 2.7 .1 2.6 .2 2.6 0 2.7 .1 2.6 .1 0 9.2-2.6 0-2.7-.1-2.6 0-2.6-.1-2.7-.1-2.6-.1z"/><path class="j26" d="M1229.9 970.7l0-2.6-1.8-4.7-2.1-12.8-.6 1.7-1.6 10.8-.9 2.3 0 2.5"/><path class="ww" d="M1227.8 960.2l2.7 0 2.6 .2 2.7 .1 2.6 .1 2.6 .1 2.7 .1 0 8.4-2.7 .1-2.6 .1-2.6 0-2.7 0-2.6 0-2.7 0z"/><path class="j23" d="M1224.5 971.7l0-2.5-2-.7-.9-1-3.2-7.6-3 4.7-.6 .1-1.6-1-1 .6 0 2.4"/><path class="j21" d="M1403.4 969.3l0-2.5-.9-1.1-1.1 .2 0 2.6"/><path class="j22" d="M1248.6 970.3l0-2.6-2.7-6.9-3 4.7 0 2.5"/><path class="j22" d="M1245 970.4l0-2.5-3-7.3-1.6 1.7-1.6 .5-.9 .9-.7 1 0 2.6"/><path class="j20" d="M1184 969.6l0-2.5-.5-.3-.4 0 0 2.5"/><path class="j23" d="M1253.5 970.7l0-2.6-3.4-10.4-.7 .8-1.5 5.1-1.4 1.9 0 2.4"/><path class="j23" d="M1234 970.8l0-2.4-3.5-8.2-2.5 4.3-2-.5-1.1 .6 0 2.5"/><path class="j25" d="M1213.9 970.6l0-2.6-2.9-15-2.5 8.4-1.2 2.2-1.3 1.2 0 2.6"/><path class="j27" d="M1241.6 970.7l0-2.4-1.4-5.1-1.8-15.7-2 14.9-1.2 3 0 2.7"/><path class="j23" d="M1239.6 971.5l0-2.5-5-8.6-3.4 5.2 0 2.4"/><path class="j20" d="M1400.7 969.8l0-2.6-.7-.6-.9 0 0 2.5"/><path class="j24" d="M1226.8 971l0-2.8-2.1-9.2-.9-2-.9 1.1-2.5 5.8-1.4 1.5 0 2.5"/><path class="j20" d="M1398 970.3l0-2.5-.4-.4-.7-.1 0 2.5"/><path class="j20" d="M1395.4 970.8l-.3-2.6-.4-.1 0 2.4"/>
</g>
<path d="M883 773L883 1043.4L1186.3 1166.4L1580 1070.8M883 1043.4l-8.8 -3.6M883 908.2l-8.8 -3.6M883 773l-8.8 -3.6M883 1043.4l-8.3 2M958.8 1074.2l-8.3 2M1034.7 1104.9l-8.3 2M1110.5 1135.7l-8.3 2M1186.3 1166.4l-8.3 2M1186.3 1166.4l8.8 3.6M1284.7 1142.5l8.8 3.6M1383.2 1118.6l8.8 3.6M1481.6 1094.7l8.8 3.6M1580 1070.8l8.8 3.6" stroke="#333" stroke-width="1.15" fill="none"/>
<text transform="matrix(1.07 0 0 1 867.5 783)" class="t3" text-anchor="end">2</text>
<text transform="matrix(1.07 0 0 1 867.5 918.2)" class="t3" text-anchor="end">0</text>
<text transform="matrix(1.07 0 0 1 867.5 1053.4)" class="t3" text-anchor="end">-2</text>
<text transform="matrix(1.07 0 0 1 867 1085.9)" class="t3" text-anchor="end">40</text>
<text transform="matrix(1.07 0 0 1 942.8 1116.7)" class="t3" text-anchor="end">20</text>
<text transform="matrix(1.07 0 0 1 1018.7 1147.4)" class="t3" text-anchor="end">0</text>
<text transform="matrix(1.07 0 0 1 1094.5 1178.2)" class="t3" text-anchor="end">-20</text>
<text transform="matrix(1.07 0 0 1 1170.3 1208.9)" class="t3" text-anchor="end">-40</text>
<text transform="matrix(1.07 0 0 1 1199.3 1208.9)" class="t3">-40</text>
<text transform="matrix(1.07 0 0 1 1297.7 1185)" class="t3">-20</text>
<text transform="matrix(1.07 0 0 1 1396.2 1161.1)" class="t3">0</text>
<text transform="matrix(1.07 0 0 1 1494.6 1137.2)" class="t3">20</text>
<text transform="matrix(1.07 0 0 1 1593 1113.3)" class="t3">40</text>
<text x="1160.4" y="669.8" class="pl3" textLength="54.5" lengthAdjust="spacingAndGlyphs">(d)</text>
<text x="1231.6" y="663.7" class="ti"><tspan font-style="italic">E</tspan></text>
<text x="1247.6" y="668.2" class="tis" font-style="italic">f</text>
<text x="1265.1" y="663.7" class="ti" textLength="89.4" lengthAdjust="spacingAndGlyphs">=0.1eV</text>
<text x="881.9" y="735.2" class="x10" textLength="79.2" lengthAdjust="spacingAndGlyphs">x 10</text>
<text x="963.3" y="696.6" class="m4" textLength="23.6" lengthAdjust="spacingAndGlyphs">-4</text>
<text x="976.1" y="730.6" class="cm" textLength="45.3" lengthAdjust="spacingAndGlyphs">C/m</text>
<text x="1021.5" y="718.7" class="sq">2</text>
<path d="M164.2 1607.3L164.2 1336.4M262.8 1583.5L262.8 1312.6M361.3 1559.7L361.3 1288.8M459.9 1535.9L459.9 1265M535.5 1567L535.5 1296.1M611.1 1598L611.1 1327.1M686.7 1629.1L686.7 1358.2M762.3 1660.1L762.3 1389.2M65.6 1360.2L459.9 1265L762.3 1389.2M65.6 1631.1L459.9 1535.9L762.3 1660.1M466.6 1731.5L164.2 1607.3M292.4 1724.2L686.7 1629.1M565.1 1707.7L262.8 1583.5M216.8 1693.2L611.1 1598M663.7 1683.9L361.3 1559.7M141.2 1662.2L535.5 1567" stroke="#333" stroke-width="1.5" stroke-dasharray="1.5 5.3" fill="none"/>
<polygon points="368.6,1618.5 757.9,1524.5 459.3,1401.8 70,1495.8" fill="#acf78e"/>
<path stroke="#f4fff2" stroke-width="1.8" d="M514.7 1522.8l6.4 -1.5M516.4 1521.1l6.4 -1.5M517.8 1519.6l6.4 -1.5M519 1518.1l6.4 -1.5M519.8 1516.6l6.4 -1.5M520.5 1515.2l6.4 -1.5M520.9 1513.9l6.4 -1.5M521.2 1512.6l6.4 -1.5M521.3 1511.3l6.4 -1.5M521.3 1510.1l6.4 -1.5M521.1 1508.9l6.4 -1.5M520.8 1507.8l6.4 -1.5M520.5 1506.6l6.4 -1.5M520 1505.5l6.4 -1.5M519.4 1504.4l6.4 -1.5M518.7 1503.4l6.4 -1.5M320 1494.1l-4.9 -2M517.9 1502.3l6.4 -1.5M321.7 1493.2l-4.9 -2M517 1501.3l6.4 -1.5M323.5 1492.3l-4.9 -2M516 1500.3l6.4 -1.5M325.3 1491.4l-4.9 -2M515 1499.3l6.4 -1.5M327.2 1490.6l-4.9 -2M513.8 1498.4l6.4 -1.5M329.1 1489.8l-4.9 -2M512.6 1497.4l6.4 -1.5M331.1 1489l-4.9 -2M511.4 1496.5l6.4 -1.5M333.2 1488.2l-4.9 -2M510 1495.6l6.4 -1.5M335.3 1487.5l-4.9 -2M508.6 1494.7l6.4 -1.5M337.5 1486.8l-4.9 -2M507.1 1493.8l6.4 -1.5M339.7 1486.1l-4.9 -2M505.5 1493l6.4 -1.5M342 1485.4l-4.9 -2M503.8 1492.1l6.4 -1.5M344.3 1484.8l-4.9 -2M502.1 1491.3l6.4 -1.5M346.7 1484.1l-4.9 -2M500.3 1490.5l6.4 -1.5M349.1 1483.5l-4.9 -2M498.5 1489.7l6.4 -1.5M351.6 1482.9l-4.9 -2M496.6 1489l6.4 -1.5M354.2 1482.4l-4.9 -2M494.6 1488.2l6.4 -1.5M356.8 1481.8l-4.9 -2M492.5 1487.5l6.4 -1.5M359.4 1481.3l-4.9 -2M490.4 1486.8l6.4 -1.5M362.1 1480.8l-4.9 -2M488.2 1486.1l6.4 -1.5M364.9 1480.3l-4.9 -2M485.9 1485.4l6.4 -1.5M367.7 1479.9l-4.9 -2M483.5 1484.7l6.4 -1.5M370.6 1479.5l-4.9 -2M481.1 1484.1l6.4 -1.5M373.5 1479.1l-4.9 -2M478.6 1483.4l6.4 -1.5M376.5 1478.7l-4.9 -2M476 1482.8l6.4 -1.5M379.5 1478.3l-4.9 -2M473.4 1482.2l6.4 -1.5M382.6 1478l-4.9 -2M470.7 1481.7l6.4 -1.5M385.8 1477.7l-4.9 -2M467.8 1481.1l6.4 -1.5M389 1477.4l-4.9 -2M464.9 1480.6l6.4 -1.5M392.4 1477.2l-4.9 -2M462 1480.1l6.4 -1.5M395.7 1477l-4.9 -2M458.9 1479.6l6.4 -1.5M399.2 1476.8l-4.9 -2M455.7 1479.1l6.4 -1.5M402.7 1476.6l-4.9 -2M452.4 1478.7l6.4 -1.5M518.8 1524.3l-4.9 -2M406.3 1476.5l-4.9 -2M449 1478.3l6.4 -1.5M520.1 1523.2l-4.9 -2M410 1476.4l-4.9 -2M445.5 1477.9l6.4 -1.5M521.4 1522.1l-4.9 -2M413.8 1476.3l-4.9 -2M441.9 1477.5l6.4 -1.5M522.5 1521l-4.9 -2M417.7 1476.3l-4.9 -2M438.1 1477.2l6.4 -1.5M523.5 1519.8l-4.9 -2M421.7 1476.4l-4.9 -2M434.2 1476.9l6.4 -1.5M524.4 1518.6l-4.9 -2M425.9 1476.5l-4.9 -2M430.2 1476.6l6.4 -1.5M525.2 1517.3l-4.9 -2M430.1 1476.6l-4.9 -2M426 1476.4l6.4 -1.5M525.9 1516l-4.9 -2M434.5 1476.8l-4.9 -2M421.5 1476.3l6.4 -1.5M526.4 1514.6l-4.9 -2M439.1 1477.1l-4.9 -2M416.9 1476.2l6.4 -1.5M526.8 1513.1l-4.9 -2M443.9 1477.4l-4.9 -2M412 1476.1l6.4 -1.5M527 1511.6l-4.9 -2M448.8 1477.9l-4.9 -2M406.8 1476.1l6.4 -1.5M526.9 1509.9l-4.9 -2M454.1 1478.4l-4.9 -2M401.3 1476.2l6.4 -1.5M526.6 1508.2l-4.9 -2M459.7 1479.1l-4.9 -2M395.3 1476.4l6.4 -1.5M525.9 1506.3l-4.9 -2M465.8 1480l-4.9 -2M388.7 1476.8l6.4 -1.5M524.8 1504.2l-4.9 -2M472.5 1481.2l-4.9 -2M381.3 1477.4l6.4 -1.5M523 1501.9l-4.9 -2M315.5 1493.3l6.4 -1.5M480.3 1482.7l-4.9 -2M372.5 1478.3l6.4 -1.5M520.1 1499.1l-4.9 -2M320.5 1490.8l6.4 -1.5M490.4 1485.3l-4.9 -2M360.6 1479.9l6.4 -1.5M515 1495.4l-4.9 -2M328.6 1487.6l6.4 -1.5M551.4 1528.7l6.4 -1.5M553.5 1527l6.4 -1.5M555.2 1525.3l6.4 -1.5M556.7 1523.7l6.4 -1.5M558 1522.2l6.4 -1.5M559.1 1520.7l6.4 -1.5M560 1519.3l6.4 -1.5M560.7 1517.9l6.4 -1.5M561.3 1516.5l6.4 -1.5M561.7 1515.1l6.4 -1.5M562 1513.8l6.4 -1.5M562.2 1512.6l6.4 -1.5M562.3 1511.3l6.4 -1.5M562.3 1510.1l6.4 -1.5M562.2 1508.9l6.4 -1.5M562 1507.7l6.4 -1.5M561.7 1506.5l6.4 -1.5M561.3 1505.4l6.4 -1.5M560.8 1504.3l6.4 -1.5M560.3 1503.2l6.4 -1.5M559.7 1502.1l6.4 -1.5M559 1501l6.4 -1.5M558.2 1500l6.4 -1.5M284.6 1487.6l-4.9 -2M557.4 1498.9l6.4 -1.5M286.3 1486.7l-4.9 -2M556.5 1497.9l6.4 -1.5M288.1 1485.8l-4.9 -2M555.6 1496.9l6.4 -1.5M289.8 1484.9l-4.9 -2M554.6 1495.9l6.4 -1.5M291.7 1484l-4.9 -2M553.5 1494.9l6.4 -1.5M293.6 1483.2l-4.9 -2M552.4 1494l6.4 -1.5M295.5 1482.4l-4.9 -2M551.2 1493l6.4 -1.5M297.4 1481.6l-4.9 -2M550 1492.1l6.4 -1.5M299.4 1480.8l-4.9 -2M548.7 1491.2l6.4 -1.5M301.5 1480l-4.9 -2M547.4 1490.3l6.4 -1.5M303.6 1479.3l-4.9 -2M546 1489.4l6.4 -1.5M305.7 1478.6l-4.9 -2M544.5 1488.5l6.4 -1.5M307.9 1477.8l-4.9 -2M543 1487.6l6.4 -1.5M310.1 1477.1l-4.9 -2M541.4 1486.8l6.4 -1.5M312.3 1476.5l-4.9 -2M539.8 1485.9l6.4 -1.5M314.6 1475.8l-4.9 -2M538.2 1485.1l6.4 -1.5M317 1475.1l-4.9 -2M536.5 1484.3l6.4 -1.5M319.3 1474.5l-4.9 -2M534.7 1483.5l6.4 -1.5M321.7 1473.9l-4.9 -2M532.9 1482.7l6.4 -1.5M324.2 1473.3l-4.9 -2M531 1481.9l6.4 -1.5M326.7 1472.7l-4.9 -2M529.1 1481.1l6.4 -1.5M329.2 1472.1l-4.9 -2M527.1 1480.4l6.4 -1.5M331.7 1471.6l-4.9 -2M525.1 1479.6l6.4 -1.5M334.3 1471l-4.9 -2M523 1478.9l6.4 -1.5M337 1470.5l-4.9 -2M520.9 1478.2l6.4 -1.5M339.7 1470l-4.9 -2M518.8 1477.5l6.4 -1.5M342.4 1469.5l-4.9 -2M516.5 1476.8l6.4 -1.5M345.1 1469l-4.9 -2M514.3 1476.1l6.4 -1.5M347.9 1468.6l-4.9 -2M511.9 1475.4l6.4 -1.5M350.8 1468.1l-4.9 -2M509.6 1474.7l6.4 -1.5M353.7 1467.7l-4.9 -2M507.1 1474.1l6.4 -1.5M356.6 1467.3l-4.9 -2M504.6 1473.5l6.4 -1.5M359.5 1466.9l-4.9 -2M502.1 1472.8l6.4 -1.5M362.6 1466.5l-4.9 -2M499.5 1472.2l6.4 -1.5M365.6 1466.2l-4.9 -2M496.8 1471.6l6.4 -1.5M368.7 1465.9l-4.9 -2M494.1 1471.1l6.4 -1.5M371.8 1465.5l-4.9 -2M491.3 1470.5l6.4 -1.5M375 1465.2l-4.9 -2M488.5 1470l6.4 -1.5M378.3 1465l-4.9 -2M485.6 1469.4l6.4 -1.5M381.6 1464.7l-4.9 -2M482.6 1468.9l6.4 -1.5M384.9 1464.5l-4.9 -2M479.6 1468.4l6.4 -1.5M388.3 1464.3l-4.9 -2M476.5 1467.9l6.4 -1.5M391.7 1464.1l-4.9 -2M473.3 1467.5l6.4 -1.5M395.2 1463.9l-4.9 -2M470.1 1467l6.4 -1.5M398.8 1463.8l-4.9 -2M466.8 1466.6l6.4 -1.5M557.2 1528.8l-4.9 -2M402.4 1463.6l-4.9 -2M463.4 1466.2l6.4 -1.5M558.5 1527.7l-4.9 -2M406.1 1463.5l-4.9 -2M459.9 1465.8l6.4 -1.5M559.8 1526.6l-4.9 -2M409.9 1463.5l-4.9 -2M456.3 1465.4l6.4 -1.5M560.9 1525.5l-4.9 -2M413.7 1463.4l-4.9 -2M452.7 1465.1l6.4 -1.5M562.1 1524.4l-4.9 -2M417.6 1463.4l-4.9 -2M448.9 1464.7l6.4 -1.5M563.1 1523.2l-4.9 -2M421.6 1463.5l-4.9 -2M445 1464.4l6.4 -1.5M564 1522l-4.9 -2M425.6 1463.5l-4.9 -2M441.1 1464.2l6.4 -1.5M564.9 1520.7l-4.9 -2M429.8 1463.6l-4.9 -2M437 1463.9l6.4 -1.5M565.7 1519.4l-4.9 -2M434 1463.8l-4.9 -2M432.8 1463.7l6.4 -1.5M566.4 1518.1l-4.9 -2M438.4 1463.9l-4.9 -2M428.4 1463.5l6.4 -1.5M566.9 1516.7l-4.9 -2M442.9 1464.2l-4.9 -2M423.9 1463.4l6.4 -1.5M567.4 1515.3l-4.9 -2M447.5 1464.4l-4.9 -2M419.2 1463.3l6.4 -1.5M567.7 1513.8l-4.9 -2M452.2 1464.8l-4.9 -2M414.4 1463.2l6.4 -1.5M567.9 1512.3l-4.9 -2M457.1 1465.2l-4.9 -2M409.3 1463.2l6.4 -1.5M568 1510.7l-4.9 -2M462.1 1465.7l-4.9 -2M404 1463.2l6.4 -1.5M567.8 1509.1l-4.9 -2M467.4 1466.2l-4.9 -2M398.5 1463.4l6.4 -1.5M567.5 1507.3l-4.9 -2M472.9 1466.9l-4.9 -2M392.6 1463.5l6.4 -1.5M566.9 1505.5l-4.9 -2M478.8 1467.7l-4.9 -2M386.3 1463.8l6.4 -1.5M566 1503.5l-4.9 -2M485 1468.6l-4.9 -2M379.6 1464.2l6.4 -1.5M564.7 1501.4l-4.9 -2M491.6 1469.7l-4.9 -2M372.2 1464.8l6.4 -1.5M563 1499l-4.9 -2M279.2 1487.2l6.4 -1.5M499 1471.1l-4.9 -2M364 1465.5l6.4 -1.5M560.6 1496.4l-4.9 -2M283.7 1484.9l6.4 -1.5M507.4 1473l-4.9 -2M354.3 1466.6l6.4 -1.5M557.1 1493.4l-4.9 -2M289.6 1482.3l6.4 -1.5M518.1 1475.8l-4.9 -2M341.7 1468.4l6.4 -1.5M551.3 1489.4l-4.9 -2M298.3 1478.9l6.4 -1.5M399 1602.5l6.4 -1.5M397.1 1601.7l6.4 -1.5M395.2 1601l6.4 -1.5M393.3 1600.2l6.4 -1.5M391.4 1599.4l6.4 -1.5M389.5 1598.6l6.4 -1.5M387.6 1597.9l6.4 -1.5M385.7 1597.1l6.4 -1.5M383.8 1596.3l6.4 -1.5M382 1595.5l6.4 -1.5M380.1 1594.8l6.4 -1.5M378.2 1594l6.4 -1.5M381.9 1593.4l-4.9 -2M404.6 1602.7l-4.9 -2M376.3 1593.2l6.4 -1.5M384.4 1592.8l-4.9 -2M407.1 1602.2l-4.9 -2M386.9 1592.2l-4.9 -2M409.6 1601.6l-4.9 -2M389.3 1591.6l-4.9 -2M412 1601l-4.9 -2M391.8 1591.1l-4.9 -2M414.5 1600.4l-4.9 -2M394.3 1590.5l-4.9 -2M416.9 1599.8l-4.9 -2M396.7 1589.9l-4.9 -2M419.4 1599.2l-4.9 -2M399.2 1589.3l-4.9 -2M421.9 1598.6l-4.9 -2M401.7 1588.7l-4.9 -2M424.3 1598l-4.9 -2M404.1 1588.1l-4.9 -2M426.8 1597.4l-4.9 -2M406.6 1587.5l-4.9 -2M429.3 1596.8l-4.9 -2M409.1 1586.9l-4.9 -2M431.7 1596.2l-4.9 -2M411.5 1586.3l-4.9 -2M434.2 1595.6l-4.9 -2M414 1585.7l-4.9 -2M436.7 1595l-4.9 -2M416.4 1585.1l-4.9 -2M439.1 1594.4l-4.9 -2M418.9 1584.5l-4.9 -2M441.6 1593.8l-4.9 -2M421.4 1583.9l-4.9 -2M444.1 1593.2l-4.9 -2M423.8 1583.3l-4.9 -2M446.5 1592.6l-4.9 -2M426.3 1582.7l-4.9 -2M449 1592l-4.9 -2M428.8 1582.1l-4.9 -2M451.4 1591.4l-4.9 -2M431.2 1581.5l-4.9 -2M453.9 1590.8l-4.9 -2M433.7 1580.9l-4.9 -2M456.4 1590.3l-4.9 -2M436.2 1580.3l-4.9 -2M458.8 1589.7l-4.9 -2M438.6 1579.7l-4.9 -2M461.3 1589.1l-4.9 -2M441.1 1579.2l-4.9 -2M463.8 1588.5l-4.9 -2M443.6 1578.6l-4.9 -2M466.2 1587.9l-4.9 -2M446 1578l-4.9 -2M468.7 1587.3l-4.9 -2M448.5 1577.4l-4.9 -2M471.2 1586.7l-4.9 -2M450.9 1576.8l-4.9 -2M473.6 1586.1l-4.9 -2M453.4 1576.2l-4.9 -2M476.1 1585.5l-4.9 -2M455.9 1575.6l-4.9 -2M478.6 1584.9l-4.9 -2M458.3 1575l-4.9 -2M481 1584.3l-4.9 -2M460.8 1574.4l-4.9 -2M483.5 1583.7l-4.9 -2M463.3 1573.8l-4.9 -2M485.9 1583.1l-4.9 -2M465.7 1573.2l-4.9 -2M488.4 1582.5l-4.9 -2M468.2 1572.6l-4.9 -2M490.9 1581.9l-4.9 -2M470.7 1572l-4.9 -2M493.3 1581.3l-4.9 -2M473.1 1571.4l-4.9 -2M495.8 1580.7l-4.9 -2M475.6 1570.8l-4.9 -2M498.3 1580.1l-4.9 -2M478.1 1570.2l-4.9 -2M500.7 1579.5l-4.9 -2M480.5 1569.6l-4.9 -2M503.2 1578.9l-4.9 -2M483 1569l-4.9 -2M505.7 1578.4l-4.9 -2M485.4 1568.4l-4.9 -2M508.1 1577.8l-4.9 -2M487.9 1567.8l-4.9 -2M510.6 1577.2l-4.9 -2M490.4 1567.3l-4.9 -2M513.1 1576.6l-4.9 -2M492.8 1566.7l-4.9 -2M515.5 1576l-4.9 -2M495.3 1566.1l-4.9 -2M518 1575.4l-4.9 -2M497.8 1565.5l-4.9 -2M520.5 1574.8l-4.9 -2M500.2 1564.9l-4.9 -2M522.9 1574.2l-4.9 -2M502.7 1564.3l-4.9 -2M525.4 1573.6l-4.9 -2M505.2 1563.7l-4.9 -2M527.8 1573l-4.9 -2M507.6 1563.1l-4.9 -2M530.3 1572.4l-4.9 -2M510.1 1562.5l-4.9 -2M532.8 1571.8l-4.9 -2M512.6 1561.9l-4.9 -2M535.2 1571.2l-4.9 -2M515 1561.3l-4.9 -2M537.7 1570.6l-4.9 -2M517.5 1560.7l-4.9 -2M540.2 1570l-4.9 -2M519.9 1560.1l-4.9 -2M542.6 1569.4l-4.9 -2M522.4 1559.5l-4.9 -2M545.1 1568.8l-4.9 -2M524.9 1558.9l-4.9 -2M547.6 1568.2l-4.9 -2M527.3 1558.3l-4.9 -2M550 1567.6l-4.9 -2"/>
<path stroke="#7ee3ec" stroke-width=".85" d="M514.7 1522.8l6.4 -1.5M516.4 1521.1l6.4 -1.5M517.8 1519.6l6.4 -1.5M519 1518.1l6.4 -1.5M519.8 1516.6l6.4 -1.5M520.5 1515.2l6.4 -1.5M520.9 1513.9l6.4 -1.5M521.2 1512.6l6.4 -1.5M521.3 1511.3l6.4 -1.5M521.3 1510.1l6.4 -1.5M521.1 1508.9l6.4 -1.5M520.8 1507.8l6.4 -1.5M520.5 1506.6l6.4 -1.5M520 1505.5l6.4 -1.5M519.4 1504.4l6.4 -1.5M518.7 1503.4l6.4 -1.5M320 1494.1l-4.9 -2M517.9 1502.3l6.4 -1.5M321.7 1493.2l-4.9 -2M517 1501.3l6.4 -1.5M323.5 1492.3l-4.9 -2M516 1500.3l6.4 -1.5M325.3 1491.4l-4.9 -2M515 1499.3l6.4 -1.5M327.2 1490.6l-4.9 -2M513.8 1498.4l6.4 -1.5M329.1 1489.8l-4.9 -2M512.6 1497.4l6.4 -1.5M331.1 1489l-4.9 -2M511.4 1496.5l6.4 -1.5M333.2 1488.2l-4.9 -2M510 1495.6l6.4 -1.5M335.3 1487.5l-4.9 -2M508.6 1494.7l6.4 -1.5M337.5 1486.8l-4.9 -2M507.1 1493.8l6.4 -1.5M339.7 1486.1l-4.9 -2M505.5 1493l6.4 -1.5M342 1485.4l-4.9 -2M503.8 1492.1l6.4 -1.5M344.3 1484.8l-4.9 -2M502.1 1491.3l6.4 -1.5M346.7 1484.1l-4.9 -2M500.3 1490.5l6.4 -1.5M349.1 1483.5l-4.9 -2M498.5 1489.7l6.4 -1.5M351.6 1482.9l-4.9 -2M496.6 1489l6.4 -1.5M354.2 1482.4l-4.9 -2M494.6 1488.2l6.4 -1.5M356.8 1481.8l-4.9 -2M492.5 1487.5l6.4 -1.5M359.4 1481.3l-4.9 -2M490.4 1486.8l6.4 -1.5M362.1 1480.8l-4.9 -2M488.2 1486.1l6.4 -1.5M364.9 1480.3l-4.9 -2M485.9 1485.4l6.4 -1.5M367.7 1479.9l-4.9 -2M483.5 1484.7l6.4 -1.5M370.6 1479.5l-4.9 -2M481.1 1484.1l6.4 -1.5M373.5 1479.1l-4.9 -2M478.6 1483.4l6.4 -1.5M376.5 1478.7l-4.9 -2M476 1482.8l6.4 -1.5M379.5 1478.3l-4.9 -2M473.4 1482.2l6.4 -1.5M382.6 1478l-4.9 -2M470.7 1481.7l6.4 -1.5M385.8 1477.7l-4.9 -2M467.8 1481.1l6.4 -1.5M389 1477.4l-4.9 -2M464.9 1480.6l6.4 -1.5M392.4 1477.2l-4.9 -2M462 1480.1l6.4 -1.5M395.7 1477l-4.9 -2M458.9 1479.6l6.4 -1.5M399.2 1476.8l-4.9 -2M455.7 1479.1l6.4 -1.5M402.7 1476.6l-4.9 -2M452.4 1478.7l6.4 -1.5M518.8 1524.3l-4.9 -2M406.3 1476.5l-4.9 -2M449 1478.3l6.4 -1.5M520.1 1523.2l-4.9 -2M410 1476.4l-4.9 -2M445.5 1477.9l6.4 -1.5M521.4 1522.1l-4.9 -2M413.8 1476.3l-4.9 -2M441.9 1477.5l6.4 -1.5M522.5 1521l-4.9 -2M417.7 1476.3l-4.9 -2M438.1 1477.2l6.4 -1.5M523.5 1519.8l-4.9 -2M421.7 1476.4l-4.9 -2M434.2 1476.9l6.4 -1.5M524.4 1518.6l-4.9 -2M425.9 1476.5l-4.9 -2M430.2 1476.6l6.4 -1.5M525.2 1517.3l-4.9 -2M430.1 1476.6l-4.9 -2M426 1476.4l6.4 -1.5M525.9 1516l-4.9 -2M434.5 1476.8l-4.9 -2M421.5 1476.3l6.4 -1.5M526.4 1514.6l-4.9 -2M439.1 1477.1l-4.9 -2M416.9 1476.2l6.4 -1.5M526.8 1513.1l-4.9 -2M443.9 1477.4l-4.9 -2M412 1476.1l6.4 -1.5M527 1511.6l-4.9 -2M448.8 1477.9l-4.9 -2M406.8 1476.1l6.4 -1.5M526.9 1509.9l-4.9 -2M454.1 1478.4l-4.9 -2M401.3 1476.2l6.4 -1.5M526.6 1508.2l-4.9 -2M459.7 1479.1l-4.9 -2M395.3 1476.4l6.4 -1.5M525.9 1506.3l-4.9 -2M465.8 1480l-4.9 -2M388.7 1476.8l6.4 -1.5M524.8 1504.2l-4.9 -2M472.5 1481.2l-4.9 -2M381.3 1477.4l6.4 -1.5M523 1501.9l-4.9 -2M315.5 1493.3l6.4 -1.5M480.3 1482.7l-4.9 -2M372.5 1478.3l6.4 -1.5M520.1 1499.1l-4.9 -2M320.5 1490.8l6.4 -1.5M490.4 1485.3l-4.9 -2M360.6 1479.9l6.4 -1.5M515 1495.4l-4.9 -2M328.6 1487.6l6.4 -1.5M551.4 1528.7l6.4 -1.5M553.5 1527l6.4 -1.5M555.2 1525.3l6.4 -1.5M556.7 1523.7l6.4 -1.5M558 1522.2l6.4 -1.5M559.1 1520.7l6.4 -1.5M560 1519.3l6.4 -1.5M560.7 1517.9l6.4 -1.5M561.3 1516.5l6.4 -1.5M561.7 1515.1l6.4 -1.5M562 1513.8l6.4 -1.5M562.2 1512.6l6.4 -1.5M562.3 1511.3l6.4 -1.5M562.3 1510.1l6.4 -1.5M562.2 1508.9l6.4 -1.5M562 1507.7l6.4 -1.5M561.7 1506.5l6.4 -1.5M561.3 1505.4l6.4 -1.5M560.8 1504.3l6.4 -1.5M560.3 1503.2l6.4 -1.5M559.7 1502.1l6.4 -1.5M559 1501l6.4 -1.5M558.2 1500l6.4 -1.5M284.6 1487.6l-4.9 -2M557.4 1498.9l6.4 -1.5M286.3 1486.7l-4.9 -2M556.5 1497.9l6.4 -1.5M288.1 1485.8l-4.9 -2M555.6 1496.9l6.4 -1.5M289.8 1484.9l-4.9 -2M554.6 1495.9l6.4 -1.5M291.7 1484l-4.9 -2M553.5 1494.9l6.4 -1.5M293.6 1483.2l-4.9 -2M552.4 1494l6.4 -1.5M295.5 1482.4l-4.9 -2M551.2 1493l6.4 -1.5M297.4 1481.6l-4.9 -2M550 1492.1l6.4 -1.5M299.4 1480.8l-4.9 -2M548.7 1491.2l6.4 -1.5M301.5 1480l-4.9 -2M547.4 1490.3l6.4 -1.5M303.6 1479.3l-4.9 -2M546 1489.4l6.4 -1.5M305.7 1478.6l-4.9 -2M544.5 1488.5l6.4 -1.5M307.9 1477.8l-4.9 -2M543 1487.6l6.4 -1.5M310.1 1477.1l-4.9 -2M541.4 1486.8l6.4 -1.5M312.3 1476.5l-4.9 -2M539.8 1485.9l6.4 -1.5M314.6 1475.8l-4.9 -2M538.2 1485.1l6.4 -1.5M317 1475.1l-4.9 -2M536.5 1484.3l6.4 -1.5M319.3 1474.5l-4.9 -2M534.7 1483.5l6.4 -1.5M321.7 1473.9l-4.9 -2M532.9 1482.7l6.4 -1.5M324.2 1473.3l-4.9 -2M531 1481.9l6.4 -1.5M326.7 1472.7l-4.9 -2M529.1 1481.1l6.4 -1.5M329.2 1472.1l-4.9 -2M527.1 1480.4l6.4 -1.5M331.7 1471.6l-4.9 -2M525.1 1479.6l6.4 -1.5M334.3 1471l-4.9 -2M523 1478.9l6.4 -1.5M337 1470.5l-4.9 -2M520.9 1478.2l6.4 -1.5M339.7 1470l-4.9 -2M518.8 1477.5l6.4 -1.5M342.4 1469.5l-4.9 -2M516.5 1476.8l6.4 -1.5M345.1 1469l-4.9 -2M514.3 1476.1l6.4 -1.5M347.9 1468.6l-4.9 -2M511.9 1475.4l6.4 -1.5M350.8 1468.1l-4.9 -2M509.6 1474.7l6.4 -1.5M353.7 1467.7l-4.9 -2M507.1 1474.1l6.4 -1.5M356.6 1467.3l-4.9 -2M504.6 1473.5l6.4 -1.5M359.5 1466.9l-4.9 -2M502.1 1472.8l6.4 -1.5M362.6 1466.5l-4.9 -2M499.5 1472.2l6.4 -1.5M365.6 1466.2l-4.9 -2M496.8 1471.6l6.4 -1.5M368.7 1465.9l-4.9 -2M494.1 1471.1l6.4 -1.5M371.8 1465.5l-4.9 -2M491.3 1470.5l6.4 -1.5M375 1465.2l-4.9 -2M488.5 1470l6.4 -1.5M378.3 1465l-4.9 -2M485.6 1469.4l6.4 -1.5M381.6 1464.7l-4.9 -2M482.6 1468.9l6.4 -1.5M384.9 1464.5l-4.9 -2M479.6 1468.4l6.4 -1.5M388.3 1464.3l-4.9 -2M476.5 1467.9l6.4 -1.5M391.7 1464.1l-4.9 -2M473.3 1467.5l6.4 -1.5M395.2 1463.9l-4.9 -2M470.1 1467l6.4 -1.5M398.8 1463.8l-4.9 -2M466.8 1466.6l6.4 -1.5M557.2 1528.8l-4.9 -2M402.4 1463.6l-4.9 -2M463.4 1466.2l6.4 -1.5M558.5 1527.7l-4.9 -2M406.1 1463.5l-4.9 -2M459.9 1465.8l6.4 -1.5M559.8 1526.6l-4.9 -2M409.9 1463.5l-4.9 -2M456.3 1465.4l6.4 -1.5M560.9 1525.5l-4.9 -2M413.7 1463.4l-4.9 -2M452.7 1465.1l6.4 -1.5M562.1 1524.4l-4.9 -2M417.6 1463.4l-4.9 -2M448.9 1464.7l6.4 -1.5M563.1 1523.2l-4.9 -2M421.6 1463.5l-4.9 -2M445 1464.4l6.4 -1.5M564 1522l-4.9 -2M425.6 1463.5l-4.9 -2M441.1 1464.2l6.4 -1.5M564.9 1520.7l-4.9 -2M429.8 1463.6l-4.9 -2M437 1463.9l6.4 -1.5M565.7 1519.4l-4.9 -2M434 1463.8l-4.9 -2M432.8 1463.7l6.4 -1.5M566.4 1518.1l-4.9 -2M438.4 1463.9l-4.9 -2M428.4 1463.5l6.4 -1.5M566.9 1516.7l-4.9 -2M442.9 1464.2l-4.9 -2M423.9 1463.4l6.4 -1.5M567.4 1515.3l-4.9 -2M447.5 1464.4l-4.9 -2M419.2 1463.3l6.4 -1.5M567.7 1513.8l-4.9 -2M452.2 1464.8l-4.9 -2M414.4 1463.2l6.4 -1.5M567.9 1512.3l-4.9 -2M457.1 1465.2l-4.9 -2M409.3 1463.2l6.4 -1.5M568 1510.7l-4.9 -2M462.1 1465.7l-4.9 -2M404 1463.2l6.4 -1.5M567.8 1509.1l-4.9 -2M467.4 1466.2l-4.9 -2M398.5 1463.4l6.4 -1.5M567.5 1507.3l-4.9 -2M472.9 1466.9l-4.9 -2M392.6 1463.5l6.4 -1.5M566.9 1505.5l-4.9 -2M478.8 1467.7l-4.9 -2M386.3 1463.8l6.4 -1.5M566 1503.5l-4.9 -2M485 1468.6l-4.9 -2M379.6 1464.2l6.4 -1.5M564.7 1501.4l-4.9 -2M491.6 1469.7l-4.9 -2M372.2 1464.8l6.4 -1.5M563 1499l-4.9 -2M279.2 1487.2l6.4 -1.5M499 1471.1l-4.9 -2M364 1465.5l6.4 -1.5M560.6 1496.4l-4.9 -2M283.7 1484.9l6.4 -1.5M507.4 1473l-4.9 -2M354.3 1466.6l6.4 -1.5M557.1 1493.4l-4.9 -2M289.6 1482.3l6.4 -1.5M518.1 1475.8l-4.9 -2M341.7 1468.4l6.4 -1.5M551.3 1489.4l-4.9 -2M298.3 1478.9l6.4 -1.5M399 1602.5l6.4 -1.5M397.1 1601.7l6.4 -1.5M395.2 1601l6.4 -1.5M393.3 1600.2l6.4 -1.5M391.4 1599.4l6.4 -1.5M389.5 1598.6l6.4 -1.5M387.6 1597.9l6.4 -1.5M385.7 1597.1l6.4 -1.5M383.8 1596.3l6.4 -1.5M382 1595.5l6.4 -1.5M380.1 1594.8l6.4 -1.5M378.2 1594l6.4 -1.5M381.9 1593.4l-4.9 -2M404.6 1602.7l-4.9 -2M376.3 1593.2l6.4 -1.5M384.4 1592.8l-4.9 -2M407.1 1602.2l-4.9 -2M386.9 1592.2l-4.9 -2M409.6 1601.6l-4.9 -2M389.3 1591.6l-4.9 -2M412 1601l-4.9 -2M391.8 1591.1l-4.9 -2M414.5 1600.4l-4.9 -2M394.3 1590.5l-4.9 -2M416.9 1599.8l-4.9 -2M396.7 1589.9l-4.9 -2M419.4 1599.2l-4.9 -2M399.2 1589.3l-4.9 -2M421.9 1598.6l-4.9 -2M401.7 1588.7l-4.9 -2M424.3 1598l-4.9 -2M404.1 1588.1l-4.9 -2M426.8 1597.4l-4.9 -2M406.6 1587.5l-4.9 -2M429.3 1596.8l-4.9 -2M409.1 1586.9l-4.9 -2M431.7 1596.2l-4.9 -2M411.5 1586.3l-4.9 -2M434.2 1595.6l-4.9 -2M414 1585.7l-4.9 -2M436.7 1595l-4.9 -2M416.4 1585.1l-4.9 -2M439.1 1594.4l-4.9 -2M418.9 1584.5l-4.9 -2M441.6 1593.8l-4.9 -2M421.4 1583.9l-4.9 -2M444.1 1593.2l-4.9 -2M423.8 1583.3l-4.9 -2M446.5 1592.6l-4.9 -2M426.3 1582.7l-4.9 -2M449 1592l-4.9 -2M428.8 1582.1l-4.9 -2M451.4 1591.4l-4.9 -2M431.2 1581.5l-4.9 -2M453.9 1590.8l-4.9 -2M433.7 1580.9l-4.9 -2M456.4 1590.3l-4.9 -2M436.2 1580.3l-4.9 -2M458.8 1589.7l-4.9 -2M438.6 1579.7l-4.9 -2M461.3 1589.1l-4.9 -2M441.1 1579.2l-4.9 -2M463.8 1588.5l-4.9 -2M443.6 1578.6l-4.9 -2M466.2 1587.9l-4.9 -2M446 1578l-4.9 -2M468.7 1587.3l-4.9 -2M448.5 1577.4l-4.9 -2M471.2 1586.7l-4.9 -2M450.9 1576.8l-4.9 -2M473.6 1586.1l-4.9 -2M453.4 1576.2l-4.9 -2M476.1 1585.5l-4.9 -2M455.9 1575.6l-4.9 -2M478.6 1584.9l-4.9 -2M458.3 1575l-4.9 -2M481 1584.3l-4.9 -2M460.8 1574.4l-4.9 -2M483.5 1583.7l-4.9 -2M463.3 1573.8l-4.9 -2M485.9 1583.1l-4.9 -2M465.7 1573.2l-4.9 -2M488.4 1582.5l-4.9 -2M468.2 1572.6l-4.9 -2M490.9 1581.9l-4.9 -2M470.7 1572l-4.9 -2M493.3 1581.3l-4.9 -2M473.1 1571.4l-4.9 -2M495.8 1580.7l-4.9 -2M475.6 1570.8l-4.9 -2M498.3 1580.1l-4.9 -2M478.1 1570.2l-4.9 -2M500.7 1579.5l-4.9 -2M480.5 1569.6l-4.9 -2M503.2 1578.9l-4.9 -2M483 1569l-4.9 -2M505.7 1578.4l-4.9 -2M485.4 1568.4l-4.9 -2M508.1 1577.8l-4.9 -2M487.9 1567.8l-4.9 -2M510.6 1577.2l-4.9 -2M490.4 1567.3l-4.9 -2M513.1 1576.6l-4.9 -2M492.8 1566.7l-4.9 -2M515.5 1576l-4.9 -2M495.3 1566.1l-4.9 -2M518 1575.4l-4.9 -2M497.8 1565.5l-4.9 -2M520.5 1574.8l-4.9 -2M500.2 1564.9l-4.9 -2M522.9 1574.2l-4.9 -2M502.7 1564.3l-4.9 -2M525.4 1573.6l-4.9 -2M505.2 1563.7l-4.9 -2M527.8 1573l-4.9 -2M507.6 1563.1l-4.9 -2M530.3 1572.4l-4.9 -2M510.1 1562.5l-4.9 -2M532.8 1571.8l-4.9 -2M512.6 1561.9l-4.9 -2M535.2 1571.2l-4.9 -2M515 1561.3l-4.9 -2M537.7 1570.6l-4.9 -2M517.5 1560.7l-4.9 -2M540.2 1570l-4.9 -2M519.9 1560.1l-4.9 -2M542.6 1569.4l-4.9 -2M522.4 1559.5l-4.9 -2M545.1 1568.8l-4.9 -2M524.9 1558.9l-4.9 -2M547.6 1568.2l-4.9 -2M527.3 1558.3l-4.9 -2M550 1567.6l-4.9 -2"/>
<path stroke="#e6e65a" stroke-width=".9" d="M317.9 1526.9l-4.9 -2M492.9 1534.2l6.4 -1.5M342.5 1537l-4.9 -2M460.9 1542l6.4 -1.5M312.7 1523.2l-4.9 -2M501 1531l6.4 -1.5M352.6 1539.6l-4.9 -2M449 1543.6l6.4 -1.5M309.8 1520.4l-4.9 -2M506 1528.6l6.4 -1.5M360.3 1541.2l-4.9 -2M440.2 1544.5l6.4 -1.5M308.1 1518.1l-4.9 -2M509.7 1526.5l6.4 -1.5M367 1542.3l-4.9 -2M432.8 1545l6.4 -1.5M306.9 1516l-4.9 -2M512.5 1524.6l6.4 -1.5M373.1 1543.2l-4.9 -2M426.2 1545.4l6.4 -1.5M306.3 1514.1l-4.9 -2M378.7 1543.9l-4.9 -2M420.2 1545.6l6.4 -1.5M305.9 1512.4l-4.9 -2M384 1544.4l-4.9 -2M414.7 1545.7l6.4 -1.5M305.9 1510.8l-4.9 -2M389 1544.9l-4.9 -2M409.5 1545.7l6.4 -1.5M306 1509.2l-4.9 -2M393.7 1545.2l-4.9 -2M404.6 1545.7l6.4 -1.5M306.4 1507.8l-4.9 -2M398.3 1545.5l-4.9 -2M400 1545.6l6.4 -1.5M306.9 1506.4l-4.9 -2M402.7 1545.7l-4.9 -2M395.5 1545.4l6.4 -1.5M307.6 1505l-4.9 -2M407 1545.8l-4.9 -2M391.3 1545.2l6.4 -1.5M308.4 1503.8l-4.9 -2M411.1 1545.9l-4.9 -2M387.3 1544.9l6.4 -1.5M309.3 1502.5l-4.9 -2M415.1 1546l-4.9 -2M383.4 1544.7l6.4 -1.5M310.3 1501.3l-4.9 -2M419 1546l-4.9 -2M379.6 1544.3l6.4 -1.5M311.5 1500.2l-4.9 -2M422.8 1545.9l-4.9 -2M376 1544l6.4 -1.5M312.7 1499.1l-4.9 -2M426.5 1545.8l-4.9 -2M372.5 1543.6l6.4 -1.5M314 1498l-4.9 -2M430.1 1545.7l-4.9 -2M369.1 1543.2l6.4 -1.5M315.4 1497l-4.9 -2M433.6 1545.6l-4.9 -2M365.8 1542.7l6.4 -1.5M316.9 1496l-4.9 -2M437.1 1545.4l-4.9 -2M362.6 1542.3l6.4 -1.5M318.4 1495l-4.9 -2M440.5 1545.1l-4.9 -2M359.5 1541.8l6.4 -1.5M443.8 1544.9l-4.9 -2M356.5 1541.3l6.4 -1.5M447 1544.6l-4.9 -2M353.6 1540.7l6.4 -1.5M450.2 1544.3l-4.9 -2M350.8 1540.2l6.4 -1.5M453.3 1544l-4.9 -2M348.1 1539.6l6.4 -1.5M456.3 1543.6l-4.9 -2M345.4 1539l6.4 -1.5M459.3 1543.3l-4.9 -2M342.9 1538.4l6.4 -1.5M462.3 1542.8l-4.9 -2M340.4 1537.8l6.4 -1.5M465.1 1542.4l-4.9 -2M338 1537.1l6.4 -1.5M467.9 1542l-4.9 -2M335.6 1536.5l6.4 -1.5M470.7 1541.5l-4.9 -2M333.3 1535.8l6.4 -1.5M473.4 1541l-4.9 -2M331.1 1535.1l6.4 -1.5M476.1 1540.5l-4.9 -2M329 1534.4l6.4 -1.5M478.7 1539.9l-4.9 -2M326.9 1533.6l6.4 -1.5M481.2 1539.4l-4.9 -2M324.9 1532.9l6.4 -1.5M483.7 1538.8l-4.9 -2M323 1532.1l6.4 -1.5M486.1 1538.2l-4.9 -2M321.2 1531.3l6.4 -1.5M488.5 1537.6l-4.9 -2M319.4 1530.5l6.4 -1.5M490.8 1536.9l-4.9 -2M317.7 1529.7l6.4 -1.5M493.1 1536.2l-4.9 -2M316 1528.9l6.4 -1.5M495.3 1535.5l-4.9 -2M314.4 1528l6.4 -1.5M497.5 1534.8l-4.9 -2M312.9 1527.1l6.4 -1.5M499.6 1534.1l-4.9 -2M311.5 1526.3l6.4 -1.5M501.7 1533.3l-4.9 -2M310.1 1525.4l6.4 -1.5M503.7 1532.5l-4.9 -2M308.9 1524.4l6.4 -1.5M505.6 1531.7l-4.9 -2M307.6 1523.5l6.4 -1.5M507.5 1530.9l-4.9 -2M306.5 1522.5l6.4 -1.5M509.3 1530l-4.9 -2M305.5 1521.6l6.4 -1.5M511.1 1529.2l-4.9 -2M304.5 1520.6l6.4 -1.5M512.8 1528.2l-4.9 -2M303.6 1519.5l6.4 -1.5M514.4 1527.3l-4.9 -2M302.8 1518.5l6.4 -1.5M515.9 1526.3l-4.9 -2M302.1 1517.4l6.4 -1.5M517.4 1525.3l-4.9 -2M301.5 1516.3l6.4 -1.5M301 1515.2l6.4 -1.5M300.6 1514.1l6.4 -1.5M300.4 1512.9l6.4 -1.5M300.2 1511.7l6.4 -1.5M300.2 1510.5l6.4 -1.5M300.3 1509.2l6.4 -1.5M300.6 1507.9l6.4 -1.5M301 1506.6l6.4 -1.5M301.7 1505.2l6.4 -1.5M302.5 1503.8l6.4 -1.5M303.6 1502.3l6.4 -1.5M305.1 1500.7l6.4 -1.5M306.8 1499l6.4 -1.5M309 1497.3l6.4 -1.5M311.8 1495.4l6.4 -1.5M281.5 1532.9l-4.9 -2M523.2 1542.9l6.4 -1.5M314.7 1546.6l-4.9 -2M479.8 1553.4l6.4 -1.5M275.8 1528.9l-4.9 -2M531.9 1539.6l6.4 -1.5M325.4 1549.3l-4.9 -2M467.2 1555.2l6.4 -1.5M272.3 1525.9l-4.9 -2M537.8 1536.9l6.4 -1.5M333.8 1551.2l-4.9 -2M457.5 1556.3l6.4 -1.5M269.8 1523.3l-4.9 -2M542.3 1534.6l6.4 -1.5M341.2 1552.6l-4.9 -2M449.3 1557.1l6.4 -1.5M268.1 1521l-4.9 -2M545.9 1532.5l6.4 -1.5M347.9 1553.7l-4.9 -2M441.9 1557.6l6.4 -1.5M266.8 1518.8l-4.9 -2M548.9 1530.6l6.4 -1.5M354 1554.7l-4.9 -2M435.2 1558l6.4 -1.5M265.9 1516.9l-4.9 -2M359.9 1555.4l-4.9 -2M428.9 1558.3l6.4 -1.5M265.3 1515l-4.9 -2M365.4 1556.1l-4.9 -2M423 1558.5l6.4 -1.5M265 1513.3l-4.9 -2M370.7 1556.7l-4.9 -2M417.5 1558.6l6.4 -1.5M264.9 1511.6l-4.9 -2M375.7 1557.1l-4.9 -2M412.2 1558.7l6.4 -1.5M264.9 1510l-4.9 -2M380.6 1557.5l-4.9 -2M407.1 1558.6l6.4 -1.5M265.1 1508.5l-4.9 -2M385.4 1557.9l-4.9 -2M402.3 1558.6l6.4 -1.5M265.4 1507l-4.9 -2M390 1558.2l-4.9 -2M397.6 1558.5l6.4 -1.5M265.9 1505.6l-4.9 -2M394.4 1558.4l-4.9 -2M393.1 1558.3l6.4 -1.5M266.5 1504.2l-4.9 -2M398.8 1558.6l-4.9 -2M388.7 1558.1l6.4 -1.5M267.1 1502.9l-4.9 -2M403 1558.7l-4.9 -2M384.5 1557.9l6.4 -1.5M267.9 1501.6l-4.9 -2M407.2 1558.8l-4.9 -2M380.4 1557.7l6.4 -1.5M268.8 1500.3l-4.9 -2M411.2 1558.9l-4.9 -2M376.5 1557.4l6.4 -1.5M269.7 1499.1l-4.9 -2M415.2 1558.9l-4.9 -2M372.6 1557.1l6.4 -1.5M270.8 1497.9l-4.9 -2M419.1 1558.9l-4.9 -2M368.8 1556.8l6.4 -1.5M271.9 1496.8l-4.9 -2M422.9 1558.8l-4.9 -2M365.2 1556.4l6.4 -1.5M273 1495.7l-4.9 -2M426.7 1558.8l-4.9 -2M361.6 1556.1l6.4 -1.5M274.3 1494.6l-4.9 -2M430.4 1558.7l-4.9 -2M358.1 1555.7l6.4 -1.5M275.6 1493.5l-4.9 -2M434 1558.6l-4.9 -2M354.7 1555.3l6.4 -1.5M277 1492.5l-4.9 -2M437.6 1558.4l-4.9 -2M351.4 1554.8l6.4 -1.5M278.4 1491.4l-4.9 -2M441.1 1558.3l-4.9 -2M348.1 1554.4l6.4 -1.5M279.9 1490.4l-4.9 -2M444.5 1558.1l-4.9 -2M345 1553.9l6.4 -1.5M281.4 1489.5l-4.9 -2M447.9 1557.8l-4.9 -2M341.9 1553.4l6.4 -1.5M283 1488.5l-4.9 -2M451.2 1557.6l-4.9 -2M338.8 1552.9l6.4 -1.5M454.5 1557.4l-4.9 -2M335.9 1552.4l6.4 -1.5M457.8 1557.1l-4.9 -2M333 1551.9l6.4 -1.5M461 1556.8l-4.9 -2M330.1 1551.3l6.4 -1.5M464.1 1556.5l-4.9 -2M327.4 1550.8l6.4 -1.5M467.2 1556.1l-4.9 -2M324.7 1550.2l6.4 -1.5M470.3 1555.8l-4.9 -2M322 1549.6l6.4 -1.5M473.3 1555.4l-4.9 -2M319.4 1549l6.4 -1.5M476.2 1555l-4.9 -2M316.9 1548.4l6.4 -1.5M479.2 1554.6l-4.9 -2M314.4 1547.8l6.4 -1.5M482 1554.2l-4.9 -2M311.9 1547.1l6.4 -1.5M484.9 1553.7l-4.9 -2M309.6 1546.4l6.4 -1.5M487.7 1553.3l-4.9 -2M307.2 1545.8l6.4 -1.5M490.4 1552.8l-4.9 -2M305 1545.1l6.4 -1.5M493.2 1552.3l-4.9 -2M302.7 1544.4l6.4 -1.5M495.8 1551.8l-4.9 -2M300.6 1543.7l6.4 -1.5M498.5 1551.3l-4.9 -2M298.4 1543l6.4 -1.5M501.1 1550.8l-4.9 -2M296.4 1542.2l6.4 -1.5M503.6 1550.2l-4.9 -2M294.4 1541.5l6.4 -1.5M506.2 1549.6l-4.9 -2M292.4 1540.7l6.4 -1.5M508.6 1549l-4.9 -2M290.5 1540l6.4 -1.5M511.1 1548.4l-4.9 -2M288.6 1539.2l6.4 -1.5M513.5 1547.8l-4.9 -2M286.8 1538.4l6.4 -1.5M515.9 1547.2l-4.9 -2M285 1537.6l6.4 -1.5M518.2 1546.5l-4.9 -2M283.3 1536.8l6.4 -1.5M520.5 1545.9l-4.9 -2M281.7 1535.9l6.4 -1.5M522.7 1545.2l-4.9 -2M280.1 1535.1l6.4 -1.5M524.9 1544.5l-4.9 -2M278.5 1534.2l6.4 -1.5M527.1 1543.8l-4.9 -2M277 1533.4l6.4 -1.5M529.2 1543l-4.9 -2M275.5 1532.5l6.4 -1.5M531.3 1542.3l-4.9 -2M274.1 1531.6l6.4 -1.5M533.4 1541.5l-4.9 -2M272.8 1530.7l6.4 -1.5M535.4 1540.7l-4.9 -2M271.5 1529.8l6.4 -1.5M537.3 1539.9l-4.9 -2M270.3 1528.8l6.4 -1.5M539.3 1539.1l-4.9 -2M269.1 1527.9l6.4 -1.5M541.1 1538.3l-4.9 -2M268 1526.9l6.4 -1.5M543 1537.4l-4.9 -2M266.9 1525.9l6.4 -1.5M544.8 1536.6l-4.9 -2M265.9 1524.9l6.4 -1.5M546.5 1535.7l-4.9 -2M264.9 1523.9l6.4 -1.5M548.2 1534.7l-4.9 -2M264.1 1522.9l6.4 -1.5M549.8 1533.8l-4.9 -2M263.2 1521.9l6.4 -1.5M551.4 1532.9l-4.9 -2M262.5 1520.8l6.4 -1.5M553 1531.9l-4.9 -2M261.8 1519.8l6.4 -1.5M554.4 1530.9l-4.9 -2M261.2 1518.7l6.4 -1.5M555.9 1529.9l-4.9 -2M260.7 1517.6l6.4 -1.5M260.2 1516.5l6.4 -1.5M259.8 1515.3l6.4 -1.5M259.5 1514.2l6.4 -1.5M259.3 1513l6.4 -1.5M259.2 1511.8l6.4 -1.5M259.2 1510.5l6.4 -1.5M259.3 1509.3l6.4 -1.5M259.5 1508l6.4 -1.5M259.8 1506.7l6.4 -1.5M260.2 1505.4l6.4 -1.5M260.8 1504l6.4 -1.5M261.5 1502.6l6.4 -1.5M262.4 1501.1l6.4 -1.5M263.5 1499.6l6.4 -1.5M264.7 1498.1l6.4 -1.5M266.3 1496.5l6.4 -1.5M268 1494.8l6.4 -1.5M270.1 1493.1l6.4 -1.5M272.6 1491.3l6.4 -1.5M275.6 1489.3l6.4 -1.5M694.7 1531.1l6.4 -1.5M692.8 1530.3l6.4 -1.5M690.9 1529.6l6.4 -1.5M689 1528.8l6.4 -1.5M687.1 1528l6.4 -1.5M685.2 1527.2l6.4 -1.5M683.3 1526.5l6.4 -1.5M681.5 1525.7l6.4 -1.5M679.6 1524.9l6.4 -1.5M677.7 1524.1l6.4 -1.5M675.8 1523.4l6.4 -1.5M673.9 1522.6l6.4 -1.5M672 1521.8l6.4 -1.5M529.8 1557.7l-4.9 -2M552.5 1567l-4.9 -2M532.3 1557.1l-4.9 -2M555 1566.5l-4.9 -2M534.7 1556.5l-4.9 -2M557.4 1565.9l-4.9 -2M537.2 1555.9l-4.9 -2M559.9 1565.3l-4.9 -2M539.7 1555.4l-4.9 -2M562.3 1564.7l-4.9 -2M542.1 1554.8l-4.9 -2M564.8 1564.1l-4.9 -2M544.6 1554.2l-4.9 -2M567.3 1563.5l-4.9 -2M547.1 1553.6l-4.9 -2M569.7 1562.9l-4.9 -2M549.5 1553l-4.9 -2M572.2 1562.3l-4.9 -2M552 1552.4l-4.9 -2M574.7 1561.7l-4.9 -2M554.5 1551.8l-4.9 -2M577.1 1561.1l-4.9 -2M556.9 1551.2l-4.9 -2M579.6 1560.5l-4.9 -2M559.4 1550.6l-4.9 -2M582.1 1559.9l-4.9 -2M561.8 1550l-4.9 -2M584.5 1559.3l-4.9 -2M564.3 1549.4l-4.9 -2M587 1558.7l-4.9 -2M566.8 1548.8l-4.9 -2M589.5 1558.1l-4.9 -2M569.2 1548.2l-4.9 -2M591.9 1557.5l-4.9 -2M571.7 1547.6l-4.9 -2M594.4 1556.9l-4.9 -2M574.2 1547l-4.9 -2M596.8 1556.3l-4.9 -2M576.6 1546.4l-4.9 -2M599.3 1555.7l-4.9 -2M579.1 1545.8l-4.9 -2M601.8 1555.1l-4.9 -2M581.6 1545.2l-4.9 -2M604.2 1554.6l-4.9 -2M584 1544.6l-4.9 -2M606.7 1554l-4.9 -2M586.5 1544l-4.9 -2M609.2 1553.4l-4.9 -2M589 1543.5l-4.9 -2M611.6 1552.8l-4.9 -2M591.4 1542.9l-4.9 -2M614.1 1552.2l-4.9 -2M593.9 1542.3l-4.9 -2M616.6 1551.6l-4.9 -2M596.3 1541.7l-4.9 -2M619 1551l-4.9 -2M598.8 1541.1l-4.9 -2M621.5 1550.4l-4.9 -2M601.3 1540.5l-4.9 -2M624 1549.8l-4.9 -2M603.7 1539.9l-4.9 -2M626.4 1549.2l-4.9 -2M606.2 1539.3l-4.9 -2M628.9 1548.6l-4.9 -2M608.7 1538.7l-4.9 -2M631.3 1548l-4.9 -2M611.1 1538.1l-4.9 -2M633.8 1547.4l-4.9 -2M613.6 1537.5l-4.9 -2M636.3 1546.8l-4.9 -2M616.1 1536.9l-4.9 -2M638.7 1546.2l-4.9 -2M618.5 1536.3l-4.9 -2M641.2 1545.6l-4.9 -2M621 1535.7l-4.9 -2M643.7 1545l-4.9 -2M623.5 1535.1l-4.9 -2M646.1 1544.4l-4.9 -2M625.9 1534.5l-4.9 -2M648.6 1543.8l-4.9 -2M628.4 1533.9l-4.9 -2M651.1 1543.2l-4.9 -2M630.8 1533.3l-4.9 -2M653.5 1542.7l-4.9 -2M633.3 1532.7l-4.9 -2M656 1542.1l-4.9 -2M635.8 1532.1l-4.9 -2M658.5 1541.5l-4.9 -2M638.2 1531.6l-4.9 -2M660.9 1540.9l-4.9 -2M640.7 1531l-4.9 -2M663.4 1540.3l-4.9 -2M643.2 1530.4l-4.9 -2M665.8 1539.7l-4.9 -2M645.6 1529.8l-4.9 -2M668.3 1539.1l-4.9 -2M648.1 1529.2l-4.9 -2M670.8 1538.5l-4.9 -2M650.6 1528.6l-4.9 -2M673.2 1537.9l-4.9 -2M653 1528l-4.9 -2M675.7 1537.3l-4.9 -2M655.5 1527.4l-4.9 -2M678.2 1536.7l-4.9 -2M658 1526.8l-4.9 -2M680.6 1536.1l-4.9 -2M660.4 1526.2l-4.9 -2M683.1 1535.5l-4.9 -2M662.9 1525.6l-4.9 -2M685.6 1534.9l-4.9 -2M665.3 1525l-4.9 -2M688 1534.3l-4.9 -2M667.8 1524.4l-4.9 -2M690.5 1533.7l-4.9 -2M670.3 1523.8l-4.9 -2M693 1533.1l-4.9 -2M672.7 1523.2l-4.9 -2M695.4 1532.5l-4.9 -2M675.2 1522.6l-4.9 -2M697.9 1531.9l-4.9 -2M677.7 1522l-4.9 -2M700.3 1531.3l-4.9 -2"/>
<g clip-path="url(#oute)" stroke-width=".7">
<path class="n3" d="M410.2 1605l0 1.5-1.6 .4-1.4 1.1-2 4.2-1.4 6.1-1.6 12.2-2-12.9-2-7-3-4.8-4.3-2.9-2.5-.8-2 .1-1.6 .8-1.4 1.7-2.2 6.5-1.6 10-1.9-14.1-1.3-7-2.1-5.7-2.9-3.9 0-1.4"/><path class="n13" d="M414.4 1603.6l0 1.3-2 .5-1.6 1-3.6 4.9-4.8-8-2.9-2.7-3.7-2-3.6-1.1-2.9 .3-1.9 .9-2.5 3.1-.6 .1-3.7-8-3.4-4.2 0-1.4"/><path class="n10" d="M412.4 1604.3l0 1.5-2.2 .8-1.9 2.2-3.6 9.3-2.9-8.5-2.1-4.2-2.7-3.1-3.6-2.2-3.7-.8-2.7 .8-2 2.3-2.5 5.9-.7 .3-3.4-11.8-1.8-3.8-2.5-3 0-1.4"/><path class="n12" d="M407 1605.3l0 1.5-1.8 .6-1.3 1.1-3.2 5.6-.9 .8-.9-1.2-3.7-8.7-2.2-3.1-2.7-2.1 0-1.3"/>
</g>
<g stroke-width=".7" stroke-linejoin="round">
<path class="j20" d="M276.4 1490.6l0-1.4-.5-.2-.2 1.3"/><path class="j21" d="M276.9 1492.4l0-1.5-1.9-2.3-1.5 .8 0 1.6"/><path class="j21" d="M274.9 1493.2l0-1.4-2.1-2.4-2.3 .6 0 1.4"/><path class="ww" d="M276.1 1488.9l-1.1 .4-1.1 .5-.9 .4-1 .4-.9 .5-.9 .4 0 3.5 .9-.8 .9-.8 1-.8 .9-.7 1.1-.8 1.1-.8z"/><path class="j21" d="M273.7 1494.4l0-1.6-1.8-2-1.8 .6 0 1.5"/><path class="j21" d="M274.7 1496.3l0-1.3-4.1-3.7-2 1.1 0 1.4"/><path class="j24" d="M272.2 1496.9l0-1.4-2.7-7.3-2.7 5.1 0 1.4"/><path class="j21" d="M312.3 1497.3l0-1.5-1.1-1.2-1 .4 0 1.5"/><path class="j22" d="M271.3 1498.2l0-1.5-2.9-4.1-2 .9-2.1 .3 0 1.5"/><path class="ww" d="M270.2 1491.5l-.8 .5-.8 .4-.7 .3-.7 .4-.6 .4-.6 .4 0 5.9 .6-.8 .6-.8 .7-.8 .7-.8 .8-.8 .8-.8z"/><path class="j20" d="M311.2 1498.5l0-1.4-.9-.6-.7-.1 0 1.4"/><path class="j22" d="M272.7 1500.4l0-1.5-2.7-1.8-2.7-4-3 2.4 0 1.4"/><path class="ww" d="M311.1 1496l-.7 .4-.7 .4-.6 .3-.6 .4-.6 .4-.5 .3 0 2.6 .5-.6 .6-.5 .6-.6 .6-.6 .7-.6 .7-.5z"/><path class="j21" d="M311.4 1500.2l0-1.5-1.5-2.1-2.1 .7 0 1.4"/><path class="j25" d="M270.3 1501l0-1.5-1.2-2.1-2-7.1-.7 .5-1.6 4.3-1.8 1.5 0 1.4"/><path class="j21" d="M309.7 1501.1l0-1.5-2.1-1.9-1.3-.4-1.2 .5 0 1.4"/><path class="j24" d="M269.8 1502.4l0-1.4-1.8-2.1-2.2-4.7-1.2-1.2-.9 .4-2.5 4 0 1.5"/><path class="j21" d="M310.6 1503.1l-.2-1.8-3.4-2.6-2.1 .6 0 1.4"/><path class="j24" d="M271.2 1504.6l0-1.4-1.1-1.4-2.5-1.4-2.9-5.5-3 3.5-1.1 .3-1.6-.5 0 1.3"/><path class="ww" d="M266 1493.9l-.6 .4-.5 .4-.4 .4-.4 .4-.4 .5-.3 .4 0 8.3 .3-.8 .4-.8 .4-.9 .4-.8 .5-.8 .6-.8z"/><path class="ww" d="M307.4 1498.2l-.5 .4-.5 .3-.4 .4-.4 .4-.4 .3-.3 .4 0 4 .3-.6 .4-.6 .4-.6 .4-.6 .5-.6 .5-.6z"/><path class="j23" d="M308.6 1503.8l0-1.4-1.4-1.9-1.6-4.4-2 4.2 0 1.5"/><path class="j26" d="M269.2 1505.4l0-1.4-1.8-2.7-2.3-8.5-.6 .5-2.8 5.5-2 1.2 0 1.4"/><path class="j22" d="M310 1506l0-1.4-.5-.6-1.8-.8-2.5-3-2.5 1.1-1.8-.4 0 1.4"/><path class="j26" d="M269 1506.9l0-1.4-1.8-1.8-1.3-2.3-3.4-8.8-.7 1-1.6 6-1.4 1.6 0 1.5"/><path class="j24" d="M308 1506.8l0-1.5-1.4-1.8-1.6-6.3-1.8 4.3-1.8 1.2 0 1.4"/><path class="ww" d="M304.9 1500.4l-.3 .4-.3 .3-.2 .4-.2 .4-.2 .3-.1 .4 0 5.4 .1-.6 .2-.6 .2-.6 .2-.6 .3-.6 .3-.6z"/><path class="j25" d="M269.7 1508.8l0-1.5-1.3-2.4-.7-.9-1.8-.8-3-6.2-2.7 4.3-.9 .5-1.6-.4-1.3 .4 0 1.5"/><path class="j22" d="M309.4 1509l0-1.5-.7-1.1-1.8-.6-3-4-1.6 .7-1.6-.2-.9 1.2 0 1.6"/><path class="ww" d="M263.4 1496.4l-.3 .4-.2 .4-.2 .4-.2 .4-.1 .5 0 .4 0 10.8 0-.8 .1-.9 .2-.8 .2-.8 .2-.8 .3-.9z"/><path class="j29" d="M269.3 1510.2l0-1.4-2.2-2.1-1.2-2.2-2.3-12.7-2.9 9.1-1.6 2.2-1.8 .7 0 1.5"/><path class="j20" d="M272.4 1508.3l0-1.4-.4-.3-.7-.2 0 1.4"/><path class="j27" d="M270.9 1512.5l0-1.5-.6-1-2.3-.8-1.8-2.2-3.2-7.9-2-3.1-.7 .7-1.8 7.2-.7 .9-1.2 .4 0 1.4"/><path class="j25" d="M308.3 1510.1l0-1.4-2.3-2.9-1.6-7.2-1.6 4.2-1.6 1.8-1.6 .6 0 1.4"/><path class="j20" d="M297.4 1508.9l0-1.4-.7-.4-.4-.1 0 1.4"/><path class="ww" d="M303.6 1502.6l-.1 .4-.1 .4 0 .3 0 .7 0 .6 .1 .6 0 6.1-.1-.7 0-.6 0-.6 0-.6 .1-.6 .1-.6z"/><path class="j23" d="M309 1512l0-1.4-1.2-2.3-1.6-.3-2.7-4.3-1.6 .4-1.1-.8-1.8 3.2 0 1.4"/><path class="j26" d="M269.6 1513.5l0-1.3-1.8-2-1.8-5.8-1.6-.6-2.1-4-.6 .4-2.8 5.1-.9 .5-1.5-.7-.7 .2-.9 .6 0 1.6"/><path class="j26" d="M308.8 1513.6l0-1.4-2.1-2.1-1.1-1.9-1.6-8.2-1.6 5.5-1.8 1.8-2 .7 0 1.4"/><path class="j20" d="M297.5 1512.1l0-1.3-.7-.6-.7 0 0 1.4"/><path class="ww" d="M262.4 1498.9l0 .9 0 .8 .1 .9 .2 .9 .2 .9 .2 .9 0 10.5-.2-.8-.2-.9-.2-.8-.1-.8 0-.9 0-.8z"/><path class="j32" d="M272.6 1516.4l0-1.4-.5-.6-.6-.6-1.6-.1-1.6-1.2-1.8-2.3-1.4-2.8-.9-3.4-1.8-13.1-2.3 14.2-1.8 2.3-2.7 .6 0 1.4"/><path class="j23" d="M309.5 1515.5l0-1.4-1.2-1.4-1.1-3.4-1.4 .4-2-2.6-2 .8-1.4-1.2-1.8 2.8 0 1.5"/><path class="ww" d="M303.5 1505.6l.1 .7 .1 .6 .2 .6 .2 .7 .2 .6 .3 .6 0 5.9-.3-.6-.2-.6-.2-.6-.2-.6-.1-.6-.1-.6z"/><path class="j26" d="M271 1517.3l0-1.3-1.3-1.3-1.6-3.9-.5-.4-.9 .3-.7-.6-3.1-6.7-.7 .3-1.6 2.2-1.4-.8-.4 .3-1.6 3.5-1.6 .7 0 1.4"/><path class="j20" d="M311 1514.5l0-1.6-.4-.3-.5 .1 0 1.4"/><path class="j26" d="M311.3 1517.8l0-1.4-1.1-2.2-1.6 .1-3.2-4.4-1.6-6.4-1.6 6.4-1.3 1-2.1 .4 0 1.4"/><path class="ww" d="M645.6 1524.1l7.4-2 7.4-2.1 7.4-2 7.4-2.1 0 5.1-7.4 1.8-7.4 1.8-7.4 1.8-7.4 1.8z"/><path class="j31" d="M274.2 1520.3l0-1.6-.6-.9-1.9-.2-1.5-1.1-2.1-2.2-1.4-2.4-2.2-14.5-.5 .5-1.3 7.2-2.3 4.3-1.4 1.3-1.3 .5-3.2-1-.7 .3 0 1.4"/><path class="j26" d="M273.8 1521.7l0-1.4-2-1.6-1.8-4.4-1.4 .4-.5-.2-3.1-6.5-.7-.6-1.4 .4-1.3-2.2-2.3 6.8-.9 .6-2.1 .1 0 1.4"/><path class="j20" d="M254.6 1517l0-1.4-.5-.2-.2 1.3"/><path class="ww" d="M304.6 1509.4l.3 .7 .3 .6 .4 .6 .4 .6 .4 .7 .5 .6 0 5.7-.5-.6-.4-.6-.4-.6-.4-.6-.3-.6-.3-.6z"/><path class="ww" d="M263.1 1504.2l.3 .9 .3 .8 .4 .9 .4 .9 .4 .9 .5 .8 0 10.2-.5-.8-.4-.8-.4-.8-.4-.8-.3-.9-.3-.8z"/><path class="j26" d="M313.8 1520.5l0-1.6-.6-1.3-1.6 .2-3.2-3.4-1.6-7.2-1.3 3.8-3.7 1.8-1.6-1.4-1.3 1.6 0 1.3"/><path class="j21" d="M301.4 1518.6l0-1.4-1.1-1.1-.7 .3 0 1.4"/><path class="j20" d="M686.7 1519.3l0-1.3-1.6-.8-1.8-.6 0 1.3"/><path class="j21" d="M687.9 1521.4l0-1.4-5.2-3.7-5.2-.6 0 1.4"/><path class="j23" d="M687.2 1522.8l0-1.4-7-7.6-1.3-.1-3.4 1.6-2.1 .4 0 1.4"/><path class="j27" d="M687.3 1524.4l0-1.4-2.7-2.1-2.3-2.9-4.5-10.2-1 .5-3.4 6-1.3 1.1-1.8 .6 0 1.4"/><path class="j31" d="M276.8 1524.5l0-1.3-1.4-2.2-.4-.3-1.4 .3-.9-.6-2.3-2.4-1.5-2.8-2.3-13.8-1.6 7.5-2 3.3-1.4 1.6-1.6 .9-2.7-1.1-1.4 1 0 1.4"/><path class="ww" d="M306.9 1513.2l.5 .6 .5 .6 .6 .6 .6 .6 .6 .6 .7 .6 0 5.5-.7-.5-.6-.6-.6-.6-.6-.6-.5-.6-.5-.5z"/><path class="j25" d="M316.8 1523.3l0-1.5-.9-1.7-1.3 .5-3.2-2.8-1.6-5.9-1.4 2.5-1.6-.8-1.8 .4-1.3-2.3-1.4 3.2-1.8 .3 0 1.4"/><path class="j26" d="M281.4 1528l0-1.5-1-1.3-2.2-.1-4.1-3.2-2.3-7.2-1.1 1.6-.5 0-2.5-3.9-.9-.3-1.5 .9-1.6-2.8-2.1 6.2-1.1 .6-2.5 0 0 1.4"/><path class="j37" d="M705.9 1533.6l0-1.4-2.9-4-2.1-5.9-1.3-7.3-1.6-13.7-2.1 11.4-2 5.5-1.4 1.6-1.6 .8-2 0-2.3-.6-2.5-1.4-2-1.7-3-5-2.2-8.5-1.6-11.4-1.8 12.7-1.4 6-2 4.1-1.4 1-1.6 .5 0 1.4"/><path class="j20" d="M257.4 1521.4l0-1.4-.5-.3-.4-.1 0 1.4"/><path class="ww" d="M265.4 1509.4l.6 .9 .6 .9 .6 .8 .7 .9 .7 .8 .8 .9 0 9.9-.8-.8-.7-.8-.7-.8-.6-.8-.6-.8-.6-.9z"/><path class="j26" d="M700.3 1534.5l0-1.4-3.6-4.4-3.7-8-.6 .2-2.3 3-1.8 1-3 .3-3.6-1-3.6-1.9-3-2.7-2-2.8-2.7-5.4-.7 .3-3.2 4.7-1.6 1-2 .4 0 1.4"/><path class="j24" d="M696.7 1534.7l0-1.5-3.2-3.4-2.9-5.4-2.5 1.8-3 .7-5.9-1.5-5.9-3.3-2.9-3-2.5-4-.7 .2-2.5 2.8-3.2 .7 0 1.4"/><path class="ww" d="M616.1 1532.3l7.4-2.1 7.4-2 7.3-2.1 7.4-2 0 4.1-7.4 1.8-7.3 1.7-7.4 1.8-7.4 1.8z"/><path class="j25" d="M325.5 1528.5l0-1.5-.9-1.5-1.2 .6-.9-.3-2.5-1.5-1.1-2.6-1.4 1-2.9-2.3-1.8-6.1-.9 2.8-.5 .2-1.6-.8-1.6-.1-1.3-3.3-1.4 4-1.1 .4-2.5-.1 0 1.4"/><path class="j23" d="M693.1 1534.8l0-1.4-2.5-2.5-2.5-4.3-2.3 1.4-1.1 .1-3.8-.3-4.1-1.5-4.1-1.9-4.1-2.9-3.2-4.2-.6 .1-2.1 2.1-2.3 .5 0 1.4"/><path class="j20" d="M278.6 1523.7l-.3-1.6-.4-.1 0 1.4"/><path class="ww" d="M310.4 1516.8l.7 .6 .7 .6 .7 .6 .8 .6 .8 .6 .9 .6 0 5.3-.9-.6-.8-.5-.8-.6-.7-.5-.7-.6-.7-.6z"/><path class="j23" d="M689.5 1534.9l0-1.4-1.6-1.7-2.3-3.8-3.1 1.3-3.9-.6-4.3-1.5-4.5-2.2-3.9-2.5-2.9-3.8-2.5 1.9-1.6 .4 0 1.4"/><path class="j22" d="M686.4 1535.2l0-1.4-3.2-4.8-2.1 1.1-1.1 .1-8.2-2.3-8.3-4.5-3-3.7-3.4 2.1 0 1.4"/><path class="j31" d="M286.6 1531.8l0-1.4-1.4-1.9-1.8 .4-4.3-2.8-1.8-4.7-.4-.1-1.2 1.3-1.8-2-3.2-5.5-1.6-9.7-.4 .7-1.1 8.2-1 2.5-1.8 1.6-2 .8-.9-.1-1.4-1.3-.7-.1-1.3 1.1 0 1.4"/><path class="j22" d="M667.6 1529.1l0-1.3-6.8-3.8-2.8-3.4-3.1 2 0 1.3"/><path class="j20" d="M321.8 1525.3l-.2-1.6-.2 1.5"/><path class="ww" d="M668.3 1533.4l7.4-2 7.4-2.1 7.4-2 7.4-2 0 5-7.4 1.8-7.4 1.8-7.4 1.8-7.4 1.8z"/><path class="j22" d="M663.7 1529.2l0-1.4-5.6-3.2-2.5-3.3-3 1.9 0 1.4"/><path class="j26" d="M350 1540.1l0-1.3-3.4-2.8-1.1-3.8-1.4 1.6-3.4-2.5-1.4-5.2-.9 3.5-.6 .8-3-.7-1.4-3.9-1.3 3.3-3.2-1.2-1.1-3.5-1.2 2.4-.6 0-2.8-1.5-1.3-4.7-1.4 3-2.9-1.9-1.6-6.1-1.4 4.6-3.2-.3-1.3-3.2-1.6 3.6-3.2-.1-1.8-1.5-.7 .6 0 1.5"/><path class="j22" d="M660.6 1529.5l0-1.4-5-2.9-2.5-3.1-2.7 1.7 0 1.5"/><path class="ww" d="M269.4 1514.6l.8 .8 .9 .8 .9 .9 .9 .8 1 .8 1 .9 0 9.6-1-.8-1-.8-.9-.8-.9-.7-.9-.8-.8-.8z"/><path class="j22" d="M657.4 1529.8l0-1.4-4.3-2.5-2.5-3.1-2.7 1.6 0 1.5"/><path class="ww" d="M315 1520.4l.9 .5 .9 .6 .9 .6 1 .5 1 .6 1 .5 0 5.1-1-.5-1-.5-1-.5-.9-.6-.9-.5-.9-.5z"/><path class="j21" d="M311.1 1527.4l0-1.5-.5-.5-.7 .1 0 1.4"/><path class="j22" d="M654.5 1530.2l0-1.4-3.8-2.3-2.5-3-2.7 1.6 0 1.4"/><path class="j20" d="M709.4 1528.6l0-1.3-1.6-.8-1.8-.6 0 1.3"/><path class="j22" d="M651.8 1530.7l0-1.4-3.8-2.3-2.3-2.9-2.7 1.6 0 1.4"/><path class="j31" d="M334 1552.9l0-1.4-2-1.8-1.6-3.8-.4-.2-1 .8-.6-.2-4.6-6.2-1.8-8.7-1.8 8.2-.9 .8-3 .8-1.1-.4-1.4-2.8-1.3 2.6-1.1 .3-3.7-.9-1.8-2.4-1.3 1.1-.7 0-4.1-1.6-1.6-2.2-1.8 .8-2.7-1.1-1.9-1.1-1.5-2.5-1.9 .9-4-2.5-2.1-5-1.6 2-2.9-3.1-1.8-3.1-1.8-10.7-1.9 8.3-4.5 2.9-1.6-2.2-.4-.1-1.6 3.1-3.2 0 0 1.4"/><path class="j21" d="M710.6 1530.7l0-1.3-5.2-3.8-5.5-.6 0 1.4"/><path class="j22" d="M649.1 1531.2l0-1.3-3.6-2.3-2.2-2.8-2.5 1.5 0 1.5"/><path class="j23" d="M709.5 1531.9l0-1.4-6.6-7.4-1.4-.1-3.4 1.5-2.5 .3 0 1.4"/><path class="j22" d="M646.2 1531.6l0-1.4-3.1-1.9-2.3-2.8-2.5 1.4 0 1.5"/><path class="j20" d="M265.9 1529.7l0-1.4-.5-.3-.2 1.4"/><path class="j27" d="M707.7 1532.8l0-1.5-3.2-4.4-4.1-9.8-.9 .4-3.6 5.8-2.3 1.3-2.7-.1 0 1.4"/><path class="j21" d="M317.9 1530.1l0-1.3-1.2-1.6-.9 .5 0 1.6"/><path class="j22" d="M643.5 1532.1l0-1.4-2.9-1.8-2.3-2.7-2.5 1.3 0 1.5"/><path class="ww" d="M320.7 1523.7l1 .5 1.1 .6 1.1 .5 1.2 .5 1.1 .5 1.2 .5 0 5-1.2-.5-1.1-.5-1.2-.4-1.1-.5-1.1-.5-1-.6z"/><path class="ww" d="M586.5 1540.4l7.4-2 7.4-2.1 7.4-2 7.4-2 0 3-7.4 1.8-7.4 1.8-7.4 1.8-7.4 1.7z"/><path class="j21" d="M330.9 1530.7l0-1.5-.7-1-.9 .4 0 1.4"/><path class="j22" d="M640.8 1532.6l0-1.4-2.7-1.6-2.2-2.7-2.5 1.2 0 1.5"/><path class="j30" d="M703.4 1534.2l0-1.3-2.5-2.9-1.8-3.7-3.6-12.4-.7 .5-2.2 5.6-2.1 2.5-2.7 1-3.6-.8-3.7-2.1-2.7-3.1-2-4-2.5-8.1-.7-.9-3.4 9.2-1.8 2.3-2.5 1 0 1.4"/><path class="j22" d="M638.2 1533.1l0-1.4-2.5-1.5-2.3-2.7-2.5 1.3 0 1.3"/><path class="ww" d="M274.9 1519.6l1.1 .8 1.1 .8 1.2 .8 1.2 .8 1.2 .8 1.3 .7 0 9.3-1.3-.7-1.2-.7-1.2-.8-1.2-.7-1.1-.8-1.1-.7z"/><path class="j20" d="M501.8 1531.7l0-1.3-.7-.6-.7 0 0 1.4"/><path class="j24" d="M341 1538l0-1.3-2.5-1.7-1.2-2.7-1.6 1-3.1-2.1-1.4-4.2-1.4 2.6-3.1-1.6-1.4-4.6-1.6 3.4-3.2-1.2-1.3-3.8-1.4 3.2-3.2-.5-1.3-2.5-1.6 2-3.2-.7-1.6-1.5-.6 .5 0 1.5"/><path class="j22" d="M635.7 1533.7l0-1.3-2.5-1.6-2.3-2.6-2.2 1.1 0 1.5"/><path class="j31" d="M329.5 1552.6l0-1.4-.7-.8-2.4-.5-4.4-3.2-2.2-6.2-1.2 1.7-.6 .1-4.3-4.7-2.1-9.5-1.3 7.1-1 1.2-3.8-.1-1.8-5.7-1.4 4.4-.7 .8-4.1-1.1-1.8-5.3-1.6 3.5-.9 0-3.8-2.6-1.6-6.7-.5 .3-1.3 3.9-4.3-3.7-2.1-10.7-1.3 7.2-.7 1.3-4.3 1.3-1.8-3.6-2.1 4.9-4.5-.1-2.3-1.7-1.1 .6 0 1.4"/><path class="j21" d="M324.4 1532.8l0-1.3-1.6-2-1.1 .7-1.1-.3 0 1.4"/><path class="j22" d="M633 1534.2l0-1.3-2.3-1.4-2.2-2.6-2.3 1.1 0 1.4"/><path class="ww" d="M638.7 1541.6l7.4-2.1 7.4-2 7.4-2 7.4-2.1 0 4.1-7.4 1.8-7.4 1.8-7.4 1.7-7.4 1.8z"/><path class="j21" d="M337 1533.2l0-1.4-1.1-1.5-.9 .5 0 1.6"/><path class="j21" d="M630.3 1534.7l0-1.3-2.3-1.5-2-2.3-2.3 1 0 1.4"/><path class="ww" d="M327.4 1526.8l1.2 .5 1.3 .5 1.2 .5 1.3 .4 1.3 .5 1.4 .5 0 4.8-1.4-.4-1.3-.4-1.3-.5-1.2-.5-1.3-.4-1.2-.5z"/><path class="j21" d="M627.6 1535.2l0-1.3-2-1.3-2.1-2.3-2.2 .9 0 1.4"/><path class="j20" d="M271.6 1533.6l-.3-1.5-.2 1.3"/><path class="j21" d="M495.9 1534.2l0-1.6-.9-1-1.3 .3 0 1.4"/><path class="j21" d="M624.9 1535.7l0-1.3-1.8-1.2-2-2.3-2.3 .9 0 1.4"/><path class="j20" d="M343.8 1534.4l-.2-1.5 0 1.4"/><path class="ww" d="M491.4 1533.6l1.4-.3 1.3-.4 0 1.2-1.3 .5-1.4 .4z"/><path class="j21" d="M293.6 1534.7l0-1.5-.6-.6-.7 .1 0 1.4"/><path class="j22" d="M683.7 1535.7l0-1.4-3-4.4-2.9 1.1-6.8-1.8 0 1.3"/><path class="j21" d="M622.2 1536.2l0-1.3-3.6-3.3-2 .8 0 1.5"/><path class="j21" d="M329.6 1535l0-1.6-.6-1-1.2 .4 0 1.4"/><path class="j22" d="M681 1536.2l0-1.4-2.7-4.1-2.8 1.1-5.6-1.5 0 1.4"/><path class="j20" d="M490.8 1535.3l-.2-1.5 0 1.4"/><path class="j21" d="M619.3 1536.6l0-1.3-3.2-3-2 .7 0 1.5"/><path class="ww" d="M282 1524.3l1.3 .8 1.4 .8 1.4 .7 1.4 .8 1.5 .7 1.5 .8 0 8.9-1.5-.6-1.5-.7-1.4-.7-1.4-.7-1.4-.7-1.3-.8z"/><path class="j21" d="M543.5 1536l0-1.5-.9-.8-.9 .1 0 1.5"/><path class="ww" d="M335.1 1529.7l1.3 .4 1.4 .4 1.4 .5 1.5 .4 1.4 .4 1.5 .4 0 4.8-1.5-.4-1.4-.4-1.5-.4-1.4-.4-1.4-.4-1.3-.5z"/><path class="j22" d="M678.5 1536.8l0-1.3-2.7-4.1-2.7 1-4.8-1.1 0 1.4"/><path class="j21" d="M489.9 1536.5l0-1.4-1.6-2.1-1.6 .8 0 1.4"/><path class="j21" d="M616.6 1537.1l0-1.3-2.9-2.8-2.1 .7 0 1.4"/><path class="ww" d="M482.8 1535.7l1.5-.3 1.4-.3 1.5-.4 1.4-.3 1.4-.4 1.4-.4 0 1.4-1.4 .4-1.4 .4-1.4 .4-1.5 .4-1.4 .4-1.5 .4z"/><path class="j22" d="M675.8 1537.3l0-1.5-2.5-3.7-2.7 1-4.3-1 0 1.3"/><path class="j20" d="M540.8 1536.5l0-1.3-.5-.3-.2 1.3"/><path class="j21" d="M613.9 1537.6l0-1.3-2.7-2.6-2 .6 0 1.4"/><path class="j20" d="M486.5 1536.7l0-1.4-.4-.3-.5-.1 0 1.5"/><path class="j22" d="M673.4 1537.9l0-1.4-2.5-3.7-2.5 .9-4.1-.9 0 1.4"/><path class="j21" d="M611.2 1538.1l0-1.4-2.5-2.4-1.8 .6 0 1.5"/><path class="j21" d="M280.9 1537.5l0-1.5-.9-.9-1.2 .1 0 1.4"/><path class="j20" d="M484.3 1537.4l0-1.4-.7-.5-.7 0 0 1.4"/><path class="j20" d="M335.3 1537.3l-.2-1.7-.5 0 0 1.4"/><path class="ww" d="M535.8 1537l1.5-.5 1.5-.6 1.5-.6 0 1.2-1.5 .7-1.5 .7-1.5 .7z"/><path class="j22" d="M670.9 1538.5l0-1.4-2.5-3.7-2.5 1-3.9-.9 0 1.4"/><path class="j24" d="M357.2 1541.5l0-1.4-2.5-2.4-1.1-4-.5 0-.9 1.5-3.4-1.8-1.3-3.7-1.6 3.9-3-.2-1.3-2.1-1.4 1.5-2.5-.7 0 1.4"/><path class="ww" d="M556.9 1548.6l7.4-2.1 7.4-2 7.4-2 7.4-2.1 0 2-7.4 1.8-7.4 1.8-7.4 1.8-7.4 1.8z"/><path class="j20" d="M300.9 1537.6l-.2-1.6-.5-.1 0 1.5"/><path class="j21" d="M608.8 1538.7l0-1.3-2.5-2.4-1.8 .5 0 1.5"/><path class="j22" d="M483.2 1538.6l0-1.4-2-2.9-1.9 1.2 0 1.5"/><path class="ww" d="M343.6 1532.2l1.5 .4 1.5 .4 1.6 .4 1.5 .4 1.6 .3 1.6 .4 0 4.7-1.6-.4-1.6-.3-1.5-.4-1.6-.3-1.5-.4-1.5-.4z"/><path class="j22" d="M668.4 1539.1l0-1.4-2.5-3.6-2.5 .9-3.4-.7 0 1.4"/><path class="j20" d="M537.2 1538.3l0-1.4-.4-.3-.3 1.4"/><path class="j21" d="M606.1 1539.2l0-1.3-2.3-2.2-1.8 .4 0 1.5"/><path class="ww" d="M473.3 1537.5l1.7-.3 1.6-.2 1.5-.3 1.6-.3 1.5-.4 1.6-.3 0 1.7-1.6 .4-1.5 .3-1.6 .4-1.5 .4-1.6 .3-1.7 .3z"/><path class="j21" d="M479.6 1538.7l0-1.4-.9-.8-.7 0 0 1.6"/><path class="j22" d="M666 1539.7l0-1.3-2.5-3.6-2.5 .9-3.2-.7 0 1.4"/><path class="j21" d="M603.4 1539.7l0-1.4-2-1.9-1.9 .4 0 1.4"/><path class="j21" d="M477.1 1539.3l0-1.4-.9-.9-.9 .1 0 1.5"/><path class="j21" d="M536.8 1539.7l0-1.4-1.6-1.8-1.4 .4 0 1.6"/><path class="j21" d="M344.1 1539.3l0-1.4-.6-.9-1 .2 0 1.5"/><path class="j24" d="M363.8 1542.6l0-1.4-.9-1-1.2-3.3-.4-.1-.9 .8-2.1-1.9-1.6-.5-1.3-3.2-1.4 3.7-3.2 0-1.5-1.5-.7 .6 0 1.5"/><path class="j22" d="M663.3 1540.2l0-1.5-2.3-3.2-2.5 .8-2.9-.6 0 1.4"/><path class="j29" d="M319.4 1550l0-1.4-1.4-1.8-2 .1-4.6-3.3-2-5.2-1.2 1.8-.6 .3-4.1-3.5-.9-2.1-1.4-6.8-1.8 5.8-4.1-2.1-.7-1.4-1.3-7.9-1.4 6.1-.7 1.3-4.3-1.5-1.8-7.5-1.4 6.1-.6 1.2-4.3 0-1.9-3.8-2 4-4.5-.5-2.1-1.9-1.6 1 0 1.4"/><path class="j22" d="M475.6 1540.3l0-1.5-2.1-3.3-2 1.6 0 1.5"/><path class="j21" d="M600.9 1540.3l0-1.3-2-2-1.6 .4 0 1.4"/><path class="j21" d="M533.9 1540.1l0-1.4-1.2-1.2-1.1 .2 0 1.5"/><path class="ww" d="M290.5 1528.9l1.6 .7 1.6 .7 1.6 .7 1.7 .7 1.7 .6 1.7 .7 0 8.8-1.7-.7-1.7-.6-1.7-.7-1.6-.6-1.6-.7-1.6-.7z"/><path class="ww" d="M609.2 1549.7l7.4-2 7.4-2 7.4-2.1 7.3-2 0 3-7.3 1.8-7.4 1.8-7.4 1.8-7.4 1.8z"/><path class="j22" d="M660.8 1540.8l0-1.4-2.3-3.2-2.5 .7-2.7-.5 0 1.3"/><path class="j21" d="M472 1540.4l0-1.5-1.2-1.1-.9 .3 0 1.5"/><path class="ww" d="M352.9 1534.5l1.6 .3 1.7 .4 1.6 .3 1.7 .3 1.7 .3 1.7 .3 0 4.6-1.7-.3-1.7-.3-1.7-.3-1.6-.3-1.7-.3-1.6-.3z"/><path class="j23" d="M308.7 1547.3l0-1.5-1.1-1.6-2.1 .2-4.3-2.3-2.2-3.5-1.8 1.3-4.6-2.2-1.8-3.6-1.6 1.9-.7 .1-4.3-1.7-1.8-2.8-1.3 1.6-.7 .2-4.3-1.3-2.1-2-1.6 .9 0 1.4"/><path class="j21" d="M598.2 1540.8l0-1.4-1.8-1.7-1.6 .3 0 1.4"/><path class="ww" d="M463.3 1538.9l1.7-.2 1.7-.2 1.7-.2 1.6-.3 1.7-.2 1.6-.3 0 2-1.6 .3-1.7 .4-1.6 .3-1.7 .3-1.7 .2-1.7 .3z"/><path class="ww" d="M525.7 1540.3l1.7-.5 1.8-.6 1.7-.5 1.6-.5 1.7-.6 1.6-.6 0 1.6-1.6 .6-1.7 .7-1.6 .6-1.7 .7-1.8 .6-1.7 .6z"/><path class="j22" d="M658.3 1541.4l0-1.4-2.2-3.1-2.5 .7-2.5-.5 0 1.3"/><path class="j21" d="M469.5 1541l0-1.4-1.3-1.4-1.2 .4 0 1.4"/><path class="j21" d="M531.9 1540.9l0-1.4-1-.8-.9 0 0 1.5"/><path class="j21" d="M289.5 1541l0-1.5-1.2-1.3-1.3 .4 0 1.4"/><path class="j21" d="M595.8 1541.4l0-1.3-1.8-1.7-1.6 .2 0 1.4"/><path class="j20" d="M308.8 1540.9l0-1.4-.7-.6-.4 .1 0 1.4"/><path class="j24" d="M370.8 1543.8l0-1.5-.7-1.3-1.8-.4-3.7-4.1-1.3-4-1.6 4.6-2.9 .3-1.9-1.3-.4 .4 0 1.5"/><path class="j21" d="M352.3 1541.1l0-1.6-.7-.7-1.1 .2 0 1.3"/><path class="j22" d="M467.3 1541.7l0-1.6-1.8-3.4-2.5 1.8 0 1.4"/><path class="j22" d="M655.9 1542l0-1.4-2.3-3.1-2.3 .7-2.5-.5 0 1.4"/><path class="j21" d="M593.1 1541.9l0-1.4-1.6-1.4-1.4 .1 0 1.5"/><path class="j21" d="M529.8 1541.7l0-1.5-.9-.8-.9 0 0 1.5"/><path class="j21" d="M464.1 1542l0-1.4-1.3-1.6-1.4 .4 0 1.5"/><path class="j22" d="M653.4 1542.6l0-1.4-2.3-3-2.2 .7-2.3-.5 0 1.4"/><path class="ww" d="M362.9 1536.4l1.7 .3 1.7 .3 1.8 .3 1.7 .3 1.8 .2 1.8 .2 0 4.5-1.8-.2-1.8-.2-1.7-.3-1.8-.2-1.7-.3-1.7-.3z"/><path class="j21" d="M590.6 1542.5l0-1.3-1.6-1.4-1.3 .1 0 1.4"/><path class="j21" d="M461.2 1542.4l0-1.4-1.3-1.7-1.6 .5 0 1.4"/><path class="ww" d="M452.6 1540l1.8-.2 1.8-.1 1.8-.2 1.8-.2 1.7-.2 1.8-.2 0 2.4-1.8 .3-1.7 .2-1.8 .3-1.8 .2-1.8 .3-1.8 .2z"/><path class="j21" d="M528.7 1542.8l0-1.4-1.8-2.2-1.6 .9 0 1.3"/><path class="j22" d="M458.8 1543l0-1.4-2.1-4.1-2.5 2.2 0 1.5"/><path class="j21" d="M650.7 1543.1l0-1.5-2-2.7-2.3 .6-2.3-.5 0 1.4"/><path class="j21" d="M587.9 1543l0-1.4-1.3-1.2-1.4 .1 0 1.4"/><path class="j25" d="M375.3 1544.1l0-1.4-2.5-3-1.6-5.9-1.4 3.6-3.4 1.2-1.6-1.3-.6 .7 0 1.5"/><path class="j21" d="M455.6 1543.3l0-1.5-1.8-2-1.6 .7 0 1.4"/><path class="j20" d="M360.4 1542.8l0-1.4-.5-.4-.4 0 0 1.4"/><path class="j21" d="M526.3 1543.4l0-1.4-1.8-2.5-1.9 1 0 1.4"/><path class="j21" d="M648.3 1543.7l0-1.5-2.1-2.6-2.3 .5-2-.4 0 1.4"/><path class="j22" d="M380.9 1544.8l0-1.5-1.3-2.9-1.4 0-2-2-2.1 .4-1.3-1.3-1.4 2 0 1.4"/><path class="ww" d="M373.4 1538l1.8 .3 1.8 .2 1.8 .2 1.9 .2 1.8 .2 1.9 .2 0 4.4-1.9-.2-1.8-.1-1.9-.2-1.8-.2-1.8-.2-1.8-.3z"/><path class="j21" d="M452.5 1543.6l0-1.4-1.6-2.1-1.8 .8 0 1.3"/><path class="j21" d="M585.2 1543.5l0-1.4-1.1-1-1.1 0 0 1.5"/><path class="ww" d="M441.6 1540.7l1.9-.1 1.8-.1 1.9-.1 1.8-.1 1.8-.2 1.8-.1 0 2.8-1.8 .2-1.8 .2-1.8 .2-1.9 .1-1.8 .2-1.9 .2z"/><path class="j25" d="M385.4 1545l0-1.4-2.9-3.9-1.6-5-1.4 4.6-.7 .7-1.5 .3 0 1.4"/><path class="j23" d="M449.8 1544.1l0-1.3-2.3-5.1-2.3 3 0 1.6"/><path class="j21" d="M645.8 1544.3l0-1.4-2-2.7-2.3 .6-1.8-.4 0 1.4"/><path class="ww" d="M300.4 1533l1.8 .6 1.8 .7 1.8 .6 1.9 .6 1.9 .6 1.9 .6 0 8.6-1.9-.5-1.9-.6-1.9-.6-1.8-.6-1.8-.6-1.8-.6z"/><path class="j21" d="M523.8 1544l0-1.3-1.4-1.5-1.1 .3 0 1.5"/><path class="j21" d="M582.8 1544.1l0-1.4-1.2-.9-1.1 0 0 1.4"/><path class="j21" d="M446.9 1544.6l0-1.4-2.3-2.7-1.8 .9 0 1.5"/><path class="j21" d="M443.3 1544.7l0-1.4-2.1-2.7-1.8 1 0 1.5"/><path class="j22" d="M390.6 1545.6l0-1.5-1.4-3.1-1.3-.3-1.4-1.2-2.9 1.1-1.6-.9-.7 .6 0 1.4"/><path class="ww" d="M384.4 1539.3l1.8 .2 1.9 .1 1.9 .2 1.9 .1 1.9 .2 1.9 .1 0 4.3-1.9-.1-1.9-.1-1.9-.2-1.9-.1-1.9-.1-1.8-.2z"/><path class="ww" d="M514.3 1543.2l2-.4 1.9-.5 2-.5 1.8-.5 1.9-.5 1.8-.5 0 2.1-1.8 .6-1.9 .6-1.8 .6-2 .6-1.9 .6-2 .5z"/><path class="j24" d="M394.7 1545.6l0-1.4-2.8-3.9-1.3-4-.5 .3-1.1 3.9-1.4 .8 0 1.4"/><path class="j21" d="M643.3 1544.9l0-1.4-2-2.6-2.3 .5-1.3-.2 0 1.4"/><path class="j21" d="M297.6 1544.3l0-1.3-.9-1-1.1 .1 0 1.4"/><path class="ww" d="M430.3 1541l1.9 0 1.9 0 1.9-.1 1.9-.1 1.8 0 1.9-.1 0 3.2-1.9 .1-1.8 .1-1.9 .2-1.9 .1-1.9 .1-1.9 .1z"/><path class="j23" d="M440.1 1545l0-1.6-2.3-5.9-2.2 4.2 0 1.4"/><path class="j21" d="M521.6 1544.7l0-1.4-1.4-1.6-1.1 .4 0 1.6"/><path class="j21" d="M580.1 1544.6l0-1.4-.9-.7-1.2-.1 0 1.4"/><path class="j22" d="M437.2 1545.4l0-1.4-2.5-3-2.3 1.1 0 1.4"/><path class="j22" d="M400.1 1546.2l0-1.3-1.2-2.2-1.5-.9-1.6-1.6-3 1.3-1.8-.7-.2 1.6"/><path class="j22" d="M433.4 1545.4l0-1.4-2.3-3-3.6 .6 0 1.4"/><path class="ww" d="M395.7 1540.2l1.9 .1 1.9 .1 1.9 .1 1.9 .1 1.9 0 2 .1 0 4.2-2 0-1.9-.1-1.9-.1-1.9 0-1.9-.1-1.9-.1z"/><path class="j23" d="M422.8 1545.9l0-1.4-3.4-5.5-2 3.1 0 1.6"/><path class="j24" d="M403.4 1546l0-1.4-2-2.9-1.6-5.3-1.6 4.6-1.3 1 0 1.3"/><path class="j21" d="M640.6 1545.4l0-1.5-1.8-2.3-3.4 .3 0 1.4"/><path class="ww" d="M418.7 1541l2 0 1.9 0 1.9 .1 1.9 0 2-.1 1.9 0 0 3.6-1.9 .1-2 0-1.9 .1-1.9 .1-1.9 0-2 0z"/><path class="ww" d="M407.2 1540.7l1.9 .1 1.9 0 2 0 1.9 .1 1.9 0 1.9 .1 0 3.9-1.9 .1-1.9 0-1.9 0-2 0-1.9-.1-1.9 0z"/><path class="j22" d="M426.4 1545.8l0-1.5-2.5-3.3-2.3 1.3 0 1.5"/><path class="j21" d="M577.6 1545.2l0-1.4-.9-.6-.9-.1 0 1.4"/><path class="j21" d="M519.8 1545.6l0-1.4-1.8-2.2-1.4 .7 0 1.6"/><path class="j23" d="M430.2 1545.8l0-1.6-2.2-6.1-1.6 3.3-1.2 .9 0 1.4"/><path class="j22" d="M409.1 1546.7l0-1.5-2.3-1.4-2.3-3.2-2.4 1.3-2.1-.6-.2 1.6"/><path class="j22" d="M415.4 1546.1l0-1.5-2.7-3.8-1.6 .7-1.8-.2-.7 .5 0 1.5"/><path class="j24" d="M411.6 1546.1l0-1.4-1.2-2.1-1.6-5.8-1.6 4.4-1.5 1.1 0 1.4"/><path class="j21" d="M638.2 1546l0-1.5-1.8-2.2-3.2 .3 0 1.3"/><path class="j20" d="M574.9 1545.7l0-1.4-.7-.5-.6-.1 0 1.5"/><path class="j22" d="M419.9 1546.3l0-1.6-1.4-2.7-.9-.9-1.3-.3-2.5 1.6 0 1.4"/><path class="j22" d="M518 1546.5l0-1.5-2.3-4.2-2.5 2.2 0 1.5"/><path class="j21" d="M635.7 1546.6l0-1.5-1.8-2.1-3 .3 0 1.3"/><path class="j20" d="M572.2 1546.2l0-1.4-.4-.3-.7-.1 0 1.4"/><path class="j21" d="M514.9 1546.8l0-1.5-1.4-1.8-1.6 .6 0 1.5"/><path class="j21" d="M633.2 1547.2l0-1.4-1.8-2.2-2.7 .3 0 1.4"/><path class="j20" d="M569.8 1546.8l0-1.3-.5-.3-.4-.1 0 1.4"/><path class="ww" d="M311.5 1536.7l2 .6 2 .6 2 .6 2.1 .5 2.1 .6 2.1 .5 0 8.4-2.1-.5-2.1-.5-2.1-.5-2-.6-2-.5-2-.6z"/><path class="j21" d="M512.6 1547.5l0-1.5-1.6-2.1-1.6 .8 0 1.5"/><path class="ww" d="M579.6 1557.9l7.4-2.1 7.4-2 7.4-2 7.4-2.1 0 2.1-7.4 1.7-7.4 1.8-7.4 1.8-7.4 1.8z"/><path class="j21" d="M630.8 1547.8l0-1.4-1.8-2.1-2.5 .3 0 1.4"/><path class="j20" d="M566.9 1547.2l0-1.3-.3 1.2"/><path class="ww" d="M501.9 1545.7l2.2-.4 2.1-.4 2.1-.4 2-.4 2-.4 2-.5 0 2.7-2 .6-2 .5-2 .5-2.1 .5-2.1 .5-2.2 .5z"/><path class="j21" d="M510.4 1548.2l0-1.4-1.8-2.5-1.6 1 0 1.5"/><path class="j21" d="M628.1 1548.3l0-1.5-1.6-1.8-2.5 .2 0 1.4"/><path class="j23" d="M509.1 1549.2l0-1.4-3-6-1.8 2.9-.9 .7 0 1.5"/><path class="j21" d="M625.6 1548.9l0-1.5-1.6-1.7-2.2 .2 0 1.4"/><path class="j21" d="M505.5 1549.3l0-1.4-1.9-2.6-1.8 1.2 0 1.3"/><path class="j21" d="M623.2 1549.5l0-1.4-1.6-1.7-2.1 .2 0 1.4"/><path class="j21" d="M503 1549.9l0-1.4-1.8-2.6-1.8 1.1 0 1.4"/><path class="j21" d="M620.5 1550l0-1.5-1.4-1.5-2 .2 0 1.4"/><path class="ww" d="M323.8 1540.1l2.1 .5 2.2 .5 2.2 .5 2.2 .5 2.2 .5 2.3 .4 0 8.3-2.3-.5-2.2-.4-2.2-.5-2.2-.4-2.2-.5-2.1-.5z"/><path class="j22" d="M500.5 1550.5l0-1.4-1.8-2.7-2 1.2 0 1.3"/><path class="j21" d="M618 1550.6l0-1.5-1.4-1.4-1.8 .1 0 1.5"/><path class="ww" d="M488.5 1547.8l2.3-.3 2.3-.3 2.2-.4 2.3-.3 2.2-.4 2.1-.4 0 3.3-2.1 .5-2.2 .5-2.3 .4-2.2 .5-2.3 .4-2.3 .4z"/><path class="j23" d="M498.7 1551.4l0-1.5-2.7-6-2 2.9-1.2 .8 0 1.4"/><path class="j21" d="M348.6 1550.8l0-1.4-.9-.7-.9 0 0 1.4"/><path class="j29" d="M342.2 1554.6l0-1.6-.9-1.3-2.8-.8-4-5.2-2.3-11.4-1.8 7.1-3 1.9-1.8 .5-1.6-2.5-2 2.7-4.1-.8-2-1.8-1.2 .5 0 1.4"/><path class="j21" d="M615.5 1551.2l0-1.4-1.3-1.4-1.8 .1 0 1.4"/><path class="j22" d="M495.8 1551.8l0-1.4-2.5-3.8-2 1.9 0 1.5"/><path class="j21" d="M612.8 1551.7l0-1.5-1.1-1.1-1.6 0 0 1.4"/><path class="j22" d="M492.7 1552.1l0-1.5-2.1-3.1-2 1.5 0 1.5"/><path class="j21" d="M610.4 1552.3l0-1.5-1.1-1-1.6 0 0 1.3"/><path class="j22" d="M490 1552.6l0-1.5-2.1-3.3-2 1.7 0 1.5"/><path class="j20" d="M359.9 1552.2l0-1.4-.7-.4-.4-.1 0 1.5"/><path class="j23" d="M487.8 1553.3l0-1.4-2.8-5.7-1.8 2.4-1.3 .8 0 1.5"/><path class="ww" d="M337 1543l2.3 .5 2.3 .4 2.3 .4 2.4 .4 2.4 .4 2.4 .4 0 8.1-2.4-.4-2.4-.3-2.4-.4-2.3-.4-2.3-.4-2.3-.4z"/><path class="j28" d="M354.6 1556.5l0-1.5-.9-1.2-2.7-1.1-3.2-4.7-1.8-3.9-1.6-6.9-1.4 7.1-.9 2.3-1.6 .9-2.2 .3-2.5-1.6-1.2 .7 0 1.4"/><path class="j21" d="M607.9 1552.9l0-1.4-1.1-1.1-1.4 0 0 1.4"/><path class="ww" d="M474.3 1549.3l2.5-.2 2.4-.2 2.3-.3 2.4-.3 2.3-.2 2.3-.3 0 3.9-2.3 .4-2.3 .4-2.4 .4-2.3 .3-2.4 .4-2.5 .3z"/><path class="j23" d="M485.7 1554.1l0-1.5-3.1-5.7-2.5 3.3 0 1.6"/><path class="j21" d="M605.2 1553.4l0-1.5-.9-.8-1.3 0 0 1.3"/><path class="j25" d="M346.9 1554.9l0-1.4-1.8-1.5-.9-1.5-1.8-5.9-1.4 1.1-1.8-2.1-.9-.4-2.5 1.2-1.6-2.5-2 4.2-4.4-.4-2-1.6-.9 .4 0 1.4"/><path class="j22" d="M481.9 1554.1l0-1.4-2.3-3.9-2.4 2 0 1.4"/><path class="j21" d="M602.8 1553.9l0-1.4-.9-.7-1.2-.1 0 1.4"/><path class="j22" d="M479 1554.5l0-1.4-2.3-4-2.5 2.1 0 1.4"/><path class="j23" d="M476.3 1555l0-1.4-2.7-5.5-2.1 2.3-1.5 .6 0 1.4"/><path class="j28" d="M366.5 1558.2l0-1.4-3.4-1.7-2.9-3.9-2.1-4.6-1.5-7.1-2.3 9.3-1.6 1.1-2.7 .1 0 1.4"/><path class="j21" d="M600.1 1554.5l0-1.5-.7-.5-.9-.2 0 1.5"/><path class="ww" d="M351.1 1545.5l2.4 .4 2.4 .3 2.5 .4 2.4 .3 2.5 .3 2.5 .3 0 7.9-2.5-.3-2.5-.3-2.4-.3-2.5-.3-2.4-.3-2.4-.3z"/><path class="j24" d="M474.5 1555.9l0-1.5-1.3-2.1-2.3-5.7-1.8 4.2-.9 1 0 1.5"/><path class="ww" d="M459.5 1550.4l2.5-.2 2.5-.1 2.5-.2 2.5-.2 2.4-.2 2.4-.2 0 4.6-2.4 .4-2.4 .3-2.5 .3-2.5 .2-2.5 .3-2.5 .3z"/><path class="j20" d="M597.6 1555l0-1.3-.7-.5-.9-.2 0 1.4"/><path class="j22" d="M470.5 1555.9l0-1.4-2.8-4.7-2.4 2.4 0 1.5"/><path class="j25" d="M358.4 1556.4l0-1.4-1.8-2-2.3-6.8-1.1 .8-2.1-1.5-3.4 2.7-1.8-1.5-1.3 1.9-1.2 .3 0 1.4"/><path class="j24" d="M369.2 1557.7l0-1.4-2.2-4.8-1.8-.8-2.3-3.6-.7 .2-2.5 2.6-2-1-1.8 1.9 0 1.4"/><path class="j22" d="M467.3 1556.2l0-1.5-2.5-4.6-2.7 2.5 0 1.4"/><path class="j20" d="M594.9 1555.5l0-1.4-.4-.3-.7-.1 0 1.4"/><path class="j23" d="M464.4 1556.6l0-1.4-2.9-5.9-2.3 2.2-1.8 .7 0 1.5"/><path class="j29" d="M374 1558l0-1.4-2.3-2.5-1.4-2.8-2-11.4-2 9.3-1.9 2-2.5 .5 0 1.4"/><path class="j25" d="M462.4 1557.4l0-1.4-1.6-3-2-6.4-2.1 5.3-1.1 1.2 0 1.5"/><path class="j20" d="M592.2 1556l-.2-1.5-.5-.1 0 1.4"/><path class="ww" d="M365.8 1547.5l2.5 .3 2.6 .3 2.5 .2 2.6 .3 2.5 .2 2.6 .2 0 7.7-2.6-.1-2.5-.2-2.6-.3-2.5-.2-2.6-.2-2.5-.3z"/><path class="j23" d="M458.3 1557.3l0-1.4-2.9-5.3-3 2.8 0 1.5"/><path class="ww" d="M444.1 1550.9l2.6 0 2.6-.1 2.6-.1 2.5-.1 2.6-.1 2.5-.1 0 5.3-2.5 .2-2.6 .2-2.5 .3-2.6 .2-2.6 .2-2.6 .1z"/><path class="j24" d="M380.5 1559.1l0-1.5-1.1-1.2-2.5-1.5-3.6-6.6-2.1 1.4-1.6-.6-1.6 2.7-.9 .4 0 1.4"/><path class="j23" d="M455 1557.5l0-1.4-3-5.4-1.8 2.3-1.1 .7 0 1.4"/><path class="j24" d="M451.8 1557.9l0-1.5-3.4-7.1-2.7 3.2-1.4 .9 0 1.4"/><path class="j20" d="M589.5 1556.6l0-1.4 0 1.4"/><path class="j27" d="M387.9 1558.9l0-1.4-1.8-2.1-1.6-3.2-2.5-8.2-.6 1.2-1.6 6.8-.9 1-1.4 .3 0 1.3"/><path class="j25" d="M449.4 1558.4l0-1.4-1.4-2.8-2.3-6.9-2 5.5-1.4 1.3 0 1.5"/><path class="ww" d="M381.1 1549l2.6 .2 2.6 .2 2.6 .2 2.6 .1 2.6 .2 2.7 .1 0 7.6-2.7-.1-2.6-.1-2.6-.2-2.6-.1-2.6-.2-2.6-.2z"/><path class="j23" d="M445.5 1558.5l0-1.5-1.3-1.6-2.1-4.4-.6 .3-1.6 2.4-1.2 .6 0 1.4"/><path class="ww" d="M428.4 1551l2.7 0 2.6 0 2.6 0 2.6 0 2.6 0 2.6-.1 0 6-2.6 .2-2.6 .1-2.6 .2-2.6 .1-2.6 .1-2.7 .1z"/><path class="j24" d="M394 1559.8l0-1.5-3.4-2.7-3.1-6.1-2.8 3.1-2.2-.4-1.4 .9 0 1.4"/><path class="j26" d="M400.8 1559.4l0-1.5-2.3-3.2-3.2-8.2-.7 .8-1.8 5.9-1.3 1 0 1.4"/><path class="j23" d="M441.9 1558.6l0-1.4-3.4-6.2-2.5 3-2.2-.1 0 1.4"/><path class="j25" d="M383.4 1558.7l0-1.4-1.3-2.1-2.3-7.4-2 .9-3.2 3.7-1.8 .4-2.5-1.1-.3 1.5"/><path class="j25" d="M438.6 1558.8l0-1.3-1.8-3.1-2.1-7.3-.7 .8-1.8 5.1-1.1 1.3 0 1.5"/><path class="ww" d="M396.8 1550l2.6 .1 2.6 .1 2.7 .1 2.6 .1 2.6 .1 2.7 0 0 7.4-2.7 0-2.6-.1-2.6 0-2.7-.1-2.6 0-2.6-.1z"/><path class="j27" d="M412.9 1559.6l0-1.5-2.5-4.2-2.2-8.5-2.3 7.7-.7 1.1-.9 .4 0 1.4"/><path class="ww" d="M412.6 1550.5l2.6 .1 2.7 .1 2.6 .1 2.7 .1 2.6 0 2.6 .1 0 6.7-2.6 0-2.6 .1-2.7 0-2.6 .1-2.7 0-2.6 0z"/><path class="j24" d="M407.1 1560.4l0-1.5-2.5-1.4-1.1-1.3-3-6-2.9 3.6-2.3-.5-1.1 .4 0 1.4"/><path class="j23" d="M431.6 1559.2l0-1.5-1.4-1.7-2.2-5-.7 .4-1.6 2.5-1.6 .8 0 1.4"/><path class="j24" d="M428 1559.3l0-1.3-1.4-1.9-2.5-5.3-1.8 1.8-3.1 1.6 0 1.5"/><path class="j24" d="M435.9 1559.3l0-1.5-3.9-8.3-.7 .6-1.8 3.6-1.6 1 0 1.4"/><path class="j24" d="M416.8 1559.5l0-1.4-1.6-2.2-2.5-5.4-2.5 3.3-3.4 .2 0 1.4"/><path class="j26" d="M396.7 1559.3l0-1.4-1.3-2.3-2.3-8.6-.7 .4-2.9 5.4-2.5 1.1 0 1.4"/><path class="j28" d="M424.2 1559.4l0-1.5-1.8-4.2-1.9-9.9-2 8.8-.9 1.7-1.1 .5 0 1.4"/><path class="j24" d="M421.9 1560l0-1.4-3.4-4.5-1.8-3.4-.7 .3-1.8 2.9-1.6 .8 0 1.5"/><path class="j25" d="M409.3 1559.7l0-1.5-3.6-8.8-1.1 .4-2.5 4-1.8 .7 0 1.5"/>
</g>
<path d="M65.6 1360.2L65.6 1631.1L368 1755.3L762.3 1660.1M65.6 1631.1l-8.8 -3.6M65.6 1495.7l-8.8 -3.6M65.6 1360.2l-8.8 -3.6M65.6 1631.1l-8.3 2M141.2 1662.2l-8.3 2M216.8 1693.2l-8.3 2M292.4 1724.2l-8.3 2M368 1755.3l-8.3 2M368 1755.3l8.8 3.6M466.6 1731.5l8.8 3.6M565.1 1707.7l8.8 3.6M663.7 1683.9l8.8 3.6M762.3 1660.1l8.8 3.6" stroke="#333" stroke-width="1.15" fill="none"/>
<text transform="matrix(1.07 0 0 1 50.1 1370.2)" class="t3" text-anchor="end">2</text>
<text transform="matrix(1.07 0 0 1 50.1 1505.7)" class="t3" text-anchor="end">0</text>
<text transform="matrix(1.07 0 0 1 50.1 1641.1)" class="t3" text-anchor="end">-2</text>
<text transform="matrix(1.07 0 0 1 49.6 1673.6)" class="t3" text-anchor="end">40</text>
<text transform="matrix(1.07 0 0 1 125.2 1704.7)" class="t3" text-anchor="end">20</text>
<text transform="matrix(1.07 0 0 1 200.8 1735.7)" class="t3" text-anchor="end">0</text>
<text transform="matrix(1.07 0 0 1 276.4 1766.8)" class="t3" text-anchor="end">-20</text>
<text transform="matrix(1.07 0 0 1 352 1797.8)" class="t3" text-anchor="end">-40</text>
<text transform="matrix(1.07 0 0 1 381 1797.8)" class="t3">-40</text>
<text transform="matrix(1.07 0 0 1 479.6 1774)" class="t3">-20</text>
<text transform="matrix(1.07 0 0 1 578.1 1750.2)" class="t3">0</text>
<text transform="matrix(1.07 0 0 1 676.7 1726.4)" class="t3">20</text>
<text transform="matrix(1.07 0 0 1 775.3 1702.6)" class="t3">40</text>
<text x="352.8" y="1249.9" class="pl3" textLength="49.7" lengthAdjust="spacingAndGlyphs">(e)</text>
<text x="415.6" y="1247.6" class="ti"><tspan font-style="italic">E</tspan></text>
<text x="430.9" y="1252.1" class="tis" font-style="italic">f</text>
<text x="449.1" y="1247.6" class="ti" textLength="93.1" lengthAdjust="spacingAndGlyphs">=0.2eV</text>
<text x="65.4" y="1322.5" class="x10" textLength="78.3" lengthAdjust="spacingAndGlyphs">x 10</text>
<text x="146.0" y="1284.9" class="m4" textLength="23.4" lengthAdjust="spacingAndGlyphs">-4</text>
<text x="160.2" y="1310" class="cm" textLength="44.7" lengthAdjust="spacingAndGlyphs">C/m</text>
<text x="205.5" y="1298" class="sq">2</text>
<path d="M982.8 1607.5L982.8 1336M1082.4 1583.8L1082.4 1312.3M1182 1560.2L1182 1288.7M1281.6 1536.5L1281.6 1265M1358.2 1567.7L1358.2 1296.2M1434.8 1598.9L1434.8 1327.4M1511.4 1630L1511.4 1358.5M1588 1661.2L1588 1389.7M883.2 1359.6L1281.6 1265L1588 1389.7M883.2 1631.1L1281.6 1536.5L1588 1661.2M1289.2 1732.2L982.8 1607.5M1113 1724.6L1511.4 1630M1388.8 1708.5L1082.4 1583.8M1036.4 1693.5L1434.8 1598.9M1488.4 1684.8L1182 1560.2M959.8 1662.3L1358.2 1567.7" stroke="#333" stroke-width="1.5" stroke-dasharray="1.5 5.3" fill="none"/>
<polygon points="1190.2,1618.7 1583.6,1525.3 1281,1402.1 887.6,1495.5" fill="#a0f5a0"/>
<path stroke="#f4fff2" stroke-width="1.8" d="M1337.5 1523.2l6.5 -1.5M1339.3 1521.6l6.5 -1.5M1340.7 1520l6.5 -1.5M1341.8 1518.5l6.5 -1.5M1342.7 1517.1l6.5 -1.5M1343.3 1515.7l6.5 -1.5M1343.8 1514.3l6.5 -1.5M1344.1 1513l6.5 -1.5M1344.2 1511.8l6.5 -1.5M1344.2 1510.5l6.5 -1.5M1344 1509.3l6.5 -1.5M1343.7 1508.2l6.5 -1.5M1343.3 1507l6.5 -1.5M1342.8 1505.9l6.5 -1.5M1342.2 1504.8l6.5 -1.5M1341.5 1503.8l6.5 -1.5M1140.5 1494.2l-5 -2M1340.7 1502.7l6.5 -1.5M1142.3 1493.3l-5 -2M1339.8 1501.7l6.5 -1.5M1144 1492.4l-5 -2M1338.8 1500.7l6.5 -1.5M1145.9 1491.5l-5 -2M1337.7 1499.7l6.5 -1.5M1147.8 1490.7l-5 -2M1336.6 1498.8l6.5 -1.5M1149.7 1489.9l-5 -2M1335.4 1497.8l6.5 -1.5M1151.7 1489.1l-5 -2M1334.1 1496.9l6.5 -1.5M1153.8 1488.3l-5 -2M1332.7 1496l6.5 -1.5M1156 1487.6l-5 -2M1331.2 1495.1l6.5 -1.5M1158.1 1486.9l-5 -2M1329.7 1494.2l6.5 -1.5M1160.4 1486.2l-5 -2M1328.1 1493.4l6.5 -1.5M1162.7 1485.5l-5 -2M1326.4 1492.5l6.5 -1.5M1165 1484.9l-5 -2M1324.7 1491.7l6.5 -1.5M1167.5 1484.3l-5 -2M1322.9 1490.9l6.5 -1.5M1169.9 1483.7l-5 -2M1321 1490.1l6.5 -1.5M1172.4 1483.1l-5 -2M1319.1 1489.3l6.5 -1.5M1175 1482.5l-5 -2M1317 1488.6l6.5 -1.5M1177.6 1482l-5 -2M1314.9 1487.9l6.5 -1.5M1180.3 1481.5l-5 -2M1312.8 1487.1l6.5 -1.5M1183 1481l-5 -2M1310.6 1486.4l6.5 -1.5M1185.8 1480.5l-5 -2M1308.2 1485.7l6.5 -1.5M1188.7 1480.1l-5 -2M1305.9 1485.1l6.5 -1.5M1191.6 1479.6l-5 -2M1303.4 1484.4l6.5 -1.5M1194.5 1479.2l-5 -2M1300.9 1483.8l6.5 -1.5M1197.6 1478.9l-5 -2M1298.3 1483.2l6.5 -1.5M1200.6 1478.5l-5 -2M1295.6 1482.6l6.5 -1.5M1203.8 1478.2l-5 -2M1292.8 1482l6.5 -1.5M1207 1477.9l-5 -2M1290 1481.4l6.5 -1.5M1210.3 1477.6l-5 -2M1287.1 1480.9l6.5 -1.5M1213.6 1477.4l-5 -2M1284 1480.4l6.5 -1.5M1217 1477.2l-5 -2M1280.9 1479.9l6.5 -1.5M1220.5 1477l-5 -2M1277.7 1479.4l6.5 -1.5M1224.1 1476.8l-5 -2M1274.4 1479l6.5 -1.5M1341.7 1524.7l-5 -2M1227.7 1476.7l-5 -2M1270.9 1478.6l6.5 -1.5M1343.1 1523.6l-5 -2M1231.5 1476.6l-5 -2M1267.4 1478.2l6.5 -1.5M1344.3 1522.5l-5 -2M1235.3 1476.6l-5 -2M1263.7 1477.8l6.5 -1.5M1345.4 1521.4l-5 -2M1239.3 1476.6l-5 -2M1259.9 1477.5l6.5 -1.5M1346.5 1520.2l-5 -2M1243.3 1476.6l-5 -2M1256 1477.2l6.5 -1.5M1347.4 1519l-5 -2M1247.5 1476.7l-5 -2M1251.9 1476.9l6.5 -1.5M1348.2 1517.7l-5 -2M1251.8 1476.9l-5 -2M1247.6 1476.7l6.5 -1.5M1348.9 1516.4l-5 -2M1256.3 1477.1l-5 -2M1243.1 1476.5l6.5 -1.5M1349.4 1515l-5 -2M1260.9 1477.4l-5 -2M1238.4 1476.4l6.5 -1.5M1349.8 1513.5l-5 -2M1265.7 1477.7l-5 -2M1233.5 1476.3l6.5 -1.5M1349.9 1512l-5 -2M1270.8 1478.2l-5 -2M1228.2 1476.4l6.5 -1.5M1349.8 1510.4l-5 -2M1276.1 1478.7l-5 -2M1222.6 1476.5l6.5 -1.5M1349.5 1508.6l-5 -2M1281.8 1479.4l-5 -2M1216.6 1476.7l6.5 -1.5M1348.8 1506.7l-5 -2M1287.9 1480.3l-5 -2M1209.9 1477l6.5 -1.5M1347.6 1504.7l-5 -2M1294.7 1481.5l-5 -2M1202.4 1477.6l6.5 -1.5M1345.8 1502.3l-5 -2M1135.9 1493.3l6.5 -1.5M1302.5 1483.1l-5 -2M1193.5 1478.4l6.5 -1.5M1343 1499.5l-5 -2M1141 1490.9l6.5 -1.5M1312.8 1485.6l-5 -2M1181.5 1480l6.5 -1.5M1337.7 1495.8l-5 -2M1149.1 1487.7l6.5 -1.5M1374.7 1529.2l6.5 -1.5M1376.8 1527.5l6.5 -1.5M1378.6 1525.8l6.5 -1.5M1380.1 1524.2l6.5 -1.5M1381.4 1522.7l6.5 -1.5M1382.4 1521.2l6.5 -1.5M1383.3 1519.7l6.5 -1.5M1384.1 1518.3l6.5 -1.5M1384.6 1517l6.5 -1.5M1385.1 1515.6l6.5 -1.5M1385.4 1514.3l6.5 -1.5M1385.6 1513l6.5 -1.5M1385.7 1511.8l6.5 -1.5M1385.6 1510.6l6.5 -1.5M1385.5 1509.4l6.5 -1.5M1385.3 1508.2l6.5 -1.5M1385 1507l6.5 -1.5M1384.6 1505.9l6.5 -1.5M1384.1 1504.8l6.5 -1.5M1383.6 1503.6l6.5 -1.5M1383 1502.6l6.5 -1.5M1382.3 1501.5l6.5 -1.5M1381.5 1500.4l6.5 -1.5M1104.7 1487.6l-5 -2M1380.7 1499.4l6.5 -1.5M1106.4 1486.7l-5 -2M1379.8 1498.4l6.5 -1.5M1108.2 1485.8l-5 -2M1378.8 1497.4l6.5 -1.5M1110 1484.9l-5 -2M1377.8 1496.4l6.5 -1.5M1111.8 1484.1l-5 -2M1376.7 1495.4l6.5 -1.5M1113.7 1483.3l-5 -2M1375.6 1494.4l6.5 -1.5M1115.6 1482.4l-5 -2M1374.4 1493.5l6.5 -1.5M1117.6 1481.6l-5 -2M1373.1 1492.6l6.5 -1.5M1119.7 1480.9l-5 -2M1371.8 1491.6l6.5 -1.5M1121.7 1480.1l-5 -2M1370.4 1490.7l6.5 -1.5M1123.8 1479.4l-5 -2M1369 1489.8l6.5 -1.5M1126 1478.6l-5 -2M1367.6 1488.9l6.5 -1.5M1128.2 1477.9l-5 -2M1366 1488.1l6.5 -1.5M1130.4 1477.2l-5 -2M1364.4 1487.2l6.5 -1.5M1132.7 1476.5l-5 -2M1362.8 1486.4l6.5 -1.5M1135 1475.9l-5 -2M1361.1 1485.5l6.5 -1.5M1137.3 1475.2l-5 -2M1359.4 1484.7l6.5 -1.5M1139.7 1474.6l-5 -2M1357.6 1483.9l6.5 -1.5M1142.2 1474l-5 -2M1355.8 1483.1l6.5 -1.5M1144.6 1473.4l-5 -2M1353.9 1482.3l6.5 -1.5M1147.1 1472.8l-5 -2M1351.9 1481.5l6.5 -1.5M1149.7 1472.2l-5 -2M1349.9 1480.8l6.5 -1.5M1152.3 1471.7l-5 -2M1347.9 1480l6.5 -1.5M1154.9 1471.1l-5 -2M1345.8 1479.3l6.5 -1.5M1157.6 1470.6l-5 -2M1343.7 1478.6l6.5 -1.5M1160.3 1470.1l-5 -2M1341.5 1477.9l6.5 -1.5M1163 1469.6l-5 -2M1339.2 1477.2l6.5 -1.5M1165.8 1469.2l-5 -2M1336.9 1476.5l6.5 -1.5M1168.7 1468.7l-5 -2M1334.6 1475.8l6.5 -1.5M1171.5 1468.3l-5 -2M1332.1 1475.1l6.5 -1.5M1174.4 1467.9l-5 -2M1329.7 1474.5l6.5 -1.5M1177.4 1467.5l-5 -2M1327.2 1473.8l6.5 -1.5M1180.4 1467.1l-5 -2M1324.6 1473.2l6.5 -1.5M1183.4 1466.7l-5 -2M1322 1472.6l6.5 -1.5M1186.5 1466.4l-5 -2M1319.3 1472l6.5 -1.5M1189.6 1466l-5 -2M1316.5 1471.4l6.5 -1.5M1192.8 1465.7l-5 -2M1313.7 1470.9l6.5 -1.5M1196 1465.4l-5 -2M1310.8 1470.3l6.5 -1.5M1199.3 1465.1l-5 -2M1307.9 1469.8l6.5 -1.5M1202.6 1464.9l-5 -2M1304.9 1469.3l6.5 -1.5M1206 1464.7l-5 -2M1301.8 1468.8l6.5 -1.5M1209.5 1464.5l-5 -2M1298.7 1468.3l6.5 -1.5M1212.9 1464.3l-5 -2M1295.5 1467.8l6.5 -1.5M1216.5 1464.1l-5 -2M1292.2 1467.3l6.5 -1.5M1220.1 1464l-5 -2M1288.8 1466.9l6.5 -1.5M1380.6 1529.3l-5 -2M1223.7 1463.9l-5 -2M1285.4 1466.5l6.5 -1.5M1381.9 1528.2l-5 -2M1227.5 1463.8l-5 -2M1281.9 1466.1l6.5 -1.5M1383.2 1527.1l-5 -2M1231.3 1463.7l-5 -2M1278.3 1465.7l6.5 -1.5M1384.3 1526l-5 -2M1235.1 1463.7l-5 -2M1274.6 1465.4l6.5 -1.5M1385.5 1524.9l-5 -2M1239.1 1463.7l-5 -2M1270.8 1465l6.5 -1.5M1386.5 1523.7l-5 -2M1243.1 1463.7l-5 -2M1266.8 1464.7l6.5 -1.5M1387.5 1522.5l-5 -2M1247.2 1463.8l-5 -2M1262.8 1464.4l6.5 -1.5M1388.3 1521.2l-5 -2M1251.4 1463.9l-5 -2M1258.7 1464.2l6.5 -1.5M1389.1 1519.9l-5 -2M1255.7 1464l-5 -2M1254.4 1464l6.5 -1.5M1389.8 1518.6l-5 -2M1260.1 1464.2l-5 -2M1250 1463.8l6.5 -1.5M1390.4 1517.2l-5 -2M1264.6 1464.5l-5 -2M1245.5 1463.6l6.5 -1.5M1390.8 1515.8l-5 -2M1269.3 1464.7l-5 -2M1240.7 1463.5l6.5 -1.5M1391.2 1514.3l-5 -2M1274.1 1465.1l-5 -2M1235.8 1463.4l6.5 -1.5M1391.3 1512.8l-5 -2M1279 1465.5l-5 -2M1230.7 1463.4l6.5 -1.5M1391.4 1511.2l-5 -2M1284.2 1466l-5 -2M1225.4 1463.5l6.5 -1.5M1391.2 1509.6l-5 -2M1289.5 1466.5l-5 -2M1219.7 1463.6l6.5 -1.5M1390.9 1507.8l-5 -2M1295.1 1467.2l-5 -2M1213.8 1463.7l6.5 -1.5M1390.3 1505.9l-5 -2M1301 1468l-5 -2M1207.5 1464l6.5 -1.5M1389.3 1504l-5 -2M1307.2 1468.9l-5 -2M1200.7 1464.4l6.5 -1.5M1388.1 1501.8l-5 -2M1314 1470.1l-5 -2M1193.2 1464.9l6.5 -1.5M1386.3 1499.5l-5 -2M1099.2 1487.3l6.5 -1.5M1321.4 1471.5l-5 -2M1184.8 1465.7l6.5 -1.5M1383.8 1496.9l-5 -2M1103.7 1485l6.5 -1.5M1330 1473.4l-5 -2M1175.1 1466.8l6.5 -1.5M1380.3 1493.9l-5 -2M1109.7 1482.3l6.5 -1.5M1340.8 1476.2l-5 -2M1162.4 1468.6l6.5 -1.5M1374.5 1489.9l-5 -2M1118.5 1479l6.5 -1.5M1220.8 1602.8l6.5 -1.5M1218.9 1602l6.5 -1.5M1217 1601.2l6.5 -1.5M1215.1 1600.4l6.5 -1.5M1213.2 1599.6l6.5 -1.5M1211.3 1598.9l6.5 -1.5M1209.4 1598.1l6.5 -1.5M1207.4 1597.3l6.5 -1.5M1205.5 1596.5l6.5 -1.5M1203.6 1595.7l6.5 -1.5M1201.7 1595l6.5 -1.5M1199.8 1594.2l6.5 -1.5M1203.6 1593.7l-5 -2M1226.6 1603l-5 -2M1197.9 1593.4l6.5 -1.5M1206.1 1593.1l-5 -2M1229.1 1602.4l-5 -2M1208.6 1592.5l-5 -2M1231.5 1601.8l-5 -2M1211.1 1591.9l-5 -2M1234 1601.2l-5 -2M1213.5 1591.3l-5 -2M1236.5 1600.6l-5 -2M1216 1590.7l-5 -2M1239 1600l-5 -2M1218.5 1590.1l-5 -2M1241.5 1599.5l-5 -2M1221 1589.5l-5 -2M1244 1598.9l-5 -2M1223.5 1588.9l-5 -2M1246.5 1598.3l-5 -2M1226 1588.3l-5 -2M1249 1597.7l-5 -2M1228.5 1587.7l-5 -2M1251.5 1597.1l-5 -2M1231 1587.1l-5 -2M1254 1596.5l-5 -2M1233.5 1586.6l-5 -2M1256.4 1595.9l-5 -2M1236 1586l-5 -2M1258.9 1595.3l-5 -2M1238.4 1585.4l-5 -2M1261.4 1594.7l-5 -2M1240.9 1584.8l-5 -2M1263.9 1594.1l-5 -2M1243.4 1584.2l-5 -2M1266.4 1593.5l-5 -2M1245.9 1583.6l-5 -2M1268.9 1593l-5 -2M1248.4 1583l-5 -2M1271.4 1592.4l-5 -2M1250.9 1582.4l-5 -2M1273.9 1591.8l-5 -2M1253.4 1581.8l-5 -2M1276.4 1591.2l-5 -2M1255.9 1581.2l-5 -2M1278.9 1590.6l-5 -2M1258.4 1580.6l-5 -2M1281.3 1590l-5 -2M1260.9 1580.1l-5 -2M1283.8 1589.4l-5 -2M1263.3 1579.5l-5 -2M1286.3 1588.8l-5 -2M1265.8 1578.9l-5 -2M1288.8 1588.2l-5 -2M1268.3 1578.3l-5 -2M1291.3 1587.6l-5 -2M1270.8 1577.7l-5 -2M1293.8 1587l-5 -2M1273.3 1577.1l-5 -2M1296.3 1586.4l-5 -2M1275.8 1576.5l-5 -2M1298.8 1585.9l-5 -2M1278.3 1575.9l-5 -2M1301.3 1585.3l-5 -2M1280.8 1575.3l-5 -2M1303.8 1584.7l-5 -2M1283.3 1574.7l-5 -2M1306.2 1584.1l-5 -2M1285.8 1574.1l-5 -2M1308.7 1583.5l-5 -2M1288.2 1573.5l-5 -2M1311.2 1582.9l-5 -2M1290.7 1573l-5 -2M1313.7 1582.3l-5 -2M1293.2 1572.4l-5 -2M1316.2 1581.7l-5 -2M1295.7 1571.8l-5 -2M1318.7 1581.1l-5 -2M1298.2 1571.2l-5 -2M1321.2 1580.5l-5 -2M1300.7 1570.6l-5 -2M1323.7 1579.9l-5 -2M1303.2 1570l-5 -2M1326.2 1579.4l-5 -2M1305.7 1569.4l-5 -2M1328.7 1578.8l-5 -2M1308.2 1568.8l-5 -2M1331.1 1578.2l-5 -2M1310.7 1568.2l-5 -2M1333.6 1577.6l-5 -2M1313.1 1567.6l-5 -2M1336.1 1577l-5 -2M1315.6 1567l-5 -2M1338.6 1576.4l-5 -2M1318.1 1566.5l-5 -2M1341.1 1575.8l-5 -2M1320.6 1565.9l-5 -2M1343.6 1575.2l-5 -2M1323.1 1565.3l-5 -2M1346.1 1574.6l-5 -2M1325.6 1564.7l-5 -2M1348.6 1574l-5 -2M1328.1 1564.1l-5 -2M1351.1 1573.4l-5 -2M1330.6 1563.5l-5 -2M1353.6 1572.8l-5 -2M1333.1 1562.9l-5 -2M1356 1572.3l-5 -2M1335.6 1562.3l-5 -2M1358.5 1571.7l-5 -2M1338 1561.7l-5 -2M1361 1571.1l-5 -2M1340.5 1561.1l-5 -2M1363.5 1570.5l-5 -2M1343 1560.5l-5 -2M1366 1569.9l-5 -2M1345.5 1559.9l-5 -2M1368.5 1569.3l-5 -2M1348 1559.4l-5 -2M1371 1568.7l-5 -2M1350.5 1558.8l-5 -2M1373.5 1568.1l-5 -2"/>
<path stroke="#7ee3ec" stroke-width=".85" d="M1337.5 1523.2l6.5 -1.5M1339.3 1521.6l6.5 -1.5M1340.7 1520l6.5 -1.5M1341.8 1518.5l6.5 -1.5M1342.7 1517.1l6.5 -1.5M1343.3 1515.7l6.5 -1.5M1343.8 1514.3l6.5 -1.5M1344.1 1513l6.5 -1.5M1344.2 1511.8l6.5 -1.5M1344.2 1510.5l6.5 -1.5M1344 1509.3l6.5 -1.5M1343.7 1508.2l6.5 -1.5M1343.3 1507l6.5 -1.5M1342.8 1505.9l6.5 -1.5M1342.2 1504.8l6.5 -1.5M1341.5 1503.8l6.5 -1.5M1140.5 1494.2l-5 -2M1340.7 1502.7l6.5 -1.5M1142.3 1493.3l-5 -2M1339.8 1501.7l6.5 -1.5M1144 1492.4l-5 -2M1338.8 1500.7l6.5 -1.5M1145.9 1491.5l-5 -2M1337.7 1499.7l6.5 -1.5M1147.8 1490.7l-5 -2M1336.6 1498.8l6.5 -1.5M1149.7 1489.9l-5 -2M1335.4 1497.8l6.5 -1.5M1151.7 1489.1l-5 -2M1334.1 1496.9l6.5 -1.5M1153.8 1488.3l-5 -2M1332.7 1496l6.5 -1.5M1156 1487.6l-5 -2M1331.2 1495.1l6.5 -1.5M1158.1 1486.9l-5 -2M1329.7 1494.2l6.5 -1.5M1160.4 1486.2l-5 -2M1328.1 1493.4l6.5 -1.5M1162.7 1485.5l-5 -2M1326.4 1492.5l6.5 -1.5M1165 1484.9l-5 -2M1324.7 1491.7l6.5 -1.5M1167.5 1484.3l-5 -2M1322.9 1490.9l6.5 -1.5M1169.9 1483.7l-5 -2M1321 1490.1l6.5 -1.5M1172.4 1483.1l-5 -2M1319.1 1489.3l6.5 -1.5M1175 1482.5l-5 -2M1317 1488.6l6.5 -1.5M1177.6 1482l-5 -2M1314.9 1487.9l6.5 -1.5M1180.3 1481.5l-5 -2M1312.8 1487.1l6.5 -1.5M1183 1481l-5 -2M1310.6 1486.4l6.5 -1.5M1185.8 1480.5l-5 -2M1308.2 1485.7l6.5 -1.5M1188.7 1480.1l-5 -2M1305.9 1485.1l6.5 -1.5M1191.6 1479.6l-5 -2M1303.4 1484.4l6.5 -1.5M1194.5 1479.2l-5 -2M1300.9 1483.8l6.5 -1.5M1197.6 1478.9l-5 -2M1298.3 1483.2l6.5 -1.5M1200.6 1478.5l-5 -2M1295.6 1482.6l6.5 -1.5M1203.8 1478.2l-5 -2M1292.8 1482l6.5 -1.5M1207 1477.9l-5 -2M1290 1481.4l6.5 -1.5M1210.3 1477.6l-5 -2M1287.1 1480.9l6.5 -1.5M1213.6 1477.4l-5 -2M1284 1480.4l6.5 -1.5M1217 1477.2l-5 -2M1280.9 1479.9l6.5 -1.5M1220.5 1477l-5 -2M1277.7 1479.4l6.5 -1.5M1224.1 1476.8l-5 -2M1274.4 1479l6.5 -1.5M1341.7 1524.7l-5 -2M1227.7 1476.7l-5 -2M1270.9 1478.6l6.5 -1.5M1343.1 1523.6l-5 -2M1231.5 1476.6l-5 -2M1267.4 1478.2l6.5 -1.5M1344.3 1522.5l-5 -2M1235.3 1476.6l-5 -2M1263.7 1477.8l6.5 -1.5M1345.4 1521.4l-5 -2M1239.3 1476.6l-5 -2M1259.9 1477.5l6.5 -1.5M1346.5 1520.2l-5 -2M1243.3 1476.6l-5 -2M1256 1477.2l6.5 -1.5M1347.4 1519l-5 -2M1247.5 1476.7l-5 -2M1251.9 1476.9l6.5 -1.5M1348.2 1517.7l-5 -2M1251.8 1476.9l-5 -2M1247.6 1476.7l6.5 -1.5M1348.9 1516.4l-5 -2M1256.3 1477.1l-5 -2M1243.1 1476.5l6.5 -1.5M1349.4 1515l-5 -2M1260.9 1477.4l-5 -2M1238.4 1476.4l6.5 -1.5M1349.8 1513.5l-5 -2M1265.7 1477.7l-5 -2M1233.5 1476.3l6.5 -1.5M1349.9 1512l-5 -2M1270.8 1478.2l-5 -2M1228.2 1476.4l6.5 -1.5M1349.8 1510.4l-5 -2M1276.1 1478.7l-5 -2M1222.6 1476.5l6.5 -1.5M1349.5 1508.6l-5 -2M1281.8 1479.4l-5 -2M1216.6 1476.7l6.5 -1.5M1348.8 1506.7l-5 -2M1287.9 1480.3l-5 -2M1209.9 1477l6.5 -1.5M1347.6 1504.7l-5 -2M1294.7 1481.5l-5 -2M1202.4 1477.6l6.5 -1.5M1345.8 1502.3l-5 -2M1135.9 1493.3l6.5 -1.5M1302.5 1483.1l-5 -2M1193.5 1478.4l6.5 -1.5M1343 1499.5l-5 -2M1141 1490.9l6.5 -1.5M1312.8 1485.6l-5 -2M1181.5 1480l6.5 -1.5M1337.7 1495.8l-5 -2M1149.1 1487.7l6.5 -1.5M1374.7 1529.2l6.5 -1.5M1376.8 1527.5l6.5 -1.5M1378.6 1525.8l6.5 -1.5M1380.1 1524.2l6.5 -1.5M1381.4 1522.7l6.5 -1.5M1382.4 1521.2l6.5 -1.5M1383.3 1519.7l6.5 -1.5M1384.1 1518.3l6.5 -1.5M1384.6 1517l6.5 -1.5M1385.1 1515.6l6.5 -1.5M1385.4 1514.3l6.5 -1.5M1385.6 1513l6.5 -1.5M1385.7 1511.8l6.5 -1.5M1385.6 1510.6l6.5 -1.5M1385.5 1509.4l6.5 -1.5M1385.3 1508.2l6.5 -1.5M1385 1507l6.5 -1.5M1384.6 1505.9l6.5 -1.5M1384.1 1504.8l6.5 -1.5M1383.6 1503.6l6.5 -1.5M1383 1502.6l6.5 -1.5M1382.3 1501.5l6.5 -1.5M1381.5 1500.4l6.5 -1.5M1104.7 1487.6l-5 -2M1380.7 1499.4l6.5 -1.5M1106.4 1486.7l-5 -2M1379.8 1498.4l6.5 -1.5M1108.2 1485.8l-5 -2M1378.8 1497.4l6.5 -1.5M1110 1484.9l-5 -2M1377.8 1496.4l6.5 -1.5M1111.8 1484.1l-5 -2M1376.7 1495.4l6.5 -1.5M1113.7 1483.3l-5 -2M1375.6 1494.4l6.5 -1.5M1115.6 1482.4l-5 -2M1374.4 1493.5l6.5 -1.5M1117.6 1481.6l-5 -2M1373.1 1492.6l6.5 -1.5M1119.7 1480.9l-5 -2M1371.8 1491.6l6.5 -1.5M1121.7 1480.1l-5 -2M1370.4 1490.7l6.5 -1.5M1123.8 1479.4l-5 -2M1369 1489.8l6.5 -1.5M1126 1478.6l-5 -2M1367.6 1488.9l6.5 -1.5M1128.2 1477.9l-5 -2M1366 1488.1l6.5 -1.5M1130.4 1477.2l-5 -2M1364.4 1487.2l6.5 -1.5M1132.7 1476.5l-5 -2M1362.8 1486.4l6.5 -1.5M1135 1475.9l-5 -2M1361.1 1485.5l6.5 -1.5M1137.3 1475.2l-5 -2M1359.4 1484.7l6.5 -1.5M1139.7 1474.6l-5 -2M1357.6 1483.9l6.5 -1.5M1142.2 1474l-5 -2M1355.8 1483.1l6.5 -1.5M1144.6 1473.4l-5 -2M1353.9 1482.3l6.5 -1.5M1147.1 1472.8l-5 -2M1351.9 1481.5l6.5 -1.5M1149.7 1472.2l-5 -2M1349.9 1480.8l6.5 -1.5M1152.3 1471.7l-5 -2M1347.9 1480l6.5 -1.5M1154.9 1471.1l-5 -2M1345.8 1479.3l6.5 -1.5M1157.6 1470.6l-5 -2M1343.7 1478.6l6.5 -1.5M1160.3 1470.1l-5 -2M1341.5 1477.9l6.5 -1.5M1163 1469.6l-5 -2M1339.2 1477.2l6.5 -1.5M1165.8 1469.2l-5 -2M1336.9 1476.5l6.5 -1.5M1168.7 1468.7l-5 -2M1334.6 1475.8l6.5 -1.5M1171.5 1468.3l-5 -2M1332.1 1475.1l6.5 -1.5M1174.4 1467.9l-5 -2M1329.7 1474.5l6.5 -1.5M1177.4 1467.5l-5 -2M1327.2 1473.8l6.5 -1.5M1180.4 1467.1l-5 -2M1324.6 1473.2l6.5 -1.5M1183.4 1466.7l-5 -2M1322 1472.6l6.5 -1.5M1186.5 1466.4l-5 -2M1319.3 1472l6.5 -1.5M1189.6 1466l-5 -2M1316.5 1471.4l6.5 -1.5M1192.8 1465.7l-5 -2M1313.7 1470.9l6.5 -1.5M1196 1465.4l-5 -2M1310.8 1470.3l6.5 -1.5M1199.3 1465.1l-5 -2M1307.9 1469.8l6.5 -1.5M1202.6 1464.9l-5 -2M1304.9 1469.3l6.5 -1.5M1206 1464.7l-5 -2M1301.8 1468.8l6.5 -1.5M1209.5 1464.5l-5 -2M1298.7 1468.3l6.5 -1.5M1212.9 1464.3l-5 -2M1295.5 1467.8l6.5 -1.5M1216.5 1464.1l-5 -2M1292.2 1467.3l6.5 -1.5M1220.1 1464l-5 -2M1288.8 1466.9l6.5 -1.5M1380.6 1529.3l-5 -2M1223.7 1463.9l-5 -2M1285.4 1466.5l6.5 -1.5M1381.9 1528.2l-5 -2M1227.5 1463.8l-5 -2M1281.9 1466.1l6.5 -1.5M1383.2 1527.1l-5 -2M1231.3 1463.7l-5 -2M1278.3 1465.7l6.5 -1.5M1384.3 1526l-5 -2M1235.1 1463.7l-5 -2M1274.6 1465.4l6.5 -1.5M1385.5 1524.9l-5 -2M1239.1 1463.7l-5 -2M1270.8 1465l6.5 -1.5M1386.5 1523.7l-5 -2M1243.1 1463.7l-5 -2M1266.8 1464.7l6.5 -1.5M1387.5 1522.5l-5 -2M1247.2 1463.8l-5 -2M1262.8 1464.4l6.5 -1.5M1388.3 1521.2l-5 -2M1251.4 1463.9l-5 -2M1258.7 1464.2l6.5 -1.5M1389.1 1519.9l-5 -2M1255.7 1464l-5 -2M1254.4 1464l6.5 -1.5M1389.8 1518.6l-5 -2M1260.1 1464.2l-5 -2M1250 1463.8l6.5 -1.5M1390.4 1517.2l-5 -2M1264.6 1464.5l-5 -2M1245.5 1463.6l6.5 -1.5M1390.8 1515.8l-5 -2M1269.3 1464.7l-5 -2M1240.7 1463.5l6.5 -1.5M1391.2 1514.3l-5 -2M1274.1 1465.1l-5 -2M1235.8 1463.4l6.5 -1.5M1391.3 1512.8l-5 -2M1279 1465.5l-5 -2M1230.7 1463.4l6.5 -1.5M1391.4 1511.2l-5 -2M1284.2 1466l-5 -2M1225.4 1463.5l6.5 -1.5M1391.2 1509.6l-5 -2M1289.5 1466.5l-5 -2M1219.7 1463.6l6.5 -1.5M1390.9 1507.8l-5 -2M1295.1 1467.2l-5 -2M1213.8 1463.7l6.5 -1.5M1390.3 1505.9l-5 -2M1301 1468l-5 -2M1207.5 1464l6.5 -1.5M1389.3 1504l-5 -2M1307.2 1468.9l-5 -2M1200.7 1464.4l6.5 -1.5M1388.1 1501.8l-5 -2M1314 1470.1l-5 -2M1193.2 1464.9l6.5 -1.5M1386.3 1499.5l-5 -2M1099.2 1487.3l6.5 -1.5M1321.4 1471.5l-5 -2M1184.8 1465.7l6.5 -1.5M1383.8 1496.9l-5 -2M1103.7 1485l6.5 -1.5M1330 1473.4l-5 -2M1175.1 1466.8l6.5 -1.5M1380.3 1493.9l-5 -2M1109.7 1482.3l6.5 -1.5M1340.8 1476.2l-5 -2M1162.4 1468.6l6.5 -1.5M1374.5 1489.9l-5 -2M1118.5 1479l6.5 -1.5M1220.8 1602.8l6.5 -1.5M1218.9 1602l6.5 -1.5M1217 1601.2l6.5 -1.5M1215.1 1600.4l6.5 -1.5M1213.2 1599.6l6.5 -1.5M1211.3 1598.9l6.5 -1.5M1209.4 1598.1l6.5 -1.5M1207.4 1597.3l6.5 -1.5M1205.5 1596.5l6.5 -1.5M1203.6 1595.7l6.5 -1.5M1201.7 1595l6.5 -1.5M1199.8 1594.2l6.5 -1.5M1203.6 1593.7l-5 -2M1226.6 1603l-5 -2M1197.9 1593.4l6.5 -1.5M1206.1 1593.1l-5 -2M1229.1 1602.4l-5 -2M1208.6 1592.5l-5 -2M1231.5 1601.8l-5 -2M1211.1 1591.9l-5 -2M1234 1601.2l-5 -2M1213.5 1591.3l-5 -2M1236.5 1600.6l-5 -2M1216 1590.7l-5 -2M1239 1600l-5 -2M1218.5 1590.1l-5 -2M1241.5 1599.5l-5 -2M1221 1589.5l-5 -2M1244 1598.9l-5 -2M1223.5 1588.9l-5 -2M1246.5 1598.3l-5 -2M1226 1588.3l-5 -2M1249 1597.7l-5 -2M1228.5 1587.7l-5 -2M1251.5 1597.1l-5 -2M1231 1587.1l-5 -2M1254 1596.5l-5 -2M1233.5 1586.6l-5 -2M1256.4 1595.9l-5 -2M1236 1586l-5 -2M1258.9 1595.3l-5 -2M1238.4 1585.4l-5 -2M1261.4 1594.7l-5 -2M1240.9 1584.8l-5 -2M1263.9 1594.1l-5 -2M1243.4 1584.2l-5 -2M1266.4 1593.5l-5 -2M1245.9 1583.6l-5 -2M1268.9 1593l-5 -2M1248.4 1583l-5 -2M1271.4 1592.4l-5 -2M1250.9 1582.4l-5 -2M1273.9 1591.8l-5 -2M1253.4 1581.8l-5 -2M1276.4 1591.2l-5 -2M1255.9 1581.2l-5 -2M1278.9 1590.6l-5 -2M1258.4 1580.6l-5 -2M1281.3 1590l-5 -2M1260.9 1580.1l-5 -2M1283.8 1589.4l-5 -2M1263.3 1579.5l-5 -2M1286.3 1588.8l-5 -2M1265.8 1578.9l-5 -2M1288.8 1588.2l-5 -2M1268.3 1578.3l-5 -2M1291.3 1587.6l-5 -2M1270.8 1577.7l-5 -2M1293.8 1587l-5 -2M1273.3 1577.1l-5 -2M1296.3 1586.4l-5 -2M1275.8 1576.5l-5 -2M1298.8 1585.9l-5 -2M1278.3 1575.9l-5 -2M1301.3 1585.3l-5 -2M1280.8 1575.3l-5 -2M1303.8 1584.7l-5 -2M1283.3 1574.7l-5 -2M1306.2 1584.1l-5 -2M1285.8 1574.1l-5 -2M1308.7 1583.5l-5 -2M1288.2 1573.5l-5 -2M1311.2 1582.9l-5 -2M1290.7 1573l-5 -2M1313.7 1582.3l-5 -2M1293.2 1572.4l-5 -2M1316.2 1581.7l-5 -2M1295.7 1571.8l-5 -2M1318.7 1581.1l-5 -2M1298.2 1571.2l-5 -2M1321.2 1580.5l-5 -2M1300.7 1570.6l-5 -2M1323.7 1579.9l-5 -2M1303.2 1570l-5 -2M1326.2 1579.4l-5 -2M1305.7 1569.4l-5 -2M1328.7 1578.8l-5 -2M1308.2 1568.8l-5 -2M1331.1 1578.2l-5 -2M1310.7 1568.2l-5 -2M1333.6 1577.6l-5 -2M1313.1 1567.6l-5 -2M1336.1 1577l-5 -2M1315.6 1567l-5 -2M1338.6 1576.4l-5 -2M1318.1 1566.5l-5 -2M1341.1 1575.8l-5 -2M1320.6 1565.9l-5 -2M1343.6 1575.2l-5 -2M1323.1 1565.3l-5 -2M1346.1 1574.6l-5 -2M1325.6 1564.7l-5 -2M1348.6 1574l-5 -2M1328.1 1564.1l-5 -2M1351.1 1573.4l-5 -2M1330.6 1563.5l-5 -2M1353.6 1572.8l-5 -2M1333.1 1562.9l-5 -2M1356 1572.3l-5 -2M1335.6 1562.3l-5 -2M1358.5 1571.7l-5 -2M1338 1561.7l-5 -2M1361 1571.1l-5 -2M1340.5 1561.1l-5 -2M1363.5 1570.5l-5 -2M1343 1560.5l-5 -2M1366 1569.9l-5 -2M1345.5 1559.9l-5 -2M1368.5 1569.3l-5 -2M1348 1559.4l-5 -2M1371 1568.7l-5 -2M1350.5 1558.8l-5 -2M1373.5 1568.1l-5 -2"/>
<path stroke="#e6e65a" stroke-width=".9" d="M1138.5 1527l-5 -2M1315.6 1534.6l6.5 -1.5M1163.4 1537.2l-5 -2M1283.2 1542.3l6.5 -1.5M1133.2 1523.3l-5 -2M1323.7 1531.4l6.5 -1.5M1173.6 1539.7l-5 -2M1271.2 1543.9l6.5 -1.5M1130.3 1520.5l-5 -2M1328.8 1529l6.5 -1.5M1181.5 1541.3l-5 -2M1262.3 1544.8l6.5 -1.5M1128.5 1518.2l-5 -2M1332.5 1526.9l6.5 -1.5M1188.3 1542.5l-5 -2M1254.8 1545.3l6.5 -1.5M1127.4 1516.1l-5 -2M1335.3 1525l6.5 -1.5M1194.4 1543.4l-5 -2M1248.1 1545.7l6.5 -1.5M1126.7 1514.2l-5 -2M1200.1 1544.1l-5 -2M1242.1 1545.9l6.5 -1.5M1126.3 1512.5l-5 -2M1205.4 1544.7l-5 -2M1236.5 1546l6.5 -1.5M1126.3 1510.8l-5 -2M1210.5 1545.1l-5 -2M1231.2 1546l6.5 -1.5M1126.4 1509.3l-5 -2M1215.3 1545.5l-5 -2M1226.3 1545.9l6.5 -1.5M1126.8 1507.8l-5 -2M1219.9 1545.7l-5 -2M1221.6 1545.8l6.5 -1.5M1127.3 1506.4l-5 -2M1224.4 1545.9l-5 -2M1217.1 1545.6l6.5 -1.5M1128 1505.1l-5 -2M1228.7 1546.1l-5 -2M1212.9 1545.4l6.5 -1.5M1128.8 1503.8l-5 -2M1232.9 1546.2l-5 -2M1208.7 1545.2l6.5 -1.5M1129.7 1502.6l-5 -2M1236.9 1546.2l-5 -2M1204.8 1544.9l6.5 -1.5M1130.7 1501.4l-5 -2M1240.8 1546.2l-5 -2M1201 1544.5l6.5 -1.5M1131.9 1500.3l-5 -2M1244.7 1546.2l-5 -2M1197.3 1544.2l6.5 -1.5M1133.1 1499.2l-5 -2M1248.4 1546.1l-5 -2M1193.8 1543.8l6.5 -1.5M1134.5 1498.1l-5 -2M1252.1 1546l-5 -2M1190.4 1543.4l6.5 -1.5M1135.9 1497.1l-5 -2M1255.7 1545.8l-5 -2M1187 1542.9l6.5 -1.5M1137.3 1496.1l-5 -2M1259.2 1545.7l-5 -2M1183.8 1542.4l6.5 -1.5M1138.9 1495.1l-5 -2M1262.6 1545.4l-5 -2M1180.7 1541.9l6.5 -1.5M1265.9 1545.2l-5 -2M1177.7 1541.4l6.5 -1.5M1269.2 1544.9l-5 -2M1174.7 1540.9l6.5 -1.5M1272.4 1544.6l-5 -2M1171.9 1540.3l6.5 -1.5M1275.5 1544.3l-5 -2M1169.1 1539.8l6.5 -1.5M1278.6 1544l-5 -2M1166.4 1539.2l6.5 -1.5M1281.6 1543.6l-5 -2M1163.8 1538.5l6.5 -1.5M1284.6 1543.2l-5 -2M1161.3 1537.9l6.5 -1.5M1287.5 1542.8l-5 -2M1158.9 1537.3l6.5 -1.5M1290.3 1542.3l-5 -2M1156.5 1536.6l6.5 -1.5M1293.1 1541.8l-5 -2M1154.2 1535.9l6.5 -1.5M1295.9 1541.3l-5 -2M1151.9 1535.2l6.5 -1.5M1298.6 1540.8l-5 -2M1149.8 1534.5l6.5 -1.5M1301.2 1540.3l-5 -2M1147.7 1533.7l6.5 -1.5M1303.7 1539.7l-5 -2M1145.7 1533l6.5 -1.5M1306.3 1539.2l-5 -2M1143.7 1532.2l6.5 -1.5M1308.7 1538.6l-5 -2M1141.8 1531.4l6.5 -1.5M1311.1 1537.9l-5 -2M1140 1530.6l6.5 -1.5M1313.5 1537.3l-5 -2M1138.3 1529.8l6.5 -1.5M1315.8 1536.6l-5 -2M1136.6 1529l6.5 -1.5M1318 1535.9l-5 -2M1135 1528.1l6.5 -1.5M1320.2 1535.2l-5 -2M1133.5 1527.2l6.5 -1.5M1322.4 1534.5l-5 -2M1132 1526.4l6.5 -1.5M1324.4 1533.7l-5 -2M1130.7 1525.4l6.5 -1.5M1326.5 1532.9l-5 -2M1129.4 1524.5l6.5 -1.5M1328.4 1532.1l-5 -2M1128.1 1523.6l6.5 -1.5M1330.3 1531.3l-5 -2M1127 1522.6l6.5 -1.5M1332.2 1530.4l-5 -2M1125.9 1521.6l6.5 -1.5M1333.9 1529.6l-5 -2M1124.9 1520.6l6.5 -1.5M1335.6 1528.6l-5 -2M1124.1 1519.6l6.5 -1.5M1337.3 1527.7l-5 -2M1123.2 1518.6l6.5 -1.5M1338.8 1526.7l-5 -2M1122.5 1517.5l6.5 -1.5M1340.3 1525.7l-5 -2M1121.9 1516.4l6.5 -1.5M1121.4 1515.3l6.5 -1.5M1121 1514.2l6.5 -1.5M1120.7 1513l6.5 -1.5M1120.6 1511.8l6.5 -1.5M1120.5 1510.6l6.5 -1.5M1120.7 1509.3l6.5 -1.5M1120.9 1508l6.5 -1.5M1121.4 1506.7l6.5 -1.5M1122 1505.3l6.5 -1.5M1122.9 1503.8l6.5 -1.5M1124 1502.3l6.5 -1.5M1125.4 1500.8l6.5 -1.5M1127.2 1499.1l6.5 -1.5M1129.4 1497.4l6.5 -1.5M1132.2 1495.5l6.5 -1.5M1101.7 1532.9l-5 -2M1346.2 1543.4l6.5 -1.5M1135.4 1546.7l-5 -2M1302.4 1553.8l6.5 -1.5M1095.9 1529l-5 -2M1355.1 1540l6.5 -1.5M1146.2 1549.4l-5 -2M1289.7 1555.6l6.5 -1.5M1092.3 1525.9l-5 -2M1361 1537.4l6.5 -1.5M1154.7 1551.3l-5 -2M1279.9 1556.7l6.5 -1.5M1089.9 1523.3l-5 -2M1365.5 1535.1l6.5 -1.5M1162.2 1552.7l-5 -2M1271.5 1557.4l6.5 -1.5M1088.1 1521l-5 -2M1369.2 1533l6.5 -1.5M1168.9 1553.9l-5 -2M1264.1 1557.9l6.5 -1.5M1086.8 1518.9l-5 -2M1372.2 1531l6.5 -1.5M1175.2 1554.8l-5 -2M1257.3 1558.3l6.5 -1.5M1085.9 1516.9l-5 -2M1181.1 1555.6l-5 -2M1250.9 1558.6l6.5 -1.5M1085.3 1515l-5 -2M1186.7 1556.3l-5 -2M1245 1558.8l6.5 -1.5M1085 1513.3l-5 -2M1192 1556.9l-5 -2M1239.4 1558.9l6.5 -1.5M1084.8 1511.6l-5 -2M1197.2 1557.3l-5 -2M1234 1558.9l6.5 -1.5M1084.8 1510l-5 -2M1202.1 1557.7l-5 -2M1228.9 1558.9l6.5 -1.5M1085 1508.5l-5 -2M1206.9 1558.1l-5 -2M1224 1558.8l6.5 -1.5M1085.4 1507l-5 -2M1211.5 1558.4l-5 -2M1219.3 1558.7l6.5 -1.5M1085.8 1505.6l-5 -2M1216.1 1558.6l-5 -2M1214.7 1558.6l6.5 -1.5M1086.4 1504.2l-5 -2M1220.5 1558.8l-5 -2M1210.3 1558.4l6.5 -1.5M1087.1 1502.9l-5 -2M1224.8 1558.9l-5 -2M1206 1558.1l6.5 -1.5M1087.9 1501.6l-5 -2M1229 1559l-5 -2M1201.9 1557.9l6.5 -1.5M1088.7 1500.4l-5 -2M1233.1 1559.1l-5 -2M1197.9 1557.6l6.5 -1.5M1089.7 1499.2l-5 -2M1237.1 1559.1l-5 -2M1194 1557.3l6.5 -1.5M1090.7 1498l-5 -2M1241 1559.1l-5 -2M1190.2 1557l6.5 -1.5M1091.8 1496.8l-5 -2M1244.9 1559.1l-5 -2M1186.5 1556.6l6.5 -1.5M1093 1495.7l-5 -2M1248.7 1559.1l-5 -2M1182.8 1556.2l6.5 -1.5M1094.3 1494.6l-5 -2M1252.4 1559l-5 -2M1179.3 1555.8l6.5 -1.5M1095.6 1493.5l-5 -2M1256.1 1558.9l-5 -2M1175.9 1555.4l6.5 -1.5M1097 1492.5l-5 -2M1259.7 1558.7l-5 -2M1172.5 1555l6.5 -1.5M1098.4 1491.5l-5 -2M1263.2 1558.6l-5 -2M1169.2 1554.5l6.5 -1.5M1099.9 1490.5l-5 -2M1266.7 1558.4l-5 -2M1166 1554.1l6.5 -1.5M1101.4 1489.5l-5 -2M1270.2 1558.2l-5 -2M1162.9 1553.6l6.5 -1.5M1103 1488.5l-5 -2M1273.5 1557.9l-5 -2M1159.8 1553.1l6.5 -1.5M1276.9 1557.7l-5 -2M1156.8 1552.6l6.5 -1.5M1280.1 1557.4l-5 -2M1153.9 1552l6.5 -1.5M1283.4 1557.1l-5 -2M1151 1551.5l6.5 -1.5M1286.5 1556.8l-5 -2M1148.2 1550.9l6.5 -1.5M1289.7 1556.5l-5 -2M1145.5 1550.3l6.5 -1.5M1292.8 1556.1l-5 -2M1142.8 1549.7l6.5 -1.5M1295.8 1555.8l-5 -2M1140.1 1549.1l6.5 -1.5M1298.8 1555.4l-5 -2M1137.6 1548.5l6.5 -1.5M1301.7 1555l-5 -2M1135 1547.9l6.5 -1.5M1304.7 1554.6l-5 -2M1132.6 1547.2l6.5 -1.5M1307.5 1554.1l-5 -2M1130.2 1546.5l6.5 -1.5M1310.4 1553.7l-5 -2M1127.8 1545.9l6.5 -1.5M1313.1 1553.2l-5 -2M1125.5 1545.2l6.5 -1.5M1315.9 1552.7l-5 -2M1123.3 1544.5l6.5 -1.5M1318.6 1552.2l-5 -2M1121.1 1543.8l6.5 -1.5M1321.3 1551.7l-5 -2M1118.9 1543l6.5 -1.5M1323.9 1551.1l-5 -2M1116.8 1542.3l6.5 -1.5M1326.5 1550.6l-5 -2M1114.8 1541.6l6.5 -1.5M1329 1550l-5 -2M1112.8 1540.8l6.5 -1.5M1331.5 1549.4l-5 -2M1110.9 1540l6.5 -1.5M1334 1548.8l-5 -2M1109 1539.2l6.5 -1.5M1336.4 1548.2l-5 -2M1107.1 1538.4l6.5 -1.5M1338.8 1547.6l-5 -2M1105.3 1537.6l6.5 -1.5M1341.2 1547l-5 -2M1103.6 1536.8l6.5 -1.5M1343.5 1546.3l-5 -2M1101.9 1536l6.5 -1.5M1345.8 1545.6l-5 -2M1100.3 1535.1l6.5 -1.5M1348 1544.9l-5 -2M1098.7 1534.3l6.5 -1.5M1350.2 1544.2l-5 -2M1097.2 1533.4l6.5 -1.5M1352.3 1543.5l-5 -2M1095.7 1532.5l6.5 -1.5M1354.5 1542.7l-5 -2M1094.3 1531.6l6.5 -1.5M1356.5 1542l-5 -2M1092.9 1530.7l6.5 -1.5M1358.6 1541.2l-5 -2M1091.6 1529.8l6.5 -1.5M1360.5 1540.4l-5 -2M1090.3 1528.8l6.5 -1.5M1362.5 1539.6l-5 -2M1089.1 1527.9l6.5 -1.5M1364.4 1538.7l-5 -2M1088 1526.9l6.5 -1.5M1366.2 1537.9l-5 -2M1086.9 1526l6.5 -1.5M1368 1537l-5 -2M1085.9 1525l6.5 -1.5M1369.8 1536.1l-5 -2M1084.9 1524l6.5 -1.5M1371.5 1535.2l-5 -2M1084.1 1522.9l6.5 -1.5M1373.1 1534.3l-5 -2M1083.2 1521.9l6.5 -1.5M1374.7 1533.3l-5 -2M1082.5 1520.8l6.5 -1.5M1376.3 1532.4l-5 -2M1081.8 1519.8l6.5 -1.5M1377.8 1531.4l-5 -2M1081.1 1518.7l6.5 -1.5M1379.2 1530.3l-5 -2M1080.6 1517.6l6.5 -1.5M1080.1 1516.5l6.5 -1.5M1079.7 1515.3l6.5 -1.5M1079.4 1514.2l6.5 -1.5M1079.2 1513l6.5 -1.5M1079.1 1511.8l6.5 -1.5M1079.1 1510.5l6.5 -1.5M1079.2 1509.3l6.5 -1.5M1079.3 1508l6.5 -1.5M1079.7 1506.7l6.5 -1.5M1080.1 1505.4l6.5 -1.5M1080.7 1504l6.5 -1.5M1081.4 1502.6l6.5 -1.5M1082.3 1501.1l6.5 -1.5M1083.4 1499.7l6.5 -1.5M1084.6 1498.1l6.5 -1.5M1086.2 1496.5l6.5 -1.5M1087.9 1494.9l6.5 -1.5M1090.1 1493.1l6.5 -1.5M1092.6 1491.3l6.5 -1.5M1095.6 1489.4l6.5 -1.5M1519.6 1531.8l6.5 -1.5M1517.7 1531l6.5 -1.5M1515.8 1530.2l6.5 -1.5M1513.9 1529.5l6.5 -1.5M1512 1528.7l6.5 -1.5M1510.1 1527.9l6.5 -1.5M1508.2 1527.1l6.5 -1.5M1506.2 1526.4l6.5 -1.5M1504.3 1525.6l6.5 -1.5M1502.4 1524.8l6.5 -1.5M1500.5 1524l6.5 -1.5M1498.6 1523.2l6.5 -1.5M1496.7 1522.5l6.5 -1.5M1353 1558.2l-5 -2M1376 1567.5l-5 -2M1355.5 1557.6l-5 -2M1378.5 1566.9l-5 -2M1358 1557l-5 -2M1380.9 1566.3l-5 -2M1360.5 1556.4l-5 -2M1383.4 1565.8l-5 -2M1362.9 1555.8l-5 -2M1385.9 1565.2l-5 -2M1365.4 1555.2l-5 -2M1388.4 1564.6l-5 -2M1367.9 1554.6l-5 -2M1390.9 1564l-5 -2M1370.4 1554l-5 -2M1393.4 1563.4l-5 -2M1372.9 1553.4l-5 -2M1395.9 1562.8l-5 -2M1375.4 1552.9l-5 -2M1398.4 1562.2l-5 -2M1377.9 1552.3l-5 -2M1400.9 1561.6l-5 -2M1380.4 1551.7l-5 -2M1403.4 1561l-5 -2M1382.9 1551.1l-5 -2M1405.8 1560.4l-5 -2M1385.4 1550.5l-5 -2M1408.3 1559.8l-5 -2M1387.8 1549.9l-5 -2M1410.8 1559.3l-5 -2M1390.3 1549.3l-5 -2M1413.3 1558.7l-5 -2M1392.8 1548.7l-5 -2M1415.8 1558.1l-5 -2M1395.3 1548.1l-5 -2M1418.3 1557.5l-5 -2M1397.8 1547.5l-5 -2M1420.8 1556.9l-5 -2M1400.3 1546.9l-5 -2M1423.3 1556.3l-5 -2M1402.8 1546.4l-5 -2M1425.8 1555.7l-5 -2M1405.3 1545.8l-5 -2M1428.3 1555.1l-5 -2M1407.8 1545.2l-5 -2M1430.7 1554.5l-5 -2M1410.3 1544.6l-5 -2M1433.2 1553.9l-5 -2M1412.7 1544l-5 -2M1435.7 1553.3l-5 -2M1415.2 1543.4l-5 -2M1438.2 1552.7l-5 -2M1417.7 1542.8l-5 -2M1440.7 1552.2l-5 -2M1420.2 1542.2l-5 -2M1443.2 1551.6l-5 -2M1422.7 1541.6l-5 -2M1445.7 1551l-5 -2M1425.2 1541l-5 -2M1448.2 1550.4l-5 -2M1427.7 1540.4l-5 -2M1450.7 1549.8l-5 -2M1430.2 1539.8l-5 -2M1453.2 1549.2l-5 -2M1432.7 1539.3l-5 -2M1455.6 1548.6l-5 -2M1435.2 1538.7l-5 -2M1458.1 1548l-5 -2M1437.6 1538.1l-5 -2M1460.6 1547.4l-5 -2M1440.1 1537.5l-5 -2M1463.1 1546.8l-5 -2M1442.6 1536.9l-5 -2M1465.6 1546.2l-5 -2M1445.1 1536.3l-5 -2M1468.1 1545.7l-5 -2M1447.6 1535.7l-5 -2M1470.6 1545.1l-5 -2M1450.1 1535.1l-5 -2M1473.1 1544.5l-5 -2M1452.6 1534.5l-5 -2M1475.6 1543.9l-5 -2M1455.1 1533.9l-5 -2M1478.1 1543.3l-5 -2M1457.6 1533.3l-5 -2M1480.5 1542.7l-5 -2M1460.1 1532.8l-5 -2M1483 1542.1l-5 -2M1462.5 1532.2l-5 -2M1485.5 1541.5l-5 -2M1465 1531.6l-5 -2M1488 1540.9l-5 -2M1467.5 1531l-5 -2M1490.5 1540.3l-5 -2M1470 1530.4l-5 -2M1493 1539.7l-5 -2M1472.5 1529.8l-5 -2M1495.5 1539.1l-5 -2M1475 1529.2l-5 -2M1498 1538.6l-5 -2M1477.5 1528.6l-5 -2M1500.5 1538l-5 -2M1480 1528l-5 -2M1503 1537.4l-5 -2M1482.5 1527.4l-5 -2M1505.4 1536.8l-5 -2M1485 1526.8l-5 -2M1507.9 1536.2l-5 -2M1487.4 1526.2l-5 -2M1510.4 1535.6l-5 -2M1489.9 1525.7l-5 -2M1512.9 1535l-5 -2M1492.4 1525.1l-5 -2M1515.4 1534.4l-5 -2M1494.9 1524.5l-5 -2M1517.9 1533.8l-5 -2M1497.4 1523.9l-5 -2M1520.4 1533.2l-5 -2M1499.9 1523.3l-5 -2M1522.9 1532.6l-5 -2M1502.4 1522.7l-5 -2M1525.4 1532.1l-5 -2"/>
<g stroke-width=".7" stroke-linejoin="round">
<path class="j21" d="M1096.8 1490.8l0-1-.9-.6-.7-.1 0 1.1"/><path class="j21" d="M1097.1 1492.5l0-1.1-2.1-2.3-1.8 .7 0 1.2"/><path class="j21" d="M1095.1 1493.3l0-1-2.3-2.4-2.6 .4 0 1.1"/><path class="ww" d="M1095 1489.6l-1.1 .5-1 .5-.9 .5-1 .5-.8 .5-.8 .5 0 3.2 .8-.8 .8-.8 1-.8 .9-.7 1-.8 1.1-.8z"/><path class="j21" d="M1094.2 1494.6l0-1.1-2.3-2.3-2.1 .5 0 1.1"/><path class="j22" d="M1094.9 1496.5l0-1.1-4.4-3.5-2.3 .8 0 1.1"/><path class="j24" d="M1092.4 1497.1l0-1.1-1.1-1.7-1.9-4.9-2.7 4.2 0 1.1"/><path class="j21" d="M1132.9 1497.5l0-1.1-1.3-1.4-1.2 .4 0 1.1"/><path class="j22" d="M1091.8 1498.4l0-1-3.5-4.1-2 .7-2.6 .1 0 1"/><path class="ww" d="M1089.4 1492.6l-.8 .4-.8 .5-.7 .4-.6 .5-.6 .5-.5 .4 0 5.3 .5-.8 .6-.8 .6-.8 .7-.8 .8-.8 .8-.8z"/><path class="j21" d="M1131.8 1498.7l0-1.1-1.1-.9-1.2 0 0 1"/><path class="j23" d="M1093 1500.5l0-1.1-3-1.9-2.8-3.6-3.2 1.8 0 1.1"/><path class="ww" d="M1131.5 1496.2l-.7 .4-.7 .4-.6 .4-.6 .4-.6 .4-.5 .4 0 2.3 .5-.6 .6-.6 .6-.5 .6-.6 .7-.6 .7-.5z"/><path class="j21" d="M1132.1 1500.4l0-1.1-1.8-2.3-2.3 .6 0 1.1"/><path class="j25" d="M1090.7 1501.2l0-1.1-1.6-2.2-2.1-6.2-.7 .5-1.8 3.7-1.8 .9 0 1.1"/><path class="j21" d="M1130.5 1501.3l0-1-2.5-2.2-2.1-.3-.7 .3 0 1.1"/><path class="j24" d="M1090 1502.5l0-1.1-1.8-1.7-2.5-4.4-1.2-1.2-.9 .3-1.8 2.7-.9 .6 0 1.1"/><path class="j21" d="M1131.3 1503.2l0-1.1-.7-.8-3.2-2.2-2.3 .5 0 1.1"/><path class="j24" d="M1091.2 1504.6l0-1.2-1.1-1.2-2.5-1.4-3-4.8-2.8 2.7-1.1 .2-2.3-.6 0 1.1"/><path class="ww" d="M1127.8 1498.6l-.5 .4-.5 .4-.4 .3-.4 .4-.4 .4-.3 .4 0 3.6 .3-.6 .4-.6 .4-.6 .4-.6 .5-.6 .5-.6z"/><path class="j24" d="M1129.5 1504.1l0-1.1-1.9-2.1-1.6-4-1.4 2.9-.9 .8 0 1.2"/><path class="ww" d="M1085.4 1495.3l-.6 .5-.4 .5-.4 .4-.4 .5-.3 .5-.3 .5 0 7.4 .3-.9 .3-.8 .4-.8 .4-.8 .4-.9 .6-.8z"/><path class="j26" d="M1089.7 1505.6l0-1.1-1.4-1.1-.9-1.6-2.3-7.3-.7 .3-2.8 4.5-2.3 1 0 1.1"/><path class="j22" d="M1130.6 1506.2l0-1-.6-.9-1.9-.8-2.5-2.8-2.5 .9-2.1-.5 0 1.2"/><path class="j26" d="M1089.7 1507.2l0-1-2.1-1.6-1.6-2.1-3.7-8.1-.6 .8-1.7 5-.6 .9-1.2 .4 0 1"/><path class="j25" d="M1129.1 1507.2l0-1.1-2.1-2.2-1.6-5.7-1.8 3.7-2.1 1.1 0 1.1"/><path class="ww" d="M1125.3 1500.9l-.3 .4-.3 .4-.2 .4-.2 .4-.2 .4-.1 .4 0 4.8 .1-.6 .2-.6 .2-.6 .2-.6 .3-.6 .3-.6z"/><path class="j25" d="M1090 1508.9l0-1.1-1.6-2.4-2.6-1.6-3-5.4-2.9 3.6-3.3-.1-.7 .2 0 1.1"/><path class="j23" d="M1130 1509.2l0-1.2-.9-1.3-1.8-.6-3-3.7-1.6 .6-1.4-.4-1.4 1.3 0 1.1"/><path class="ww" d="M1083 1498.2l-.2 .4-.2 .5-.2 .5 0 .5-.1 .5 0 .8 0 9.2 0-.9 .1-.8 0-.8 .2-.9 .2-.8 .2-.8z"/><path class="j29" d="M1089.8 1510.4l0-1-2.8-2.3-1.1-1.9-2.3-10.9-3 7.5-1.6 1.8-2.3 .4 0 1.1"/><path class="j21" d="M1092.7 1508.4l0-1.1-.7-.4-1.2-.3 0 1.1"/><path class="j20" d="M1072.4 1508.2l-.2-1.2-.2 1"/><path class="j27" d="M1091.2 1512.6l0-1.1-.9-1.2-2.3-.8-1.9-1.9-3.2-7-2.1-2.7-.6 .6-1.9 5.9-.9 .9-1.4 .1 0 1"/><path class="j26" d="M1129.2 1510.4l0-1.1-2.8-3-1.6-6.5-1.6 3.6-1.6 1.5-1.9 .6 0 1.1"/><path class="ww" d="M1124 1503.3l-.1 .4-.1 .4 0 .4 0 .6 0 .6 .1 .7 0 5.3-.1-.6 0-.6 0-.6 0-.6 .1-.6 .1-.6z"/><path class="j23" d="M1129.6 1512.2l0-1.1-1.3-2.3-1.6-.4-2.8-4-1.6 .3-1.2-.8-1.3 2.4-1 .5 0 1"/><path class="j26" d="M1090.1 1513.8l0-1.1-2.3-2.1-1.9-5-1.6-.7-2-3.5-.7 .4-2.8 4.1-.9 .4-2.1-.7-1.3 .7 0 1.1"/><path class="j20" d="M1132.1 1511.6l-.2-1.1 0 1"/><path class="j27" d="M1131.8 1514.7l-.3-1.5-2.5-1-2.8-3-1.8-7.8-1.4 4.4-.9 1.1-2.8 1.3-2.9-.9 0 1.1"/><path class="j32" d="M1092.6 1516.4l0-1.2-.4-.5-2.3-.7-1.6-1.2-3.2-4.4-1-3-1.8-11.2-2.3 11.8-2.1 2-3 .2 0 1"/><path class="ww" d="M1082.3 1501.4l.1 .9 .1 .9 .1 .9 .2 .8 .2 .9 .3 .9 0 8.8-.3-.8-.2-.8-.2-.8-.1-.9-.1-.8-.1-.8z"/><path class="j23" d="M1130.6 1515.8l0-1-1.6-1.3-1.3-3.6-1.4 .3-2.1-2.3-2.1 .6-1.3-1.2-1.4 2.3-1.2 .1 0 1.1"/><path class="ww" d="M1123.9 1506.4l.1 .6 .1 .6 .2 .7 .2 .6 .2 .6 .3 .7 0 5.2-.3-.6-.2-.6-.2-.7-.2-.6-.1-.6-.1-.6z"/><path class="j26" d="M1091.5 1517.6l0-1.1-1.8-1.5-1.6-3.4-2.1-.6-3.2-6-.7 .2-1.6 1.9-1.6-.8-2.1 3.3-1.8 .2 0 1"/><path class="j26" d="M1132.1 1518l0-1.1-1.4-2.3-1.6 .1-3.2-4.1-1.7-5.8-1.8 5.9-3 .8-2.7-1.1-.5 .1 0 1.1"/><path class="j21" d="M1117.7 1515.4l0-1.1-.5-.3-.5-.1 0 1.1"/><path class="ww" d="M1470 1527.2l7.5-1.9 7.5-1.9 7.4-1.9 7.5-1.8 0 2-7.5 1.8-7.4 1.7-7.5 1.8-7.5 1.8z"/><path class="j30" d="M1094.6 1520.4l0-1.1-1-1.1-2.9-1-3.7-4-.9-2.7-1.7-10.2-.4 .4-1.4 6-2.3 3.5-2.7 1.4-3.3-1.1-.9 .3 0 1"/><path class="j26" d="M1094.6 1522l0-1-3-2.2-1.6-3.6-1.8 0-3.3-5.6-.6-.6-1.4 .3-1.4-2-2.3 5.6-1.1 .5-2.6-.2 0 1.1"/><path class="j21" d="M1074.9 1517.2l0-1-.9-.6-.7-.1 0 1.1"/><path class="ww" d="M1125 1510.2l.3 .6 .4 .6 .3 .6 .4 .7 .5 .6 .5 .6 0 5-.5-.6-.5-.5-.4-.6-.3-.6-.4-.6-.3-.6z"/><path class="j20" d="M1134.1 1517.2l0-1.1-.2 1"/><path class="j26" d="M1134.6 1520.7l0-1.2-.9-1.5-1.6 0-3.2-3.1-1.6-6.5-1.4 3.3-3.7 1.4-1.6-1.2-1.6 1.3 0 1.1"/><path class="ww" d="M1083.3 1506.7l.3 .9 .4 .8 .4 .9 .5 .9 .5 .8 .6 .9 0 8.6-.6-.8-.5-.9-.5-.8-.4-.8-.4-.8-.3-.9z"/><path class="j21" d="M1510.2 1521.1l0-1.1-2.8-1.4-2.7-.8 0 1"/><path class="j21" d="M1510 1522.6l0-1.1-5-3.6-5.1-.5 0 1.1"/><path class="j23" d="M1509.1 1523.8l0-1-2.5-2.2-4.1-5-1 0-2.9 1.7-2.1 .3 0 1.1"/><path class="j30" d="M1097.2 1524.7l0-1.1-1.6-2.1-2.6-.5-3.9-4.4-.9-2.6-1.6-9.7-1.6 6.3-2.3 2.9-2.8 1.7-2.7-1.2-1.6 .8 0 1.1"/><path class="ww" d="M1127.4 1513.9l.5 .6 .5 .6 .6 .6 .6 .6 .6 .6 .7 .6 0 4.9-.7-.6-.6-.5-.6-.6-.6-.6-.5-.6-.5-.6z"/><path class="j25" d="M1138.1 1523.7l0-1-1.6-2.2-1.4 .4-3.2-2.6-1.6-5.4-1.4 2.2-1.6-.8-1.8 .3-1.4-2.1-1.4 2.7-2.7 .1 0 1"/><path class="j26" d="M1101.8 1528.2l0-1.1-1.4-1.6-2.1-.1-4.1-3-2.3-6.2-1.1 1.2-.5 0-2.5-3.4-.9-.3-1.7 .6-1.6-2.4-2 5.1-1.4 .4-3-.3 0 1"/><path class="j28" d="M1529.6 1533.8l0-1-2.3-2.3-1.8-3.2-2.5-8.8-2.1 4.5-2.1 2-3 .3-4.3-1.2-4.6-2.4-3-2.9-2.3-4.3-1.6-5.4-2.8 6.8-1.6 1.5-2.3 .5 0 1.1"/><path class="j21" d="M1077.5 1521.5l0-1.1-.7-.5-.7-.1 0 1.1"/><path class="j20" d="M1139.5 1522.6l0-1 0 1"/><path class="ww" d="M1086 1511.9l.6 .8 .6 .9 .7 .8 .8 .9 .8 .8 .8 .9 0 8.3-.8-.8-.8-.8-.8-.8-.7-.8-.6-.8-.6-.8z"/><path class="j22" d="M1499.9 1526.5l0-1-4.6-2.8-2.8-2.4-4.4 .3 0 1.1"/><path class="ww" d="M1440.1 1534.7l7.5-1.9 7.5-1.9 7.4-1.9 7.5-1.8 0 1.6-7.5 1.8-7.4 1.7-7.5 1.8-7.5 1.8z"/><path class="j25" d="M1148.5 1529.5l0-1-2.1-1-1.1-1.6-1.2 .5-.9-.3-2.5-1.5-1.2-2.3-1.4 .8-2.9-2.2-1.9-5.5-1.1 2.6-3.5-1-1.4-3-1.6 3.7-3.4-.1-1.8-1.2-.7 .3 0 1.1"/><path class="j21" d="M1495.3 1526.2l0-1-5.3-3.6-3 .2 0 1.1"/><path class="j21" d="M1099 1523.8l0-1.1-.5-.4-.7-.1 0 1.1"/><path class="ww" d="M1130.9 1517.5l.7 .6 .7 .6 .8 .6 .8 .6 .8 .6 .9 .5 0 4.8-.9-.6-.8-.5-.8-.6-.8-.5-.7-.6-.7-.6z"/><path class="j21" d="M1491.4 1526.3l0-1.1-3.9-2.7-2.3 .2 0 1"/><path class="j21" d="M1487.6 1526.3l0-1.1-2.6-1.9-2 .1 0 1"/><path class="j30" d="M1107.3 1532l0-1-1.8-2-1.8 .2-4.4-2.7-1.8-4.1-.5-.1-1.1 1.1-1.9-1.8-3.2-4.9-1.6-8.3-.5 .5-1.1 6.9-.9 2-1.9 1.3-2 .5-3-1.4-1.6 .9 0 1"/><path class="j21" d="M1484.6 1526.7l0-1.1-2.1-1.6-1.8 .1 0 1"/><path class="j21" d="M1142.7 1525.5l0-1.1-.5-.4-.4 0 0 1.2"/><path class="ww" d="M1493 1536.5l7.5-1.9 7.4-1.8 7.5-1.9 7.5-1.9 0 2-7.5 1.8-7.5 1.8-7.4 1.8-7.5 1.7z"/><path class="j20" d="M1079.7 1525.6l0-1.1-.3 1"/><path class="j21" d="M1481.9 1527.2l0-1.1-1.8-1.4-1.7 0 0 1.1"/><path class="j26" d="M1173.6 1541.3l0-1.2-.7-.8-1.6-.1-3.5-2.5-1.3-3.7-1.4 1.4-3.5-2.4-1.4-4.7-.9 3.1-.7 .7-2.9-.8-1.4-3.6-1.4 2.9-3.2-1.2-1.2-3.2-1.1 2.1-.7 0-2.8-1.5-1.3-4.2-1.4 2.6-3-1.8-1.6-5.6-1.4 4-3.2-.3-1.4-2.9-1.6 3.1-3.2-.3-1.9-1.4-.9 .6 0 1.1"/><path class="j21" d="M1479.4 1527.8l0-1.1-1.8-1.4-1.6 0 0 1.1"/><path class="j21" d="M1476.7 1528.3l0-1.1-1.6-1.3-1.6 0 0 1.1"/><path class="ww" d="M1135.6 1521l.9 .6 .9 .6 .9 .5 1 .6 1 .5 1.1 .6 0 4.6-1.1-.6-1-.5-1-.5-.9-.6-.9-.5-.9-.5z"/><path class="j20" d="M1103.6 1527.3l-.2-1.2-.3 1"/><path class="j21" d="M1131.8 1527.5l0-1-.7-.8-.9 .1 0 1.1"/><path class="ww" d="M1090.3 1517l.9 .8 .9 .8 .9 .8 1 .9 1.1 .8 1.1 .8 0 8.1-1.1-.8-1.1-.8-1-.7-.9-.8-.9-.8-.9-.8z"/><path class="j21" d="M1474.2 1528.9l0-1.1-1.6-1.2-1.4-.1 0 1.2"/><path class="j21" d="M1471.7 1529.5l0-1.1-1.6-1.2-1.4-.1 0 1.2"/><path class="j30" d="M1155.6 1553.3l0-1.1-2.5-1.7-1.8-3.6-2.1 .2-4.6-5.5-1.8-7.5-1.9 6.8-1.1 .7-3.2 .4-.7-.5-1.4-2.4-1.8 2.4-3.5-.8-1.4-.7-1.3-1.8-1.6 .9-1.4-.4-3.2-1.3-1.7-1.9-1.8 .5-4.1-1.8-2.1-2.6-1.6 .8-3.9-2.1-.9-.9-1.6-3.8-1.2 1.4-.7 0-4.1-4.4-2.3-10.2-1.9 6.9-4.5 2.2-1.9-2.1-1.8 2.5-3.9-.3 0 1"/><path class="j21" d="M1533.2 1530.4l0-1-2.8-1.4-2.7-.9 0 1.1"/><path class="j21" d="M1469.2 1530.1l0-1.1-1.6-1.2-1.4 0 0 1"/><path class="j20" d="M1329.7 1529.4l-.3-1.1-.2 .9"/><path class="j21" d="M1533 1531.9l0-1-5.1-3.7-5.2-.5 0 1"/><path class="j21" d="M1466.5 1530.6l0-1.1-1.4-1.1-1.4 0 0 1"/><path class="j21" d="M1086.4 1529.9l0-1-1-.6-.4-.1 0 1.1"/><path class="j23" d="M1531.4 1532.9l0-1-2.3-2.2-3.7-4.8-.9 0-3.4 1.7-2.5 0 0 1.1"/><path class="j21" d="M1464 1531.1l0-1-1.4-1-1.4-.1 0 1"/><path class="ww" d="M1141.4 1524.4l1 .5 1.1 .5 1.1 .6 1.2 .5 1.2 .5 1.2 .5 0 4.4-1.2-.5-1.2-.4-1.2-.5-1.1-.5-1.1-.5-1-.5z"/><path class="ww" d="M1410.3 1542.2l7.4-1.9 7.5-1.9 7.5-1.9 7.4-1.8 0 1.2-7.4 1.8-7.5 1.7-7.5 1.8-7.4 1.8z"/><path class="j21" d="M1152.2 1531l0-1-1.2-1.4-1.4 .3 0 1.1"/><path class="j21" d="M1461.5 1531.7l0-1-1.4-1-1.3-.1 0 1"/><path class="j20" d="M1108.7 1531l0-1.1-.5-.3-.2 1.1"/><path class="j25" d="M1526.9 1534.3l0-1-3-3.1-3.4-5.9-.7 .1-2.3 1.9-2.1 .6-2.7-.2-3.7-1.2-3.7-1.8-2.8-1.9-5.2-6.9-3.5 3.1-2.7 .6 0 1.1"/><path class="j21" d="M1458.8 1532.2l0-1.1-1.2-.8-1.1-.1 0 1.1"/><path class="j21" d="M1324.7 1532.2l0-1-.9-.8-.9-.1 0 1.2"/><path class="j23" d="M1523.5 1534.5l0-1.1-5.5-5.7-5.1 .6-6.4-1.8-6.4-3.4-5.3-4.8-3 1-2.5 .2 0 1.1"/><path class="j25" d="M1165.3 1539.6l0-1.1-.9-1.1-1.4 .1-3.4-1.9-1.6-2.8-1.2 1-3.2-1.9-1.6-4-1.4 2.2-3.2-1.5-1.4-4.2-1.6 3-3.2-1.3-1.4-3.4-1.3 2.8-3.3-.6-1.3-2.3-1.7 1.7-3.2-.8-1.6-1.4-.9 .5 0 1.2"/><path class="j21" d="M1456.3 1532.8l0-1-1.1-.9-1.2-.1 0 1.1"/><path class="ww" d="M1096.2 1521.9l1.1 .8 1.2 .8 1.2 .8 1.3 .7 1.3 .8 1.3 .8 0 7.8-1.3-.7-1.3-.8-1.3-.7-1.2-.7-1.2-.8-1.1-.7z"/><path class="j22" d="M1519.9 1534.6l0-1-4.4-4-3 .1-4.6-1 0 1.1"/><path class="j30" d="M1150.6 1552.8l0-1-.9-1-2.5-.6-4.4-3-2.3-5.3-1.1 1.3-.7 .1-4.4-4.3-2.1-8.1-1.3 5.8-1 1-3.9-.3-1.8-5-1.4 3.7-.7 .6-4.1-1.2-1.8-4.6-1.7 2.8-.9 0-3.9-2.4-1.6-5.8-.4 .2-1.4 3.2-4.4-3.4-2.1-9.2-1.3 6.1-.7 1-4.4 .8-1.8-3.2-2.1 4-4.6-.3-2.3-1.6-1.4 .4 0 1.1"/><path class="j21" d="M1150.9 1535.3l0-1.1-1.1-1.4-1.4 .3-3.2-1.3-1.7-1.9-1.8 .4-3-1.1-1.6-1.6-1.4 .5 0 1"/><path class="j21" d="M1453.8 1533.4l0-1-1.1-.8-1.2-.2 0 1.1"/><path class="ww" d="M1463.1 1544l7.5-1.9 7.5-1.8 7.4-1.9 7.5-1.9 0 1.6-7.5 1.8-7.4 1.8-7.5 1.8-7.5 1.7z"/><path class="j21" d="M1516 1534.7l0-1.1-3-2.7-2.5 0-3-.7 0 1"/><path class="j20" d="M1141.1 1532.9l0-1.1-.3 1"/><path class="j21" d="M1451.3 1534l0-1-1.1-.8-1.2-.2 0 1.1"/><path class="ww" d="M1148.2 1527.5l1.2 .5 1.2 .5 1.3 .4 1.3 .5 1.4 .5 1.3 .4 0 4.4-1.3-.5-1.4-.4-1.3-.5-1.3-.4-1.2-.5-1.2-.5z"/><path class="j21" d="M1512.6 1534.9l0-1.1-2.1-1.9-3.9-.5 0 1"/><path class="j21" d="M1448.6 1534.5l0-1.1-.9-.6-.9-.1 0 1.1"/><path class="j21" d="M1091.9 1533.8l0-1.1-.4-.3-.5-.1 0 1.1"/><path class="j21" d="M1318.9 1534.7l0-1.2-1.2-1.3-1.6 .3 0 1"/><path class="j21" d="M1509.9 1535.4l0-1.1-1.9-1.7-2.7-.1 0 1"/><path class="j21" d="M1446.1 1535.1l0-1.1-.9-.6-.9-.1 0 1.1"/><path class="j21" d="M1165 1534.6l0-1.1-.5-.3-.2 1.1"/><path class="j21" d="M1114.2 1534.8l0-1-.9-.8-.9 0 0 1.1"/><path class="j21" d="M1507.1 1535.9l0-1.1-1.6-1.5-2.3-.1 0 1.1"/><path class="j20" d="M1316.1 1535.2l0-1.1-.6-.4-.5 0 0 1"/><path class="j21" d="M1443.6 1535.7l0-1-.9-.6-.9-.2 0 1"/><path class="j21" d="M1504.6 1536.5l0-1.1-1.6-1.4-2-.1 0 1.1"/><path class="j21" d="M1313.9 1535.8l0-1.1-.7-.4-.5 0 0 1.1"/><path class="j21" d="M1440.9 1536.2l0-1.1-.7-.4-.9-.2 0 1"/><path class="j21" d="M1366.9 1536.6l0-1.2-1.1-.9-1.2 .1 0 1"/><path class="ww" d="M1155.9 1530.3l1.4 .5 1.4 .4 1.4 .4 1.5 .5 1.5 .4 1.5 .4 0 4.3-1.5-.4-1.5-.4-1.5-.5-1.4-.4-1.4-.4-1.4-.4z"/><path class="j21" d="M1501.9 1537l0-1.2-1.4-1.2-2-.1 0 1.1"/><path class="j21" d="M1312.8 1537l0-1.1-1.9-2.2-1.8 .7 0 1.1"/><path class="j21" d="M1438.4 1536.8l0-1.1-.7-.4-.7-.2 0 1.1"/><path class="ww" d="M1305.3 1536.3l1.5-.4 1.5-.3 1.5-.3 1.4-.4 1.5-.4 1.4-.3 0 1.2-1.4 .4-1.5 .4-1.4 .4-1.5 .4-1.5 .4-1.5 .4z"/><path class="j21" d="M1499.4 1537.5l0-1-1.3-1.2-1.9-.1 0 1"/><path class="j21" d="M1364.2 1537.1l0-1.1-.7-.4-.7-.2 0 1.1"/><path class="ww" d="M1103.6 1526.6l1.4 .7 1.4 .8 1.5 .7 1.5 .8 1.5 .7 1.6 .7 0 7.6-1.6-.7-1.5-.7-1.5-.7-1.5-.7-1.4-.7-1.4-.7z"/><path class="j20" d="M1435.7 1537.3l0-1.1-.5-.3-.7-.1 0 1"/><path class="j21" d="M1309.6 1537.3l0-1-.9-.8-.9 0 0 1.1"/><path class="j21" d="M1496.9 1538.1l0-1-1.3-1.2-1.9-.1 0 1"/><path class="j20" d="M1433.2 1537.9l0-1.1-.5-.2-.4-.2 0 1.1"/><path class="j21" d="M1101.6 1537.7l0-1-1.4-1.3-1.4 .1 0 1.1"/><path class="j21" d="M1307.1 1537.9l0-1.2-.9-.7-.9 .1 0 1"/><path class="j21" d="M1156.4 1537.5l0-1.1-.4-.4-.7 0 0 1.1"/><path class="j20" d="M1362.4 1537.9l0-1-.4-.3-.5-.1 0 1.1"/><path class="j21" d="M1494.5 1538.7l0-1-1.4-1.2-1.6-.1 0 1.1"/><path class="j24" d="M1179.3 1542l0-1-3.5-2.8-1.1-3.7-.5 0-.9 1.3-3.4-1.7-1.4-3.4-1.2 3-.7 .4-2.9-.4-1.2-1.8-1.4 1.2-2.7-.8-1.9-1.7-.9 .6-1.4-.4 0 1"/><path class="j21" d="M1121.6 1537.8l0-1.1-.5-.4-.7 0 0 1"/><path class="j20" d="M1430.5 1538.4l-.2-1.2-.5-.2 0 1.1"/><path class="j22" d="M1306 1539l0-1-2.3-3-2.1 1.1 0 1.2"/><path class="ww" d="M1164.6 1532.9l1.5 .4 1.5 .4 1.6 .4 1.6 .3 1.6 .4 1.6 .4 0 4.1-1.6-.3-1.6-.4-1.6-.3-1.6-.4-1.5-.4-1.5-.3z"/><path class="j21" d="M1491.7 1539.2l0-1.1-1.1-.9-1.6-.2 0 1.1"/><path class="j21" d="M1360.6 1538.8l0-1.1-.7-.4-.7-.1 0 1.1"/><path class="j20" d="M1428 1539l-.2-1.2-.3 1"/><path class="ww" d="M1295.8 1538.1l1.6-.3 1.6-.3 1.6-.3 1.6-.3 1.6-.3 1.5-.3 0 1.5-1.5 .3-1.6 .4-1.6 .4-1.6 .3-1.6 .3-1.6 .4z"/><path class="j21" d="M1302.4 1539.2l0-1.1-1.2-1-1.1 .1 0 1"/><path class="j21" d="M1489.2 1539.8l0-1.1-1.1-.9-1.6-.2 0 1.1"/><path class="j21" d="M1299.9 1539.8l0-1.2-1.2-1-1.1 .1 0 1.1"/><path class="j21" d="M1360.2 1540.2l0-1-1.8-1.9-1.7 .4 0 1.1"/><path class="j24" d="M1185.7 1543l0-1-1.6-1.4-1.2-3-.4-.1-1 .6-2-1.7-1.6-.6-1.4-2.9-1.4 3.2-3.2-.1-1.6-1.4-.9 .7 0 1.1"/><path class="j21" d="M1486.8 1540.4l0-1.1-1.2-.9-1.6-.1 0 1"/><path class="j29" d="M1140.3 1550.3l0-1.1-1.6-1.9-2.1-.1-4.5-3-2.1-4.6-1.2 1.5-.7 .2-4.1-3.2-.9-1.9-1.4-5.8-1.8 4.8-4.2-2.1-.7-1.2-1.3-6.7-1.4 5-.7 1.1-4.4-1.5-1.8-6.6-1.4 5.1-.7 1-4.3-.2-1.9-3.4-2 3.2-4.6-.7-2.1-1.7-1.4 .7-.9 0 0 1"/><path class="j22" d="M1298.3 1540.7l0-1.1-2.3-3.3-2.5 1.4 0 1.1"/><path class="j21" d="M1357.2 1540.7l0-1.1-1.3-1.3-1.6 .1 0 1"/><path class="ww" d="M1350.5 1540.5l1.8-.5 1.7-.6 1.7-.5 1.6-.6 1.6-.6 1.6-.6 0 1.2-1.6 .7-1.6 .7-1.6 .6-1.7 .7-1.7 .6-1.8 .6z"/><path class="ww" d="M1433.2 1551.5l7.5-1.9 7.5-1.8 7.5-1.9 7.4-1.9 0 1.2-7.4 1.8-7.5 1.8-7.5 1.8-7.5 1.7z"/><path class="j21" d="M1484.3 1541l0-1.1-1.2-.9-1.4-.1 0 1.1"/><path class="j21" d="M1294.9 1540.9l0-1-1.6-1.5-1.4 .3 0 1"/><path class="ww" d="M1174 1535.2l1.6 .3 1.7 .3 1.6 .4 1.7 .3 1.7 .3 1.8 .3 0 4.1-1.8-.3-1.7-.3-1.7-.3-1.6-.3-1.7-.3-1.6-.4z"/><path class="j23" d="M1129.8 1547.6l0-1.1-1.6-1.8-2.1 0-4.4-2.2-2.3-3.1-1.8 1-4.6-2.2-1.8-3.2-2.1 1.6-4.6-1.7-1.8-2.5-1.4 1.3-.7 .1-4.4-1.4-2-1.8-2.3 .5 0 1"/><path class="ww" d="M1285.6 1539.5l1.7-.2 1.8-.2 1.7-.3 1.7-.2 1.6-.3 1.7-.2 0 1.8-1.7 .3-1.6 .3-1.7 .3-1.7 .3-1.8 .3-1.7 .3z"/><path class="ww" d="M1112.5 1531l1.6 .7 1.6 .7 1.7 .7 1.7 .7 1.8 .6 1.8 .7 0 7.4-1.8-.7-1.8-.6-1.7-.6-1.7-.7-1.6-.6-1.6-.7z"/><path class="j21" d="M1481.8 1541.6l0-1-1.2-.9-1.4-.2 0 1.1"/><path class="j21" d="M1292.2 1541.4l0-1-1.6-1.6-1.4 .3 0 1.1"/><path class="j21" d="M1355.2 1541.4l0-1-1.1-1-1.2 0 0 1.1"/><path class="j20" d="M1195.9 1540.8l-.3-1.3-.4 0 0 1"/><path class="j21" d="M1110.3 1541.2l0-1-1.6-1.5-1.9 .1 0 1"/><path class="j21" d="M1129.6 1541.1l0-1.1-.9-.7-.7 0 0 1.1"/><path class="j25" d="M1192.3 1544.1l0-1.1-.9-1.5-1.9-.4-3.6-3.9-1.4-3.6-1.6 4-3 .1-1.8-1.2-.7 .5 0 1"/><path class="j22" d="M1289.9 1542.1l0-1.1-2.1-3.5-2.7 1.6 0 1.1"/><path class="j21" d="M1479.1 1542.1l0-1.1-1-.7-1.3-.2 0 1.1"/><path class="j21" d="M1353.2 1542.2l0-1.1-1.2-1-1.1 0 0 1.2"/><path class="j21" d="M1286.7 1542.4l0-1.1-1.6-1.7-1.8 .4 0 1"/><path class="j21" d="M1476.6 1542.7l0-1.1-1-.7-1.3-.2 0 1"/><path class="ww" d="M1184.1 1537.1l1.7 .3 1.8 .3 1.7 .3 1.8 .2 1.8 .3 1.8 .2 0 4-1.8-.2-1.8-.2-1.8-.3-1.7-.2-1.8-.3-1.7-.3z"/><path class="j21" d="M1283.8 1542.8l0-1.1-1.6-1.8-1.9 .5 0 1"/><path class="ww" d="M1274.9 1540.6l1.8-.2 1.8-.1 1.8-.2 1.8-.2 1.8-.2 1.7-.2 0 2.2-1.7 .2-1.8 .3-1.8 .2-1.8 .2-1.8 .3-1.8 .2z"/><path class="j21" d="M1352.1 1543.4l0-1.1-2.1-2.2-1.6 .6 0 1.2"/><path class="j22" d="M1281.3 1543.4l0-1-2.3-4.1-2.8 2 0 1.1"/><path class="j21" d="M1474.1 1543.3l0-1.1-.9-.7-1.2-.2 0 1.1"/><path class="j25" d="M1197.1 1544.5l0-1.1-3-3.1-1.6-5.4-1.4 3.2-3.4 .9-1.6-1.2-1 .7 0 1.1"/><path class="j21" d="M1278.3 1543.8l0-1-2.3-2.4-1.8 .7 0 1.1"/><path class="j21" d="M1181.8 1543.1l0-1.1-.7-.6-.9 0 0 1"/><path class="j22" d="M1349.4 1543.9l0-1.2-1.9-2.3-2.1 .8 0 1.1"/><path class="j21" d="M1471.6 1543.9l0-1.1-.9-.6-1.2-.2 0 1"/><path class="j22" d="M1202.6 1545.1l0-1.1-1.6-2.9-1.4-.1-2.1-2-2.1 .3-1.3-1.2-1 1.4-.9 .3 0 1.1"/><path class="ww" d="M1194.7 1538.7l1.9 .3 1.8 .2 1.8 .2 1.9 .2 1.9 .2 1.8 .2 0 3.9-1.8-.2-1.9-.1-1.9-.2-1.8-.2-1.8-.2-1.9-.3z"/><path class="j21" d="M1274.9 1544.1l0-1.2-1.8-2.1-2.1 .6 0 1.1"/><path class="ww" d="M1263.7 1541.3l1.9-.1 1.9-.1 1.8-.1 1.9-.1 1.8-.1 1.9-.2 0 2.5-1.9 .2-1.8 .2-1.9 .2-1.8 .1-1.9 .2-1.9 .2z"/><path class="j20" d="M1139 1543.3l-.2-1.1-.2 .9"/><path class="j25" d="M1207.4 1545.4l0-1-3.5-4-1.6-4.6-1.4 4.1-.9 .6-2.1 .1 0 1"/><path class="j23" d="M1272.2 1544.6l0-1.1-2.5-4.9-2.5 2.7 0 1.2"/><path class="ww" d="M1339.3 1543.6l1.9-.5 2-.5 1.9-.5 1.8-.5 1.8-.5 1.8-.6 0 1.7-1.8 .6-1.8 .7-1.8 .5-1.9 .6-2 .6-1.9 .6z"/><path class="j21" d="M1468.9 1544.4l0-1.2-.7-.4-1.2-.2 0 1"/><path class="j21" d="M1346.9 1544.5l0-1.2-1.4-1.3-1.4 .2 0 1.1"/><path class="j22" d="M1269.7 1545.1l0-1-3-2.9-2.3 .8 0 1"/><path class="j22" d="M1265.6 1545.1l0-1.1-2.3-2.7-2.3 .8 0 1.1"/><path class="j22" d="M1212.4 1545.9l0-1.1-1.6-3.2-1.4-.3-1.4-1.1-3 .8-1.6-.9-.9 .7 0 1.1"/><path class="ww" d="M1205.8 1540l1.9 .2 1.9 .1 1.9 .2 1.9 .1 1.9 .2 2 .1 0 3.8-2-.1-1.9-.1-1.9-.1-1.9-.2-1.9-.1-1.9-.2z"/><path class="j24" d="M1216.7 1546l0-1.1-3-3.5-1.6-4-.5 .2-1.1 3.4-.7 .6-1.1 .1 0 1.1"/><path class="j21" d="M1466.4 1545l0-1.1-.7-.5-.9-.2 0 1.1"/><path class="ww" d="M1122.7 1535.1l1.8 .6 1.9 .6 1.9 .6 1.9 .7 2 .6 2 .5 0 7.3-2-.6-2-.6-1.9-.5-1.9-.6-1.9-.6-1.8-.6z"/><path class="j21" d="M1118.3 1544.5l0-1-1.1-1.1-1.4 0 0 1.1"/><path class="ww" d="M1252.3 1541.7l1.9 0 1.9-.1 1.9 0 1.9-.1 1.9-.1 1.9-.1 0 2.9-1.9 .1-1.9 .1-1.9 .2-1.9 .1-1.9 .1-1.9 .1z"/><path class="j24" d="M1262.7 1545.5l0-1-2.8-6-1.6 3-.9 .8 0 1"/><path class="j21" d="M1344.8 1545.2l0-1-1.6-1.7-1.4 .4 0 1.1"/><path class="j22" d="M1260.2 1546.1l0-1.1-1.6-1.1-1.9-2.3-2.5 .9 0 1.1"/><path class="j22" d="M1222 1546.6l0-1.1-1.4-2.2-3.2-2.4-3 1-1.9-.7-.4 .2 0 1.1"/><path class="j22" d="M1255.6 1545.8l0-1.1-2.5-3.1-3.9 .5 0 1.1"/><path class="ww" d="M1217.3 1540.9l1.9 .1 1.9 .1 2 .1 1.9 .1 1.9 .1 2 0 0 3.7-2 0-1.9-.1-1.9 0-2-.1-1.9-.1-1.9-.1z"/><path class="j23" d="M1245.2 1546.4l0-1.1-3.9-5.4-2.3 2.8 0 1.2"/><path class="j24" d="M1225.6 1546.4l0-1-2.5-3.1-1.6-4.8-1.7 4.1-.6 .6-1.2 .1 0 1.1"/><path class="j21" d="M1463.9 1545.5l0-1-.7-.5-.9-.2 0 1.1"/><path class="ww" d="M1240.6 1541.7l1.9 0 2 0 1.9 0 2 0 1.9 0 2 0 0 3.2-2 .1-1.9 0-2 .1-1.9 0-2 .1-1.9 0z"/><path class="ww" d="M1228.9 1541.4l1.9 .1 2 0 1.9 0 2 .1 2 0 1.9 .1 0 3.5-1.9 0-2 0-2 0-1.9 0-2 0-1.9-.1z"/><path class="j22" d="M1249 1546.4l0-1.1-3.2-3.6-2.7 1.1 0 1.1"/><path class="j21" d="M1343 1546.1l0-1-2-2.3-1.6 .7 0 1.1"/><path class="j24" d="M1252.4 1546.1l0-1.1-2.5-5.8-1.6 2.8-1.4 .8 0 1.1"/><path class="j22" d="M1231.3 1547.2l0-1.1-2.8-1.9-2.3-2.9-2.5 1-2.1-.6-.4 .2 0 1.1"/><path class="j22" d="M1237.7 1546.5l0-1-3.3-4-1.6 .5-1.8-.2-.9 .6 0 1.1"/><path class="j25" d="M1233.8 1546.6l0-1.1-1.4-1.8-1.8-5.7-1.6 3.8-2.1 .9 0 1.1"/><path class="j21" d="M1461.4 1546.1l0-1-.7-.4-.9-.2 0 1"/><path class="j22" d="M1242 1546.7l0-1.2-2.5-3.7-1.4-.3-3 1.4 0 1"/><path class="j20" d="M1199.9 1545.6l0-1.1-.3 1"/><path class="j22" d="M1341.2 1547l0-1.1-2.5-4-2.8 1.8 0 1.1"/><path class="j20" d="M1458.7 1546.6l0-1-.5-.3-.7-.2 0 1.1"/><path class="j20" d="M1209.9 1546.5l-.2-1.2-.3 1"/><path class="j21" d="M1338.1 1547.3l0-1.1-1.7-1.9-1.8 .5 0 1.1"/><path class="j20" d="M1456.2 1547.2l0-1-.5-.3-.7-.2 0 1.1"/><path class="ww" d="M1326.9 1546.2l2.2-.4 2.1-.4 2-.4 2.1-.5 2-.5 2-.4 0 2.2-2 .5-2 .6-2.1 .5-2 .5-2.1 .5-2.2 .5z"/><path class="j21" d="M1335.8 1548l0-1.1-1.8-2.1-1.9 .6 0 1.1"/><path class="j20" d="M1453.5 1547.7l-.3-1.2-.4-.1 0 1"/><path class="ww" d="M1134.2 1538.7l2 .6 2 .6 2.1 .5 2.1 .6 2.2 .5 2.1 .5 0 7.1-2.1-.5-2.2-.5-2.1-.5-2.1-.5-2-.6-2-.5z"/><path class="j21" d="M1333.5 1548.7l0-1.1-2-2.4-1.9 .8 0 1.1"/><path class="j20" d="M1126.2 1547.7l0-1-.5-.3-.2 1"/><path class="j20" d="M1451 1548.3l-.3-1.1-.2 .9"/><path class="j23" d="M1332.2 1549.7l0-1.1-3.2-5.4-1.9 2.3-1.3 .6 0 1"/><path class="j20" d="M1158.7 1548.1l0-1-.2 .9"/><path class="j22" d="M1328.6 1549.8l0-1.1-2.1-2.5-1.9 .9 0 1.1"/><path class="j22" d="M1326.1 1550.4l0-1-2.1-2.6-2.1 .9 0 1"/><path class="ww" d="M1313.5 1548.4l2.3-.3 2.3-.3 2.2-.4 2.3-.4 2.2-.4 2.1-.4 0 2.7-2.1 .5-2.2 .5-2.3 .5-2.2 .4-2.3 .4-2.3 .5z"/><path class="j22" d="M1323.6 1551l0-1-2.1-2.7-2.3 .9 0 1"/><path class="ww" d="M1146.7 1542l2.2 .5 2.2 .5 2.3 .5 2.2 .5 2.3 .4 2.4 .5 0 6.9-2.4-.4-2.3-.4-2.2-.5-2.3-.4-2.2-.5-2.2-.5z"/><path class="j23" d="M1321.8 1551.9l0-1.1-3-5.6-2.1 2.4-1.4 .6 0 1.1"/><path class="j20" d="M1136.9 1550.5l-.2-1.2-.5-.1 0 1"/><path class="j29" d="M1163.4 1554.8l0-1.1-1.1-1.4-2.8-.9-4.1-4.7-2.3-9.7-1.9 5.8-2.9 1.5-1.9 .2-1.6-2.2-2.1 2.2-4.1-1-2.1-1.7-1.3 .5 0 1"/><path class="j22" d="M1318.8 1552.3l0-1.1-2.7-3.6-2.3 1.6 0 1"/><path class="j22" d="M1315.6 1552.6l0-1.1-2.3-3.1-2.3 1.3 0 1"/><path class="j22" d="M1312.9 1553.1l0-1.1-2.3-3.2-2.3 1.3 0 1.1"/><path class="j21" d="M1181.6 1552.6l0-1.1-1.2-.7-.7-.1 0 1.2"/><path class="j23" d="M1310.7 1553.8l0-1-3-5.3-2.1 2.1-1.6 .4 0 1.1"/><path class="ww" d="M1299.3 1550.1l2.4-.2 2.4-.3 2.4-.2 2.4-.3 2.3-.3 2.3-.4 0 3.3-2.3 .4-2.3 .4-2.4 .4-2.4 .3-2.4 .4-2.4 .3z"/><path class="j28" d="M1176 1556.7l0-1-1.2-1.4-2.7-1.1-3-3.8-1.8-3.2-1.9-6.6-1.4 6-.9 1.9-1.6 .7-2.3 0-2.5-1.5-1.4 .6 0 1"/><path class="ww" d="M1160.3 1544.9l2.3 .4 2.4 .4 2.4 .4 2.4 .4 2.4 .4 2.4 .4 0 6.8-2.4-.4-2.4-.3-2.4-.4-2.4-.4-2.4-.4-2.3-.4z"/><path class="j23" d="M1308.9 1554.7l0-1.1-1.6-1.7-2.1-3.7-2.8 2.7 0 1.1"/><path class="j24" d="M1168.7 1555.4l0-1.1-3.2-2.7-2.1-5.6-1.4 .9-2.8-2.3-2.5 .9-1.6-2.3-2.1 3.5-4.3-.6-2.1-1.6-1.1 .4 0 1"/><path class="j22" d="M1304.8 1554.6l0-1.1-2.6-3.6-2.7 1.5 0 1"/><path class="j22" d="M1301.8 1555l0-1.1-2.5-3.7-2.8 1.6 0 1"/><path class="j23" d="M1299.1 1555.5l0-1-3-5.1-2.3 1.8-1.8 .4 0 1"/><path class="j28" d="M1188.1 1558.5l-.2-1.3-3.5-1.7-3-3.4-2-4.1-1.7-6.1-1.8 6.9-.7 1.1-1.6 .6-2.1-.1-3.2-1.4-.4 .1 0 1.1"/><path class="ww" d="M1284.4 1551.4l2.5-.2 2.5-.2 2.5-.2 2.5-.2 2.5-.2 2.4-.3 0 3.8-2.4 .4-2.5 .3-2.5 .3-2.5 .3-2.5 .3-2.5 .3z"/><path class="j24" d="M1297.5 1556.5l0-1.1-1.8-2.3-2.3-4.9-1.9 3.4-1.1 .8 0 1.2"/><path class="ww" d="M1174.6 1547.3l2.5 .3 2.5 .4 2.5 .3 2.5 .3 2.5 .3 2.6 .3 0 6.7-2.6-.3-2.5-.3-2.5-.3-2.5-.3-2.5-.3-2.5-.3z"/><path class="j22" d="M1293.2 1556.3l0-1-3-4.4-2.7 1.9 0 1.2"/><path class="j25" d="M1180.3 1556.9l0-1-2.5-2.3-2.3-5.9-1.2 .6-2-1.4-3.5 2.1-1.8-1.4-1.6 1.6-1.6-.1 0 1.1"/><path class="j24" d="M1190.8 1558l0-1.1-2.5-4.4-1.9-.8-2.3-3.2-.6 .1-2.6 2.1-2-1-1.4 1.3-.9 .1 0 1.1"/><path class="j23" d="M1290 1556.6l0-1.1-2.7-4.3-3 2 0 1.1"/><path class="j23" d="M1287.1 1557l0-1-3.3-5.5-2.2 1.8-2.1 .5 0 1.1"/><path class="j29" d="M1195.8 1558.4l0-1-2.5-2.3-1.6-2.8-2.1-9.7-2.3 8-2 1.4-2.8-.1 0 1.1"/><path class="j25" d="M1285 1557.8l0-1-1.6-2.4-2.3-6-2 4.3-1.4 1 0 1.1"/><path class="ww" d="M1268.9 1552.1l2.6-.1 2.6-.1 2.6-.1 2.6-.1 2.6-.2 2.5-.1 0 4.4-2.5 .2-2.6 .2-2.6 .3-2.6 .2-2.6 .2-2.6 .2z"/><path class="j23" d="M1281.2 1557.8l0-1-1.4-1.4-2.1-3.6-3.2 2.2 0 1.1"/><path class="j24" d="M1202.2 1559.4l0-1.1-.9-1-3.2-2-3.5-5.6-2 1.1-1.6-.7-1.6 2.3-1.2 .2 0 1.1"/><path class="ww" d="M1189.7 1549.2l2.5 .3 2.6 .2 2.6 .3 2.6 .2 2.6 .2 2.6 .2 0 6.5-2.6-.1-2.6-.2-2.6-.2-2.6-.3-2.6-.2-2.5-.2z"/><path class="j23" d="M1277.5 1558l0-1.1-3.2-5-2.1 1.9-1.1 .4 0 1.1"/><path class="j24" d="M1274.3 1558.3l0-1.1-1.3-1.7-2.3-4.8-2.8 2.5-1.6 .8 0 1"/><path class="j27" d="M1210 1559.3l0-1-2.1-1.9-1.6-2.7-2.8-7.6-.7 1-1.6 5.7-.9 .8-1.8 0 0 1.1"/><path class="j25" d="M1271.9 1558.9l0-1.1-1.4-2.2-2.5-6.5-1.9 4.2-.9 1-1.2 .4 0 1"/><path class="ww" d="M1253.1 1552.3l2.7 0 2.6 0 2.7 0 2.6-.1 2.6 0 2.6-.1 0 5-2.6 .1-2.6 .2-2.6 .1-2.7 .2-2.6 .1-2.7 .1z"/><path class="j23" d="M1268.5 1559.1l0-1.1-1.9-1.6-2.3-4.2-.7 .3-1.6 1.9-1.4 .4 0 1.1"/><path class="ww" d="M1205.2 1550.6l2.6 .2 2.7 .2 2.6 .1 2.7 .2 2.6 .1 2.7 .1 0 6.4-2.7-.1-2.6-.1-2.7-.1-2.6-.2-2.7-.1-2.6-.2z"/><path class="j24" d="M1215.9 1560.1l0-1.1-3.7-2.7-3.2-5.4-2.8 2.5-2.3-.6-1.3 .7 0 1.2"/><path class="j26" d="M1222.9 1559.8l0-1-2.5-2.9-3.4-7.5-.7 .6-1.9 4.9-1.6 .7 0 1.1"/><path class="j23" d="M1264.4 1559l0-1-3.7-5.8-2.6 2.4-2.9-.4 0 1.1"/><path class="j25" d="M1205.4 1559.1l0-1-1.8-2.2-2.3-6.5-2.1 .7-3.2 2.9-1.9 .2-2.3-1.1-.6 .1 0 1.1"/><path class="j25" d="M1260.9 1559.2l0-1-2-3-2.1-6.2-.7 .6-1.8 4.2-1.4 1.1 0 1.1"/><path class="ww" d="M1237.1 1552l2.7 .1 2.7 .1 2.6 0 2.7 .1 2.7 0 2.6 0 0 5.6-2.6 0-2.7 .1-2.7 .1-2.6 0-2.7 0-2.7 0z"/><path class="j27" d="M1235.2 1560l0-1-1.8-1.9-1.1-2.2-2.3-7.4-2.3 6.4-.7 .9-1.2 .3 0 1.1"/><path class="ww" d="M1221.1 1551.5l2.6 .1 2.7 .1 2.7 .1 2.7 .1 2.6 0 2.7 .1 0 6.1-2.7 0-2.6 0-2.7 0-2.7-.1-2.7 0-2.6-.1z"/><path class="j24" d="M1229.1 1560.7l0-1.1-3.9-2.7-3-5.3-2.7 2.7-3-.4-.9 .3 0 1"/><path class="j23" d="M1254.4 1559.8l0-1.1-2.1-2-2.3-4.4-2.5 2.5-1.6 .4 0 1.1"/><path class="j24" d="M1250.3 1559.7l0-1.1-1.7-1.8-2.5-4.6-1.8 1.3-3.5 1.3 0 1.1"/><path class="j24" d="M1258.2 1559.7l0-1.1-4.1-7.5-.7 .4-1.8 2.9-1.9 .8 0 1.1"/><path class="j24" d="M1239.1 1560l0-1.1-1.8-1.9-2.8-5.1-2.3 2.5-3.9 .1 0 1.1"/><path class="j26" d="M1218.6 1559.7l0-1.1-1.8-2.9-2.1-6.8-.7 .3-2.7 4.2-1.4 .8-1.9 .1 0 1"/><path class="j28" d="M1246.6 1559.8l0-1-2.1-3.3-2-9.3-2.1 7.3-.9 1.4-1.4 .4 0 1.1"/><path class="j24" d="M1244.1 1560.4l0-1-3.7-4.4-1.8-2.9-.7 .2-2 2.5-1.9 .4 0 1.1"/><path class="j25" d="M1231.4 1560l0-1.1-3.9-7.9-1.2 .3-2.5 3.2-2.3 .5 0 1"/>
</g>
<path d="M883.2 1359.6L883.2 1631.1L1189.6 1755.8L1588 1661.2M883.2 1631.1l-8.8 -3.6M883.2 1495.3l-8.8 -3.6M883.2 1359.6l-8.8 -3.6M883.2 1631.1l-8.3 2M959.8 1662.3l-8.3 2M1036.4 1693.5l-8.3 2M1113 1724.6l-8.3 2M1189.6 1755.8l-8.3 2M1189.6 1755.8l8.8 3.6M1289.2 1732.2l8.8 3.6M1388.8 1708.5l8.8 3.6M1488.4 1684.8l8.8 3.6M1588 1661.2l8.8 3.6" stroke="#333" stroke-width="1.15" fill="none"/>
<text transform="matrix(1.08 0 0 1 867.7 1369.6)" class="t3" text-anchor="end">2</text>
<text transform="matrix(1.08 0 0 1 867.7 1505.3)" class="t3" text-anchor="end">0</text>
<text transform="matrix(1.08 0 0 1 867.7 1641.1)" class="t3" text-anchor="end">-2</text>
<text transform="matrix(1.08 0 0 1 867.2 1673.6)" class="t3" text-anchor="end">40</text>
<text transform="matrix(1.08 0 0 1 943.8 1704.8)" class="t3" text-anchor="end">20</text>
<text transform="matrix(1.08 0 0 1 1020.4 1736)" class="t3" text-anchor="end">0</text>
<text transform="matrix(1.08 0 0 1 1097 1767.1)" class="t3" text-anchor="end">-20</text>
<text transform="matrix(1.08 0 0 1 1173.6 1798.3)" class="t3" text-anchor="end">-40</text>
<text transform="matrix(1.08 0 0 1 1202.6 1798.3)" class="t3">-40</text>
<text transform="matrix(1.08 0 0 1 1302.2 1774.7)" class="t3">-20</text>
<text transform="matrix(1.08 0 0 1 1401.8 1751)" class="t3">0</text>
<text transform="matrix(1.08 0 0 1 1501.4 1727.3)" class="t3">20</text>
<text transform="matrix(1.08 0 0 1 1601 1703.7)" class="t3">40</text>
<text x="1166.2" y="1254.9" class="pl3" textLength="42.9" lengthAdjust="spacingAndGlyphs">(f)</text>
<text x="1233.8" y="1251.5" class="ti"><tspan font-style="italic">E</tspan></text>
<text x="1249.1" y="1256.0" class="tis" font-style="italic">f</text>
<text x="1266.5" y="1251.5" class="ti" textLength="92.4" lengthAdjust="spacingAndGlyphs">=0.3eV</text>
<text x="883.2" y="1323.1" class="x10" textLength="78.9" lengthAdjust="spacingAndGlyphs">x 10</text>
<text x="965.0" y="1285.5" class="m4" textLength="23.3" lengthAdjust="spacingAndGlyphs">-4</text>
<text x="974.2" y="1310" class="cm" textLength="44.7" lengthAdjust="spacingAndGlyphs">C/m</text>
<text x="1019.5" y="1298" class="sq">2</text>
</svg></body></html>
